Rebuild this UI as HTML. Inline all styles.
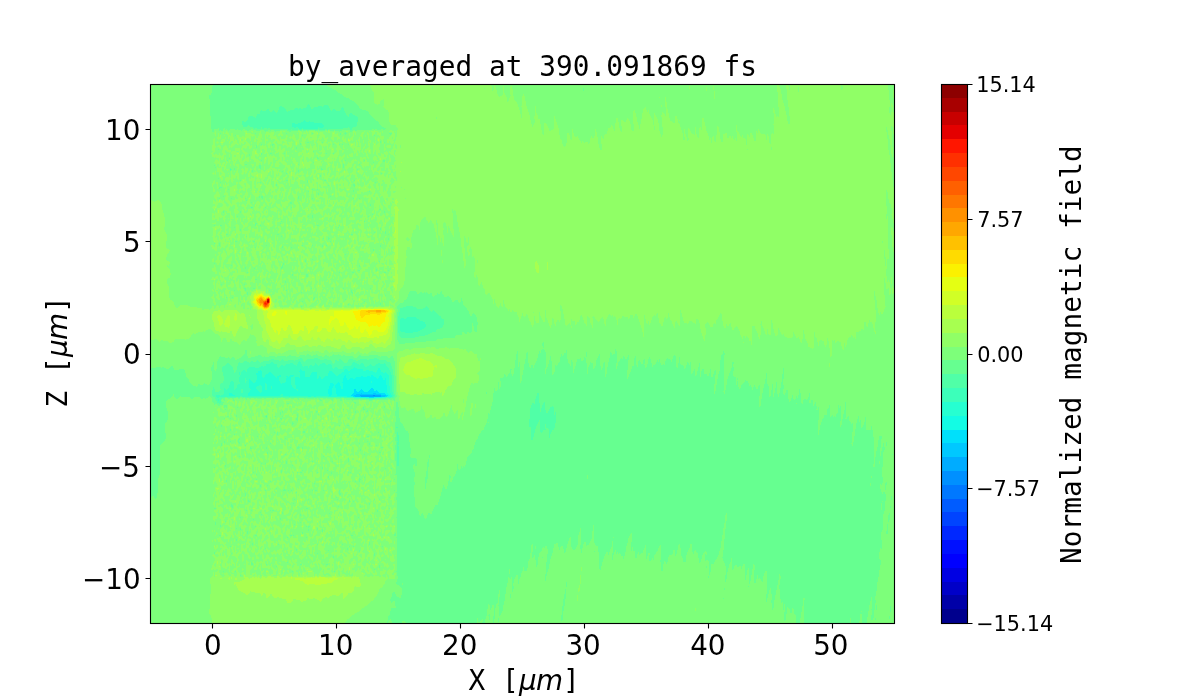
<!DOCTYPE html>
<html lang="en"><head><meta charset="utf-8"><title>by_averaged at 390.091869 fs</title>
<style>html,body{margin:0;padding:0;background:#fff;overflow:hidden}svg{display:block}</style></head>
<body>
<svg width="1200" height="700" viewBox="0 0 1200 700">
<rect width="1200" height="700" fill="#fff"/>
<g id="heat">
<rect x="150" y="84" width="744" height="539" fill="#7dff7a"/>
<g shape-rendering="crispEdges" fill-rule="evenodd">
<path fill="#90ff66" d="M211.9 623h47.1l.1-.1 .2 .1h84.8l1.8-1.5 .6-.7 .7-1 1.3-1.3 1.1-.8 1.3-1.1 .3-.3 .9-1 1.3-.7 .7-.6 .5-.3 1.2-.6 1.3-.6 1.2-.4 .5-.3 .8-.6 1.2-1.5 .1-.2 1.1-1 1.3-.5 1.2-.7v-.1l1.3-1.1 1.2-.9 .2-.2 1-.9 1.3-1.2 .1-.1 1.1-.9 1.3-.9 .5-.5 .7-.6 1.2-1.4 1.3-1.3 1-1.2 1.1-2.2 .4-1.2 .3-1 .8-2.3 1.3-1.3 1.3-.3 .5-.6 .7-.8 .7-1.5 .6-1 .5-1.2 .7-1.3 .7-1 .5-.2 1-2-.5-2.3-.5-1.1-.5 1.1-.7 1.8-1.2-.4-1.3 .1-1-1.5 1-1.4 1.3-.5 1.2-1.8 1-.8-1-1.7-1.2 .5-.9-1-.4-1.4-.3 1.4 .3 2.2-1.2 .4-.7-.4-.6-.3-.1 .3-.4 2.3 .5 1.3 .7 .9-.7 .8h-1.2l-1.2-.2-1.3-.2-1.2 .1-.5-.5 .5-.8 1.2 .6 .5-2-.5-1.1-.7-1.2-.5-1.6-.4 1.6-.9 1.6-1.2-.2-.8-1.4-.4-1.2-.7-1-.6-1.1-.7-1.1-.5-1.5-.7-.8-.6-.3-1.1-1.9 .6-2.3 .1-2.2 .4-1 1.3-.3 .9 1.3-.4 2.2 .7 1 1.3-1 1.1-2.2-.3-2.3 .4-.3 .7-1.9-.7-1.6-1.2-.7v-.7l-.1-1.5-1.2-.8-.5 .8-.7 .7-.7-.7 .7-1.7 .2-.6-.2-.2-1.2 .2-.1 .1v-.2l.3-2.1 .3-2.2 .7-1.5 .4-.8-.4-1-1.3-.9-.8 1.9-.4 1.1-.9 1.2 .9 1.9 .4 .3-.4 .8-.3 1.4 .3 .9 .5 1.4-.5 2.1-.3 .1 .3 .4 .3-.4 .9-.2 .1 .2 1.1 2.3-1.2 1.2-.8 1-.4 .6-.8 1.7 .6 2.2 .1 2.3-.8 2.2-.3 1-.7 1.3-.6 .8-.4-.8-.8-1.3-1.3-1-.5-2.2 .5-.7 1.3 .1 .5-1.7 .7-1.1 .9-1.1-.6-2.3-.1-2.2-.2-.1h-1.2l-1-2.2 1-1.2 .9-1-.7-2.3 .5-2.2-.7-.3-.6 .3 .3 2.2-1 1-.5-1-.7-1.2-.5 1.2 .5 1.7 .3 .6-.3 1-.2 1.2-1 1.7-1.3-.1-.2 .7-1 2.2 .9 2.3-.5 2.2 .8 1.6 .9-1.6 1.6-1.2 .6 1.2-.6 1.5-.8 .8-.4 .5-1.3-.1-.5 1.8 .5 1.1 1.3 .6 1.2-.9 .6 1.5-.6 2-.1 .2-1.1 1.6-.6-1.6-.7-1.4-.5 1.4-.7 1.3-.6 .9-.7 2.1-.6-2.1-.6-1.3-1.2 .4-1.3-.4-.6-.9 .6-.8h1.3l1.2-1.4 1.2-2.2 .1-.1 .5-2.2-.6-1.3-.6-1-.6-.9-1.2 .3-.3 .6-1 1.3-.7 1-.5 1.3-1.3 .5-1-1.8 .9-2.3 .1-.2 1.3-1.5 1.2-.2 .3-.3 .8-2.3v-2.2l.2-.2 .2 .2 .1 2.2 .9 .7 .9-.7 .3-.3 .8-1.9 .1-2.3-.9-1.1-.1 1.1-1.1 1.4-.4-1.4 .4-1.3 1-.9-1-1.5-1.2 .2-1.3-.6-.5 1.9-.1 2.2-.6 .4-.7-.4 .1-2.2-.7-.7-.4 .7-.8 2.1-.1 .1 .1 1.2 1.2 .4 .1 .7-.1 .5-1.2-.3-.2-.2-1-.8-1.3-.2-.6-1.3-.4-2.2-.2-.4-.4 .4-.9 .8-.5 1.4 .5 1.9 1.3-.4 .5 .8 .7 .5 1.3 1.7-1.3 1.9-1.2-1.1-.3-.8-1-1.8-.4-.4-.8-.6-1.2 .6 1.2 1.6 .2 .6 .3 2.3 .7 1.4 .5 .8v2.3l-.5 .7-1.2-.3-1.2 1.3-1-1.7-.3-.9-1.2-.6-1.3 .9-1.2-1.7v-.2l-.1 .2-.1 2.3 .2 .3 .7 1.9 .5 1.5 .8 .8-.6 2.2-.2 .8-1.2 .4-.3 1-.9 1.7-1.3-1-1.2 1.5-1.3-1.7-.5-.5 .5-.4 .9-1.8 .4-2.1 .5 2.1 .7 1.5 1-1.5-.3-2.2-.3-2.3-.4-1.3-.6-.9 .6-.6 1-1.7-1-.8-1.1-1.4-.1-1-1.3 .7-.2 .3-1 1.1-.8 1.1-.4 1.4-.3 .9 .3 .6 1.2-.2 .6 1.8-.6 1.4-1.2-.6-1.3 1-.7 .5-.5 .6-.4-.6-.9-1.5-1.2 .4-1.2-.5-.5-.7-.8-1.6-.1-.6 .1-1.9v-.4l-1.2-.3-1.3-.7-.9 1-.3 .9-.6-.9 .6-1.1 .3-1.1 .8-2.3-1.1-.5-.4 .5-.5 2.3-.3 .6-.4 1.6-.9 1.6-1.2-.1-.9 .8v2.2l-.4 .3-.1-.3-1.1-1.8-1.2 1.7-.1 .1 .1 .2 .6 2.1 .6 1.2 1.2 .2 1-1.4 .3-.9 .3 .9 .9 .9 .9-.9-.9-1.1-.8-1.2 .8-1.3 1.3-.4 .8 1.7 .4 .7 .3 1.6 .8 2.2 .1 1.5 .1-1.5 1.1-2.2-1.2-1.4-1-.9 1-1.5 1.3 1.2 .5 .3 .1 2.3 .6 .1 1 2.1-1 1.2-.6 1-.6 1.5-.8 .8-.5 1-1.1 1.2-.1 .1v-.1l-1-2.2-.2-.9-.5 .9-.5 2.2-.3 .2-.5-.2v-2.2l-.7-1.1-.5-1.2-.8-1.4-1.2-.3-1-.5-.2-.3-1.1-1.9-.2-.3h-1.2l-.2 .3-1.1 .8-.9-.8-.3-2.3h0l-1.2 1.4-1.1 .9 1.1 .4 1.2 .9 .2 .9 .9 2.2-1.1 1.5-1.2-1.5h-.4l-.9 1.2-.1 1.1-1.1 1.7-.7-1.7-.3-2.3-.3-.3-1.2-1.1-.1 1.4 .1 .2 1 2.1 .2 1.9 .4 .3-1.6 .4-.3-.4-.5-2.2-.4-1.2-1.3-.1-.4-1 .4-1.2 1.3-.1 1.1-.9 .1-.6 .2-1.6-.2-.9-1.2 .1-.7-1.5-.5-2.2 .9-2.3-1-1.4-1.2 .9-1 .5-.3 .2-.1-.2-.7-2.2-.4-.1v.1l-.7 2.2-.5 1.9-1-1.9-.3-.7-.7 .7-.2 2.3 .9 .6 .9 1.6-.8 2.3 .3 2.2 .9 1.2 1.2-.2 1.2 1 .2 .2-.1 2.3-.1 .1-.8 2.1-.4 .3-.2-.3-.6-2.2-.4-1.2-1.3 .4-1 .8-.2 .3-1.3 .6-1.2-.9h0l-1.2 1.9-.4 .3-.9 .5-.7-.5 .7-1.6 .2-.6 .6-2.3-.3-2.2-.5-.9-.6 .9-.6 2-.1 .2 .1 1.8 .1 .5-.1 .1-1.3 1.6-.6-1.7-.3-2.3 .9-1.4 .7-.8 .6-2 .1-.2-.1-.8-1.3-.6-1.1-.9 .5-2.2-.6-1.3-.8 1.3 .7 2.2-1.1 1.5-1.2-1.5-.1-.1-.5-2.1-.7-1.9-1.9 1.9 .6 .7 .6 1.5 .7 .6 .9 1.7 .3 1.3 .4 .9-.2 2.2 .1 2.3-.3 .6-1.1 1.6-.1 .4-1.3 .2h-1.2l-1.2-.6 1.2-1.2 1.2 .5 1.1-1.5-.1-2.3 1.1-2.2-.8-.6-.5 .6-.8 1.1-1.1-1.1-.1-.2-1.2-1.3-.3-.7-.9-2.3-.1-.6-.1 .6-1.1 2.3 1.2 2.1 1.3 1.3 .3 1-.3 2-.2 .3-1.1 .9-1.2 .2-1-1.1-.3-.6-.4-1.7-.8-.9-1.2-1.1-.9 2 .6 2.3 .3 2.2-1.3 .8-1.2-.6-.2-.2-1.1-1.3-.9-.9 .9-1.5 1.3 .2 .5-1-.5-1.6-1.3 .7-1.2 .5-.5-1.8 .1-2.2-.8-2-.9 2-.3 2.2 1.2 1.5 .9 .7-.1 2.3 .4 2.2-1.2 .8-.4-.8-.9-1.3-1 1.3-.2 .3-.7-.3-.6-.8-.2-1.4-1-1.4-1 1.4 1 2.2h.2l-.2 .1-1.2 .8-1.1-.9 .8-2.2-1-1.6-1 1.6-.2 .9-1.3 .5-.5-1.4 .3-2.3 .2-.7 1.2-1.5 .1-.1 1.2-1.1 .6-1-.6-.5-1.2-.1-1-1.7-.1-2.2-.2-.5-.4 .5-.1 2.2-.7 1.6-1-1.6 .5-2.2-.7-1.2-1.2-1.1-.1-.1-.1 .1-.7 2.3 .4 2.2-.1 2.3-.1 2.2v2.2l.4 2.3-1 1.3-1.2-1.3-.1-.1-1.1-2.2 .6-2.2-.7-1.7-1.2 .9-1 .8 1 .5 1 1.7-1 1.8-.5 .5 .5 1 1.2 .3 .4 .9-.4 1.2-1.2-.4-1.3 .5-.7-1.3 .2-2.2-.7-.8-1-1.5-.3-.2-.7-2 .7-2.1 1.3 .8 .6-.9-.3-2.3-.3-1.3-.2 1.3-1.1 2.2-1.1-2.2 1.1-2.2v-.2l1-2.1-1-2.1-.1-.1 .1-.2 .7-2.1 .6-1.1 1.2-.5 .5-.6 .8-1 .8-1.3 .4-.7 .6 .7 .6 1.1 1.3 1.2v.1l1.2 .5 1.2 1.6 .1 .2 .2 2.1 1 1.1 1.2-.7 .3-.4-.3-.9-.3-1.4-.9-1.2-.7-1-.5-.9-1.2-1.4-.1-2.2 1.3-1.1 .8 1.1 .4 2.1 1.2-1.3 .6-.8-.6-.8-1.2-.3-.4-1.2 .4-.9 1.1-1.3-1.1-1.4-.7-.8 .7-1.6 1.2 1 .6-1.7-.6-1.4-1.2 .8-1.1-1.6 1.1-1.7 1.2 .8 .8 .9 .5 .6 .8-.6 .4-.4 .5-1.9 .8-1.2 1.2-.1 1.1-.9v-2.3l.1-.2 1.1-2 .2-.5 .4 .5 .1 2.2-.5 1.5-.7 .8 .2 2.2 .5 1.1 1.2 .5 1-1.6 .3-.6 1.2-.7 .7 1.3-.1 2.3-.6 1.3-1.1 .9 1 2.3-1.1 .3-.5-.3 .3-2.3-1.1-1.3-.6 1.3-.1 2.3-.3 2.2 .8 2.2v2.3l-.8 2.2-1.5 1.5-1.2-.5-.5 1.3 .5 1.7 .2 .5 .4 2.3 .6 1 1.3 .8 1-1.8-1-1.2-.8-1.1 .8-.9 .9-1.3 .3-1.1 .4 1.1 .9 1.9 1.2-1.2 .5 1.5-.1 2.3 .8 1.6 .5 .6-.5 2.1-1.2-1-1.2-.4-1 1.6 1 1.9 1.2-1.2 .7 1.5-.3 2.3 .8 1.3 1.3-.5 1.2-.2 1.3 .7 1.2-.8 .9 1.7 .3 1.1 .6-1.1 .6-2.2-1.2-1.3-1.2-.3-1.2 1.3-.9-2-.4-1.6-.5-.6 .5-1.1 1.3 .2v.9l1.2 1.7 .6-1.7-.6-1.5-1-.8 1-1.8 1.2 1.4 .1 .4 .9 2.3 .3 .4 .5-.4 .7-.6 .5-1.7 .8-1.7 .7-.5-.7-1.1-1.3-.1-1.2 1.8-.6-.6-.7-2.2v-.1l-1.2-2.2-1.2 1.1-.7 1.1-.4 2.3-.2 .8-1.2 .4-.6-1.2 .2-2.3-.9-2.2-.6-2.3 .6-1 .8-1.2 .5-1.6 .2-.7-.2-.8-.3-1.4 .3-.9 1.2 .5 1-1.8 .3-1.8 1 1.8 .2 .6 .3 1.6 .3 2.2 .6 1.1 1.3 .3 .4-1.4 .1-2.2 .7-1.2 1.3-.2 .5 1.4 .5 2.2 .2 .3 .5-.3 .7-.9h1.3l.8-1.3 .4-2.2-1.2-.7-.4 .7-.9 1.5-1-1.5-.2-.8-1.2 .2-1.3-.6-1-1.1-.2-.4-.8-1.8 .8-2.1 .4-.2-.4-.2-1-2-.3-1.1-1.2 .5-1.2-1.7 1.2-1.8 1.2 1.4 .6-1.8 .7-1.4 1.2 .3 .6-1.2-.6-.6-.8-1.6-.4-1.1-.2-1.2 .2-1.6 1.2 1.5 1.3 .1 1.2-.8 1.2 .8v.4l.1-.4 .4-2.2-.5-1-.4-1.3 .4-1.6 1.3 .2 .4 1.4 .8 1.4 .9 .9 .4 1.8 .3-1.8v-2.3l-.3-1.3-1.3-.1-.8-.8 .1-2.2-.5-1.1-1.3-.4-1.2 .1-1.2 1.3-.6 .1-.7 .2-.8 2 .1 2.2-.5 2.1-.2 .2-1.1 .5-.9 1.7 .9 1.7 .9 .6-.6 2.2-.3 .5-1.2 .1-.2-.6-1-1.5-.9 1.5-.4 .4-1.2 .1-.4-.5-.9-.9-1.2-.7-.2-.6v-2.3l.2-1.3 .3 1.3 .9 1.4 .9-1.4-.9-1.2-.9-1-.3-1.6-.2-.7-1-1.1-.6-1.1-.7-.8-.6 .8 .2 2.2 .4 .5 1.3 .8 .8 1-.8 .5-1 1.7-.3 .9-.9 1.4-.3 .6-.2-.6-1.1-1.6-.9-.7-.3-.7-1.2 .1-1.3 .5-1.2-1.4-1.3 1.3v.2l-.5 2.3-.5 2.2-.2 .8-.6 1.5 .2 2.2 .4 1.2 .6-1.2 .6-1.9 .5 1.9-.3 2.3-.2 .2-1.2 1.5-1.2 .1-.3 .4 .2 2.3-.9 2.2-.3 1.3-.3 1-.6 2.2-.2 2.2-.1 1.4-.9 .9-.4 .2v-.2l-1.2-1.7-.4-.6v-2.2l-.8-.7-.3 .7-.5 2.2-.5 2.3 .5 2.2-.5 1.3-.7-1.3-.5-1.2-.4 1.2-.9 1.8-.5 .5-.7 .5-.4-.5 .2-2.3-.4-2.2v-2.3l-.6-.5-.5 .5 .3 2.3-.6 2.2-.5 1.2-.3-1.2-.9-1.8-.6-.4 .6-1.4 .5-.9-.5-1-.8-1.2 .2-2.2-.7-2.3h0l-.8 2.3 .6 2.2 .2 2.2-1.1 2.3 1.1 .7 .5 1.5 .5 2.3-.5 2.2 .8 1 1.2-.8 1.3 1.1 .6 1 .6 .7 .6 1.5-.6 1-.7 1.3 .4 2.2-.2 2.3-.7 .9-1.3 .5-.7 .8-.5 .5-1.3 1-.4 .7 .4 1.2 .9 1.1-.9 .9-.6-.9-.6-.6-.5 .6 .5 1.1 .4 1.1-.4 .7-1.2-.5-.3-.2-1-1.6-.3-.6-.9-1.4-1.3 .6-1.6 .8 .4 1 .2 1.2-.2 .3-1.2 .8-1.3-.7-.9-.4-.3-.1-.8-2.1-.5-1.3-.4-1 .4-1.7 1.3 .1 .5-.6 .4-2.2-.9-1.1-1.2-1.2 1.2-.7 .8-1.5-.6-2.3 1-1.5 .8 1.5 .2 2.3-1 2.2v.1l.2 2.2 1.1 1.4 1.2-.2 .9 1 .3 .4 .5-.4 .8-1 .5-1.2 .7-1.8 1.1 1.8-.9 2.2 .6 2.2 .5 1.2 .4-1.2 .8-2.1 .1-.1-.1-.2-1.1-2 1.1-2.3-1.2-2-1.3 1.6-.7-1.8 .3-2.3 .4-1.2 1-1 .3-1.3 .1-1 1.1-2.1v-.4l-.6-2 .5-2.2-1.1-1.9-1.1 1.9-.2 .1-.1-.1-1.1-2-.2-.3-1.1-1.8-.4-.4 .4-1 .4-1.2-.4-.5-.5 .5-.7 1-.8-1-.4-.6-1.3-.9-.5-.8-1.4-2.2-.6-.7-.7 .7-.5 .4-.6-.4-.6-.9-.6 .9 .6 .5 .5 1.7 .7 2.1 1.2-.5 .2 .7 1.1 1.7 1.2 .1 1.3-.5 .3 .9 .3 2.2-.6 .5-.2-.5-1.1-1.8-1.2 .6-.6 1.2 .6 2.2 1.2-.8 .7 .9-.7 .7-1.2-.6-.4 2.1-.9 .8-1.2-.5h-1.2l-1.3 1.3-.3 .7 .3 1.7 1.3-1 1.2 .7 .6 .8-.6 1.2-1.2 .4-1.3-1.1-.2-.5-1-.7-1.3-1.1-.8 1.8 .8 1.3 1 1 .3 .4 .5 1.8-.5 1.3-.5 1-.8 1.1-.6 1.1-.5 2.3-.1 .1-1 2.1 1 1.4 .8-1.4 .4-.9 .5 .9 .8 1.1 1.2-.3 .5-.8 .8-.4 1.2-.3 .6 .7-.6 .3-1 1.9-.2 .4-1.3 .4-.9 1.5-.2 2.2-.1 1.6-.3-1.6-.2-2.2-.8-2-.5 2-.1 2.2-.6 1.5-1.2 .1-1.2 .7-.1 2.2 .6 2.3 .6 2.2 .1 1v3.3l-.1 .2v2.3l-.2 2.2-.9 2.2 .3 2.3 .2 2.2v2.3l-.1 2.2-.2 2.3-.3 2v.2l-.6 2.3v2.2l.6 .4 1.3 .9 .4 1 .4 2.2 .1 2.3zM234.3 576.4l-.3-.6-.7-2.2 .8-2.3 .2-.7 1.3-.6 .8 1.3 .4 1.8 .5 .5-.5 1.1-.2 1.1-1 .9zM248 572.1l-.6-.8 .6-1.2 .6 1.2zM267.8 574.3l-.7-.7 .7-.6 .8 .6zM296.3 576l-.5-.2 .5-.8 .2 .8zM307.5 575.2l-1.3-1.6 1.3-1.3 .8 1.3zM310 576l-.7-.2 .7-.5 .6 .5zM322.4 575.9l-.4-.1 .4-.3 .6 .3zM324.8 576.3l-1.1-.5-.1-.7-.4-1.5-.8-2-.1-.3 .1-.3 1.2-1.8 .9 2.1-.3 2.3 .6 .5 .9-.5 .4-.3 1.2-.8 1.3 .3 .2 .8 1 1 1.2 .4 .5 .8-.5 .4-1.2 .4-1.2-.4-.6-.4-.7-1.2-1.2 .4-.1 .8zM339.7 576.3l-.5-.5-.7-.9-.9-1.3-.1-2.3 1-1.2 1 1.2v2.3l.2 .6 .8 1.6zM347.2 575.9l-.1-.1-1.2-.5-1.2-.8-1.3-.1-.9-.8-.3-.6-1.2-1.6-.2-.1 .2-.4 1.2-.5 .6-1.3 .6-1.5 .7 1.5 .2 2.2 .4 1.4 1.2-.2 .5-1.2 .8-2.1 .7 2.1 .5 2 1.1-2 .1-.1 .6 .1-.3 2.3 1 1.5 .9-1.5 .3-.8 .7 .8-.3 2.2-.4 .8-1.2-.3-1.3-.3-.6-.2-.6-1-1.1 1zM354.6 573.7l-.1-.1 .1-.1 .3 .1zM364.5 576.5l-.4-.7 .4-.9 .8-1.3-.8-.9-1.2-.1-1.3-.4-.8-.9 .8-1.8 1.3-.2 1.2 .6 .9 1.4 .4 1.2 1.2 .5 .3 .6 .9 .9 1.3-.3 .5-.6 .6-2.3h.1l1.2 2.3h.1l1.2 1.2 .8 1-.8 1-1.2-.2-1.3-.3-1.2 .3-1.3 .2-1.2 .1-1.1-1.1-.1-.2-.1 .2zM362 558.2l-.2-.3-1-.9-1.2-.5-.5-.9 .5-1 1.2-.7 1.2 1 .4 .7 .1 2.3zM354.6 563l-.4-.6 .4-.5 .2 .5zM350.9 556.7l-.5-1.1 .5-.2 .2 .2zM332.3 566.7l-.3-2.1 .3-.8 .4 .8zM292.6 568.2l-.7-1.3 .7-2 .2-.3-.2-1.4-.7-.8 .7-.4 .2 .4 1 .9 .9 1.3-.9 1.9-.1 .4zM248 545l-1-.6 1-1.2 .4 1.2zM254.2 531l-.1-.1-1.2-.8-1-1.4-.2-.4-.8-1.9 .1-2.2 .7-1.8 1.2 .4 .2 1.4 1.1 1.7 1.2-1.3 1.2 1.8-1.2 1.5-1 .8-.2 2.2zM259.1 527.2l-.3-.8 .3-.5 .6 .5zM260.4 531.5l-.5-.6 .5-1.5 .7 1.5zM260.4 550.6l-1-1.7 1-1.3 .8-1 .4-.8 1.6 .8-.4 .2-1.2 1.5-.1 .6zM270.3 542.6l-.5-.4 .5-1.3 .2 1.3zM272.8 518.7l-.6-1.3 .6-1.5 .7 1.5zM220.7 556.7l-.8-1.1 .6-2.2 .2-.9 .6 .9 .2 2.2zM225.6 566.5l-.5-1.9 .5-1.7 .8 1.7zM226.9 558.1l-.3-.2-.6-2.3-.4-.8-1.1-1.4-.1-1.2-.1 1.2-.4 2.2-.7 1.4-.7-1.4-.4-2.2 .8-2.3 .3-1 1.2 .9 1-2.1 .2-.5 .3 .5 1 .9 .6 1.3-.5 2.3 .8 2.2-.7 2.3zM215.7 567.3l-.1-.4-1.1-1.3-.4-1 .4-.9 1.2-.6 .8 1.5-.7 2.3zM327.3 570.4l-.5-1.3 .5-1.2 1.3 .6 1.2-.4 .4 1-.4 1.3-1.2-.3zM339.7 568.5l-1-1.6 1-2 1.3 2zM345.9 565.9l-1-1.3 1-1.6 .4 1.6zM348.4 567.6l-1.2-.7 1.2-.7 .2 .7zM368.2 572.1l-.4-.8-.8-.8-.7-1.4 .7-1.6 .9-.6 .3-1.1 .3 1.1-.3 .6-.3 1.6 .3 1 1 1.2zM262.8 543.3l-1.2-1.1 1.2-1.8 .5-.5 .8-.6 .8-1.6 .4-1 .8-1.3 .5-.7 1.2 .2 .2 .5 .7 2.3-.9 1.8-1.2-.2-.2 .6-1.1 .8-1.2 .3-.4 1.2zM345.9 560.8l-.1-.7 .1-.5 .1 .5zM264.1 535.5l-.1-.1 .1-2.1v-.1l-1.3-.3-1-2 1-2.1 1.3 .8 .7 1.3 .5 1.1 .6 1.2-.6 1.1zM706.6 618.5l.2 1.1 .1-1.1-.1-1.1zM695.6 611.8h0l.3-2.3-.3-2.1-.2 2.1zM716.7 609.5h0l.1-2.2-.1-1.1-.2 1.1zM577.4 600.5l.4 1.7 .5-1.7 .2-2.2-.1-2.3-.6-1.7-.4 1.7-.2 2.3zM696.8 599.4l.2-1.1-.2-.5zM578.5 591.6l.5 1.8 .5-1.8 .2-2.3 .1-2.2v-2.3l-.8-.2v.2l-.4 2.3-.2 2.2zM579.7 582.6l.6 2 .4-2 .2-2.3 .2-2.2-.2-2.3-.6-1.4-.3 1.4-.3 2.3zM389 578.1l.3 .3 1.3 .9 1.2-.3 1.2-.8 1.3 1 .8-1.1 .4-2.2v-.1l.1-2.2-.1-.3-1.2-.2-.3 .5-.7 2.2-.3 1.6-.3-1.6-.9-1.6-.3-.6 .3-.4 1.2-.7 .8-1.2 .5-1.3 .6-.9-.3-2.2 .3-2.3-.6-.5-1.3 .1-.1 .4 .1 .2 .8 2.1-.1 2.2-.7 .9-1.2 .3-1.2 .2-1.1-1.4-.2-2-.1 2-1.1 1.9-.7 .3 .1 2.3 .6 .7 .9 1.5zM221.5 573.6l.4 1.7 1-1.7-1-2.2zM287.1 571.3l.5 .6 1.3 1 .2-1.6-.2-1.6-1.3 .5zM581.5 571.3h0l.3-2.2-.2-2.2-.1-.4v.4l-.1 2.2zM253.7 569.1l.5 .8 1.2 .6 1.2-.3 .6-1.1-.1-2.2 .8-.7 .9-1.6v-2.2l-.9-1.8-1.3 .8-.6 1-.6 2.1-1-2.1 .1-2.3-.2-2.2-.1-.6-1.3-.5-.7 1.1-.5 1.8-.2 .4 .2 .3 .4-.3 .8-.5 .7 .5-.2 2.3 .3 2.2 .5 1.6 1.2-1.5 .8 2.2-.8 .7-1.2 .6zM301.5 569.1l1 2.1 .5-2.1-.5-2.1-1.2-.6-.5 .5 .5 1.5zM377.9 569.1l.3 .7 1.2-.3 .3-.4-.3-.1-1.2-.7zM231.7 566.9l.1 .1 .1-.1 .2-2.3 1-2 .5 2 .7 1.6 1-1.6-1-2.2h-.2l-1-.6-.5-1.7-.8-1.6-.5 1.6 .2 2.3-.8 2.2zM286.8 566.9l.8 1.8 1.3 .1 1.1-1.9-1.1-1.5-1.3-.2zM356.8 566.9l.3 .4 .4-.4-.4-.7zM373.5 566.9l.9 1 1.3-.1 1.2-.6 .3-.3 .7-2.3 .3-.4 .8-1.8-.8-2.1-.1-.2-1-2.2 1.1-1.7 .4 1.7 .8 .9 .7 1.3 .5 1.6 .6-1.6-.6-2.1v-.1l-.3-2.3-.9-1-.6-1.2 .1-2.3 .5-1.2 .4 1.2 .8 1.4 1.3-.3 .9-1.1-.9-1.9-.2-.3-1.1-1.5-.3-.8 .3-.7 .7-1.5-.7-1-.9 1-.3 .4-.6-.4-.6-.7-.8-1.5 .1-2.3 .7-1.2 1.2-.1 1.2 1 .3 .3 1 1.4 1.2-.4 .2-1 1.1-.7 1.2-.1 .5 .8 .7 1.2 1.3-.7 .6 1.8 .6 1.7 1.3-.6 1.2-.1 .4-1-.1-2.3-.3-.2-1.2-.1-.4-1.9-.9-1.3h-1.2l-1.3 .1-1-1.1 1-.9 1.1-1.3 .2-.7 1.2 .3 .9-1.9-.9-1.5-1.2 .5-1.3 .4-1.1 .6-.1 .2-.5 2.1 .3 2.2-1 .8-1.2-.8 .2-2.2 .4-2.3 .6-2.1v-.1l1.2-1.6 1.2 .7 1.3-1 .1-.4 .1-2.2-.2-.4-.1 .4-1.2 .8-1.2 .7-1.2 .6-1.3-1.3-1.1-.8 1.1-.8 .9-1.5-.5-2.2 .9-2.1 .1-.2 .6-2.2-.7-.4-1.3-1.2-.7-.6 .7-1.3 .6-1-.6-.6-1.2-.5-.9-1.1 .9-1.8 1.1-.5 .1-.1 .4 .1 .9 .4 .6-.4 .6-.1 .7-2.1-.7-1.6-1.2 .3-1.3 .2-1.2 .1-1.1 1-.2 .3-.6 1.9-.2 2.3-.4 1.6v.7l1.2 1.6 .4 .6 .7 2.2-1.1 1.8-1.2-.4-.5 .8 .4 2.3-1.1 .9-1.3 .1-1.2 1.2 1.2 .6 1.1 1.7 .2 .8 .2-.8 1-1.9 1.2 1.1 .8 .8-.8 .2-.8 2-.4 2.1-1.2-1.4-.7 1.6 .1 2.2-.7 2.1-1.1-2.1-.1-.7-1.3 .3-.5 .4-.7 .2-1.2 1-.9 1.1-.4 1.3-.9-1.3 .9-1.8 .1-.5-.1-.7-.1-1.5-.2-2.3-.9-1.4-1.3-.6-.2 2-1 1.6-1 .7-.2 .3-.3-.3 .3-.5 .3-1.8 .9-1.9 1.1-.3 .1-.3 1.3-1.2 1.1-.8-1.1-.5-1.3-.1-1.2 .5-.9-2.1 .9-1.6 1.2-.1 .2-.6-.2-1.6-.1-.6 .1-.3 .3 .3 1 .3 .2-.3 1-.9 .8 .9 .5 1.6 .4 .6 .4 2.3-.8 2.2v.4l-.6 1.9 .6 .6 .5-.6 .7-.8 .8-1.5 .4-1.7 .3-.5-.3-.4-.8-1.9 .4-2.2-.8-2.1-1.2 .9-.4-1 .4-1.2 1.2 1 1.2-.2 1-1.9v-2.2l-1-2.1-1.2 .9-.9-1.1 .9-1.9 .2-.3-.2-1.5-.9-.8 .9-.2 .5-2 .7-2 .9 2 .4 2.1 .1 .1-.1 .3-.3 2 .3 .7 .6 1.5-.2 2.3 .8 .7 .8-.7v-2.3l.5-.9 .4-1.3 .8-.8h1.2l.3-1.5-.3-.7-1.2-.4-.8-1.1-.4-1.3-.5-1-.8-1.1-.6-1.1 .6-1.2 1.3 .4 .5 .8 .3 2.2 .4 .4 .2-.4 1-1.4 1.3 .2 .5-1-.5-.8-1.3-.7-.3-.8v-2.2l.3-.3 .9-2-.8-2.2 1.2-.6h1.2l.9-1.6-.4-2.3-.5-.8-.4 .8-.8 .9-1.2-.9 .9-2.2 .3-2.1 .2-.2 1-.4 .7-1.8 .1-2.3 .5-1.5 .5 1.5 .3 2.3 .4 1.1 .2-1.1 .5-2.3-.7-1.4-.8-.8-.4-.6-.4 .6-.9 .9-1.2 .8-1.3-.9-.5-.8 .5-1.6 .4-.7 .9-2 1.2 1.2 1-1.4-.8-2.3 .7-2.2 .4-.6 .7-1.6-.1-2.3 .6-1.1 .5 1.1 .6 2.3-.4 2.2-.7 1.9-.1 .3 .1 .6 1.2 .8 .7-1.4-.4-2.2 1-1.7 .8-.5-.6-2.3-.2-1.1-.1-1.1-.9-2.3 1-1.6 1.2-.1 1.3-.3 .5 2-.4 2.3-.1 .7-.2 1.5 .2 .2 .7 2.1 .5 .9 1.2 .5 .8-1.4 .5-1.5 .2-.8-.2-.9-.8-1.3 .7-2.3-.9-2.2 .2-2.3-.5-.5-.9-1.7 .9-1.9 .2-.4-.2-1-1.2-.1-1.2 2.2-1.1 1.2 1.1 1.5 .7 .7 .5 1.4 .7 .9-.7 .2-.7-.2-.5-.6-1.3-.2-1.2-1.5-1-2.2 1-2.3 1.2-1.7 1.3 .4 .5-.9 .7-.9 1.2 .1 .4-1.5-.4-.4-1-1.8 .6-2.2 .4-1.5 1.3 .9 .2-1.7-.2-.9-.9-1.3-.4-2.2v-.1l-1.2-1.7-1.2 1-.7 .7 .7 .9 1.2 1.4 .8 2.2-.8 .9-1.2-.5-.5 1.9-.8 2.1-1.4-2.1-1.1-1-.7-1.3-.1-2.2-.4-1.6-.7 1.6-.3 2.2 .2 2.3 .8 1.3 1.2-.4 .8 1.3-.8 1.4-.6 .8-.6 1-1 1.3-.2 .2-1-.2 .8-2.3-1.1-1.6-1 1.6 1 2.3-1.2 2-.1 .2 .1 .4 .2 1.9 1 1.3 1.1 .9-1.1 .9-.8 1.4-.4 .8-.5 1.4-.4 2.3 .9 1.7 .2 .5 1 1.4 .4 .9-.4 .7-1 1.5-.2 1.8-1 .4-.3 .1v-.1l-1.2-1.6-1.2 .3-1.3-.4-.6 1.7-.6 2.3 1.2 1.3 .6-1.3 .7-1.6 .5 1.6 .7 2.1 .1 .1-.1 .1-.4 2.2 .4 1.9 .1 .3-.1 .4-1.2 .8h-1.3l-.4 1.1 .4 1.1 1 1.1-.4 2.3-.2 2.2-.4 .9-.5 1.4-.4 2.2 .3 2.2 .6 1 .8-1 .4-2.2 .1-1 .2 1 .6 2.2-.3 2.3-.5 .7-1.3 .5-.9 1-.3 .7-.5-.7-.5-2.2 .3-2.3 .1-2.2-.4-2.2 .3-2.3 .7-1.9 .5-.3-.5-.5-.4-1.8-.9-1.5-1.2-.2-.1 1.7-1.1 1-1.3 .5-.5-1.5-.7-.8-1.3-1.2-.1-.2-.8-2.3-.3-.7-1.2 .2-.7-1.7v-2.3l.4-2.2 .3-1.5 .2 1.5 1 1.4 .4 .8 .8 2 .3 .3 .2 2.2 .8 1.2 1.2 .2 .6 .9 .7 .7 1.1-.7 .1-.7 1.2-.4 1.3-.1 .8-1.1-.8-1-1.3-.1-.7-1.1 .7-.8 .9-1.5 .4-2.2-.7-2.3 .7-1.9 .5-.3-.4-2.2-.1-.2-.4-2.1 .4-1.3 1.2 .2 1.2-1.1-1.2-1.5-1.1-.8-.1-.1-.1 .1-1.2 .7-1.2 .2-1.2-.8-1.3 2.6-1.2 1-1.3-1-1.2 .9-.6 .9 .6 1.5 1.1 .8-1.1 .9-.3 1.3 .3 1.5 .6 .7-.6 .4-.8-.4-.4-.1-.6 .1-.7 .4-.3-.4v-2.2l.3-.8 1.3-1.4h.1l-.1-.2-1.3-1.7-1.2 1.5-.5 .4-.8 .8-.4-.8 .4-1.2 .3-1.1-.3-1-1-1.2-.2-.3-1.2-2v-.1l-.1 .1-1.2 2.1-.1 .2h.1l1 2.2-1 1.4-.6-1.4-.6-1.7-1.3-.1-.6-.4-.3-2.3 .9-.9 .8 .9 .5 1 .3-1-.3-.8-.5-1.4 .5-.7 .9 .7 .3 .4 .2-.4-.2-1-.2-1.3-1-1.2-1-1-.3-.5-1.2-.8-1.2 .3-1 1 1 .8 .5 1.4-.2 2.3 .6 2.2-.2 2.3-.7 1.5-1-1.5-.3-.8-.1 .8-1.1 2-.8-2 .8-1.4 .9-.9-.9-2.2 1.2-1.8 .3-.5-.3-1.4-1.2 .2-.8-1-.5-1.4-1.2 .1-1 1.3-.2 2.1-.3-2.1-.8-2.3-.2-1.6-.1-.6 .1-.5 .4 .5 .9 .2 .4-.2 .8-1.3 1.2-.9 .1-.1 1.2-.5 .7 .5-.7 1.4-.4 .9-.3 2.2 .7 .6 .2-.6 1-1.2 1.3-.2 1-.8 .2-.5 .3-1.8 .9-.9 1.3 .1 .2 .8 .9 2.3 .1 1.8 .3-1.8 1-2.1 .4-.2 .8-.8 .1-1.4v-2.2l-.1-.2-.2 .2-1 1.2-1.3-.1-1.2 .2-.5-1.3-.4-2.3-.4-.9-.8 .9-.4 .6-1.2 1.6-1.3-1-1.1 1.1h-.1l-1.3 1.8-.5 .4-.7 1.4-1.2-.2-.3-1.2 .3-1.2 1.2 .1 .3-1.1 .3-2.3 .5-2.2-1.1-1.5-1.2-.4-1.3 .6-.7 1.3 .7 1.6 1.3-.2 .6 .8-.6 1.6-1.3-.8-1.2 .6-1.2 .9h-.1l-1 2.2v2.2l.6 2.3 .4 .2 1.2 2-.9 2.3-1.1 2.2-.4 1.2-.6 1.1-.6 1.4-.3 .8 .3 .3 1.5 2-.3 .2-1.2 1.4-1.3 .6-1.2 2.2-.7-2.2-.6-1.4-.4-.8 .4-2.1 .1-.2-.1-.1-.2 .1-1 .4-.5-.4-.7-.6-1.3-1.5-.1-.1-.9-2.3 .6-2.2 .4-2.1 .8-.2 .5-.1 1.2-1.2 .3-.9 .9-2 1.3 1.5 .3-1.8 .9-1 1-1.2-1-2-.4-.2-.1-2.3 .5-1.2 .4 1.2 .9 1.1 .7-1.1 .5-.9 1-1.3-.4-2.3 .6-.8 .7 .8 .6 .8 .4-.8-.4-1.2-.4-1-.9-1.3-.9-1 .5-2.2 .4-1.3 1.1 1.3-.1 2.2 .3 .7 .9 1.6 .3 .3 .2-.3 .9-2.3 .2-.6 1.1 .6h.1l1.2 1.7 1.3 2.6 1.2-1.3 .9 1.5-.9 2-.5 .3 .5 .3 1.3 1.1 .9-1.4 .3-1.2 .5-1.1 .7-1.2 .6-1 .7-2.2v-.1l1-2.2-.3-2.3 .5-.8 .9-1.4v-2.3l.4-1.6 .1-.6 1.1-2.2 .1-.1 1.1-2.2v-.1l1.3-1.6 .7-.5 .5-1.3 .4 1.3 .9 1.5 .5 .7 .7 .6 1.2 .6 1.2-1.2 1.1-2.2-.3-2.3-.7-.6-.4 .6-.5 2.3-.4 .7-1.2 .2-1.2-2.7-.6-.5 .6-.9 .6-1.3-.6-.3h-1.3l-1.2-.3-1.3 .3-.7 .3-.5 1.6-.3-1.6-.9-.7-.7 .7 .3 2.2 .4 1.9 1.2-1.4 .3 1.8-.3 .7-1.2-.6-1.3 1.4-1.2-1.5v-.9l-.1 .9-.3 2.2-.9 1.9-.2 .3 .2 .3 1.3 .2 1.2 .6 1 1.2-1 .9-1.2 1-.3 .3-1 .8-.8 1.5-.3 2.2-.1 .2-1.2 1.5-1.3-.4-.6 1-.5 2.2-.1 .1-.1-.1-.9-2.2-.3-.9-1.2 .1-1.2-1.5v-.4l-.6-1.8-.7-.4-.4 .4-.8 1.1-.9-1.1 .9-.9 .5-1.4 .7-1.2 .7 1.2 .6 1.9 .4 .4 .8 .4 .5-.4-.5-1-.4-1.3-.3-2.2-.5-1-.9-1.3 .9-1.5 .7 1.5 .5 .9 .5-.9-.1-2.2-.4-.4-1.2-.3-.5-1.5-.8-1.4-1.2-.2-1.2-.7 .4-2.2-.5-.7-.7 .7 .7 2.2v.2l.3 2.1-.3 .7-.3-.7-.9-1.3-.7 1.3 .5 2.2-.5 2.2v2.3l.7 1.4 .5 .8 .6 2.3-1.1 1.2-1 1-.2 .7-.5 1.6 .5 .6 1 1.6-1 2-.2 .3-1.1 1.8-1.2-1.7-1.3 .6-2.4 1.4-.2 .1 .2 .7 .3 1.6 .9 1 .5-1 .7-.9 .6 .9 .2 2.2-.8 1.4h-1.2l-.6 .9v2.2l-.5 2.2-.1 .4-.3-.4-1-1.5-.5 1.5-.7 1.5-.4 .8-.6 2.2-.3 .7-1.2 .3-1.2-2-1.3 .3-.9 .7-.3 .4-1.3 .9-.5 1v2.2l.5 2 1.3-1.2 .1-.8 .5-2.2 .6-1.5 1.3 .4 .5 1.1 .7 .8 1.2 .8 1 .6-1 1.3-.5 1 .5 .4 .7 1.8-.5 2.3 .2 2.2 .9 1.5 .6-1.5 .6-1.4 .6-.8 .7-1.2 .2 1.2 .7 2.2 .3 .2 1.1 2.1-1.1 1.9-1.9-1.9-.6-.7-.5 .7 .4 2.2 .1 .5 1.3 .4 1.2-.4 .5 1.7 .7 1.6 1.3-1 .6 1.7-.6 1.3-1.3-.1-1.2 3-.2 .3 .2 .9 1.2 1.1 .4 .2 .9 1.2 .2-1.2 .8-2.2 .2-1.5 .4-.8v-2.2l.7-2.3-1-2.2 .3-2.2 .9-1.3 .8 1.3 .4 1.3 .5 .9-.5 2.2 1.2 1 1.1-1-.4-2.2 .6-.9 1.2-1.3h.1l1.2-.9 1.2-1.1 1.2 2v.3l1.1 1.9 .1 2.2 .1 .1 .9 2.2 .3 .5 .4-.5 .9-.7 .7 .7 .5 1.1 1.2-.5 1.2 1.6-.1 2.3 .2 .3 .1-.3 1.1-1.9 1.3 1 1.4-1.4-.2-.1-1.2-1-.6-1.1 .6-1.3 .5-1-.5-1-1.3 .3-1.2-.7-1.3-.3-.1-.5 .1-.4 1.3-.8 1.2 .6h1.3l1.2-.2 .5 .8 .7 2.2-.4 2.3 .4 1.5 .5 .7-.5 1.5-.1 .8-.3 2.2-.8 .3-.4 2 .4 1.8 1.2-.7 .8-1.1 .5-1.2 .4 1.2 .8 .8 .7-.8 .6-1.6 .5 1.6-.5 1.4-.3 .8 .3 .7 .6 1.6-.6 1.9-.8 .3 .2 2.3 .6 .3 .1-.3 1.1-1 1.2-.2 .5-1.1 .8-.6 1.2-1.3 1.3 1.3 1.2-.7 .6 1.3-.1 2.3 .2 2.2-.7 1.1-.4 1.1 .4 .7 .9 1.6-.1 2.2-.8 1.9-1.2-1.2-1.3-.7-.9-2.2-.3-.8-1.3-.8-1.1 1.6-.1 .7-1.2-.6-1.3 1.4-.5 .7 .5 1.9 .2 .4 1.1 1.3 1.2 .3 1.2-.4 .9 1 .4 .6 1.1 1.7 .1 .7 1.1 1.5-1.1 .8-.2 1.5-.7 2.2-.3 2.2v.1l-.7 2.2-.6 1.5-.5 .8-.7 .9-.9-.9-.3-.6-1.3-.5-1.1 1.1 1.1 2.2 1.3-.9 .2 .9-.2 .4-.7 1.8-.2 2.3-.4 .4-.3-.4-.5-2.3-.4-.6-.5-1.6-.8-1.9-.1-.3-1.1-1.9-.5-.4 .5-.6 1.2-.6 1.3-.6 .8-.4-.8-1.5-1.3 1.4-1.2-.6-1.2 .3-.9-1.9 .8-2.2 .1-.1v.1l1.2 .5 1.2 .2 1.3 1.1 1.2-1 .5 1.4-.3 2.3 1.1 1.3 1.1-1.3 .1-1.4 .2-.9-.2-.3-1.2-1.2-.8-.7-.5-.4-1.1-1.9-.1-.6-.2 .6-1.1 1.7-1.2-1.4-.2-.3 .2-1.4 .1-.8 .4-2.3-.5-.9-.3 .9-.9 1.3-1.3-1.3-1.2-.8-.4 .8 .4 .4 .6 1.9 .6 1.6 .6 .6-.6 .8-1.2 .4-.6-1.2-.7-1.1-.6 1.1 .6 2.3 .4 2.2 .4 2.3 .5 .2 1 2 .2 2 .1 .3 1.2 1.2 .4 1-.4 2-.1 .2 .1 .6 1.2 1.1 .4 .6 .8 1.3 1 .9-.5 2.3-.5 .6-.5 1.6-.7 1.6-1.2 .1-.7-1.7 .2-2.2 .5-1.2 1.2-.9 .2-.2-.2-.4-1.2-1-.7-.8-.6-.3-.4 .3-.5 2.2-.3 .5-.4 1.8 .4 .9 .6 1.3-.6 1.9-.6 .4-.7 .7-.2-.7-1-1.5-.8 1.5-.4 1.6-1.3-.9-.6-.7 .6-1.8 1.2-.5-1.2-.4-1.2-1.8 1.2-.9 1 .9 .3 2.2 .5-2.2 .7-1.2 .6-1.1-.6-.7-.4-1.5v-4.5l.4-.7h1.2l.5 .7 .8 1.9 .4-1.9-.4-1.1-.6-1.1-.7-1.3-1.1-1-.1-.6-.1-1.6-1.1-2-1.3 .5-1.2 .6-.7-1.4 .7-1.8 .1-.4 1.1-2.1 .2-.2-.2-.7-.2-1.5-1-2.1-.4-.2-.9-.7-.4 .7-.8 .8-1.2 .5-.6-1.3 .6-1 .9-1.2 .3-1.2 1.2 .4 1.3 .2 .2-1.7-.2-.9-.6-1.3-.4-2.3-.3-.2-.9-2 .3-2.2-.6-1.1-.7-1.2 .7-.9 1.2-.1 1 1-.5 2.3 .6 2.2 .2 .6 1.1 1.6-.7 2.3 .8 .8 .6-.8 .4-2.3h.3l1.2 1.1 1.2 .3 .8-1.4 .5-.5 .8-1.7-.8-1.7-1.3-1.3-1.2-.1-1.2-.6-1.1-.8-.2-.2-.5-2-.3-2.3 .7-2.2-1.1-.8-1.3 .3-.5 .5-.7 1-1.2 .6-.6-1.6 .6-1.3 .4-1 .8-1.7 .6-.5-.6-.7-1.2-1.5-.9 2.2-.4 1-.7 1.2-.5 1.2-1.3-.9-.1 2-.4 2.2-.7 1-.6 1.3-.6 2.2 1.2 .1 .2-.1 1-.9 1.3-.7 1.2 .9 .7 .7-.7 1-.3 1.3 .3 1.3 .8-1.3 .5-1 .5 1 .2 2.2-.7 1.1-1.3 1.3-1.2 1.4-.8 .7-.5 .3-.1-.3-1.1-1.7-1.2 1.1-.2 .6 .2 .8 1.2 .8 .4 .6 .6 2.3-.8 2.2 1 .8 1.3-.5 1.2 1.8 .2 .2-.2 .9-.6 1.3-.6 1.7-.5-1.7-.8-.5-.5 .5-.7 .8-.8 1.5 .8 1.2 .5 1 .5 2.3-1 .8-1.2-.8h-.1l-1.2-.4-.3 .4-.9 1-.8 1.2-.5 .8-.7-.8 .1-2.2-.6-1.5-1.2-.1-1.3-.1-1.2 .4-.8-1 .8-2 1.2 .5 .5-.7-.5-.5-1.2 .2-1.3 .2v.1l-1.2 1.5-1.2-.8-.4-.7 .4-.6 1.2-.4 .7-1.3 .5-1.8 1.3 .3 .5-.7-.5-.7-1.3 .2-.5-1.8 .5-1.6 .9-.6-.6-2.3-.3-.6-1.2-1.2-.3 1.8 .2 2.3-1.1 1.7-.4 .5-.5 2.3 .4 2.2-.8 1.4-.5 .9 .5 1 .8 1.2v2.3l.5 .2 .1-.2 1.1-1.6 1.2 .4 .5 1.2-.2 2.2 1 .6 .8 1.7-.8 .6-1 1.6 .3 2.2-.6 1.4-.3 .9-.9 .8-1.2 .8-.3 .6 .3 1.2 .1 1.1-.1 1.4-1.3-1.1-.1-.3-1.1-1.3-1.3 .4-1.2-.8-1.2 .2-1-.8 1-.3 1.2-1.3 .2-.6 .8-2.3-1-.6-1.2-.7-1.3 1-.6-1.9-.6-1.3-1.3 1-1.2-1.3-.3-.6 .3-.3 1.1-2-1-2.2-.1-.7-.2 .7-.8 2.2-.2 .9-.3 1.4 .3 1.2 .6 1 .6 1.4 1.2-.7 .7 1.5-.7 .6-2.4 .2-.8-.8-.5-.6-1.2-.9-.5 1.5-.4 2.3 .4 2.2-.8 1.1-1.2-.2-1.1 1.4 .7 2.2 .4 1.2 .5-1.2 .7-1.1 .5 1.1-.5 1.2-.7 1.1 .5 2.2-1 .8-.6 1.5 .6 1.2 .8-1.2 .4-1.8 .3-.5 1-.5 .7 .5-.7 2.2-.1 .1-.9 2.2-.3 .3-1.1 2 1.1 1.4 1.3-.8 .2-.6 .8-2.3 .2-.7 1 .7 .1 2.3 .2 .6 .4 1.6 .2 2.3 .6 .6 1-.6-.5-2.3 .7-1.4 1.3-.3 1.2 .8 .8-1.3 .5-.7 .8 .7-.6 2.2-.2 .1-1.1 2.2-.2 1.9-.3-1.9-.9-1.5-1.1 1.5-.2 .6-.2 1.6-.4 2.2-.4 2.3 1 .8 1.3 .4 .7 1 .4 2.3 .1 .2 1.3 1.3 1.2-.6 .6 1.3 .1 2.3 .5 1.6 .6-1.6 .7-.9 1.2 .6 .6-2 .7-1.4 .5-.8-.5-.4h-1.3l-.1 .4-1.1 1.6-.9-1.6 .7-2.3-1.1-.5-.7-1.7 .7-1.8 .3-.5 .2-2.2 .8-1.4 1-.8 .2-.2 .6 .1 .3 2.3 .4 .6 .6-.6 .6-1.8 .5-.4-.5-.3-.7-2 .7-1.4 1 1.4 .2 1.4 .3-1.4 .3-2.2-.6-1-1.2-.1-1.2 .8-.9 .3h-.4l-1 2.2-.2 1.1-1.1 1.2-.2 .2v-.2l-.6-2.3 .6-.5 .8-1.7-.6-2.3 1.1-1.3 .5-.9 .7-1.6 .8 1.6 .5 .8 1.2 .3 .2-1.1-.2-1.2-.8-1.1 .8-.6 .5 .6 .7 .6 .7-.6 .2-2.2 .4-1.2 .4 1.2 .8 1.6 .5-1.6 .8-1.8 .4-.5-.4-.4-.7-1.8-.6-.8-1.2-.6-.2-.9 .2-.3 1.2-.8 1-1.1-.5-2.3 .7-2.2-.5-2.2-.2-2.3 .8-1.2 .9 1.2-.4 2.3-.4 2.2 .5 2.2v2.3l.6 .8 1.2-.1 .7 1.5 .5 2.3 .1 .4 .5-.4 .7-1.1 .6-1.2-.6-1.5-.3-.7 .3-.3 1.3-1.4 .7 1.7-.6 2.2 .6 2.3v2.2l.5 1.6 1.2 .5 .5-2.1 .8-1 1.2-.6 .8 1.6-.8 1.9-1.2 1.6-.8 1-.5 .5h-1.2l-1.2 1.8 1.2 2.2 1.2-.9 1-1.3 .3-.8 .2 .8 1 2 .2 .2 .6 2.3 .5 1.9v.3l1.2 1.4 .5 .9 .7 2 1.3 .1v.1l1.2 2 .9-2-.9-.9-.8-1.3 .8-1.3 1.1-1-1.1-1.2-.7-1-.5-1.1-.7-1.2-.6-1-.5-1.2-.7-1.8-.8 1.8-.4 1-.5-1-.8-2.2v-.4l1.3-1.3 1.2 1.1 1.2-.8 .9 1.3v2.3l.4 .6 .6-.6 .6-.4 1.3-1.6 1.1-.3h.2l.7 2.3 .4 1.9 .2 .3 1.1 .5 .5-.5 .6-2.2 .1-.8 1.3 .1 .6-1.6 .6-1.2 1.2-.3 1-.7v-2.3l.3-.7 .2 .7 .1 2.3 .7 2.2-.4 2.3 .6 1.6 1.3 1.3 1.1-.7-1.1-1.3-.4-.9 .4-.6 1.2-.7 .2 1.3 2.2 2.2 .1 .3 1.2 .2 1.1-.5 .2-.1v.1l1.2 2.1 1.2-.9 1.3-.2 .8-1 .4-1.8 .6 1.8-.6 2.2v.1l-.9 2.2-.3 .6-.6-.6-.7-.6-1.1 .6 .3 2.3-.4 .4-.5 1.8 .5 1.6 .3 .6-.3 1.6-.9 .7 .9 .4 .2-.4 1-.8 .6 .8 .7 1.1 .5 1.1 .7 1.9 .3 .4-.3 .5-.5 1.7-.7 1.5-.8 .8-.5 .8-.6 1.4 .6 .8 1 1.5-.8 2.2-.2 .5-.3-.5-.9-1.3-1 1.3 1 1.6zM381.9 538.8l-.6-1.1-.7-1.8-.4-.5-.8-1.4-.8-.8 .7-2.3 .1-1 .1 1 1.1 .8 .8-.8-.8-1.7-.9-.5 .9-.3 1.1 .3 .2 .1 .3 2.1 .1 2.3 .6 2.2 .2 2.3zM389.3 540l-.2-.1 .2-.1 .6 .1zM372 509l-.3-.5 .3-.5 .1 .5zM379.4 477.9l-1-.9 1-.8 .5-1.4 .7-1.1 .8 1.1 .4 2.2-1.2 .9zM385.6 451.7l-.6-1.6 .6-1.2 1 1.2zM389.3 439.7l-.2-.9 .2-1.9 1.3 1.7v.4zM383.1 455.7l-.6-1.1-.1-2.3 .7-1.2 1.2 1.2v2.3zM368.2 465.8v-.4l.1 .4zM370.7 471.9l-.6-1.6-.6-.9-.7-1.4 .7-1.3 1.2-.1 .3-.8-.3-.6-.8-1.7 .8-1.8 .3-.4 1-1.4 .8 1.4-.8 .8-.8 1.4 .8 1.4 1.2 .8 .1 .1 .2 2.2-.3 1.2-.6-1.2-.6-.6-.5 .6 .4 2.3zM374.4 459.5l-.4-.4 .4-.5 1.1 .5zM353.4 439.6l-.4-.8 .4-1.2 .4 1.2zM341 430.9l-.9-1 .9-1.6 .6 1.6zM343.4 411.8l-.8-2.2 .8-1.5 1 1.5zM345.9 421.6l-.9-.7 .9-1.3 .7 1.3zM353.4 424.7l-.9-1.6 .9-1.8 1 1.8zM355.8 422.6l-.3-1.7 .3-1 .5 1zM338.5 462.7l-.6-1.4 .6-2.2 .9 2.2zM344.7 458.2l-.5-1.4 .5-1.4 .6 1.4zM345.9 454.6l-1.2-.9-1.3-.8-.1-.6 .1-.3 .9-1.9 .1-2.3 .3-.4 1.2-.3 1.2 .7 .1 .1 1 2.2-.2 2.2 .4 .3 .6 2-.6 1.6-1.2-.9zM349.6 451.5l-1.1-1.4 1.1-1.2 1.2 1.2zM352.1 460.3l-.7-1.2 .7-.7 1.3-.7 .5 1.4-.5 1zM354.6 457l-.1-.2 .1-.2zM369.5 495.9l-.3-.9 .3-.7 .5 .7zM362 518.5l-.5-1.1 .5-.8 1 .8zM348.4 491.4l-.3-.9 .3-2.1 .4 2.1zM355.8 487.4l-1.2-1.4 1.2-1.5 .6 1.5zM345.9 477.2l-.2-.2 .2-.1 .2 .1zM344.7 497.1l-1.1-2.1 1.1-1.6 .3-.7 .9-.8 1.3-.1 .7 .9-.7 .7-.8 1.6-.5 .7zM313.7 524.3l-.1-.1 .1-.3 .1 .3zM314.9 522.4l-.3-.5v-2.2l.3-.6 .2 .6 .2 2.2zM317.4 536.2l-1.2-.8 .7-2.2 .5-2 .6-.3-.6-.1-1.2-.1-.6-2 .6-1.7h1.2l1 1.7 .2 1.7 1.3-1.1 1.2 1.5 .6-2.1-.6-1.3-1.2 .3-1.1-1.3 .9-2.2-.7-2.3 .9-1.7 .5-.5 .7-1.7 .4 1.7-.4 1.9-.1 .3-.5 2.3 .6 .1 .7 2.1 .6 .7 .5-.7 .7-1.1 .7 1.1 .5 1.5 1.3-1.3 .2 2.1-.2 .2-.8 2-.5 .9-1.2-.7-1.2 2.1-1.3-1.8-.4 1.8-.6 2.2-.2 .9-1.3 .1zM321.1 549.3l-.1-.4 .1-.2 .4 .2zM322.4 545.7l-1.2-1.3 1.2-.7 1.2-.3 .7 1-.7 1.8zM329.8 527.1l-.9-.7 .9-.4 .8 .4zM337.2 519l-.5-1.6 .5-.9 .4 .9zM338.5 515.9l-.5-.7 .5-1 .7 1zM341 517.2l-.8-2-.5-1.2-.4-1 .4-1.4 1.3 1 .1 .4 .9 2.2zM343.4 524.4v-.3l.1 .1zM344.7 522.7l-.3-.8-.5-2.2-.5-1.6-.2-.7-.8-2.2 .8-2.2 .2-2.3v-.6l.3 .6 1 .9 1.2 .4 .8 1 .2 2.2 .3 1.2 .4 1 .5 2.3-.9 1.3-1.3 .1-.8 .8zM348.4 538.8l-1-1.1 1-1.9 1 1.9zM349.6 527.2l-.8-.8-.4-2.2 .5-2.3-.1-2.2 .1-2.3-.5-1.2-.7-1 .7-1.1 .9-1.1 .3-.6 1.2-1.7 .1-.5 .1 .5 1.1 1.3 1.3-.2 .6 1.2-.6 1.2-.8 1-.5 .6-1.2 .1-.5 1.5 .5 1.8 .3 .5-.3 1.8-.2 .4 .1 2.3-.6 2.2zM374.4 533.9l-.4-.7 .4-1.9 .9 1.9zM376.9 549.6l-.5-.7-.7-.9-.6-1.4 .3-2.2 .3-.5 .5 .5 .7 .6 1.3 .2 .4 1.4-.4 1.2-.7 1.1zM381.9 528.5l-.3-2.1 .3-1.6 .2 1.6zM372 458.2l-.8-1.4 .8-1.1 .5 1.1zM317.4 525.4l-.6-1.2 .6-.8 1 .8zM343.4 504.1l-.1-.1 .1-.5 .7 .5zM344.7 509.3l-.6-.8v-2.3l.6-2.1 1.2 .9 .7-1 .6-1.9 .1-.4 1.1-.8 .7-1.4 .5-1.6 .4 1.6 .6 2.2-1 1.5-.8 .8-.1 2.2 .1 2.3-.4 1.3-1.2 .4-1-1.7-.3-.5-.4 .5zM381.9 521.8l-1.1-2.1 1.1-2 1 2zM380.5 566.9l.1 .6 1.3-.4 .4-.2-.4-.3-1.3-.6zM383.5 566.9l.9 .8 .4-.8 .8-.8 .6 .8 .6 .6 1.3 .2 1.2-.8-.9-2.3v-2.2l-.3-.8-.3 .8-1 1.5-1.2-.5-1-1-.2-1.1-1.3-.2-1.2 .8-.5 .5 .5 .6 1.2 .8 1 .8zM391.5 566.9l.3 .3 .3-.3-.3-.9zM244 564.6l.2 1.3 .4-1.3-.4-.7zM273.6 564.6l.4 1.2 .6-1.2-.6-1.5zM284.9 564.6l.3 .2 .1-.2-.1-.4zM302.4 564.6l.1 1.7 .3-1.7-.3-.5zM369.9 564.6l.8 .8 .7-.8-.7-1.2-.8-1-.4-1.1-.2 1.1 .2 .9zM272.4 562.4l.4 .2 .4-.2-.4-.2zM286.1 562.4l.3 .3 .1-.3 1-2.3-1.1-1-1.2 .1-.5-1.3-.8-1.6-.8-.7-.1-2.2-.3-1-.5-1.3 .5-1.1 .4-1.1 .8-2 .3-.3-.3-.2-.6-2 .6-1.4 .7 1.4 .6 1.7 .3 .5 .9 1.9 1.1-1.9 .1-.7 .5 .7 .1 2.3-.6 1.5-1.2 .6-1.2-1.6-.9 1.7 .6 2.3 .3 .2 .4-.2 .8-2.2 1.2 .3 .8 1.9 .5 .7 1.1-.7-.5-2.3 .6-.7 1.3-1.5 .3 2.2-.3 1.6-.8 .7-.2 2.2 1 1 .5-1 .7-.8 .5-1.4 .7-2.3-.1-2.2-.1-2.3 .2-.4 1.3-1.1v1.5l1.2 1.5 .8 .8 .5 .7 1.2 1.3 .3 .2 .9 .7 1.3-.2 .4-.5-.4-2-1.3 1.1-.4-1.3-.5-2.3 .7-2.2 .2-1.2 .6-1-.6-.6h-1.2l-1-1.7 .5-2.2-.7-2.2-.1-.1-1.2-1-.7 1 .7 1.2 .5 1.1-.5 1.1-1.1-1.1-.1-.2-.1 .2-1.2 1-.3-1-.9-2.3-1.2 1.9-1.2 .4v2.2l-.1 .3-.6 2 .6 .8h1.3l1.2 1.1 .1 .3-.1 .2-.9 2-.3 2.2-1.3-1.5-.9-.7 .3-2.2-.6-1.3-1.3 .4-1.2 .4-1.2-1-.6-.7-.7-1-.9-1.3v-2.2l.3-2.3-.6-1.2-.7-1-.6-.3-.7-2-.1-2.2-.4-1.3-1.2-.3-.5-.7-.8-.6-1.2-1.3-1.3 .4-1.2-.7-.9 2.2 .9 1.4 .5 .9-.5 .8-1.2 .3-1.3-.9-1.2 1.9-.3 .1 .3 .1 .7 2.2 .5 1.8 1.3-.7 .6 1.1 .6 1.4 .4 .9 .8 .6 1.3-.1 .6-.5 .6-.9 .8-1.4 .5-.7 1.2-.2 .7 .9-.6 2.3 .7 2.2-.8 1.5-.8-1.5-.4-.4-.4 .4-.9 2.2 1.3 .5 .9 1.8 .3 1.6 .7-1.6 .5-1 .4 1 .7 2.2-.6 2.3-.5 .5-.3-.5-.9-1.7-.7 1.7-.5 1.4-1.3-.2-.6 1-.6 1.3-.8-1.3-.5-1.3-1.3 1.3-1.1 1-1.3 .2-.8 1.1 .8 .9 1.3 .5 1-1.4 .2-1.6 .1 1.6 1.1 1.4 1.3-.8 1.1-.6 .1-.1 .1 .1 1.2 1.3 1.2-.1 .8-1.2 .4-.5 .5 .5-.5 2.2 .8 2.3-.3 2.2 .8 1.8 1.2-.7 1.3 .2zM296.3 545l-1.2-.6v-.2l-.5-2 .5-1.8 .5 1.8 .7 1 1.3 .2 .5 1-.5 1.1zM275.2 535.4l-.5-2.2 .5-1.7 .7-.6-.3-2.2 .9-1.2 1.1 1.2 .1 .5 .4 1.7 .1 2.3-.5 1.1-1.2-.7zM299.4 562.4l.6 .4 1.2-.4-1.2-.7zM306.9 562.4h.6l1.2 .6 .6-.6-.6-1.7-1.2 1.5zM323.1 562.4l.5 .6 1.1-.6-1.1-.6zM391.7 562.4l.1 .7 .5-.7 .7-.5 1.3-1 .9-.8-.9-1.3-.8-.9 .6-2.3-1.1-1.9-1-.3 .5-2.3 .5-.8 1.3 .2 .6-1.6-.6-1.1-.8-1.2-.5-1.9-.4 1.9-.3 2.3-.5 1-.4-1-.8-2.3-1.1 2.3-.4 2.2 .2 .7 1.2 1.6 .1 1.3 1.2-.8 .1 1.7-.1 .6-1.2-.5-1.1 2.2 .1 2.2 1 1.2zM212.6 560.1l.6 .7 .4-.7-.4-.7zM241.4 560.1l.4 1.5 1.2 .1 .9-1.6 .3-1.3 .6-.9-.6-.8-.6-1.5-.5-2.2-.1-.2-.1 .2-1.1 1.7-.2 .5 .2 .6 .4 1.7-.4 1.5zM278.6 560.1l.4 .8 .2-.8-.2-1.1zM306.1 560.1l.1 1.6 .2-1.6 .4-2.2-.6-2-.2 2zM311.8 560.1l.6 1.2 .3-1.2 .3-2.2-.6-1.1-1.2-.2-1.2-.8-.2-.2-1.1-1-.5 1 .5 1.1 .6 1.2 .7 1.1 1.2 .9zM327.2 560.1l.1 .1 .1-.1-.1-.5zM340.2 560.1l.8 .8 1.2-.6v-.3l-1-2.1-.2-.5-.2 .5zM385.2 560.1l.4 .3 .2-.3-.2-1zM274.3 557.9l.9 1.1 1.3 .6 .8-1.7-.8-1-1.3-.2zM298.7 557.9h.1l1.2 .3 1.3 1.7 1.2-.7 .9-1.3 .4-.5 1.2-1.2 1.1-.6-.6-2.2 .6-2.3-1.1-1.4-1.2 .1-1 1.3-.3 1.1-.5 1.2-.7 1.2-1.3 .3-.6 .7-.6 2.1zM302.5 556.2l-.4-.6 .4-.8 .3 .8zM303.8 553.5l-.2-.1 .2-.2 .1 .2zM321.6 557.9l.8 1.4 .8-1.4-.8-1.6zM336.7 557.9l.5 .2 .6-.2 .7-.5 1.2-1.2 .5-.6 .7-2.2-1.2-2.2-.2-.1 .2-.3 1.3-1.5v-.4l-1-2.3 1-1.1 .4-1.1-.4-1.1-1.1 1.1-.2 .7-.4-.7-.2-2.2-.6-.9-.5 .9-.8 1.8-.2 .4 .2 .9 .6 1.3-.6 .5-1.1 1.8 .9 2.2-1 1.1-.8-1.1 .5-2.2-.9-1.1-1.3 .9-.2 .2 .2 .2 .7 2-.7 .9-1.2 .6-1.2 .8 1.2 1.5 1.2-.6 .8 1.3 .5 1.1 .6-1.1 .6-.8 1.1 .8zM337.2 554.6v-1.8l.1 .6zM387.9 557.9l.2 .4 .7-.4-.2-2.3-.5-1.5-.4-.7-.2-2.3 .5-2.2-1-2.3 .3-2.2-.5-.5-.3 .5v2.2l-.9 .3-.8-.3-.4-.4-.1 .4-.5 2.3-.3 2.2 .9 1.2 .4 1.1 .8 2.1 1.2-.2 .2 .3zM385.6 552l-.6-.9 .6-.4 .6 .4zM286 555.6l.4 .9 1.2-.1 .2-.8-.2-.4-1.2-1zM313.8 555.6l1.1 .9 .4-.9-.4-.9-.7-1.3 .5-2.3 .2-.5 .6-1.7-.3-2.3 1-1.1 .4-1.1-.4-1.3-1.3 1.2-1.2 .1v.1l-1.3 .5-1.2 1.3-1-1.9-.2-2.2v-.2l-.2-2.1 .2-.3 1-1.9-1-1-1.2-1.3 .5-2.2-.6-.7-1.2 .4h-1.3l-1.2 .3 1.2 .5 1 1.7 .3 .4 .6 1.9v2.2l-.6 1-1.1-1-.2-.1-.1 .1-.6 2.3-.5 .4-1.2-2-.6 1.6 .6 1.5 .2 .7-.2 .8-1.3 .1-.5 1.3 .5 .5 1.3 .6 1.2 .6 1.2-1.5 .5-.2 .8-1.1 .2-1.1 1-1.1 1.1 1.1-1.1 1.8-.6 .4 .6 .7 .9 1.6 .4 1 .4 1.2-.3 2.3 1.1 1.1 .7-1.1 .2-2.3-.8-2.2 1.1-2h1.3l.3 2-.3 .5-1.1 1.7 .6 2.3 .5 2zM306.2 545.3v-1.2l.3 .3zM380.9 555.6l1 2.2 1.2-1.5 .7-.7-.7-2.2-1.2 .9zM395.1 555.6l.4 .3 .2-.3-.2-.3zM265.2 553.4l.1 .3 .2-.3 .7-2.3-.9-.4-1.2-.4-.4 .8 .4 .6zM294.6 553.4l.5 .8 1.2 .7 1.3 .6 1.2-1.3 .3-.8-.3-1.7-1.2 .9h-1.3l-1.2-.9zM251.1 551.1l.6 1.2 1.2 .8 1.3-1.1 .7-.9 .1-2.2 .4-1 .7 1 .5 .6 .3-.6-.3-1.6-.2-.7-1-.6-1-1.6 1-2.1 .1-.1-.1-.5-.6-1.8-.6-1.9-1.3 .7-.2 1.2 .2 .3 .9 2 .2 2.2-.5 2.2-.6 1-.7-1-.5-1.2-.6 1.2 .6 1.2 .4 1.1-.4 1zM267.3 551.1l.5 2.3 1.2-.8 1.1-1.5-1.1-1.3-1.2 .1-.2-1-1-1.8-.4 1.8 .4 1.8zM306.4 551.1l1.1 1.2 .9-1.2-.9-.8zM329.6 551.1l.2 .7 .3-.7 .3-2.2-.6-.7-.3 .7zM395.3 551.1l.2 .2 .1-.2-.1-.2zM214 548.9l.5 .4 1.2 .5 1.3-.9 1.2-1.6 .2-.7-.2-.6-.8-1.6-.4-.4-.2 .4-.6 2.2-.5 1-.4-1-.8-2.1-.8 2.1zM237 548.9l1 1 .9-1-.9-1.2zM327.2 546.6l.1 .5 .1-.5-.1-.1zM343 546.6l.4 .6 .2-.6-.2-.4zM347.6 546.6l.8 .8 .4-.8-.4-1.3zM236.8 544.4l1.2 1.4 1.3-.7 .4-.7-.4-1-1.3-.5zM243.2 544.4l1 1.2 1.2-1.2-1.2-1.7zM256.4 544.4l.2 1.7 .9-1.7-.9-.7zM331.3 544.4l1 1.6 1.1-1.6 .1-.4 .3 .4 1 .5 .2-.5 .2-2.2-.4-.4-1.3 .1-1.1 .3-.1 .1zM347 544.4l.2 .4 .2-.4-.2-1.5-.1-.7-1.2-1.7-1.2-.3-.3-.3 .3-.4 .8-1.8-.8-1.3-1.3 .3-1.2-1.3-1.2 .3-1.3 .5-.5 1.5v2.2l.5 1.3 1.3-.5 1.2-1.2 .4 .4-.4 1.1-.2 1.2 .2 .2 1.2 .3 1.3 .8 1.2-.1zM353.9 544.4l.7 1.3 1.2-.7 .5-.6-.5-1-1.2-.1zM370.6 544.4l.1 .3 .2-.3-.2-1.1zM211.4 542.2l.6 .5 1.2-.5-.9-2.3 .1-2.2-.4-.4-.2 .4v2.2zM227.8 542.2l.3 1 .4-1v-2.3l.9-1.1 .7-1.1 .5-1.4 1.2-1.2 .2 .3 .1 2.3 1 .4 .5-.4 .2-2.3-.7-1.2-.7-1 .5-2.3 .2-.5 .4 .5 .8 1.4 .2-1.4 .4-2.2-.3-2.3 .4-2.2 .6-2 .4 2 .8 1 .6-1v-2.3l-.6-1-1.2 .5-.1-1.7 .1-.4 .9-1.9 .3-.8 1.2-.8 .2-.6 1-2.2 .1-.5 .6-1.8 .6-.6 .3 .6 .8 2.3-.8 2.2 1 1.2 1.2-.1 .8 1.1-.8 2.1-.1 .2-1.1 2-.1 .2-1.2 1.4-1.2 .4-.2 .5-.6 2.2 .8 1 .7-1 .5-.6 .5 .6 .5 2.3 .2 2.2-1.2 2.3-1.1-2.3-.1-.2h-2.5l-.1 .2 .1 .3 1.2-.1 .4 2.1-.4 .2-1.2 1.7-1.1 .3 1.1 .3 1.2 2-.2 2.2 .2 .9 1.3-.1 .3-.8 .9-1.4 1 1.4 .3 .7 1.2 .1 1.2 .7 1.1-1.5-1.1-.6-1.2-.1-.5-1.5-.4-2.3v-2.2l-.2-2.3 .6-2.2 .5-1 .6 1-.3 2.2 .6 2.3-.7 2.2 1 .9 .9-.9 .4-.9 .4-1.3-.4-1.1-.7-1.2 .1-2.2 .6-.7 1.2-.8 .4-.8-.4-.6-1.2-.5-1.3-.3-1.2 .9-.9-1.7 .9-1.1 .6-1.2 .6-2.1 1.3 2.1v.1l1.2 1.3 .7 .9 .6 1.1 .5-1.1-.5-1.5-.3-.8-1-2-.2-.2 .2-1.2 1.3-.7 .1-.4-.1-.1-.4-2.1-.9-2.1-1.2 .6-.9-.7-.1-2.3-.3-.9-.6-1.3-.6-.6h-1.2l-1.3-.2-1.2-1.1-.6 1.9-.7 1-.4-1-.3-2.3 .7-1.5 1-.7 .1-2.3 .2-.4 .5-1.8 .7-2.1 .2-.2 .2-2.2-.1-2.3-.3-2-1.2 1-.4 1 .4 .8 .6 1.5-.6 1.2-1.3-1.3-.1 .1-1.1 1.3-.1 .9-.8 2.3-.3 .2-1.3-.1-1.2 .7-1.3-.6-.4-.2 .4-.5 1.1-1.8 .2-.1 1-2.1-1-1.7-.6 1.7-.7 1.7-1.2-1.6-.5 2.1-.7 1.6-.7 .7 .7 1.8 .3 .4 .9 .4 1.2 .3 1.3 .9 1.2 .1 1.3-.1 .6 .7-.6 1.9-1.3-1.1-.3 1.4-.2 2.3-.7 .8-.8 1.4-.5 .5-.3-.5-.2-2.2-.7-1.4-1.2-.7-1.3 2.1 1.2 2.2 .1 .4 1.2 .8 .5 1.1 .7 1.5 .9-1.5 .4-1.1 .9 1.1 .2 2.2-1.1 2.1-1.3-1.2-.7 1.3-.5 .6-1.2 .2-.7-.8 .7-.5 .6-1.7-.6-1.2-.7 1.2-.6 1.6-.4-1.6 .4-1.6 .4-.6-.4-.5-.4 .5-.8 .6-1.3-.1-.5 1.7-.7 1-.4 1.2-.8 1.2-.7-1.2 .7-1.8 .4-.4-.4-1-1.3 1-1.2-2.2 1.2-1.1 1.3 .1 .3-1.3-.3-1.3-.5-.9-.8-.7-1.2-1.6v-.1l-.1 .1-1.2 .8-1.2 .6-.7-1.4 .7-.8h1.2l.8-1.4 .5-.4 .5 .4 .7 .7 .9-.7-.1-2.3-.8-.6-1.2-1.1-.6-.5 .6-1.1 1.2-.4 1.1 1.5 .2 .8 .7 1.4 .5 .6 .6-.6v-2.2l-.6-.7-1.1-1.6-.1-2.2 1.1-2.3-.2-2.2-.9-2-1 2-.3 1.3-1.2 .9h-.1l-.8 2.3-.4 .2-.1-.2-.1-2.3 .2-.7 .5-1.5 .8-1.2 .4-1.1-.4-1.6-.5-.6 .5-.9 .3 .9 .9 .8 1.2-.8 .1-.4 1.2-1.4 1.2 .1 1 1.7 .3 .7 .4-.7 .1-2.2-.5-.3-1.3-.5-1.2 .3-.6-1.8-.3-2.2-.2-2.3v-2.2l-.1-.6-.8-1.7 .8-.5 .7 .5 .5 .5 1.2 .6 .9-1.1 .4-.8 .5 .8-.1 2.3 .8 .5 .5-.5 .3-2.3-.8-1-.6-1.2 .6-1.5 1.3 1.3 1.2-.8 1.1-1.3-1.1-1.8-1.2 1.1-1.3 .3-.8 .4-.4 .4-.9 1.9-.4 .5-.3-.5-.9-1.7-.4-.6v-2.2l.4-1.1 .7-1.2-.7-1.6-.4-.6-.8-.8-.7 .8 .7 1 .5 1.2-.5 .8-1.3 .3-.7 1.2-.5 1.1-.3-1.1 .1-2.3-1.1-2v-.2l-1.2-1.5-1.2 1.2-.7-1.9 .7-2.2 1.2 1.6 1-1.7-.1-2.2 .3-1.4 .5 1.4 .3 2.2-.2 2.3 .7 1 .4-1 .8-2.1 .6-.2 .7-.8 1.1-1.4v-2.3l-.6-2.2v-2.3l.7-1.4 1 1.4 .2 .7 .3-.7 1-1 1.2-.5 .5 1.5-.5 1.6-1 .7-.2 .1-1.3 1.5-.6 .6 .6 .4 1 1.9-.6 2.2 .9 1.8 .5 .5 .1 2.2-.4 2.2 1 .5 .8-.5 .5-.7 1.2 .3 1.2-1.4 .9-.4-.9-.4-1.2-1.3-.2-.5 .2-.2 .6-2.1v-2.2l.3-2.3 .2-2.2-1.1-1.1-.6-1.2 .6-1.6 1.2 1.2 1.2 .4-1 2.3-.1 2.2 1.2 1.6 1.2-.6 1-1 .3-.6 .1 .6 1.1 1.3 .5-1.3-.3-2.2-.2-.8-1.2 .2-1.3-.9-1.2-.8 .7-2.2 .5-1.1 .2 1.1 1.1 1.3 1.2-.2 .5 1.1 .7 1 1.3 .7 .7 .6 .4 2.2-.7 2.3 .8 1.5 .6 .7-.6 1.7-.5 .6-.7 .3-.2-.3-1.1-1.5-.6-.8-.6-1.2-1.2-.4-1.3 .4-1.2 .8-.1 .4 .1 2.3v.4l.1 1.8 .5 2.2 .6 .9 1.2-.9 .1-.3v.3l.6 2.3 .6 .5 .2-.5 1-2.2 1.2 2.2 .1 1.7 .1 .5-.1 1.1-.1-1.1-1.2-.9-.5 .9-.1 2.3 .6 2.2v.1l1.3 1.4 .6-1.5 .6-.7 .5 .7 .8 .7 1.1 1.6-1.1 .9-1.2 1.3 .5 2.3-.6 1.8-1-1.8-.2-.3-.4-2-.9-.9h-1.2l-.4 .9-.8 .7-1.2-.7h-.4l.3 .2 .3 2.1 1 2.1 1.2-2.1 .5 2.2v2.3l.1 2.2-.6 1.2-.7 1-.5 1.9-1.3 .1v.5l.8 2 .5 1.1 .5-1.1 .7-1.5 1.2-.2 .5-.5-.4-2.3 1.2-1.5 1.2-.4 .5 1.9 .8 1.5 .4 .8 .5 2.2 .3 2.3-.6 2.2-.6 1-.7 1.3 .7 1.3 .4 .9-.4 2.2-1.2-2.2-.1-.1-.2 .1-.6 2.3 .8 .2 1.3-.2 1.2 .3 .4-.3 .8-1.7 .4-.6-.4-.4-1.2-1-.5-.8 .5-1.1 .7-1.2-.6-2.2 .5-2.3 .4-2.2 .2-.5 .5 .5 .8 .5 1.2 .6 .7-1.1-.7-2.3 1.3-1.2 1.2-.3 1.2 .5 .7-1.2 .6-1.5 .2-.7-.2-.4-1.3-1.9v-.1l1.3-1.5 .4-.6-.4-1.1-.5-1.2-.8-1-1.2-2.4-.4-1.1 .4-1.6 .6 1.6 .6 1 1.3 .4 .6-1.4-.4-2.2 .2-2.3-.4-1-.2-1.2 .2-2 1.2 .1 .8 1.9-.1 2.2-.1 2.3 .7 1.2 1.1-1.2-.6-2.3 .7-1 1.2 .7 1.3-1.1 .2 1.4 .4 2.3 .6 1.2 .6 1 .7 1.4 .6-1.4 .6-1.1 .5 1.1-.5 1.7-.4 .6 .4 .3 1.2 1 .9 .9-.9 1.6-.5 .7 .5 .6 1.3 .6 .3 1 .9 1.7 1.3-.4 1.2-.2 .6-1.1 .6-.7 1.3-1.4 1.2 1.4 1-1.5v-2.3l-.2-2.2 .5-1.8 1.1 1.8-.9 2.2 1 1.3h1.2l1.3-1 .6-.3-.6-.9h-1.3l-1.2-1.3 .9-2.3-.3-2.2-.6-1.4-.6 1.4-.6 2-.6 .2-.7 .4-1.2 1.5-1.2-1.9 1-2.2-1.1-1.4-.2 1.4-1 2.1-1.2-1.7-.6-.4-.7-1.9-.4-.4-.1-2.2-.7-1-1.3-.1-.8 1.1 .8 .9 1.1 1.3v2.3l-1.1 .9-.6-.9-.3-2.3-.3-1-.5 1-.1 2.3-.6 1.1-.6-1.1v-2.3l.2-2.2-.1-2.3-.8-1.2-.8 1.2-.4 1.8-.5-1.8 .5-1.8 .2-.4-.2-.1-.9 .1-.4 .1-.1-.1-1.1-.6-.2 .6-1 1.1-1.2-1.1 1.2-1.9 .3-.3-.3-1.1-.8-1.2-.5-.4-.3 .4-.4 2.3-.5 .2-1.3-1.3-.6 1.1-.6 1-.7-1-.5-.6-1.3-.3-1.2-1-1.3 .2-1.2 1.2-1-1.8-.2-1.6-.3-.6-.8-2.3 .2-2.2 .9-1.3 1.2 .1 1.2 .8 1.3-1.3 .6 1.7 1.1 2.2 .8 1.5 1.2-.5 1.2 .7 .7 .6 .6 1.2 .5-1.2-.2-2.3 .9-.3 .3 .3 .6 2.3 .4 1.2 .4 1 .8 .9 .6-.9v-2.2l-.6-1.4-.3-.9 .3-1.1 .4-1.1-.4-1.8-1 1.8-.2 .1-.1-.1-1.2-1.6-.7 1.6-.5 2-1.3-1.3-1-.7 .2-2.3 .8-1.8 1.3-.3 1.2 .7 1.1-.8-.2-2.3-.9-.8-.4-1.4-.8-.8-.6 .8-.7 1.3-1.1 .9-.1 .1-.9-.1 .9-2.2 1.2-1.1 .5-1.2 .6-2.2-1.1-1.9-.3-.3 .3-.6 1.1-1.7-.5-2.2 .7-1.2 1.2 .9 .3 .3 1 .5 .4-.5 .8-.7 1.1-1.6 .1-1.4 .2 1.4-.1 2.3 1.2 2.2 1.2 1.5 .5 .8-.5 .8-.5 1.4 .5 1.8 .8 .4 .5 .5 1.2 .1 1 1.7 .2 .3 .5 1.9 .8 2.1 .9-2.1-.9-2-.6-.2 .5-2.3-.1-2.2 .2-.3 .6 .3 .6 .8 .3-.8-.3-.4-.4-1.8-.8-1.3-1.3 .5-.6 .8v2.2l-.6 1.6-1.2-.1-.3-1.5 .3-.5 .9-1.7-.9-1.1-.6-1.2 .6-1.3 .8-.9 .4-1.9 .6 1.9 .6 .8 1.3 .2 .9 1.2 .3 .7 1.3 .9 .1 .7 1.1 1.1 1.2 .9 .5-2 .3-2.3-.6-2.2-.1-2.3 .4-2.2-.5-1.3-1.2 .1h-1.2l-.5 1.2 .5 1.3 .5 .9-.5 .9-1.2 1.4-.1 .6-.1-.6-1-2.3-.1-1.2-1.3-.1-1.2 1-.3 .3-.9 .6-.5-.6-.8-.8-.6-1.4 .6-1.8 .2-.5v-2.2l1.1-.7 .9 .7 .3 .1 .1-.1-.1-1.1-.1-1.2 .1-.3 .1 .3 1.1 .9 1.3-.9-1.3-1-.8-1.2-.4-1.9-1.2-.1-.6 2-.7 1.3-.8-1.3 .2-2.3-.6-2.2-1.3 1.4-.9 .8-.3 .4-1-.4 1-.7 .3-1.5 .5-2.3 .4-1 1.3-1.1 1.2 1.3 .7-1.4 .6-1.5 .5 1.5 .7 1.3 .6 .9 .6 1.5 .5 .8 .6 2.2 .2 .5 1.2 .2 1.3-.2 1.1-.5-1.1-.8-1.3-.1-.7-1.3-.5-2.1-.1-.2 .1-.5 1.2 .4 .9-2.1 .4-1.1 .2-1.1 1-1.9 1.2 .3 1.9 3.8-.6 1.1-.8-1.1-.5-.8-1.2 .2-.7 .6 .7 1.3 .8 .9-.8 2.2v.6l1.2 1.4 .2 .3-.2 .2-1 2.1-.2 1.1-.3 1.1 .3 .4 .6 1.9 .6 1.6 1.3 .1 .3 .5 .9 .6 .3-.6-.3-.8-1.2-2.4-.6-1.3 .6-1.9 1.1 1.9 .1 .3 .3-.3v-2.2l.7-2.3 .2-2.2-1.2-2.2v-.1l1.3-1.4 .8 1.4-.8 2.3 .6 2.2 .1 2.3-.1 2.2 .6 1 .7-1-.3-2.2 .8-2.3-.5-2.2 .5-.9 .4 .9 .9 .9 .5-.9v-2.3l-.5-1.7-.5-.5-.1-2.2 .6-1 .8-1.3 .4-1.3 .8-.9-.8-.7-1.2 .5-1.3-.1-.2 .3 .2 .8 .2 1.4-.2 .4-.7-.4-.5-.6-.1 .6 .1 .5 .4 1.8-.4 1.4-.5-1.4-.7-.9-1.1 .9-.2 .5-.3-.5-.5-2.3v-2.2l-.4-.4-.3 .4-1 1.4-1.2 .1-1.2-1.5v-.1l-.3 .1 .1 2.2-1 2.3h-.1l-1.2 2-1.3-2 1.3-1.8 .2-.5-.2-1.1-.3-1.1-1-1.1-.8 1.1 .4 2.2-.8 1.6-1.2-1.2-1.3 .9-.3 1-.9 2-1.3-.5-1.5-1.5 .3-.4 1.2-.6 .6-1.3-.6-2.1-.2-.1-1-.2-1.2-.3-1.3 .3-1.2-.9-1.3 .9-.1 .2 .1 1.4 .1 .8-.1 .2-.6 2.1 .6 1 .6-1 .7-.7 1.2-.8 .2-.8 1.1-1.8 .6 1.8-.6 1.5-.9 .8-.4 .5-.8 1.7 .4 2.2 .4 2.3 1.2 2.2 .1 .4 .2 1.9-.2 .4-.5-.4-.8-.7-.5 .7v2.2l.5 .8 .6 1.5 .7 1.2 1.2-.4 .7-.8-.3-2.3 .4-2.2 .4-1 .7 1 .2 2.2-.1 2.3 .5 1 .7 1.2-.7 .6-1.3 1.2-1.2-.4-.6 .9-.6 1.8-.9-1.8-.4-.5-1.1-1.8-.1-.8-.3-1.4-.6-2.3-.4-.8-.8 .8v2.3l-.4 1-.3-1-.2-2.3-.7-.9-.5-1.3-.8-2.2-1.2 1-.7-1.1-.6-1.8-1.2 1.5-.3 .3 .3 1.1 .3 1.2-.3 .2-.7-.2-.5-.5-.3 .5 .3 .3 .4 1.9 .8 1.3 1.1 1 .1 .8 .5 1.4-.5 .5-.5-.5-.7-.5-.3 .5-.9 1.4-.6 .9-.7 1.7-1.2-1.7h-1.3l-1.2 .4-1.2 .8-.6 1 .6 .5 1.2 1.1 1.2-.4 1.2 1.1 .1 .1 1.2 .7 .8 1.4-.8 1.6-.4 .7 .8 2.2 .9 1.2 .5-1.2-.4-2.2 1.1-1.8 1.2 1.1 .6-1.6 .5-2.2 .2-1.3 .5 1.3 .7 .2 .7-.2-.5-2.3-.2-.1-1.1-2.1 .5-2.3 .6-1.9 1.3 1.8 .2 .1 1 .6 .7 1.7 .5 1.3 .6 .9-.6 1.1-.5-1.1-.7-.9-.9 .9 .9 2.2v2.4l-1.2 1.6-.6 .6 .3 2.2-1 .8-.8-.8-.3-2.2-.1-.3-.3 .3-.2 2.2 .4 2.2-.1 2.3-.3 2.2 .5 .7 .6-.7 .6-.4 1.2 .4-1.2 1.1-.4 1.2-.8 1.9-1.1-1.9-.2-.4-.7-1.9-.5-.9-.9 .9-.3 1.4-.3 .9-1 .7-1.2 .2-1.3-.2-.5-.7 .5-1 .4-1.3-.4-.4-.8-1.8 .8-2.2 .1-.1 .9-2.2-1-1.6-1.2 .7-1.2-.4-1.3 .7-1.2-1.6v-1.3l-.1 1.3-.1 2.2-1.1 1.4-1.2-.5-.8 1.3 .8 .6 1.2 .3 1.3 .3 1-1.2 .2-.3 1.3 .2v.1l.4 2.3 .5 2.2-.9 .9-1-.9-.3-2.2-.6 2.2-.6 1h-1.3l-.7-1-.5-.5-.4 .5-.5 2.3-.3 .2-.4-.2-.9-.7-1.2-.2-1.3-.5-1.2 .8-.8-1.7-.4-1-.4 1 .2 2.3-1.1 1.5-1.2 .7 1.2 .9 1 1.4-.4 2.2-.6 1.9-.8-1.9-.2-2.2-.2-2.1-.2-.2-1-2.2-.1-.2-.1 .2-1.1 .8-1.1 1.4-.1 1-1.3 .4-.8-1.4-.4-.9-1.3 .2-.7 .7 .2 2.3 .5 .9 1.2 1.3-1.2 1-.9 1.3 .9 1.5 1.3-.2 1 .9-.4 2.3-.6 1.4-1.1 .8v2.2l1.1 .8 1.2 .6 1-1.4 .3-1.3 1 1.3 .2 .1 .4 2.2 .8 1.4 .8 .8 .5 .7 .7-.7 .5-.7 .3 .7-.3 1.8-.1 .5-1.1 1.2-1.3-1.2-1.2 2.2v.2l-1.2 .9-1.3-.2-1.1-.9 1.1-.7 .9-1.5 .4-.6 1-1.7-1-1.5-1.3 1.4v.1l-1.2 2-1-2-.3-.8-.3 .8-.1 2.3-.1 2.2 .5 .8 1.3-.4 .3 1.9-.1 2.2-.2 .3-.8 2-.5 2-.2 .2-.1 2.3 .3 .3 .3-.3 1-1.6 .7-.7 .5-.9 .4 .9 .5 2.3 .4 .4 1.2 1.7 .1 .1h-.1l-1.2 .5-1.3 .2-.7 1.5 .5 2.3 .2 2 .1 .2 .8 2.3 .4 1.1 .3 1.1-.3 1.7-.8-1.7-.5-.5-.8 .5 .3 2.3-.7 .7-1 1.5-.3 .6-.7 1.7 .7 1.1 .9 1.1 .4 .5 .8-.5-.2-2.2 .1-2.3 .5-1.5 1.2 1.5-.5 2.3-.2 2.2 .5 2.3-1 1.3-1.2 .4-.6 .5 .6 1.7 1.2 .4 .3 .2v2.2l-.3 .5-1.2 .6-1.3-.2-.3 1.3-.2 2.3 .5 .5 1.3 .9 .6-1.4 .6-1.5 1.3 .7 .5-1.5 .7-1.4 .3-.8-.3-.9-.8-1.3 .2-2.3 .6-1.4 .4 1.4 .6 2.3 .2 .2 .8 2-.8 1.8-.3 .4 .3 .9 1.3 1.1 .1 .3 .4 2.2v2.3l.7 1.1 .5-1.1 .8-.7 1.2-.4 .3-1.2-.3-1.5-.3-.7 .3-.8 .9-1.5 .3-.8 1.3 .2 .9 .6-.3 2.3-.6 2.1-.1 .1-1.2 1.7-.6 .6 .6 .7 1.3 .1 1.2 .6 .6 .8 .7 .8 .6 1.5 .6 2.1v.5l-.7-.4h-.6l-1.2 1.3-1.2-.7-.5-.6 .5-.6 .6-1.6-.6-1.2-.7 1.2-.6 1.1-1.2-1.1v-.2l-.8-2.1-.4-.5-.4 .5-.9 1.3-1.2 .9-.7 .1-.5 2.2 1.2 1.7 .3 .6 .4 2.2 .2 2.3 .3 .5 .3-.5 1-2 1 2 .2 1.2 1.2-.2 1.3-.2 .9 1.4zM231.8 529.4l-.4-.7 .4-1.1 .7 1.1zM233.1 524.3l-.8-.1-.4-2.3h-.1l-.4-2.2 .4-1.1 1.1 1.1 .2 .5 1 1.7-.9 2.3zM234.3 511.3l-.1-.6 .1-.4 1.3-.6 .4 1-.4 1.1zM236.8 502.8l-.3-1.1 .3-1.1 .6 1.1zM240.5 536.5l-.7-1.1 .7-2.2 1.2 2.2zM245.5 518l-.4-.6 .4-.3 .8 .3zM218.2 503.1l-1.2-1.4 1.2-1.9 1.2 1.9zM220.7 483.1l-.5-1.6 .3-2.2-1.1-1.9-.5-.4-.3-2.2 .8-.7 1.2 .7 .1 .5 .1 1.7 1.1 1.7 .7 .6-.7 .3-.8 1.9zM221.9 484.2l-.4-.4 .4-.2 .6 .2zM217 456.7l-.9-2.1-.4-1.2-1.1-1.1 1.1-1.2 .8 1.2 .5 .4 .4 1.9zM218.2 453l-1-.7-.1-2.2 1.1-1.1 1.2-.3 .6 1.4-.6 1-.4 1.2zM228.1 453.4l-.3-1.1 .3-1.2 1-1 .3-.2 .1 .2v2.2l-.1 .2zM234.3 459.9l-1.2-.8 1.2-1.2 1.3 1 .7 .2-.7 .8zM238 463.3l-.2-2 .2-.3 .2 .3zM238 479.8l-1.2-.5 1.2-.4 .9 .4zM245.5 489.8l-.7-1.6-.4-2.2-.2-.6v.6l-1.2 1.7-1.2-1.4-.8-.3-.4-2.2 1.2-1.6 .2-.7 1-1.9 .5-.3-.2-2.3 .9-2 .6-.2-.3-2.3 .3-2.2 .5-2.3 .2-.6 .8-1.6-.8-2.2-1.3 .6-.4 1.6-.3 2.2 .7 2.3-1.2 1.3-1.2-1-.2-.3-.8-2.3 1-.9 .8-1.3 .4-1.6 .8-.7-.8-.2-1.1 .2-.1 .1-1.3 1.6-.4-1.7 .4-2 .2-.2 1.1-.7 1.2-.7 1.2 1.3 1.3-.6 1.1 .7 .1 .3 .1-.3 1.2-1.2 .5 1.2-.4 2.2-.1 1.2-.5 1.1-.4 2.2 .5 2.3-.4 2.2-.5 1.3-1 1 .9 2.2 .1 .1 .1-.1 1.2-1 1.2 .3 .4 .7 .1 2.3-.5 .7-.8 1.5 .8 1 .6 1.3-.6 1.7-1.2-.8-.5-.9-.8-1.2-.5 1.2 .1 2.2 .4 2.2zM249.2 469.3l-.4-1.3 .4-.6 1.2 .2 .8 .4-.8 .8zM264.1 474.4l-.2-1.9 .2-1.2 1.2 .4 .2 .8-.2 .5zM266.6 475.5l-.3-.7 .3-.4 .8 .4zM269 477.5l-.3-.5 .3-1 .9 1zM248 450.5l-.4-.4 .4-1.6 .7 1.6zM254.2 410.2l-.2-.6 .2-.3 .1 .3zM244.2 419.6l-.1-1 .1-.4 1.3 .2 1 .2-1 .5zM243 430.9l-.2-1-.2-2.3 .4-1.1 .8 1.1-.5 2.3zM217 477.9l-.4-.9 .4-.3 .5 .3zM218.2 479.9l-.6-.6 .6-1.2 .3 1.2zM229.4 524.6l-.2-.4-.6-2.3 .8-1.9 .7 1.9-.2 2.3zM225.6 536.1l-.9-.7-.3-1.7v-1.3l.4 .8 .8 .3 1.3 .6 1.2 1 .2 .3-.2 .2-1.2 1.6zM218.2 491.4l-.5-.9 .5-.6 .8 .6zM234.2 542.2l.1 .3 .3-.3 .8-2.3-1.1-.6-.1 .6zM313.3 542.2l.4 2.2 .3-2.2-.3-1.2zM361.1 542.2l.9 .9 .2-.9 1.1-2 1.2 4 1-2-.4-2.3-.6-1.2-1.2 .7-.6-1.7 .6-1.9 .3-.4-.3-.2-1.3 .1-1.2 1.2h-1.2l-1.3 .5-.2 .7 .2 .4 1.3-.3 1.2 .7 1 1.4zM393.4 542.2l.9 1.9 1.2-1.7 .2-.2-.2-.5-1.2-.9zM213.9 539.9l.6 .7 1.2 1.5 .6-2.2-.6-1.5-1.2 .7zM285.3 539.9l1.1 1.3 1.2-.7 .3-.6-.3-.1-1.2-2.1zM314.4 539.9l.5 .5 .7-.5-.7-.7zM353.6 539.9l1 1 .4-1-.4-1.4zM357 539.9l.1 .1v-.2zM371.4 539.9l.6 2.2 1.2-2.2-1.2-1.5zM245.4 537.7l.1 1.1 .1-1.1-.1-.4zM255.4 537.7l1.2 1.1 .3-1.1-.3-.4zM288.6 537.7l.3 1.2 1.1-1.2-.9-2.3 .8-2.2-.2-2.3 .4-1.7 .6-.5 .7-.3 1.2 .2 .7-2.2-.7-2.1h-1.2l-.7 2.1-.6 1.9-.5 .4-.7 .4-.5-.4-.8-.5-.9 .5-.1 2.2-.2 .6-.5 1.7 .5 1.6 .6 .6 .6 .3zM304.5 537.7l.5 1.1 .5-1.1-.5-1.4zM333.2 537.7l.3 .5 1.1-.5-1.1-.7zM215.3 535.4l.4 1.2 .6-1.2 .7-.7 .7-1.5-.7-2.1-1.2 2.1-.1 .5zM300.5 535.4l.8 1.8 1.2 .1 1.3-1 .7-.9-.7-1.3-1.3 .3-1.1-1.2-.1-.6-.1 .6zM327.1 535.4l.2 1.7 .2-1.7-.2-.3zM334.6 535.4l.2 1.4 1.2 .4 1.2-1.8v-.6l1.3-1.3 1.2 1.2 1.1-1.5-1.1-.6-1.2 .2-1.2-1.9-.1-.1-.7-2.1-.5-1.4-.6 1.4-.4 2.2 .3 2.3-.5 1.8zM354.2 535.4l.4 1 1-1-1-.7zM234.6 533.2l1 2.1 .3-2.1-.3-.7zM283.5 533.2l.4 .7 .2-.7 1.1-2.2 .1-.1-.1-.1-.5-2.1 .5-.8 .7-1.5 .5-1.2h1.2l1.3-.9v-.1l.4-2.3-.4-1.5-1.3 .3h-1.2l-.8-1-.4-.9-1.3-.2-.6 1.1-.6 1.5-1.3-.3-.7 1 .7 1 .7 1.3 .6 1.7 .7-1.7 .5-1.1 1.3 .6 .3 .5-.3 .4-.8 1.8-.5 1-1.2-.3-.7 1.6 .7 1.2 .4 1zM290.4 533.2l1 .6 .5-.6-.5-1.7zM331.9 533.2l.4 1.3 .8-1.3-.8-1.4zM392.2 533.2l.8 1.3 1.1-1.3 .2-.6 1-1.7-.4-2.2 .6-2.3-1.2-1.8-1.3 1.3h-1.2l-.9-1.7-.3-.4-.3 .4-.2 2.2 .5 1.2 1.2-.8 .8 1.9-.8 .7-1 1.5 1 1.4zM211.6 530.9l.4 1.2 1.2-1.1 1.3 .9 .5-1-.5-.9-1.3 .8-1.2-1zM296.1 530.9l.2 .6 .2-.6-.2-1.4zM298.5 530.9l.3 1.1 .7-1.1-.7-.8zM217.7 528.7l.5 .3 1-.3-1-.8zM294 528.7l1.1 .9 1-.9 .2-.2 .8-2.1 .5-2.2v-.2l-.4-2.1 .4-1 .5 1 .7 1 .1-1-.1-1.1-.6-1.1 .6-.5 .4-1.8v-2.2l-.4-1.7-1.2 1.3-.3 .4-.6 2.2-.4 .5-1.1 1.8 .8 2.2 .3 1.5 1.2 .8-1.2 .1-1.2 2.1v.4zM302.5 528.7v.1l.1-.1 1.1-2.3-.4-2.2 .1-2.3 .4-.5 .9 .5 .3 1.6 .3 .7 .9 .1 1.3 1.3 1.2-.7 1-.7-1-1.4-1.2 .1-.7-1-.6-1-1.2-1.2-1.2-1.4-.6 1.4-.7 1.2-.5 1 .3 2.3-1 2-.2 .2 .2 .3zM307.2 528.7l.3 .2 .1-.2-.1-.2zM323.3 528.7l.3 1.6 .6-1.6-.6-.7zM371.1 528.7l.9 .7 1.2-.1 .1-.6-.1-1.2-1.2 .6zM216.9 526.4l.1 .1v-.2zM337.2 526.4v.1l.1-.1zM373.4 526.4l1 .9 1.3 .9 1-1.8-1-.9-1.3-1.3zM299.3 524.2l.7 .5 .3-.5-.3-.5zM335.4 524.2l.6 1.5 .4-1.5-.4-1.2zM264.6 521.9l.7 1.7 1-1.7 .3-.3 .9-1.9 .3-.5 1.2-1.8-1.2-1.8-.4-.4-.8-.9h-1.3l-.5-1.3-.6-2.3 1.1-1 .6 1 .7 1.6 1.2-.5 .9-1.1-.7-2.2 .9-2.3 .1-.5 .2 .5 1.1 1.2 1.2 .1 1.3 .4 .5 .6 1.9 1.9 1.3-1.4 .6 1.7 .6 1.1 .9-1.1 .4-1.3 .7 1.3-.5 2.3 1 2.1 1.2-1.1 .3-1 .5-2.3 .5-2 .4-.2-1.7-1.7-1.2-.4-.2-.2-.2-2.2v-2.3l.4-1.5 .4 1.5 .8 1.4 1.3-.1 1.2 .1 .1 .9 1.2 1.7 .4 .5 .2 2.3-.4 2.2-.2 .4-1.3 .2-.2 1.7 .1 2.2 .1 .2 .5-.2 .8-.3 1.2-.7 1.2-.6 1.3-.3 .3-.3-.3-2.3 1.2-.8 .6-1.4 .7-2.1 1.2-.1 .6 2.2-.6 1.7-.6 .5-.6 2-.1 .3-1.1 2.2-.1 .1-1.2 1.4-1.3-.7-.9 1.4 .9 .8 1.3 .7 1.2 .8 1.2-2.3 .1-.2 .4 .2 .8 .5 .4 1.8 .8 1.1 1.2-1.1-.8-2.3 .7-2.2 .2-.4 1.2-.8 .6-1-.6-.8-1.2 .1-.6 .7-.7 1-.7-1 .7-1.3 .4-1 .9-2.1 1.2 1.2 1.3-1.2v-.3l-.3-2.1 .3-.8 1 .8 .2 .1 1.2 1.8 1.3-.6 .4-1.3-.4-.6-1.3-.2-1.2 .3-.3-1.7 .3-1.7 .4-.6 .8-.4 .2 .4 1.1 1.5 .6-1.5 .6-1.2 1.3 .8 1.2-1.7v-.6l-.7-1.8-.5-.7-.4 .7-.9 .5-1.2 .1-.7-.6-.3-2.2 1-1.4 1.2 .7 .5-1.6-.5-1.6-.2-.6-1-1.1-.5-1.2-.8-1.5-.9-.7-.1-2.2-.2-.2-.1 .2-.1 2.2 .2 .5 .4 1.7-.4 .9-1-.9-.2-.3-.4 .3-.9 2-.6-2-.5-2.2-.1-.2-.4-2-.9-1.8-1.2 1.2-1.2-.5-1.3-.2-1 1.3 1 1.5 1 .7-.9 2.2 1.2 .5 .4-.5 .8-1.7 1.2 1.7v.1l.2 2.2-.2 .3-.9 1.9-.3 1.2-.6-1.2-.6-.4-.7 .4-.6 .8-1.2 .7-.4-1.5-.9-1.1-.9 1.1 .9 1.6 .9 .7-.1 2.2-.8 1-.7-1-.5-1.7-1.2-1.5-.7 1-.6 .7-1 1.5 1 1.6 1.3-1.2 .8 1.9 .4 .7 1.2 1.4 1.3-1.3 .5 1.4 .7 1.6 1.3-1.5 1.2 .5 .3-.6-.3-.8-.9-1.4 .9-1.2 .4-1.1 .8-1 .7 1 .6 .9 .8-.9 .2-2.2-1-1.7-.3-.6 .3-.5 1.2-1.6 1.1 2.1-.5 2.3-.1 2.2-.1 2.3-.1 2.2-.2 2.3-.1 .1-1.1 2.1-.1 1.8-1.3-1.5-1.2-.4-1.2-.1-1.3-1.5-1.1-.5-.1-.2-1.3-1.3-.2 1.5-1 .6-.3-.6-.9-1.7-.9-.6-.4-.8-1.2-.2-.6-1.2-.7-1.1h-1.2l-.1-1.2-1.1-1.1-1.2 1.1-.1 .4-.2-.4-.6-2.2-.4-.8-.5 .8-.8 1.8-1-1.8 .8-2.3-1-1.7-.3-.5 .3-.7 .7-1.6 .5-.4 1.3-1.1 .8-.7 .4-.5 .3 .5 1 2 .4 .2 2 1.5 1.3-1.3v-.2l1.2-1.9 .6-.3 .1-2.2 .1-2.3-.8-1.3-.6-.9-.6-2-.3-.3 .3-.3 1.2-1.3 .8 1.6 .4 2.3 .1 .1 1.1 2.1 .1 .4 .1-.4 1.1-.8 1.3 .2 .7-1.6-.7-1.5-1.3-.3-.6-.5 .6-.7 1.3-1.2 1.2-.2 .1-.1 1.2-.9 .4 .9 .8 2.2 1.1-2.2-1.1-1.2-.6-1.1 .6-1.9 1.2 1.4 .3 .5 .3 2.3-.4 2.2-.1 2.3 1.2 1.1 .8 1.1 .4 1 .5-1 .4-2.2-.9-1.6-.5-.7 .5-1.7 .4-.5 .1-2.3 .8-1 1 1-.4 2.3 .6 .9 1.2-.5 .9 1.8 .4 .5 1.2-.1 .1-.4-.1-.2-1.2-2-1.3-.4-.8-1.9 .8-.8 1.3-.9 .3-.5-.3-2-1.3 .4-1 1.6-.2 .8-.1-.8v-2.3l1.1-2.2 .2-.9 .5-1.4-.5-.6-.7-1.6-.5-1.8-.2-.4-1-.9-.8-1.4 .8-1 1.2-.7 .4 1.7 .8 2.2 1.3-.1v.2l1.2 1.5 .7 .7-.7 1-.7 1.2 .7 1.3 1.3-.7 .5-.6 .7-1.5 1.2 .5 1.3 .3 .5-1.5-.5-2.2h-.8l-.5-.1-.1 .1-1.1 .8-.3-.8-.6-2.3 .9-.9 1.2-1.1 .2-.2-.2-.3-.7-2 .7-1.6 1.3-.3 .1-.3-.1-.2-1.3-1.1-1.2 1.1-1.2-1.5-.9 1.7-.4 1.8-.4-1.8-.5-2.3-.3-.7-.5 .7-.8 1.5-1.2 .7-.8 .1h.8l1.2 .6 1 1.6-.8 2.3-.2 .1-.3-.1-.9-.4-1.2-1.5-1.3 .7-.7-1.1 .7-2 1-.2-1-.3-.4-2-.6-2.2-.2-.8-1-1.5 .2-2.2v-2.3l.1-2.2-.6-2.1-1.2 .2-.7 1.9 .7 .8 1.1 1.4-.3 2.3-.8 .9-1.2 1.3-1.3-.8-.5-1.4 .5-2.1 1.3 .5 .4-.7-.4-1.3-1.3 .9-1.2-1.5-1 1.9-.3 1.9-1.2-.3-.7 .7 .3 2.2-.4 2.3-.4 .3-.4-.3-.9-1.9-.7-.4-.5-.3-1.3-.4-.7-1.5-.5-1.7-.4-.6 .4-.3 1.2-.8 1.1 1.1 .2 .5 1.2 .4 .2-.9 .2-2.2 .9-.6 .9 .6 .3 .3v-.3l.6-2.2-.6-2.1-1.2 .1-1.3 .8-.7 1.2-.5 1-1.3-.5-.6-.5-.6-.6-.4 .6-.8 2.2-1.3-.3-1 .3 1 .6 .9 1.6 .4 1 .5 1.3 .5 2.2 .2 .3 1.2 .4 1.3-.2 .4 1.8 .1 2.2-.5 1-1.3 .1-1.2 .3-1.2-.3-.9 1.2 .2 2.2 .1 2.3-.7 1.5-.3 .7 .3 1.6 .2 .7 1.1 1 1.2-.4 .6-.6 .1-2.3 .5-.9 1.3 .2 1.2-1.1 .2-.4 1.1-2 1.1-.3h.1l1.2 1.7 .4 .6-.4 .6-1.2 .6-1.2 .5-.4 .5-.9 1.3-1.2 .4-.7 .6 .7 .9 1.2 1 1.1 .3-1.1 .3-.5 1.9 .5 1.5 1.3-1.1 .1-.4-.1-2.2 .8-2.2 .4-.8 1 .8 .2 .4 .3 1.8 .3 2.2 .7 .5 1.2 .8 .7-1.3-.7-1.4-.3-.8 .3-.9 1.3 .1 1.2 .1 .6 .7-.6 1-.7 1.2 .7 .7 1.2 1.6v.3l1.3 .4 1.2 1.5-.1 2.3-1.1 1.3-.8-1.3-.5-.9-.9-1.4-.3-.3-.3 .3-.9 2.1-1.1-2.1-.2-.3-.4 .3v2.3l.4 1.3 .3 .9-.3 1.9-1.2-.3-.9-1.6-.4-.2-.1 .2-1.1 1.5-1.2-.6-1.2-.9 .6-2.2-.4-2.3-.3-.9-.8 .9 .1 2.3-.5 1-.4 1.2-.9 1.4-1-1.4 .1-2.2 .9-1.7 1-.6-.4-2.2-.6-1-.4 1-.8 2.2-1.2-1.4-.4-.8 .4-.6 1.2-1 .5-.7-.5-1-1.2 .1-1.2-1.3-.1-.5v.5l-.4 2.2-.8 .6-.3-.6-1-1-.5 1-.7 1.6-.5 .7 .5 .9 1.2 .4 .7 .9-.1 2.3 .5 2.2 .2 .4 .1-.4 1.1-.7 .4 .7-.4 1.8-.4 .5 .4 .9 .3 1.3 1 .9 .4-.9 .8-1.3 .9 1.3-.2 2.3 .5 1.7 1.3-.1 .2 .6v2.3l-.2 .5-1.3 .6-1.2 1.1h0l-1.2-1.7-.3-.5 .3-1.1 1.2-.8 .7-.4-.7-.5-1.2-.2-1.1-1.5-.2-1.1-.1 1.1-.7 2.2-.4 1.3-.2 1-1.1 1-1.2-.1-.3-.9 .3-.7 .6-1.6-.6-.9-.7 .9-.5 .7-1.3 .5-1.2 .2-1.1 .9 .7 2.2 .4 1.6 1.2 .6 1.3-.6 .5 .6-.5 .9-1.3-.8-1 2.2-.2 .5-1.3 .5-1.2-.7-1 1.9 .2 2.3-.4 2.2v.2l-.8 2.1 .8 2.1h1.2v.4l-.5 2-.7 2.1-.6-2.1-.7-1.1-1.2 .4-.4-1.6 .2-2.2-.8-2.3-.3-.7-.4-1.5 .4-1.4 .9 1.4 .4 .4 .2-.4 1-2.1 .6-.2-.6-.1-.9-2.1-.3-.8-.7-1.5 .7-2.2-.7-2.2-.6-.9-1.2 .5-.8-1.9-.4-1.2-.7 1.2 .1 2.3 1.8 .3 .9 1.9-.9 1.6-.5 .6 .5 1.7 .6 .6-.6 .3-1.2 .1-1.1-.4-.2-.7-.1 .7-1 2.2-.1 2.2v.1l-.4 2.2-.9 1.8-.5 .5-.7 1-1.2-.7-.8-.3 .8-.2 .8-2.1 .4-1.5 .4-.7 .1-2.3-.5-1.3-1.2 1.1-.3 .2-1 .7-.5-.7-.7-1.5-.6 1.5-.7 1.2-.3-1.2 .3-1.7 .6-.5-.6-.7-.9 .7-.3 .1-1.2 1.2-.5 .9 .5 .9 1.2 .7 .7 .7-.7 .7-1 1.5 1 1.6 1.2 .2 1.1 .5-.6 2.2-.5 1.6-1.2-.2-.8 .9-.4 .9-1.3 .1-1.2 .4-.7 .8 .1 2.3 .6 .6 .7-.6 .5-1.6 .2 1.6 .7 2.2 .4 2.2v.1l1.2 1.3 .7-1.3 .2-2.3-.9-1-.4-1.2 .2-2.3 .2-.2 1.2-1.6 1.3 1.5 .6-1.9 .2-2.3 .4-1.8 .4 1.8 .9 1.4 1 .9-1 1-.8 1.2-.5 1-.6 1.3 .5 2.2-.4 2.3-.7 1.1-.6 1.1 .6 1 .5 1.2 .7 1 1.3-.7 1.2 .6 .1-.9-.1-1.4-.4-.8 .4-.7 1.2-.6 1.3-.4 .2-.5 1-1.4 .6-.9 .7-.8 1.2 .2 .4 .6 .2 2.3 .6 2 .5 .2 .8 .4 .5 1.8 .1 2.3zM266.6 518.5l-.6-1.1 .6-1.5 .5 1.5zM270.3 502.6l-.4-.9-.2-2.2-.7-.5-.5-1.8v-2.2l.5-.8 .4 .8 .8 2.2 .1 .5 1.2-.4v-.1l-.4-2.2v-2.3l.4-.7 1.3-.7 .7 1.4 .3 2.3-.2 2.2-.1 2.3-.7 .7-1.3 .1-.5 1.4zM271.5 505.4l-.5-1.4 .5-1.4 1.2 1.4zM274 506.7l-.1-.5-.8-2.2 .9-2.3v-.2l.2-2 1-1.8 1.3 .9 .4 .9 .7 2.2 .1 .4 .4 1.9-.3 2.2-.1 .1-.1-.1-1.1-1.2-1.3-.8-1 2zM278.9 499.5l.1-.1 .1 .1zM288.9 510.6l-.7-2.1 .4-2.3 .3-1.9 .2 1.9 .1 2.3zM292.6 517.1l-.6-1.9 .6-1.2 .5 1.2zM298.8 496.6l-.9-1.6 .9-1.1 .9 1.1zM290.1 497.9l-.5-.7 .5-.8 .5 .8zM302.5 455.8v-1.4l1.3-.3 .1 .5-.1 .6zM280.2 455.3l-.6-.7-.1-2.3 .7-1.5 1.2-.2 1.3 1.6v.1l-1.3 .5-.9 1.8zM288.9 459.7l-1-.6 .5-2.3 .5-.9 .8-1.3 .4-.9 1.1-1.4 .2-.3 .8-1.9-.8-.8-.7 .8-.6 .8-.5 1.4-.7 1.3-.6-1.3 .3-2.2-1-.8-.9-1.5 .1-2.2-.1-2.3 .9-1.8 1.3 1.4 .4 .4-.4 .8-.4 1.5 .4 1.1 .8-1.1 .4-.8 1.3-1.4 .7 2.2 .3 2.2 .2 1.1 1.2 .5 .8 .7-.5 2.2 1 1.7 .2 .6 .3 2.2-.5 1-1.3-.3-1.2-.5-1.2 .2-1.3 .7-.7 1.2zM295.1 463.6v-.1l-.9-2.2 .9-1.4 1-.8 .2-.5 .3 .5 .3 2.2-.2 2.2-.4 1.4zM279 470.8l-.4-.5 .4-1.2 .6 1.2zM251.7 499.3l-.5-2.1 .3-2.2 .2-.4 .1 .4 .8 2.2zM255.4 511.7l-.8-1 .8-.5 .2 .5zM256.6 509.6l-.7-1.1 .7-1.1 .7-1.2v-2.2l-.6-2.3 1.2-1.8 .1-.4 1.1-1.5 1.1 1.5 .2 .5 .3-.5 .9-2.3v-.1l.2 .1 .1 2.3v2.2l-.3 1.2-1.2-.5-.6-.7-.7-.7-.6 .7 .6 .8 .6 1.5 .7 1.3 1.1 .9-1.1 .9-1.1-.9-.2-.2-.1 .2 .1 .6 .3 1.7-.3 .8-1.2 .1zM262.8 509.2l-.3-.7-.8-2.3 1.1-.9 1.3-.8 1 1.7-1 2.3v.3zM260.4 495.8l-.9-.8 .9-.8 .5 .8zM290.9 521.9l.5 2.1 .8-2.1-.8-1.5zM386.2 521.9l.6 .6 .6-.6 .7-.8 1.2 .8v.1l.1-.1-.1-.4-.1-1.8 .1-.4 1.3-.5 1.2-2.8 .4-.8 .8-.8 .8-1.4-.5-2.3 1-.8 1.2 .1 .2-1.5-.2-.5-1.2-1-1.1 1.5-.2 1.3-1.2-.3-.5-1-.7-1.7-.3 1.7-.2 2.2-.8 2-.1 .3 .1 .3 1.3 1.8 .1 .1-.1 .1-1.3 1-.5 1.1-.7 1.1-1.3 1.1-1.2-1.1-.5 1.2 .5 1.4zM391.5 521.9l.3 .9 1.2 .7 1.1-1.6-.2-2.2-.9-.5-.7 .5-.5 1zM238.5 519.7l.8 .5 1.2-.3 .2-.2-.2-.2-1.2-1.7zM299.1 519.7l.9 .6 .6-.6-.6-.7zM307 519.7l.5 .7 1.2 .2 1.3 1 1.2-.8 1.1-1.1-1.1-1-1.2-.7-1.2-.6 1.2-.4 1.2-1.4 .2-.4-.2-1.1-.4-1.1-.7-2.3-1.4-1.4-.7 1.4-.4 2.3 1.1 .9 .4 1.3-.4 2.2h-.2l-1 .2zM250.2 517.4l.2 .4 .2-.4-.2-.2zM261.9 517.4l.9 .5 .3-.5-.3-1.6zM281.4 517.5l.1-.1-.1-.1zM300.9 517.4l.4 1 1.2-.8 .2-.2-.2-1.3-1.2 .6zM306.2 517.4v.1l.5-.1 .3-2.2 .4-2.2-1.1-2.3-.1-.1v.1l-1.2 1.9-.8-1.9-.3-2.2-.1-.3-.2 .3-.5 2.2-.6 1.6-.7-1.6-.5-1.4-.8 1.4 .5 2.3 .3 .5 1.2 1.1 1.3-.5 .7 1.1 .5 .5zM325 517.4l1.1 1h1.2l1.3-.6 .2-.4-.2-.3-1.1-1.9-.2-.7-1.2-.3-.8 1zM370.4 517.4l.3 .7 .7-.7-.7-.5zM375.2 517.4l.5 1.1 .9-1.1-.7-2.2-.2-.4-.2 .4zM349.6 515.3l.2-.1-.2-.3zM386.2 515.2l.6 .5h1.3l.3-.5-.3-.4-1.3-.1zM269 513.1l.1-.1-.1-.2zM311.8 513l.6 .2 1.3 1.5 .5-1.7-.5-1.8-1.3 1.5zM320.7 513l.4 .6 .4-.6-.4-.5zM385.4 513l.2 1.2 .3-1.2 .3-2.3 .6-.9 1.3-.2 .3-1.1-.2-2.3 .7-2.2-.8-2.1-.5-.2-.1-2.2 .6-1.7 .1-.6-.1-.2-.8-2 .8-1.7 1 1.7 .2 .4 .7-.4 .5-2.3-1-2.2-.2-.1-.1 .1-1.1 1.4-1.1-1.4-.2-.3-.3-2-.9-1.4-.8 1.4 .6 2.3 .2 .9 .7 1.3-.7 .5-1.2-.1-.6-.4-.7-.5-.2 .5 .2 .6 .5 1.7 .8 1.3 1.2 .7 .3 .2-.3 .5-.8 1.8 .8 1.3 .9 .9 .3 .4 .5 1.9 .5 2.2-1 .4-1.2 1.9-.8 2.2zM225.4 510.7l.2 1.4 .5-1.4-.5-.3zM319.3 510.7l.6 .5 .1-.5-.1-.5zM324.1 510.7l.7 1.5 .6-1.5-.6-.8zM329.4 510.7l.4 .4 1.1-.4-1.1-.7zM211.9 508.5l.1 1.6v-2zM226.3 508.5l.6 1.6 1.2-1.6-1.1-2.3 .6-2.2-.7-1.7-.5 1.7-.8 1.5-1.2-.6-.7 1.3 .7 1.8 1.2-.9zM250.4 508.5h.1l-.1-.1zM310.5 508.5l.7 1.7 1.2-.9 .6-.8-.6-1.3-1.2-.9-.1-.1-1.1-1.8-1.3 .3-1.2-.7-.3-2.3-1-1-.6 1-.6 1.3-.7 1 .3 2.2 .4 .9 .6-.9 .6-.4 .6 .4 .7 .4 1.2 .6 1.3-.1zM314.6 508.5l.3 1.5 .5-1.5 .8-2 .2-.3-.2-.1-1.3-1.8-.1-.3-.4-2.3 .5-.6 1.3-.8 .9-.8-.9-1.3-1.2-1-.1-.1-.1 .1-.6 2.3-.5 1.3-.6-1.3-.7-2-.1-.3-1.1-2.1-1.2 .3-.8 1.8 .8 2.2 1.2 .1 1.2 2 .2 .2-.2 .4-.4 1.9 .4 .9 1.3 .7 .4 .6zM320.7 508.5l.4 .3 1.3 .6 1.2 .4 .5-1.3-.5-1.6-.5-.7-.7-2.2-1.3 1.2-.7 1zM317.6 506.2l1 1 .8-1-.8-.9zM324 506.2l.8 .8 1-.8-1-1.1zM340.7 506.2l.3 2.2 .3-2.2-.3-.7zM317.3 504l.1 .5 .1-.5 1.1-2 1.3-.1 1.2 .9 .7-1.1-.7-1.2-.6-1-.2-2.3-.4-.9-1.3-.6-.7 1.5 .7 1.1 .5 1.2-.5 1.7-1.2-.7-.2 1.2zM336.6 504l.6 1.4 1.3-.3 1.2-.8 .3-.3-.3-.8-.4-1.5-.8-.9-1 .9-.3 .6-.3-.6-.9-1.2-1.2 .4-.4 .8 .4 1 1.2 .2zM391.9 504l1.1 1.2 1.2-1.2 .1-.2 .4-2.1-.4-1.2-.8-1 .8-2 .2-.3 .9-2.2-.8-2.3-.3-.1-.2 .1-.8 2.3-.3 .5-1.1-.5-.1-.2-.1 .2-.7 2.2-.4 1.9-.2 .4 .2 .3 1.2 .4 .3 1.5zM246.3 501.7l.4 1.7 .2-1.7-.1-2.2 .1-2.3 .3-2.2-.5-.8-.2 .8-1 2.1-.3 .1 .3 .5 1 1.8zM294.6 501.7l.5 1.8 .7-1.8-.7-.6zM308 501.7l.7 1.8 .5-1.8-.5-.6zM323.3 501.7l.3 1.1 .6-1.1 .6-.8 1.2 .8 .1 .1v-.1l.9-2.2-.5-2.3-.4-2-.1-.2 .1-.1 1.2-.1 .5-2.1-.1-2.2-.4-1.4-.6-.9v-2.2l-.4-2.2-.2-.6-.1 .6-1.2 2-.2 .2-.2 2.2 .2 2.3 .2 1.2 .3 1-.3 .9-1.2 1.4v.2l-.1 2 .1 1.2 .2 1.1-.2 .6zM326.1 490.9l-.6-.4 .6-1.2 .5 1.2zM366.1 501.7l.9 1.5 1.2-.6 1.3-.8 .4-.1-.4-.2-1-2-.3-.7-1.2-.3-1.2-.2-.9 1.2 .9 1.1zM373.4 501.7l1 .9 1.2-.9-1.2-.6zM339.3 499.5l.4 1.4 .8-1.4 .5-.5 1.1-1.8-1.1-.9-1.3-.1-.9-1.2-.3-1.2-.5-1.1 .5-1.2 .2-1-.2-1.7-.4-.6-.9-.4-.3 .4-.9 1-1.2-.9-.1-.1-.6-4.4 .7-.6 .5 .6 .7 1.3 .4-1.3-.4-1.4-.3-.9 .3-.7 1.2-.9 .3 1.6 1 1.4 .6-1.4-.4-2.2 .9-2.3-1.1-1.8-1.1 1.8-.2 1.1-.2-1.1-1-1-.4 1-.3 2.3-.5 .7-.5-.7-.8-1.8-.3-.5-.9-2.1-1.3 1.4-1.2-1.5-.5 2.2 .5 2h1.2l.2 .3-.2 .1-1.2 .2-1.2 .7-1-1-.3-.4-.3-1.9 .3-1 1.2-1.2-1.2-1.3-1.2-.6-1.3 1.6-.1 .3-.9 2.2-.2 .6-.3-.6-.1-2.2 .1-2.3 .3-.3 .9-1.9-.2-2.3 .2-2.2-.9-1.9-1.1 1.9 .8 2.2-.8 2.3-.1 .4-.5 1.8-.2 2.3v2.2l.7 1.6 .4 .7 .2 2.2-.6 1.7-.2-1.7-.9-2.2-.2-.2-.1 .2-1.1 .5-1.3 .8-1.2 .2-1.2 .1-.3 .6 .3 .8 1.2 1.1 1.2-.5 .4 .9 .3 2.2-.7 .7-1 1.5 .2 2.3-.4 1.8h-1.2l-1.2 .4 .8 2.3 .4 .7 .5-.7 .7-1.8 .7-.5 .5-.1h1.3l1-2.1-.3-2.3-.1-2.2 .5-2.2 .1-.1 .7 .1-.1 2.2 .7 .5 .4-.5 .8-.9 .5-1.3 .7-1.4 .9-.9-.9-1.9-.3-.3 .3-.4h1.3l.9 .4-.4 2.2 .7 1 .8 1.3 .5 .8 1.1 1.4 .1 .6 .1-.6 1.1-1.3 .9-.9 .4-.8 .5-1.5 .7-.8 .4 .8-.4 1.4-.7 .9-.5 1.3-.2 .9-.8 2.2 1 1.8 .1 .5 .5 2.2 .4 2.3-.2 2.2 .4 1h1.3l.1-1-.1-1.6-.9-.6 .9-.2 .2 .2 1 .4 1.2 1.2 1.3 .3 .1 .3zM352.6 499.5l.8 .7 1.2 .2 .5-.9 .2-2.3-.7-2.1-1.2 .7-.5-.8-.8-.5-.9 .5 .9 2.1 .1 .1zM381.7 499.5l.2 .2 1.2 .5 .7-.7-.7-.7-1.2 .5zM212.6 497.2l.6 .2 .5-.2 .6-2.2-1.1-.7-.4 .7zM306.9 497.2l.6 2 .8-2-.1-2.2-.7-1.1-1.3-.7-1 1.8 1 .9zM362.9 497.2l.4 .9 1-.9-1-.4zM225 495l.6 1.5 1.3-.5 1.2 .3 1.3-.9 1-.4-1-.7-1.2-1.6 1.2-.6 1.2 .4 .5 .2 .7 .4 .5-.4-.5-.3-.6-1.9-.6-1.2-1.2-.5-1.2-.6h-.1l-.8 2.3-.4 .6-.7 1.6-.6 1.2zM280.7 495l.7 .5 .5-.5-.1-2.3-.4-.8-.1 .8zM322.3 495l.1 .1 1-.1-1-.2zM361.3 495l.7 1.2 .5-1.2 .4-2.3 .4-1.9 .1-.3-.1-.3-1.3-.5-.8-1.5 .8-1.9 1.3 .9 .9 1 .3 .5 1.3 1.7 1-2.1 .2-1.4 1.2 .2 .7-1.1-.7-1.6-1.2 1.3-.2 .3-1 .9-.9-.9-.4-1.6-1.2 .5-1.3-.2-.3-.9-.9-1.3-.5 1.3-.1 2.2-.6 .6-.8 1.6 .8 1.6 .2 .7-.2 .7-1.2 1.5 1.2 1.5 .9-1.5 .3-.3 .3 .3zM214.3 492.7l.2 1.6 1.1-1.6-1.1-.4zM309.5 492.7l.5 1.5 .7-1.5-.7-.4zM313.1 492.7l.6 1.2 1.1-1.2-.8-2.2-.3-1.6-.3 1.6zM354.5 492.7l.1 1.3 .3-1.3-.3-.1zM356.3 492.7l.8 .6 .8-.6-.8-.3zM212.7 490.5l.5 .4 .3-.4-.3-.8zM225.4 490.5l.2 .3 .4-.3-.4-.2zM275.3 490.5l1.2 1.3 .5-1.3-.5-.9zM289.9 490.5l.2 1.2 .3-1.2-.3-2.1zM303.5 490.5l.3 .1 1.2 1.4 1.2 .3 .6-1.8 .7-1.6 .7-.7v-2.2l.5-1.6 1.3 1 .2 .6-.2 .4-1 1.8 1 .9 .8-.9 .4-.8 .5 .8 .7 .8 1-.8-1-1-.6-1.2 .1-2.2 .5-1.4 1.3 .2 .5-1.1 .7-2 .2-.2-.2-2v-.4l.1 .1 1.2 .9 2.4 .2 1.1-1.1 .1-2.2 .1-.1 .5-2.2-.3-2.2-.2-.5-.8-1.8-.5-.6-.7 .6-.4 2.3 1.1 1.8 .1 .4-.1 .2-1.2 2-1.2-1.2-.7-1-.6-1.7-.4-.5 .4-.4 1.3-.5 1-1.4-.3-2.2-.7-1-.7 1-.6 .5-.9 1.7-.3 1.2-1.3 1v.2l.9 2.1-.1 2.3-.4 2.2-.4 .6-.2-.6-.2-2.2-.2-2.3-.6-.8-1.2 .5-.3 .3-1 1.5-.8-1.5 .2-2.2-.2-2.3 .8-.1 1.3-.9 .5-1.2 .7-2.1 .8 2.1 .4 .5 .5-.5 .8-.6 1.2-1.1 .2-.6-.2-.2-1.2-1.4-1.3 1.2-1.2-.9-1.2 .1-.6 1.2-.7 1.2-1.2-.3-1.2 1.4 1 2.2-.5 2.3-.6 2.1v.1l-1.2 1-.7-1-.5-1-.5 1 .5 2 .1 .3 1.1 1.8 1.2-1.3 1.2 1.7 .1 2.3 1.2-.7 .3 .7 1 1.2 1 1-1 1.3-1.3 .6-1.2-.8-.6 1.2-.1 2.2-.6 1.5-.7 .7-.5 .4-1.2 1.6zM311.2 480.4l-.2-1.1 .2-.5 .3 .5zM310 477.9l-.6-.9 .6-.8 .5 .8zM392.9 490.5l.1 .4 .2-.4-.2-.4zM232.2 488.2l.9 1.3 .9-1.3-.4-2.2 .2-2.2 .2-2.3-.9-1.1-.9 1.1v2.3l.2 2.2zM252.5 488.2l.4 1.1 .3-1.1 1-.8 1.2-.1 1 .9 .2 1.4 1.3-1.2 .2-.2 1-.2 .3-2-.3-1.8-1.2 1.4-1.3-1.3-1-.5 1-.5 1.3-.7 .6-1.1-.6-1.2-1.3 .2-1.2-.2-1.2 .2-.7 1 .6 2.3-1.2 1-.8 1.2zM264.7 488.2l.6 1.1 1.3 .9 1-2-1-1.3-.8-.9-.5-1.3-1.2 1.3zM285 488.2l.2 .2 1.2 1.3 .5-1.5-.1-2.2-.4-1-.7 1-.5 1.1zM288.3 488.2l.6 .6 1.2-.6-1.2-.5zM382.7 488.2l.4 .5 .2-.5-.2-.9zM387.8 488.2l.3 .7 .2-.7-.2-.8zM391.4 488.2l.4 .2 .1-.2 .1-2.2 1-1.2 1.3 .6 1.2-1.3 .1-.3-.1-.5-1.2-1.2-1.1-.6 .2-2.2-.4-1-.7 1-.5 2v.2l-1.2 2.1-1.3-.7-1.2 .4-1.3-.6-1.2-.1-1 1.2 1 1.3 1.2 .3 1.3-1.1 1.2 .5 1.3-.9 1 2.1zM229.3 486l.1 .3v-.5zM301.9 486l.6 1.2 1.3 .1 .5-1.3-.5-.7-1.3-.6-.3-.9 .3-.7 1.3-1.1 1.2 2.7 .7-.9-.4-2.3-.3-1-.5-1.2-.7-.8-.8 .8-.5 .8-1.2 .6-.9 .8-.1 2.3 1 1.6zM313.5 486l.2 .9 1.2-.8 1.3 1.9 .5-2-.5-1.3-1.3 1.3-1.2-.2zM339.5 486l.2 .5 .1-.5 .1-2.2-.2-.3-.2 .3zM342.1 486l.1 .5 .1-.5-.1-.2zM371.9 486l.1 .1v-.1l.8-2.2-.8-1.3-.6 1.3zM235.1 483.8l.5 .9 .5-.9-.5-2zM286.8 483.8l.8 1.1 .9-1.1-.9-1.1zM343.2 483.8l.2 .3 .2-.3-.2-1zM369.3 483.8l.2 .1 .1-.1-.1-.3zM229.9 481.5l.7 1.2 .4-1.2 .8-1.8 .2-.4 1-2.3 .1-.4 .2-1.8-.2-1.7-1.3 .5-1.2-.4-.8 1.6 .8 1.8 .2 .4-.2 .6-1 1.7zM245.1 481.5l.4 .6 .4-.6-.2-2.2-.2-.7-.9 .7zM357.7 481.5l.6 .1 .1-.1-.1-.8v-1.7l1.1-2-.8-2.2-.3-1-1.2-.3-.5 1.3 .5 .9 .8 1.3-.8 .8-.9-.8-.4-.7-.7 .7-.5 1.4-.2 .9 .2 .3 1.2 .7 1.3 1.2zM362.7 481.5l.6 1.1 1-1.1v-2.2l-.9-2.3-.1-.5-.2 .5-.8 2.3zM211.8 479.3l.2 .4 .1-.4-.1-.2zM225.1 479.3l.5 .9 .3-.9 1-1.6 .5-.7-.5-1.8-1.3 1.2-.9 .6zM258.8 479.3l.3 .5 .3-.5-.3-1.5zM292.5 479.3l.1 .1 .5-.1-.5-1.7zM383.8 479.3l.6 1 1.2 .3 1.2-.5 1.3-.1 1.2 .3 1.3-.6 .4-.4-.4-1.4-.9-.9 .2-2.2-.6-1.6-.2 1.6-1 1.2-1.3 .7-.5 .3-.7 .3-1.2 1.4zM252.5 477l.4 .6 1.3 .8 1.2-1.2 1.2 .7 .7-.9-.7-.8-1-1.4-.2-.7-1.2 .6-1.3-.6-.5 .7zM394 477l.3 .3 .8-.3-.8-1.1zM235.4 474.8l.2 .7 .5-.7 .1-2.3-.6-1.1-1.3 .2-1 .9 1 .5zM258.8 474.8l.3 1.4 .3-1.4-.3-.3zM391.7 474.8h.1l.4-2.3-.4-1.7-.2-.5-1-1.2-.6-1.1-.7-1.4-1.2 .6-.8 .8 .8 .6 1 1.7 .2 1.5 1.3-.4 .7 1.1zM256.5 472.5l.1 .2 .3-.2 .3-2.2-.6-2.2-1 2.2zM340.3 472.5l.7 1.1 1.2-.2 1.2-.9v-.1l1.3-1.6 .2-.5 .8-2.3 .2-.4h1.3l1.2-.9 1.2 .3 .6-1.2-.6-1-1.2-.1-.6-1.2-.6-1-.6 1-.7 1.1-.7 1.2-.5 .8-.6 1.4-.7 1.6-.8-1.6-.4-.7-.7 .7-.2 2.3-.3 .3zM352.3 472.5l1.1 .9 1.1-.9-.5-2.2-.6-2.3h-.1l-1.2 1.8-.2 .5 .2 1.3zM355.5 472.5l.3 .1 .1-.1-.1-.1zM359 472.5l.6 .5 1-.5-1-1zM387.7 472.5l.4 .4 .8-.4-.8-.5zM270.5 470.3l1 1.5 .3-1.5-.1-2.3 .3-2.2 .8-1.5 .3-.8v-2.2l.9-.7 .5-1.5-.5-1-.9 1-.3 1.5-1 .7-.3 .5-.1-.5-1.1-1.4-.6-.8 .6-.7 1.2-.6 .2-1 1.1-1 .6-1.2v-2.3l-.6-1.3-.4-.9-.9-1.1-1.2-1.1-.1-.1-.3-2.2-.9-.1-1.2-.2-.2 .3 .2 .7 .5 1.5 .7 1.1 .8 1.2 .5 .8 1.2 .6 .7 .8-.6 2.3-.1 .9-1.2-.6-.1-.3-1.2-1.5-.4 1.5 .4 2.2-.9 2.3 .9 1.3 .5 .9-.5 .4-1.2 1.1-1.2-.7-.3 1.4-.7 2.3 1 1.1 .8-1.1 .4-1.1 1.2-.3 1.3-.1 .7 1.5 .3 2.2zM286 470.3l.4 .7 .3-.7-.3-1.4zM325.6 470.3l.5 2.1 .2-2.1 .1-2.3 .9-2.1 .1-.1 .1-2.3-.2-.3-.3 .3-.9 1-.9 1.3 .5 2.2zM329.4 470.3l.4 .9 1.2-.7h1.3l1.2 .6 .2-.8-.2-.3-.6-2 .6-1 1.3 .6 .4-1.8-.4-.6-1.3-1.1-1.2 .1-.4-.7-.9-.7-.6-1.5-.4-2.2-.2-.7-1.2-.9-1.3-.1-.3 1.7 .3 .7 1.1 1.5 .2 .3 .9 1.9 .3 2.3-.6 2.2zM232.1 468l1 .9 1.2-.5 1.2-.4-1.2-.2-1.2-.5zM286.8 468l.8 .8 .9-.8-.9-1.5zM301.7 468l.8 .2 .4-.2-.4-.4zM304.4 468l.6 .8 .7-.8-.7-.7zM393.6 468l.7 1.2 .6-1.2-.6-1.1-.5-1.1-.8-1.2-.5-1.1-.7-1.1-.7 1.1 .7 1.9 .2 .4 1 1.5zM226.5 465.8l.4 1.8 .4-1.8-.4-2zM291 465.8l.4 .4 .1-.4-.1-.7zM300.5 465.8l.8 1.8 .4-1.8-.4-.7zM319.8 465.8l.1 .1 1.2 .2 .7-.3-.7-.5-1.2 .3zM317.9 463.5l.7 1.1 .9-1.1 .4-.6 .9-1.6 .3-.8 .5-1.4-.5-1.6-.4-.7-.2-2.2 .6-1.7 1.3 1.1 .4 .6 .8 .5 1.2 1.3 .5 .4 .8 .5 .8-.5 .4-.3 1.3-.5 1.2-.1 1.2-1.3-1.2-.9-1.2-.5-1.3-.7-1.2 3.6-.6-1.5-.7-1.9-1.2 .3-.3-.7-.1-2.2-.3-2.3v-2.2l.7-2.3-1.2-1-1-1.2-.3-.6-.6 .6-.3 2.2 .1 2.3 .1 2.2-.2 2.3-.3 1-.5-1-.8-2.2-.9 2.2 .2 2.2-.5 1.4-.4 .9 .4 2.1v.1l1.2 .9 1.3 1.2 .1 .2-.1 .1-1.3 .5-1.1-.6-.1-1.7-.2 1.7 .2 .2 .2 2zM260.8 461.3l.8 1 1.2-.3 .4-.7-.4-1.5-.2-.7-1-1.1-1.2-.3-1-.9-.3-1-.9 1 .9 .7 .4 1.6 .9 1.4zM281 461.3l.4 .7 .6-.7-.6-1.3zM315.6 461.3l.6 1.1 .7-1.1-.7-1.5zM323.4 461.3l.2 .8 1.2 .3 .8-1.1-.8-1.4-.7-.8-.5-.5-.4 .5zM389 461.3l.3 2.1 1.3-2.1-1.3-1.6zM213.1 459.1l.1 1.5 .2-1.5-.2-.6zM256.2 459.1l.4 1.9 .2-1.9-.2-1zM263.6 459.1l.5 .2 .8-.2-.8-.4zM265.6 459.1l1 1.3 .9-1.3-.8-2.3 .5-2.2-.6-1.4-1.2-.9-.1-.3-.4 .3-.8 1.5-1 .8 1 .3 1 1.9 .2 1.6zM276.2 459.1l.3 .9 1-.9-1-.9zM309.2 459.1l.8 1 1.2 1.1 .7-2.1-.7-2-1.2 .4zM313.3 459.1l.4 .8 .7-.8-.2-2.3 .2-2.2-.1-2.3 .1-2.2-.7-1.9-1.3 1.6-.1 .3 .1 .3 .7 1.9-.7 1.8-.1 .5 .1 2 .3 .2zM378.7 459.1l.7 2 1.2-2-.1-2.3-1.1-1.5-.7 1.5zM262.6 456.8l.2 1.2 .3-1.2-.3-1.8zM307.4 456.8l.1 1.2v-1.4zM244.4 454.6l1.1 2 .9-2-.9-2.1-.2-.2-1.1-1.7-.5 1.7 .5 1.8zM292.2 454.6l.4 1.6 .3-1.6-.3-.7zM337.8 454.6l.7 .8 .4-.8-.4-.9zM257.6 452.3l.3 .5 1.2 .6 .7-1.1-.1-2.2-.6-1.4-.1 1.4-1.1 1.8zM308 452.3l.7 .8 1-.8 .3-.1 .3 .1 .9 .4 .4-.4-.4-.4-.5-1.8 .5-1.5 .5-.8 .7-1.3 1.3 1 1.2-1.5 .7 1.8 .6 .9 .7-.9 .1-2.2 .4-1.6 .3-.7-.3-.3-.8-1.9 .8-1.4h1.2l.6-.9 .7-1.2 .7-1-.7-1.1-1.3 .1-.5 1-.7 1.5-1 .7-.2 .5-.8 1.8-.5 1.1-.8-1.1-.4-1.3-.6-1-.7-.2-.1 .2-1.1 1.9-.8-1.9 .3-2.2-.7-1.1-.7 1.1 .2 2.2-.8 1.7-.7 .6-.5 .4-.7-.4 .7-.5 .6-1.8-.6-1.2-.7 1.2-.6 1.8-.2 .5 .2 .5 .5 1.7-.5 2.1-.7-2.1-.5-.9-.6 .9-.5 2.3 1.1 .6 1.2-.2 1.3 .8 1.2-.8 1.2 1.8-.9 2.3-.3 1.2zM308.7 443.4v-.2l1.3-.9 1.2 .3 1.2-.7 1.3 1.4-1.3 1.1-1.2-.1-1.2 .9zM315.6 452.3l.6 .8 .5-.8-.5-.7zM362.8 452.3l.5 1.4 .5-1.4 .7-1.7 1.3 1.3 .7 .4 .5 .4 1.2 .9 .4-1.3-.4-.6-.3-1.6 .3-1.4 1.3-.6 1.2 .4 1 1.6 .3 2.1 1.1-2.1 .1-.1 1 .1h.3l1.2-2.3-.5-2.2-.7-2.3h-.1l-1.2-1.4-1.2-.5-1.3 1.3-.2 .6 .2 .6 1.3 1.2 1 .5-1 .8-1.3 .6-1.2 .7-1.3-.6-1.2-1.4v-.3l.2-2.1-.2-.1-1.2-.8-1.3 .7-.4 .2-.8 2.3 .2 2.2-.2 .5-.1-.5-1.2-.8-.7 .8 .7 1.5 .8 .8zM365.8 448.9l-1-1.1 1-1.3 .8 1.3zM262 450.1l.8 1.1 1.3 .1 .4-1.2-.4-1.3-1.3 .4-.7-1.4-.5-1.5-.7 1.5 .7 1.6zM274.3 450.1l.9 1 .7-1-.7-1.7zM328.6 450.1l.1-2.3-.1-.4-.1 .4zM335.6 450.1l.4 1.5 .3-1.5-.3-1.5zM345.1 450.1l.8 1.7 .8-1.7-.8-1.4zM376.4 450.1l.5 1.2 1.3-1.2v-.1l1.2-1.4 .6-.8 .3-2.2-.8-2.3-.1-.2-.1 .2-.8 2.3-.3 1.2h-1.3l-1.2 1zM380.2 450.1l.4 .4 .5-.4-.5-1.1zM255.6 447.8l1 .9 1.3-.4 .9-.5 .3-.9 .3-1.3 1-1.5 .3-.8-.3-.8-1.3 .5-.1 .3-1.1 .9-.6-.9-.7-1.5-1.2 .2-1.1-.9 .1-2.3-.2-.7-.8-1.5-.5-.4-.7 .4 .4 2.2 .3 1.3 1.1 1 .2 .6 .2 1.6 1 .7 1.2 1 .3 .6-.3 1.1zM277.5 447.8l.2 .1v-.1zM339 447.8l.7 1.2 1-1.2 .3-1.5 .3-.7 .9-1.1 .3-1.2-.3-1.4-1.2-.1-1.2 1.5 1 2.3-1.1 .9zM274 446.1l.8-.5 .4-.6 1.2-1.7v-2.2l-.1-2.3 .1-2.2-.7-2.2-.5-.6-.2 .6-1 1.5-1 .7-.2 1.4-.5 .8 .5 .3 1.2 2-1.2 1.3-.9 .9 .9 .8zM297.1 445.6l.5 .5 .3-.5 .9-2.2 1.2 .8 .5-.9 .8-.7 1.2-.1 .7-1.4 .6-1.4 1.2 .4 .7-1.3-.2-2.2-.1-2.2-.4-.4-.4 .4-1.6 2.2-.5 1.6-.6 .6-.6 .4-1.3 1.8-.4-2.2-.8-1-1.2-1.2v-.4l-.1 .4-1.2 .7-1 1.5 1 1.6 1.3-.1 .6 .8-.6 1.2-.3 1zM358.7 445.6l.9 1.8 1-1.8-1-.7zM212.4 443.3l.8 1.4 1.1-1.4-1.1-1.7zM216.2 443.3l.8 .7 .6-.7 .6-1.2 .3-1-.3-.6-.7-1.7 .7-2.1v-.2l-1.2-1.3-1.3 .7-.6 .7-.6 1.1-.3 1.1 .3 2.2 1.2-1.8 1.2 1.9zM266.4 443.3l.2 .2v-.8zM337.7 443.3l.8 1.5 1-1.5-1-1.9zM361.6 443.3l.4 .2 .5-.2-.5-.3zM226.4 441.1l.5 .8h1.2l.5-.8-.5-2.2-1.2 .9zM267.1 441.1l.7 .4 .5-.4-.5-1.1zM269.8 441.1l.5 .3 1.2 1.2 .4-1.5-.4-1.5-1.2 .4zM276.7 441.1l1 .8 .6-.8-.6-.7zM325.4 441.1l.7 1.6 .4-1.6-.4-1.1zM362.6 441.1l.7 1.7 .6-1.7-.6-1.9zM211.9 438.8l.1 .2v-.3zM219.3 438.8l.1 .2 1.3 .7 .5-.9 .4-2.2-.3-2.2 .6-2.3-1.2-.6-.5 .6-.1 2.3-.2 2.2-.5 2zM224.2 438.8l.2 .3 1.2 .4 .6-.7 .1-2.2-.7-.7-1-1.5-.2-.6-.2 .6-.8 2.2zM256.9 438.8l1 1.5 .7-1.5-.7-.4zM329.9 438.8l1.1 1.2 .7-1.2 .6-1.5 .7-.7-.7-.5-1.3-1-.5-.7-.3-2.3 .8-2 .2-.2-.2-1.5-1.2 1-1.2-1.4-.7 1.9-.6 1.8-.8-1.8 .8-2.1 .3-.2 1-.4 1.1-1.8 .1-.5 .2 .5 1 2 .7 .2 .6 .2 .1-.2 1.1-.9 .4-1.3-.4-1.3-1.1 1.3-.1 1.3-.1-1.3-1.2-1.4-.6-.9 .3-2.2-.6-2.3 .7-2.2 .1-2.3-.8-2.2 .9-1 1 1 .3 .7 1.2 1 .6-1.7-1.8-1.8-.1-.5-1.2-2.1-1.2 .9-.5 1.2-.7 1.2-.8-1.2 .8-1.6 .4-.6 .3-2.2 .5-1.1 1.2 .3 1.2-1.5-.8-2.2-.4-.7-1.1 .7-.1 .1-1.2 .8-1.3 1.1-.1 .2-1.1 .6-1.3-.4-.1-.2 .1-.3 .4-1.9-.4-.7-1.2-.5-.8 1.2 .1 2.2 .7 1.8 .3 .5-.3 .7-1.2 .5-1.3-.3-1.2-.1-1.3 1.1-1.1 .3 .7 2.2-.2 2.3 .6 1.2 1.3 .6 .8-1.8 .4-2.1 .2-.2 1.1-.5 1.2-.5 1.2-.9 1.3 1.4 .3 .5 .6 2.3-.9 1.5-.4 .7-.9 .3-1.2 1.1-1.2-.4-.4 1.3 .4 1.5 1.2-1.3 .7 2-.7 2-1.2-1.7-1.3 2v.2l-1.2 1.4-1.3-1-.7-.6 .7-1.9 1.3 1.3 1-1.7-.8-2.2-.2-.8-.8 .8-.5 1.1-.1-1.1-1.1-1-.8 1 .6 2.2-1 .9-1.3-.3-.8 1.7 .4 2.2-.2 2.3 .1 2.2 .5 1.4 .3-1.4 1-2 .2-.2-.2-.4-.9-1.9 .9-1.2h1.2l.3 1.2 .9 2 1.3-.8 .3 1.1-.3 .4-1.3 .1-.7 1.7 .7 1.7 1.3 .5v.3l-.5 2 .5 .5 1.2 .8 .4 1 .4 2.2 .5 .5 1.2 1 1.2-1.5-1.1-2.2 1.1-1.4 .8 1.4-.7 2.2 1.2 1.5 .6-1.5 .2-2.2 .4-1.3 .6-1 .7-.3 .4 .3-.4 1.2-.5 1.1 .5 1.2 .3 1 .9 2zM328.6 421.4l-.2-.5-.3-2.3-.8-1.3-.7-.9 .7-1.7 1.3 .2 .8 1.5v2.2l-.7 2.3zM322.4 430.2l-.5-.3 .5-1 .2-1.3-.2-.8-.7-1.4-.2-2.3 .9-.2 1.2 .1v.1l-.5 2.3 .5 .6 1.2-.2 .3 1.8-.3 .4-1.2 1.1-.9 .8zM325.7 425.4l.1-2.3-.2-2.2 .5-.3 .3 .3 .2 2.2-.4 2.3zM366.2 438.8l.8 .7 1.2-.7-1.2-.8zM368.3 438.8l1.2 2 1.1-2-1.1-1.7zM372.7 438.8l.5 1.1 .6-1.1 .6-1.2 1.3 .4 1.2 .8v.2l1.3 1 .7-1.2 .2-2.2-.9-.3-.5 .3-.8 2-.2-2 .2-1 .3-1.2-.2-2.3-.1-.5-.1 .5-.1 2.3-1 1.1-1.3 .1-1.2-.1-.9 1.1zM227.5 436.6l.6 2.2 .3-2.2 1-1.2 1.2-.3 .2-.7-.2-.4-1.2-1.3-1.3 1.1-.9 .6zM314 436.6l.9 1.7h1.3l.3-1.7 .9-2 .2-.2-.2-.2-1.2-.4-.1 .6-1.2 1.2zM363.4 436.6l1.1 1.7 1-1.7v-2.2l.3-.4 1.2-.6 1.2 .9 1.3-.2 .5 .3 .7 .9 .3-.9-.3-.5-.5-1.8 .5-1.6 1.3 .5 .5 1.1 .7 1.7 1-1.7 .2-.8 1.3-.9 .7-.5-.7-1.1-.8-1.2-.5-.4-.6-1.8-.6-1.3-.6-1 .5-2.2-.3-2.3 .4-.9 1.2 .4 .9 .5-.9 1-1 1.3 1 1.1 1.3 .3 .5-1.4-.3-2.3 1-2.2-1.2-1.4-.9-.9v-2.2l.9-.7 .6 .7 .6 2 .7-2 .6-1.1 .9-1.2 .3-.5 1.2 .2 .4 .3 .3 2.3-.3 2.2-.4 1.7-1.2-.6-.9 1.2-.3 .8-.8 1.4 .8 1.2 .7-1.2 .5-.6 1.2-.9 1.3 1.5-1.3 .8-1.2 .7-.3 .8 .3 1.5 1.2 .7 1.3-.8 .1 .8-.1 1.2-1.3-1.1-1.2 1-.7 1.2-.1 2.2 .8 1.7h1.2l1.3-1 .3 1.6 .2 2.2-.5 .7-.5 1.6 .5 1.7 1.2-.2 .7-1.5 .4-2.3-.2-2.2-.9-1.3-1-1 .2-2.2 .8-.5 1.3-.9 1.2 2.8 1.2-1.2 .1-.2-.1-.4-1.1-1.9-.1-.9-.6-1.3-.6-1.1-.1 1.1-1.2 .9-.9-.9 .9-1.6 1-.7-1-.7-.3-1.5 .3-1.2 1.3 .9 .8-2-.8-1.5-.3-.7-1-1.8-1.2-1.2-.6-1.5 .6-1.7 1.2 .7 .4-1.2-.4-.7-.7-1.6-.4-2.2-.1-.1-.1 .1-.6 2.2-.6 1.4-1-1.4-.2-.8-.2 .8-.7 2.3-.3 1.4-.8 .8v2.2l-.5 .9-.2-.9-1-1.7-1.3 1.4-.2 .3-.6 2.3v2.2l-.4 .6-.6 1.7-.6 1-1 1.2-.3 .2-.2-.2 .1-2.2 .1-.1 1.3-1.7 .6-.5-.6-.2-1.3-1.6-.5-.4-.7-1.1-.4 1.1 .4 2v.4l-1.2 2.1-.1 .1-1.2 .7-.8 1.4-.4 1.1-1.3 .3-.6 .9-.6 .1-1.3 1.3-.4 .8 .4 .7 1.3 .5 .8-1.2 .4-1.9 1.3 1.1 .5 .8-.5 1.4-.8 .9-.1 2.2-.4 1.2-.2 1.1 .2 .3 .5 1.9-.5 .9-.9 1.4zM365.8 430.3l-.9-.4 .9-1.1 .2 1.1zM368.2 431.5l-.4-1.6-.8-1.2-.9-1.1 .9-1.7 .9-.5 .3-.3 .8-2-.8-1.4-.6-.8 .6-.9 1.3 .8v.1l.5 2.2 .7 1.4 .5 .9v2.2l-.5 1.5-.4 .8-.8 .8zM394.1 436.6l.2 .5 .3-.5-.3-1.7zM213.3 434.4l1.2 1 .3-1-.3-1.4zM271.1 434.4l.4 1.1 .7-1.1-.7-.7zM288.7 434.4l.2 .7 .3-.7 .9-.8 1.3 .1 1.2-1.6 1.2-1.5 .7-.7 .6-1.5 1.2-.2 1.3-.3 .4 2 .8 .9 1.2-.8 .8 2.1-.4 2.3 .9 1.8 1.2-1.4 .2-.4-.2-.2-.7-2.1 .7-1.5 .4-.7-.4-1.4-.3-.9 .3-.9 .8-1.3-.6-2.3 1.1-.5 1.2 .3 1.2 .1 .1 .1-.1 .2-.6 2.1-.6 .7-1.2 .8-.4 .7 .4 .3 1.2 1.2 1.2-.7 .5-.8 .8-2.1 1.2 .8 .3-.9 1-1.3 1.2 1 1.2-2-1.2-1.6-.7-.6 .7-.6 1-1.7-.3-2.2 .2-2.3-.9-1.6-.3 1.6v2.3l-.9 1.3-.5 .9-.8 2-1.2-.1-.5-1.9-.8-1.7h-1.2l-.6-.5 .6-2.1 .1-.2-.1-.4-.3-1.8-.6-2.3-.3-1-.2 1-.3 2.3v2.2l-.8 2.3-1.2-1.1-.8-1.2 .8-1.5 .3-.7-.3-1.6-1.3-.5-1.2 .6-1.2 .5-.6 1 .6 .2 1.2 .8 .8 1.2-.8 2-.1 .3-.6 2.2 .2 2.3-.7 1.5-.6 .7-.6 2.3-.1 .4-1.2 1-1.3 .1-1.2-.3-1.2-.6-.2-.6-1.1-1.6-.4-.7-.8-1-1.1 1-.2 .4-.8 1.9-.4 .5-1.5-.5-1-.9-1.2 .1h-1.3l-.3 .8-.5 2.2 .8 .4 1.1 1.9 .2 .3 .2-.3 1-1.1 1.3-.1 1 1.2 .2 1.5 .3-1.5 .9-1.1 1.1-1.2-.3-2.2 .5-.6 .3 .6 .1 2.2 .8 .2 1.1 2.1-1.1 1.3-1.2 .8-.1 .1zM298.8 428.1l-.9-.5 .9-.4 .7-1.8 .5-1.5 1.3 .1 .6 1.4-.6 .7-.7 1.5-.6 2zM303.8 418.9l-.3-.3 .3-.3zM300 421.9l-.2-1-.2-2.3 .4-1.7 1.3 .5 .8 1.2-.8 2zM296.2 434.4l.1 .2 .2-.2-.2-.2zM308.5 434.4l.2 .9 .4-.9-.4-.5zM333.4 434.4l.1 .9 .4-.9 .4-2.3-.8-2.1-1.1 2.1zM215.5 432.1l.2 .1 .1-.1 .7-2.2-.8-1.1-.6 1.1zM217.4 432.1l.8 1.4 .8-1.4-.8-1.2zM225.3 432.1l.3 .3 .5-.3 .8-1 .2-1.2-.2-.7-.7-1.6 .4-2.2 .3-.9 .2 .9 1 1.6 1.2-1.6 .1-.5 1.2-1.6 .5 2.1-.1 2.2 .8 2.3v.1l1.3 1.2v-1.3l.6-2.3-.6-.7-.8-1.5 .6-2.3 .2-.6v.6l1.2 2.3v.1l.1-.1 1.2-1.4 1.2 .1 1.2 1 .2-2 .4-2.2 .5-2.3-1.1-.6-.3 .6-.1 2.3-.8 1.3-1.2 .3-1.3-1.4-.7-.2-.5-.2-1.3-1.3-1.2 1.2-1.2-1-1.3-.2-.3-.8-.9-1.3-1.3 .7-.3 .6 .3 1.6 .5 .7-.5 .4-.3-.4-.9-.7-1.2 .3-1.3-1.1-.1 1.5-.7 2.2 .8 1.1 .9 1.2 .4 1.4 1.2-1.4 .9 2.2-.2 2.3zM223.2 424l-.3-.9 .3-2 .5 2zM234.8 432.1l.8 1.1 1.2-.2 .7-.9-.7-1.2-1.2 .7zM251.9 432.1l1 .5 .3-.5-.3-1.8zM261.3 432.1l.3 1.1 .3-1.1-.3-.9zM272.4 432.1l.4 1.1 .2-1.1-.2-.4zM276 432.1l.5 1.1 .3-1.1 .9-1.5 .8 1.5 .5 1.4 .6-1.4 .4-2.2-.7-2.3 .4-2.2 .5-1.3 .7-1-.7-.9-.6 .9-.6 .7-1.2 1.6 .7 2.2-.8 .2-1.1-.2 .8-2.2-.9-.2-.7-2.1-.6-2-.4 2-.8 1.4-1.2 .1-.5 .8 .1 2.2 .4 .3 .5-.3 .7-.7 1.2 .4 1.2 .3-1.2 1.4-1.2-.5-.3 1.4 .3 .5 1.2-.4zM294.8 432.1l.3 1.2 .5-1.2-.5-.8zM306.1 432.1l.1 .5 1.3 .3 .5-.8v-2.2l-.5-.7-.3 .7-1 1.9zM309.8 432.1l.2 .5 .2-.5 1-1.1 .4-1.1-.4-1.4-1.2 .8-.5 .6zM311.9 432.1l.5 1.2 1.1-1.2-1.1-.6zM359 432.1l.6 1.3 .4-1.3 .8-2 .2-.2-.2-.7-1.2-.1-.8 .8zM380.6 432.2l.2-.1-.2-.3zM388 432.1l.1 .5v-.5l1.2-1.3 .5-.9-.5-1.2-.8-1.1-.4-.4-.3 .4 .1 2.3zM315.8 429.9l.4 .7 .2-.7-.2-.2zM357 429.9h.3l1-.9 .4-1.4 .9-.9 1.2-.4 .3-.9-.3-.7-1.2-.7-1.3 .2-.7 1.2-.5 1.5-.5 .7zM214.1 427.6l.4 .5 .2-.5-.2-.8zM312.1 427.6l.3 .3 .4-.3-.4-.5zM361.5 427.6l.5 .6 1.3-.1 .6-.5-.6-.6-1.3-.1zM368 427.6l.2 .8 1.3-.1 .4-.7-.4-1.4-1.3-.2zM216.4 425.4l.6 1.3 1.2-.3 .3-1 .9-2 .2-.3 .4-2.2-.6-1.5-.8 1.5-.4 .6-1.2 1-.7 .6zM375.7 425.4l1.2 .9 1-.9-1-1.6-1.2 1.5zM389.3 425.4v.2l.1-.2 1.2-2.3-1.3-1.4-.5-.8-.7-1.2-.8 1.2v2.2l.8 .8zM393.7 425.4l.6 .9 .2-.9-.2-.6zM212.5 423.1l.7 1.4 1.1-1.4 .2-.2 1.2-.4 .6-1.6 .7-1.9 .1-.4-.1-.2-1.3-1h-1.2l-.6 1.2-.2 2.3-.5 1.1zM284.8 423.1l.4 1.7 .2-1.7 1-1.3 1.2-.9 1.1-2.3-1.1-1.1-.9 1.1-.3 1.1-1.2 .5-.7 .7zM336.8 423.1l.4 .7 .4-.7 .3-2.2 .2-2.3-.9-1-.6-1.2-.6-.9-.5 .9-.7 .9-.5-.9-.8-2-.7 2 .7 2 .2 .2-.2 .4-1.2 .9-.7 1 .7 1.1 1.2 .2 1.3-.1 1.2-.2zM266 420.9l.6 .9 .5-.9-.5-1.4zM275.6 420.9l.9 .3 1.2 .8 1-1.1 .3-.4 .6-1.9-.6-1.6-1.3 1.1-.5 .5-.7 1.6zM281.2 420.9l.2 .6 1.3 .7 .9-1.3 .3-2.1 .1-.2 .6-2.2 .6-1 1.2-.3 1.2 .3 1-1.3 .3-.7 .2 .7 .4 2.3 .6 1.3 1.2-1.3 .1-.2v.2l.6 2.2-.5 2.3 1.1 .3 .9-.3 .3-.6 .7 .6 .6 .3 .4-.3-.4-.9-.5-1.4 .5-.3 1.2-1.5 .3-.4-.3-2.1-.1-.2-1.1-.6-1.3 .4-.3 .2-.9 .5-.7-.5 .7-.9 .4-1.3 .8-1.8 1.3 .6 .7-1.1 .5-1.3 1.3 .1 1.2 .6 1.2 .5 1.3-.1 1.2-1.6 .7-.4 .6-.9 .7-1.3 .5-.6 .4-1.7-.4-1-1.2 .9-1.3-1.6-.4 1.7-.4 2.3-.4 .4-1.3 .7-1.2-1-1.2 1.4-1.3-1.4-1.2 1.2-.4 .9-.9 1.3-1.2-1.3-.5 2.2-.3 2.3-.4 1.1-1.3-.9-.2-.2-.5-2.3-.5-2.2 1.2-1.8 1.2 1.8 .1 .2 1.1-.2-.3-2.2-.8-1.3-1.3 .6-1.2-.1-.4 .8-.9 1.6-1.2-1.6h-.1l-.9-2.3 1-1.6 1.2 .1 1.3-.2 1-.5-1-.7h-1.3l-1.2 .5-1.2-.6-1.3 .2-.7 .6 .7 1.4 .9 .8-.5 2.3-.4 .6-.7 1.6-.5 1.2-.4-1.2-.9-1.1-1.2 .9-.7 .2-.3 2.2 1 .7 .9-.7 .3-.4 .6 .4 .7 .4 1.2 1.7 .7-2.1 .6-1.2h2.4l.6 1.2-.6 1.7-.3 .6-.9 1.2-1.2-.4-.7 1.4-.6 1.1-.5 1.2 .4 2.2-1.1 .5-1.3 1.6zM360.5 420.9l.3 .4 .2-.4 1-1.1 .9-1.2 .4-.6 .7-1.6 .4-2.3 .1-.1 .1 .1 1.2 2 1.2-1.4 .5-.6-.5-.2-1.2-.6-.7-1.4-.6-.8-.8 .8-.4 1.4-.4-1.4-.9-1.7-.5 1.7-.7 1.9-.4 .3 .4 .4 .7 1.9-.5 2.2-.2 1.2zM391.2 420.9l.6 1.1 1.2 .1 .6-1.2-.6-.9-1.2-1.2zM234 418.6l.3 1.5 1.3-.3 .6-1.2-.6-1.6-.9-.6-.4-.5-.6-1.8 .6-1.6 1.1 1.6 .2 .5v-.5l.3-2.2-.3-1.4-.3-.9-1-1.4-1.2-.3-.1-.5-1.2-1.1-2.4-1-.1-.1-1.2-1.3-.2 1.3 .2 1.7 .3 .5-.3 1-.6 1.2 .6 .3 .7-.3 .6-.5 .5 .5-.3 2.3-.2 .5-.6 1.7 .4 2.3 .2 1 .3-1 .3-2.3 .6-1.1 .3-1.1v-2.3l.9-.8 .8 .8 .1 2.3-.9 1.3-.8 .9 .8 2 .2 .3 1.1 1zM339.1 418.6l.6 .6 .7-.6-.7-.3zM350 418.6l.9 1.2 .6-1.2 .6-1 .6-1.2 .7-1.2 .5-1.1-.5-1-.9-1.2 .2-2.3-.6-.7-1.2 .4-.2 .3 .2 .5 .7 1.8-.3 2.2-.4 1.1-.8 1.2zM394.3 419.2l.2-.6-.1-2.2-.1-.2-1.3-.1-.3 .3 .3 .2zM426.3 418.6l.2 .2 .7-.2 .6-.2 1.2-1 .6-1 .6-1.5 1.3 .3 .3 1.2 .9 2.1 1.3-.5 1.2-1.6h0l.7 2.2 .5 .8 1.3-.4 1.2 .4 1.2-.8h.1l1.2-1.1 1-1.1 .2-.5 .5-1.8 .7-2.2 .1-.5 .2 .5 .8 2.2 .2 1.4 .4 .9 .9 .9 .6-.9 .6-.7 .7-1.6 .5-1.4 .3-.8 .7-2.3 .3-.8 .8-1.4 .3-2.2 .1-.9 .3 .9 .1 2.2 .6 2.2 .3 .4 1.1 1.9 .1 .2 .7 2 .5 1.1 .3-1.1 .8-2.2 .2-.3 1.2-1.3 .5 1.6 .3 2.2 .1 2.3 .1 2.2 .3 1.2 .6-1.2 .6-1.7 .2-.5 .8-2.3 .2-.9 1.2-1.3 .1-.1v.1l.2 2.2-.2 1.1-.3 1.2v2.2l.3 1.3 .2-1.3 .2-2.2 .8-.8 .6-1.5 .2-2.2 .3-2.3 .2-.3 .5-1.9 .3-2.2 .2-2.3 .2-1 .6-1.2 .5-2.3 .1-1.2 .1-1 .5-2.3 .5-2.2 .2-.9 .4-1.4 .7-2.2 .1-.6 .7-1.7 .6-1.6 1.2-.8 .2 .2 1 1.1 1.3-.6 1.1-.5 .1-.1 .3 .1 1 .4 .1-.4 1.1-2.2v-.1l.3-2.2-.2-2.2-.1-1.2-1.2-1-.1-.1 .1-.2 1.2-1.4 .1-.6 1.1-1.2 .4-1.1 .2-2.2-.2-2.3-.2-2.2-.2-1.5-1.2-.2-.2-.6-.8-2.2-.2-1-.4-1.3-.9-2.2-1.2 .3h-1.3v-.3l-1.2-1.8-1.2-.4h-.2l-1.1-.4-.2 .4-1 1.4-1.3-.5-.5-.9-.7-1.4-1-.9-.2-.1-.2 .1-1.1 1.3-1.2-.8-.6-.5-.7-.3h-1.2l-1.2-.2-1.3-.1h-1.2l-1.3-.1-1.2-.8h-1.2l-1.3 .7-1.2 .4-1.3-.2-1.2-.8-1.2-.3-1.3 .1-1.2 .3-1.3 .6-1.2-.1-1.2-.3-1.3 .6-.7 .5-.5 .3-1.2-.3h-.1l-1.2-1.2-1.2-.7-1.3 .2-1.2 .2h-1.3l-1.2-.2h-1.2l-1.3 .2h-1.2l-1.3 .1-2.4 .4-1.3-.2-1.2-.1-1.3 .5-1.2 .3-1.2-.4-1.3-.2-1.2 .5-1 .6-.3 .2-1.2 .5-1.2-.1-1.3-.5-.5-.1-.7-.1-.3 .1-1 .5-1.2 .7-1.2 .3-1.3 .1-1.2 .1-1.3 .5v.1l-1.2 .8-.7 1.4-.3 2.2-.1 2.3v2.2l.2 2.3 .1 2.2-.1 2.3-.1 2.2-.1 2.3 .1 2.2v4.5l.1 2.2 .1 2.3 .1 2.2v2.3l.1 2.2 .1 2.3 .5 2.2 1.2 1.8 .5 .5-.5 1.6-.1 .6 .1 .8 .3 1.5 .7 2.2 .2 2.3 .1 .5 .6 1.7 .6 1.1 1.3-.7 .7-.4 .5-.2 .3 .2 .9 .9 .9 1.3 .4 .5 1.2 .7 1.3-.2 1.2-.8 .4-.2 .8-.2 1.3-.1 .9 .3 .3 .3 .6 2 .7 1.4 1.2-.9 1.2-1 1.3-.2 1.2-1.1 .2-.5 .6-2.2 .5-1.3 .5 1.3 .6 2.2 .1 .4 1.2-.1 .6 2 .5 2.2 .2 1.7v.6zM453.8 404.1l-.2-1.2 .2-.5 .1 .5zM462.5 405.5v-1.3l.2 1zM463.7 403.3l-.6-.4 .2-2.2 .4-2.2 .1 2.2v2.2zM219 416.4l.4 1.2 .7-1.2 .6-.4 1.1 .4 .1 .5 .1-.5 1.2-.7 .3 .7 .9 .8 .5-.8 .7-1.1 1.3 .4 .8-1.6-.8-2.1-1.3-.1-1.2 .8-1.2 .7-1.3-1.1h-1.2l-.8-.4 .6-2.3-1.1-1.3h-1.2l-1 1.3 .5 2.3v2.2l.5 1zM280.8 416.4l.6 .2 .2-.2-.2-.6zM387.3 416.4l.8 1.3 1.2 .3 .7-1.6 .6-1.2 .9-1.1-.8-2.2-.1-.9-.2 .9-1 2.2-.1 .2-1.2 .4-.5-.6-.8-1.3-.8 1.3 .8 1.1zM470.6 416.4l.6 .4 .1-.4 .3-2.3 .1-2.2 .4-2.3 .3-1.2 .3-1 .1-2.2-.3-2.3-.1-.5-.5 .5-.7 1-.3 1.3-.2 2.2-.6 2.2-.2 2.3 .1 2.2zM251.4 414.1l.3 .9 .3-.9-.3-.9zM278.4 414.1l.6 1.1 .2-1.1-.2-.6zM306.8 414.1l.7 .9 .5-.9 .7-1.2 .6-1-.6-.9-1.2-.3-1.2-1.1 .4-2.2-.5-.7-.7 .7 .6 2.2-.6 2.3 .7 1zM312.9 414.1l.8 .6 .3-.6 .9-2 .1-.2-.1-1.2-.2-1.1-1-.6-1.3-1.2-1.2 1.1-1.2-.7-.4 1.4 .4 .9 1.2 .7 1.2-.1 .8 .8zM336.9 414.1l.3 .8 1.3 .8 1.2-1.1 .9-.5-.2-2.2-.7-.8-.5 .8-.7 1-.8-1-.5-.8-.4 .8zM349.1 414.1l.5 .9 .4-.9-.4-.7zM474.7 414.1l.2 1.3 .1-1.3-.1-2.2v-1.1l-.1 1.1zM212.4 411.9l.8 1.8 .5-1.8-.5-.7zM215.5 411.9l.2 .4 .4-.4-.4-.3zM240.5 411.9v.1l1.3 1.2 .4-1.3 .8-1.5 .3-.8 .9-1.4 .7-.8-.7-2.1v-.6l.8-1.8-.2-2.2-.6-1.1-.4 1.1-.8 1.2-.7 1-.1 2.3 .4 2.2-.8 .7-1.3 .5-.5 1zM247.7 411.9l.3 1 .2-1 1-1.8 .4-.5-.4-1.9-.1-.3-.7-2.2-.4-.7-.9-1.6-.4-.6-.8 .6v2.3l.8 .9 .3 1.3-.3 1-.4 1.2 .4 .6zM250.2 411.9l.2 1 .8-1-.8-.9zM259.2 411.9l1.2 1.9 1.1-1.9-1.1-.7zM394.1 411.9l.2 .4 .1-.4-.1-.3zM222.8 409.6l.4 .6 .8-.6-.8-2.2 .3-2.2-.3-.4-.3 .4-1 1.2-.8 1 .8 1.2zM315.1 409.6l1.1 .8 .9-.8-.9-1.3-.5-.9-.8-1.1-.4 1.1 .4 1.9zM335 409.6l1 1 .6-1 .6-1.3 1.3 .8 .8-1.7-.8-.7-1.3-.8-.5-.7 .5-1.2 .5-1.1-.5-.9-.5-1.3-.7-1-1.2-.5-.9 1.5-.4 1-1.2 1.2 1.2 1 .8-1 .5-.4 1.2 .4-1.2 1.7-.2 .6 .2 .1 .7 2.1zM370.2 409.6l.5 1.3 .3-1.3-.3-.8zM389.3 410.4l1-.8-.9-2.2-.1-.1-.8-2.1-.4-1.7-1.3 .3-.9-.9-.3-.9-1.2 .1-.2 .8 .2 .4 1.2 1.7v.2l.4 2.2 .8 1.3 1.3 .1zM391.9 409.6l1.1 1.1 .5-1.1-.4-2.2 1.2-1.6 .3-.6-.3-1.3-.4-1-.6-2.2-.3-.5-.4 .5-.4 2.2-.3 2.3-.1 .2-.1-.2-1.1-1.6-.6-.7-.1-2.2-.6-.4-1.2-.1-.6 .5 .6 1.8 .2 .4 1 .8 .6 1.5 .7 1.4 .5 .8 .7 2zM212.9 407.4l.3 .2 .6-.2-.6-.3zM215.2 407.4l.5 .2 .4-.2-.4-.4zM308.3 407.4l.4 .8 .9-.8-.9-1.3zM333.3 407.4l.2 .1 .1-.1-.1-.2zM353.1 407.4l.3 .6 1.1-.6-.1-2.2-1-2.3v-.2l-1.3-.6-.8 .8-.4 .6-.6 1.7 .6 1.2 .5-1.2 .7-1.5 .8 1.5zM371.2 407.4l.8 .9 1.1-.9 .1-.2 .3-2-.3-1.8-.2-.5-1-.7-.9 .7 .9 1.2 .7 1.1-.7 .8zM474.8 407.4l.1 1.6 1.2-1.2 .1-.4 .3-2.2-.2-2.3-.2-.5-.3 .5-.9 1.9-.1 .4zM216.4 405.2l.6 1.5 .2-1.5-.2-.4zM234.8 405.2l.8 1.1 .9-1.1 .3-.7 .6-1.6-1.1-2.2-.7-1-.4 1-.7 2.2zM237.5 405.2l.5 .2 1.3 1.7 1.2-1.1 .5-.8v-2.3l-.5-.8-1.2-1.3-.8 2.1-.5 1.8zM307.2 405.2l.3 .5 .5-.5 .7-.9 1.3 .1 1.2-.3 .5 1.1 .7 2 1.3-1.3 .6-.7 .6-1.5 1.1 1.5 .2 .5 .1-.5v-2.3l-.1-.3-1.3-1.8v-.1l-1.2-.7-1.3 .4h-1.2l-.3 .3-.9 .6-1.2-.6-.1-.1-.2 .1-1 1.5-.1 .7zM312.4 403.1l-.1-.2 .1-.6 .3 .6zM375.5 405.2l.2 .8 .3-.8-.3-.7zM224.3 402.9l.1 .5 .3-.5-.3-.3zM226.3 402.9l.6 .7 .8-.7 .4-.5 1.3-1 1.2 .5 1.2 .3 .3 .7 1 1.2 .9-1.2-.9-1.1-.8-1.1-.5-.8-1.2 .4-1.2-.2-1.3-.4-.6 1-.6 1.3zM294.4 402.9l.7 1.2 .6-1.2-.6-1.5-.4-.7-.9-.6-1.1 .6 1.1 1.3zM297 402.9l.6 1.2 .6-1.2-.6-1zM299.4 402.9l.6 .7 .3-.7 .3-2.2-.6-1.3-.4 1.3zM320.4 402.9l.7 .7 .3-.7-.3-.3zM339.4 402.9l.3 .4 1.3 .3 .3-.7-.3-.2-1.3-.5zM346.9 402.9l.3 .4 1.2 .6 .7-1-.7-1.3-1.2 1zM376.4 402.9l.5 .9 .3-.9 1-1.2 .9-1-.9-.6-1.3 .5-.4 .1zM259.9 400.7l.5 1.5 .2-1.5-.2-.2zM279.7 400.7l.5 1.4 .2-1.4-.2-.5zM291 400.7h.9l-.5-.1zM316.8 400.7l.6 1 1.2 .1 .4-1.1-.4-.6-1.2-.3zM338.4 400.7l.1 .1v-.2zM367.9 400.7l.3 .2 .2-.2-.2-.1zM373.2 401.4l1.2 .6 1-1.3-1-.5-1.2 .4zM829.3 364.7l.2 2.2 .4-2.2-.4-2zM480.1 360.2l1 .5 .1-.5 .2-2.2-.3-1.1-.8 1.1zM830.6 358l.2 1.4 .3-1.4 .5-2.3 .4-1.5 .2-.7-.2-2.2 .1-2.3v-2.2l-.1-.5-.2-1.8v-2.2l.1-2.3 .1-.8 .5 .8 .7 1.4 1.3-1.2 .8 2.1 .4 .7 .7-.7 .6-.7 1.2-.6 1.2 .8 1.3 .4v.1l.5 2.2 .5 2.3 .2 .3 .8 1.9 .5 1.1 .6-1.1 .2-2.2v-2.3l.4-1.6 .3 1.6 .8 2.3 .1 .1 .2-.1 1.1-2.1v-.2l.3-2.2 .3-2.3 .6-1.9 .4-.3 .9-1.3 1.2 .2 .8-1.2 .4-1 .7 1 .5 2.3 .1 .2 .4-.2 .8-2 .3 2 1 .9 .5-.9 .2-2.3-.1-2.2 .4-2.3 .2-.9 .4 .9 .8 2.3h.1l1-2.3 .2-.2 1.2 .2 1.1-2.2 .2-.3 .5 .3 .7 .4 1.2 .9 .1-1.3-.1-1.6-.1-.7v-2.2l.1-2.2v-.1l1.3-.2 .1 .3 .4 2.2 .5 2.2 .2 .7 1.3-.1 .1-.6 .3-2.2 .2-2.2 .5-2.3 .1-.3 .3 .3 .9 2.1 1.1 .2h.2l1 2.2 .2 .5 .4 1.7 .3 2.3 .4 2.2 .2 .4 .8 1.9 .4 1 .2-1v-2.3l-.2-1-.3-1.2-.2-2.3 .2-2.2 .3-1.8 .3-.4 .3-2.3-.2-2.2-.1-2.3v-2.2l-.1-2.3-.2-1.3-.2-.9-.3-2.3-.2-2.2-.1-2.3-.2-4.4-.2-.8-.3-1.5-.1-2.2 .2-2.3 .2-.7 .2 .7 .5 2.3 .3 2.2 .2 .2 .5 2.1 .6 2.2 .1 .4 .4 1.8 .2 2.3 .2 2.2 .2 2.3 .3 1.9 .1 .3 .6 2.3 .4 2.2 .1 .5 .3-.5 .6-2.2 .4-.9 .9 .9 .3 .9 1.2 .5 .3-1.4 .6-2.3 .4-1.2 1.2-.7 .1-.3 .2-2.3-.3-1.3-.2-.9-.2-2.3v-4.4l-.3-2.3-.5-2.2v-.4l.1-1.9v-2.2l-.1-.7-.2-1.6-.2-2.2-.2-2.3v-2.2l.6-2.3 .8 2.3 .4 2.2v.2l.4 2.1 .3 2.2 .4 2.3 .2 .6 1.2 .2 .4-.8 .8-.7 .4 .7-.2 2.2-.2 1-.4 1.3 .4 2.1 .3 .1 1 .9v-.9l.3-2.2 .4-2.3-.2-2.2-.5-1.3-.5-1-.1-2.2-.2-2.3-.1-2.2 .1-2.3-.5-1.5-.3 1.5-.1 2.3-.4 2.2-.4 2-.4-2-.2-2.2-.3-2.3-.3-.5-.5-1.7-.1-2.3 .1-2.2 .5-1.3 .9-.9-.3-2.3-.3-2.2v-2.3l.4-2.2 .5-1 1.1 1 .1 2.2v1.1l.1-1.1v-2.2l.1-2.3 .2-2.2v-2.3l-.4-1.8-.2-.4-.9-2.3-.1-1-.3-1.2 .3-.7 .2-1.5 .3-2.3-.2-2.2-.2-2.3 .2-2.2v-2.3l.1-2.2 .2-2.3-.2-2.2-.1-2.3v-4.4l-.1-2.3-.2-.9-.5 .9-.5 2.3-.2 .9-.1-.9-.2-2.3 .1-2.2 .2-.9 .3-1.4 .2-2.2-.2-2.3-.3-1.8-.2-.4-.2-2.3 .1-2.2-.1-2.3-.1-2.2-.1-2.3 .1-2.2 .5-1.7 .8 1.7 .4 1.8 .1 .4 .4 2.3 .2 2.2 .2 2.3 .3 1.4 .8 .8 .5 .6 .4 1.7 .5 2.2 .3 .9 .2 1.4v2.2l-.2 2-.1 .3 .1 .4 .3 1.8 .5 2.3 .5 .8 .2 1.4 .7 2.2 .3 .3v-29.5l-.2-4.4-.3-2.3-.3-2.2-.1-2.3-.3-1.2-.2-1-.2-2.3-.4-2.2-.3-2.3-.2-1.7v-.5l-.3-2.3-.4-4.4-.3-2.3-.2-.7-.3-1.5-.2-2.3-.2-2.2-.3-2.3-.3-.6-.4-1.6-.2-2.3-.1-2.2v-2.3l-.2-2.2-.3-1.2-.2-1.1-.2-2.2v-2.2l-.1-2.3-.7-1.4-.2-.8-.3-2.3 .4-2.2 .1-.4v.4l.7 2.2 .5 2.3 .3 2.2 .5 2.3 .4 1.3 .3 .9 .3 2.2 .2 2.3 .5 2.2 .8 2.3 .2 2.2v2.3l.1 2.2 .1 .5 .8 1.8 .3 2.2 .2 1.1 .2-1.1 .1-2.2-.1-2.3-.1-2.2v-2.3l-.1-1.3-.4-.9-.1-2.3v-2.2l-.1-2.3-.4-4.4v-2.3l-.1-2.2-.2-.5-.3-1.8 .1-2.2 .2-1.2 .9 1.2 .4 .5 .4 1.7-.1 2.3 .2 2.2 .7 2.2v-22.6l-.9-2-.1-2.3-.2-2.2v-.5l-.8-1.8-.5-1.1-.4 1.1v2.3l.4 .7 .5 1.5 .1 2.3-.6 .7-.7 1.5-.4 2.2-.1 .7-.2-.7-.4-2.2-.7-1.3-.1-.9-.1-2.3 .2-1.3 .7-.9 .3-2.3-.1-2.2-.5-2.3-.4-1.6-.1-.6-.1-2.3v-2.2l-.2-2.3-.4-2.2-.4-2.3-.5-2.2h-45l.2 2.2v2.3l-.4 2.2-.2 .7-.2-.7-.4-2.2v-2.3l-.2-2.2h-26.4l-.1 1v-1h-24.2l-.2 2.2-.1 2.3-.2 2.2-.1 .7-.2-.7-.5-2.2-.5-1.9-.1-.4-.7-2.2h-1.7l-.1 2.2 .1 .7 .3 1.6 .5 2.2 .2 2.3 .1 2.2 .1 2.3 .1 1 .1 1.2 .5 2.3 .1 2.2 .3 2.3 .2 .5 .3 1.7 .2 2.3 .1 2.2 .2 2.2 .3 2.3 .1 .7 .1 1.5 .1 2.3-.2 1.6-.8 .6-.4 .8v-.8l-.4-2.2-.8-1.4-.4-.9-.3-2.2-.1-2.3-.4-2.2-.1-.4-.6-1.8-.2-2.3-.4-2.2v-.1l-1.2-2.2-.1-.6-.3-1.6-.7-2.3-.2-.3-.2-1.9-.3-2.3-.7-2.1-.1-.1-.3-2.3-.4-2.2-.5-1.6-1.2-.2-.1-.5 .1-1.7v-.5h-1.9l.1 2.2 .1 2.3 .4 2.2v.7l.4 1.6v2.2l-.2 2.3 .2 2.2 .3 2.3 .3 2.2 .1 2.3 .2 1.6 .2 .6 .6 2.3-.1 2.2-.3 2.2-.4 1.5-1.3-1.2-1 2-.2 .3-.1-.3-.3-2.3-.5-2.2-.3-1.3-.4-.9-.4-2.3-.4-2.2-.1-.3v.3l-.3 2.2v2.3l.1 2.2 .2 1 .5 1.2v2.3l-.2 2.2-.3 1.9v.4l-.2 2.2 .2 2.3v.5l.4 1.7v2.3l-.2 2.2-.2 1-.9-1-.3-.2-.5 .2-.8 1.2-.1 1.1v2.2l-.1 2.2-.1 2.3 .3 1.6 .1 .6 .2 2.3 .1 2.2-.4 1.9-.3-1.9v-4.5l-.9-.7-.6-1.5-.2-2.3-.1-2.2-.3-1.7-.6-.5-.7-1.3-.6 1.3-.3 2.2v2.2l-.3 .5-.1-.5-.4-4.4-.8-1.8-1.2 .5-1.2-.3-1.3-.7v-.1l-1.2-.8-.6-1.3-.3-2.3-.4-.9-.3 .9-.2 2.3-.7 1.6-1.1-1.6-.1-.8-.2 .8-.4 2.2-.1 2.3v4.4l-.4 2.3-.2 .4-.1-.4-.9-2.3-.2-.5-.5-1.7-.6-2.2-.2-.4-.9-1.9-.3-1.3-1.2 1.3 .1 2.3v2.2l-.1 .6-.3-.6-1-1.6-.3-.6-.9-2-.5 2-.1 2.2 .1 2.2-.1 2.3-.6 2.2-.1 .1v-.1l-.4-2.2-.4-2.3-.3-2.2-.1-.2-.3 .2-.9 .8-.4-.8-.5-2.2-.4-1.9-.4 1.9-.8 1.4-1.3-.9-.1-.5-1-2.3-.1-.1-1.2-2-.3-.1-.2-2.3-.4-2.2-.4-1.4-.2 1.4-.3 2.2 .3 2.3 .2 1.2 .3 1-.1 2.3v4.4l-.2 1.3-.5-1.3-.6-2.2-.1-.3-.1 .3-.5 2.2-.7 1.2-.3-1.2-.3-2.2-.4-2.2-.2-.6-.4 .6-.8 2.2v.1l-.1-.1-1-2.2-.2-.2-.3 .2-.9 .9-.6 1.3-.7 .9-.3-.9-.2-2.2-.7-2.2-.5-.1-.7-.2-.2 .2-1.1 1.6-1-1.6-.2-.4-.1 .4-.2 2.3 .3 1.7 .2 .5v2.2l-.2 1.6-.8 .7-.5 .1v-.1l-.8-2.3-.4-2.1v-.1l-.3-2.2-.3-2.3-.6-2.2v-.4l-.5-1.9-.3-2.2-.4-2.3-.1-.7-.1 .7-.4 2.3-.1 2.2 .2 2.3-.3 2.2-.5 1-.6 1.3-.2 4.4-.4 2.3-.1 .3-.2-.3-.9-2.3-.1-1-.1-1.2-.9-2.2-.2-.4-.3 .4-.3 2.2v2.2l-.4 2.3-.3 .7-.3-.7-.5-2.3-.4-2.2v-.1l-.1 .1-.7 2.2-.5 .6-.1-.6-.4-2.2-.3-2.2-.4-1.4-.4-.9-.8-1.5-.2-.7-.4-2.3-.5-2.2-.2-.9-.5-1.4-.5-2.2-.2-2.3v-.4l-1.3-1.8-1.2-.4v1.6l.2 1 .2 2.3v2.2l-.1 2.3-.1 2.2v2.3l-.1 2.2-.1 .2-.1-.2-.1-2.2-.2-2.3-.8-2-1.3 .9-.2 1.1-.1 2.3-.3 2.2-.1 2.3-.1 2.2-.4 .5-.2-.5-.8-2.2-.3-.8-.6-1.5v-2.2l-.2-2.3-.4-1.7-.7 1.7-.1 2.3 .2 2.2-.6 2.1-1.3-1.6-1.2-.4v-.1l-1.3-2.6-1.2-1.9-1.2-1.3-.2 1.3v2.3l-.1 2.2 .1 2.3 .2 .3 .3 1.9v2.2l-.3 2.3-1.3-1.9-.1-.4-.2-2.2-.3-2.2-.6-1.7-.4-.6-.5-2.2-.3-2.3-.1-.1v.1l-.4 2.3-.3 2.2 .3 2.3 .4 1.3 .2 .9-.1 2.2-.1 .3-.9-.3h-.3l-.3-2.2v-2.2l-.2-2.3-.7-1.6-.3-.6-.4-2.3-.6-2-.4-.2-.8-2.1v-.2l-1.3-1.5-.2-.7-.4-2.3-.4-2.2-.2-.8-1-1.5-.2-.5-.2 .5-.3 2.3-.3 2.2-.4 2.3-.1 .3-1.2 .9-.7-1.2-.6-1.1-1.2 .4-.7-1.6-.5-1.4-.2-.8-.2-2.3-.4-2.2-.5-1.1-.4-1.1-.4-2.3-.2-2.2-.2-2-.1-.3-.6-2.2-.2-2.3-.2-2.2-.2-.7-.5 .7v2.2l.1 2.3 .1 2.2v2.3l.1 2.2 .1 2.3v2.2l.1 .4 .1 1.8 .1 2.3-.2 1.1-.2-1.1-.1-2.3-.9-1.1-.8-1.1-.4-.5-1.3-.5-.2 1-.5 2.2 .2 2.3 .3 2.2v2.3l.2 1.6 .1 .6 .3 2.3 .2 2.2v4.5l-.3 2.3-.3 1.1-1.2 .1-.2-1.2-.3-2.3-.8-1.9v-.3l-.4-2.3-.1-2.2-.2-2.3-.5-1.8-.2-.4-.6-2.3-.4-2-.1-.2-1.2-1.6-.4-.7-.6-2.2-.2-.7-.4 .7-.3 2.2v4.5l-.1 2.3v2.2l-.5 .9-.2-.9-.3-2.2-.4-2.3-.3-.7-1-1.5-.2-.5-1.1-1.8-.2-.8-.3-1.4-.5-2.2-.4-1.5-.7 1.5-.6 1.2-.4-1.2-.5-2.3-.3-2.2v-.2l-.3 .2-.9 .7-1.3 1.4v.1l-.6 2.3-.4 2.2-.2 1.9-.1 .3-.2 2.3-.7 2.2-.3 .7-.2 1.6-.3 2.2-.1 2.3-.2 2.2-.4 1.3-.4-1.3-.4-2.2-.4-1.1-.4-1.2-.5-2.2-.4-1.1-.2-1.2-.4-2.2-.5-2.3-.1-.7-.6-1.5-.6-2.2-.1-1.3-1.2 .3-.1 1-.1 2.2v9l.1 2.2 .1 .4 .2 1.9 .2 2.2-.4 2.3v.1l-1.2-.1h-.1l-1.2-2.2v-.1l-.3-2.2-.2-2.3-.6-2.2-.1-.3-1-2-.3-1.3-1.2-.6-.8 1.9-.4 1.1-.8 1.2-.5 .9-.5-.9-.7-.7-1-1.6-.3-.4-1.2 .3v.1l-.3 2.3 .3 2.1v.1l.4 2.3 .1 2.2-.1 2.3-.3 2.2-.1 .2-.1-.2-.6-2.2-.5-1.2-.4-1.1-.3-2.2-.1-2.3-.5-1.7-.4-.5-.6-2.3-.2-2.2v-.2l-1 .2-.3 .8v1.4l-.2 2.3-1 2.2v2.3l.3 2.2-.2 2.3-.1 .2-.1-.2-1.1-1-.5-1.3-.5-2.2-.3-.9-1.2-.9-.7 1.8-.6 1.8-1.2-.7-1.2 1.1v2.3l-.8 2.2-.5 1.1-1.2-1.1-.9 2.3-.2 2.2-.2 1.3-1.2-.5-.2-.8-.9-2.2-.1-.3-.1 .3-.3 2.2v2.2l.2 2.3 .2 1.1 .3 1.1 .1 2.3-.1 2.2-.3 2.3-1.1-2.3-.2-.2-.9-2-.3-1.4-.2-.9-.4-2.2-.2-2.3-.3-2.2-.2-.9-.3-1.3-.5-2.3-.4-1.9-.2-.3-.7-2.3-.3-1.1-.4 1.1v2.3l-.1 2.2-.1 2.3-.7 2.2h-.1l-1.1 .5-.2-.5-1.1-1.6-1 1.6-.2 .8-.2 1.4-.4 2.3-.3 2.2-.3 1-.4-1-.7-2.2-.2-.6-1 .6-.2 .1-1-.1-.3-.1v.1l-1.2 .4-.3-.4-.9-2.1-1.1 2.1-.2 .2-.1-.2-1.1-1.4-.5-.9-.8-1-.5-1.2-.7-2.1-1.2 .9h-1.3l-1.2-1v-.1l-.5-2.2-.3-2.2-.1-2.3-.4-1-.3 1v2.3l-.1 2.2 .1 2.3-.3 2.2-.6 1.8-1.2-.6-.2-1.2-.3-2.2-.8-1.9-.3-.4-.8-2.2 .1-2.3-.2-1.3-.4 1.3 .2 2.3-.2 2.2-.4 2.3-.3 2.2-.1 2.2-.1 1.8v.5l-.7 2.2-.5 1.5-.6 .8-.6 .7-.4-.7-.9-1.5-.3-.8-.5-2.2-.4-2.3-1.3-1.5-.1-.7-.5-2.2-.6-1.1-.3-1.2-.3-2.2v-2.3l-.4-2.2-.2-.7-.7-1.6-.6-1.8-.2-.4-.7-2.3-.3-.7-.4-1.5-.8-2.3h-.1l-.2 2.3v2.2l.1 2.3 .1 2.2v2.8l.1 1.7-.1 .5-1.2 .1h-1.2l-1.3 1.6-1.2-.6-.5-1.6-.8-2.2-1.2-2.1-.2-.2-1-1.5-1.3 .1-.1 1.4-.1 2.3v4.5l-.3 2.2-.5 2.3-.2 2.2-.1-2.2-.9-2.3-.3-.4-.2-1.8-.3-2.3-.3-2.2-.4-2.2v-.1l-.7-2.2-.2-2.3-.3-1.7-1.3 .9-.2-1.4-.4-2.3-.6-1.7-.4-.5-.3-2.2 .1-2.3-.4-2.2-.3-.9-.3 .9-.3 2.2v2.3l.1 2.2-.4 2.2-.3 1.1-.1 1.2 .1 .9 .9 1.3-.6 2.3-.3 .8-.4 1.4-.8 1.4-.8 .9-.5 .8-.1-.8-.2-2.3-.2-2.2-.7-2-.1-.3-.5-2.2-.6-2.3-.1-.4-.3-1.8-.9-2.2-1-2.3-.2-.7-.4-1.5-.3-2.3-.4-2.2-.2-.6-.6-1.7-.6-3.3-.8-1.2-.5-2-.5 2-.6 2.3 .1 2.2-.2 2.3-.3 2.2-.2 2.3 .1 2.2 .2 2.3 .2 1.1 .1 1.1 .1 2.2 .1 2.3-.3 2-.6-2-.4-2.3-.2-.2-.5-2-.6-2.2-.2-.8-.6-1.5-.6-2.2v-.2l-.7-2.1-.6-1.4-.8-.8-.4-.6-1.2-.6-.6-3.3-.7-1.8-.1-.5-.4-2.2-.2-2.3-.1-2.2-.4-2.1-.3-.2-1-.7-.2 .7-.4 2.3v2.2l.1 2.3 .3 2.2-.6 2.3-.4 .5-.5 1.7-.7 2-1.3 .3v-2.3l-.4-2.2-.8-1.7-.3-.6-.9-2.2-.1-.1-.7-2.2-.1-2.2-.3-2.3-.1-.9-.1 .9-.2 2.3v2.2l-.1 2.3-.6 2.2-.2 1.2-1.3-.2-1.2 .6-1.3-.6-.3-1-.9-2.1-.1-.1-.4-2.3-.7-1.7-.2-.5-.5-2.3-.2-2.2h-1l-.3 2.2-.1 2.3-.2 1.4-.9 .8-.4 .2v-.2l-.4-2.2-.3-2.3-.5-2.1-.1-.1h-120.9l.7 2.2v.1l.7 2.2 .6 2.2 1.2 1.1 .9 1.2v2.2l-.4 2.3-.2 2.2 .6 2.3 .3 .5 1.3 1.6 .4 .1 .8 .3 1.3 .1 1-.4 .2-.2 .8-2 .4-.8 1.3-1 .5-.5 .7-1.2 .7 1.2 .6 1 .1 1.3v2.2l-.1 1.3-1.2 1 1.2 1.1 .5 1.1 .7 .6 1.2 .3 1.3 1.3v.1l.9 2.2-.1 2.2-.3 2.3 .1 2.2 .6 1.4 .5 .9 .8 2 .1 .2 1.1 .7 1.2-.4 1.3-.2 1.2 .8 .8 1.4 .5 .3 .9 1.9-.4 2.3-.5 2.2v.6l-.2 1.7-.4 4.4-.7 .5-.8 1.8-.4 1.5-.5 .7-.5 2.3-.3 1-.5 1.2-.7 .7-.8 1.6-.4 1.3-.5-1.3-.8-.9-.6 .9 .6 1.6 .6 .6 .7 .9 1.2 .4 1.2 .8 .2 .2 1.1 1 .7 1.2 .5 1.7 .6 .6-.6 1-1.2 .8-.2 .4-.6 2.3-.5 1.2-.5-1.2-.7-.6-.8 .6 .8 1.6 .4 .6 .2 2.2 .6 1 .5 1.3 .8 1.1 1.1-1.1 .1-.5 .2 .5 .5 2.2v2.3l.6 1.6 .4 .6-.3 2.3-.1 .3-.3-.3-1-1.4-.3-.9-.9-.5-.7-1.7-.5-2.3-.1-.1-1.2-.9-.6 1-.6 1.5-1.3-.1-.2 .9-.9 2.2-.1 .3-.2-.3v-2.2l.2-1.6 .7-.7 .5-.1 1.3-.9 .6-1.2-.6-1.3-.8-1-.5-1.2-.3-1 .3-1.6 .5-.6-.5-1.1-.5-1.2 .5-.7 1.3-.3 .9-1.2-.9-2.2-.1-.1-1.2-3.3-.2 1.1-.5 2.2v2.3l-.5 1.2-.3 1-1 1.1-.5-1.1-.7-2-.7 2-.2 2.3 .5 2.2 .2 2.2 .2 .7 .3-.7 .9-1.8 1.3 1.7 .1 .1 .5 2.3-.6 2-.3 .2-1 .6-.8 1.7-.4 1.2-1.2-1.1-.1-.1-.6-2.3 .7-.9 .7-1.3-.7-1-1.3 .8-1.2-.6-1.1 .8 1.1 .3 1 1.9-1 1.6-1.3-.4-.6-1.2 .6-2.2v-.3l.4-2 .9-1.5 1.2-.3 .2-.4-.2-.3-1.2-.2-1.3-.2-.4 .7-.2 2.2-.6 .6-1.2 .9-1.3 .1-.3-1.6 .3-.9 1.3-1.1 1.2-1.2 .6-1.2 .6-1.4 1.3-.5 .2-.4 .1-2.2 .9-1.8h1.3l1.2 1.1 1-1.6 .2-.3 .5-1.9 .8-2 .4-.3-.4-.4-.9-1.8-.4-.5-.3 .5-.9 1h-1.2l-.5 1.2-.8 .6-.8-.6-.4-.8-.6 .8-.5 2.3-.2 .2-1.2 .3-.2-.5-1-1.6-.3-.7 .3-.5 1.2-.2 1-1.5-1-1.4-1.1-.9 1.1-1.8 .1-.4 .3-2.3-.2-2.2 .5-2.3 .5-1.9 1 1.9 .3 1.5 .1 .8-.1 1.5-.2 .7-.1 2.3-.1 2.2 .4 1.1 .3-1.1 .1-2.2-.3-2.3 1.1-.9 .6-1.3-.6-1.7-.7-.6 .7-.8 1.3-1 .4-.4-.4-.2-1.2-2 .3-2.3-.1-2.2-.3-.4-1.2-.3-.5 .7 .5 1 .8 1.2 .4 2.3-1.2 1.5-.7-1.5 .2-2.3-.8-1.1-1.2 1-1.1-2.1-.1-.1-1.3-.7-1.2 .6-1.3-.6-1 .8-.2 .4-.3-.4-.9-.8-.7 .8 1.1 2.2-.4 2.3 1.2 .8 .2-.8 1-1.8 .5-.5 .8-1.9 1.2 1.1 .4 .8-.4 2.3 1.3-.9 1.2 .9 .9 2.2-.9 .6-1.2-1.8-.7 1.2-.5 2.2 1.2 1.8 .8 .5-.8 .7-1.2 1.5-.1 .9-1.1-.9 .4-2.2-.5-2.2-.7 2.2-.6 .5-.5-.5-.7-1.4-.4 1.4 .4 1 .4 1.2-.4 1.4-.7 .9 .4 2.2 .1 2.3-.1 2.2 .3 .8 .3-.8 .9-1.6 .6-.6 .7-2.1 .8 2.1-.3 2.2-.5 1.9-1 .4-.3 .1-1.2 1-.9 1.1 .9 1.5 .3 .8 .9 1.2 .9-1.2 .4-.7 .5 .7 .7 .7 1-.7-1-2-.1-.3-.8-2.2 .9-.7 .5 .7 .8 1.5 .5 .7 .7 1.1 .3 1.2-.3 1-1.2 1.2v.4l-1.3 1.7-1 .2 .3 2.2-.5 .6-1.3 .7-.6 .9-.6 .7-.5-.7 .5-1.2 .4-1 .6-2.2-1-1.1-1 1.1-.2 .5-.7-.5-.6-1.6-.6 1.6 .6 .5 .6 1.7-.4 2.2 1.1 .9 .5 1.4 .2 2.2 .5 1.1 .5-1.1 .7-2.2h.1l1.2-.2 .3 .2 .9 .3 1.3 .3 .8 1.6-.8 2.1-1.3-.9-1.2 .3-1.3 .1-.4 .7-.8 2.1-1.2-.2-.2 .3 .2 .5 1.2-.3 1.2-.1 .1-.1 1.2-1.6 1.2 .5 1 1.1-.7 2.3 .9 2.2-1.2 .9-.7 1.4 .1 2.2 .6 1.7 .6 .6 .7 1.2 .4-1.2v-2.3l-.2-2.2v-2.3l1-.8v.8l1.2 2.3-.6 2.2 .1 2.3-.7 1.6-.6 .6 .6 .5 1.2 1.5 .4 .2-.4 .6-.4 1.7 .4 1 1.1-1 .2-.4 .4 .4 .8 .6 .5 1.6 .8 1.6 .2 .7 1 1.9 .5 .3-.5 1.1-1.2-.4-.6-.7-.7-1.5-.6 1.5 .6 1.4 .3 .9 1 1 1.2 .7 .5 .5 .7 .9 .5 1.4 .8 .7 1.2 .3 .7-1-.7-.8-1.1-1.5-.1-1.2-.3-1 .2-2.3-.7-2.2-.5-.5-.7-1.8 .7-.9 .9 .9 .4 1 .2 1.3-.2 2.2 .3 2.3 .9 .4 .4-.4 .1-2.3 .8-.9 1 .9 .2 .7 .3 1.6-.3 .8-1.1 1.4 .9 2.3-1.1 2.2 .1 .2 1 2.1-.7 2.2 .9 .2 .2-.2 1-.9 .3 .9 1 1.6 .2 .7-.2 .7h-1.3l-.7 1.5 .7 .7 .6 1.5-.6 2.3-1-2.3-.2-.9-.6 .9-.6 1.1-.5 1.2-.8 .9-.6 1.3 .6 2 1.1-2 .2-.4 1.2-1.8 .5 2.2-.5 1.8-.2 .5 .2 .3 .8 1.9-.4 2.3 .1 2.2-.5 1.2-.4-1.2-.8-.7-.7 .7 .2 2.3 .5 2 .1 .2-.1 .2-1.3-.1-1.2 .7-.5 1.5-.3 2.2-.5 1-.8 1.2-.4 1-.7 1.3 .1 2.2-.1 2.3-.5 .5-.9-.5 .5-2.3-.5-2.2-.4-.4-1-1.9-.2-.6-.3 .6-.9 2.3 .8 2.2-.9 2-.1 .3 .1 .3 1.3 .8 1.2-.4 .3 1.5-.3 1.3-1.2-1.1-1.2 2.1-.1 .1-.4 2.1-.5 2.3-.3 .9-.1-.9-1.1-2.3 .1-2.2-.1-.8-1.3-.9-.2-.6 .2-.6 .4-1.6-.4-.8-1.2-.1-.8-1.4-.5-1.7-1.2 1.7h-.1l-1.1 .9-1.1 1.4 .5 2.2-.7 1.3-.3-1.3-.9-1.7-1.1 1.7-.2 1.8-.2 .5 .2 .2 .1-.2 1.2-.7 .7 .7-.2 2.2 .3 2.3 .4 .9 .3-.9 1-1.5 1.2-.2 .6-.6 .6-.5 .5 .5 .8 1.5 1.2-1.2 .7 2-.7 1-1 1.2 1 1.6 .7 .7 .4 2.2-1.1 1.3-1.2 .2-1-1.5 .1-2.2-.4-1.3-.6 1.3-.6 1.8-.2 .4 .2 .7 .4 1.5 .8 1.3 1.3 .6 .2 .4 1 .6 1.1 1.6 .2 1.2 .2-1.2 .8-2.2v-2.3l-.8-2.2 .4-2.2 .6-1.6 1.2 .1 1.3 .9 1.1-1.7-1.1-1.7-.7-.5 .7-.7 1.2 .1 1 .6-.8 2.2 .9 2.3-.3 2.2 .5 .6 1.2-.2 1.2 1 .2-1.4-.2-1.4-1.2 .6-1.1-1.4 1.1-.7h1.2l.5-1.6 .8-.5 .9 .5-.6 2.3 .9 .5 .5-.5 .8-1.4 .5 1.4-.5 1.4-1.3 2.6-.4 .4-.8 2.1-.5 .2 .5 .9 1.2-.3 1.3 1.3 1.2-1.3 .3 1.6-.3 .7-1.2 .1-.6 1.5 .6 1.2 1.2 .1 1.1-1.3 .1-.2 .2 .2 .4 2.2-.6 .6-1.2 .4-1.2-.3-.9 1.6-.4 1-.5 1.2-.7 1.6-.6 .7-.7 1.4-.2 .8 .2 .4h1.3l1.2-.3 .9 2.2 .1 2.2 .3 .5 1.2-.2 .7 2 .5 1.3 1.3 .6 .2 .3 .6 2.2-.8 .8h-1.3l-1.2 .4-.6-1.2-.6-.5h-1.3l-.6 .5 .4 2.3-.7 2.2-.3 .4-.9-.4-.4-.4h-1.2l-.9-1.8-.3-1.2-1-1.1 .3-2.2 .7-1.1 .4 1.1 .8 1.8 .6-1.8-.1-2.2-.5-.1-1.2-2.2v-.3l-.6-1.9-.4-2.3 .6-2.2 .4-.3h1.2l.4-2 .7-2.2-1.1-.9-.5 .9-.7 1-.7 1.2-.6 1.6-1.1 .7v2.2l.2 2.3 .8 2.2-.6 2.3 .1 2.2 .4 2.2-.1 2.3 .3 .3 1.2 1.9-1.2 .6-1.2-.3-1.3-.2h-1.2l-.1-.1-1.1-1-.4 1-.9 .9-1.2-.8-1.3 .3-1.2 .1-.6-.5-.6-1.1-1.3 1.3-1-.2-.2-.1-.1 .1-1.2 .4-1.2 .2-1.2-.5-.1-.1 .1-.1 1.1-2.1-1.1-2.2-1.3 1.9-1.2 .1-.1 .2 .1 .1 .5 2.1-.5 .6-1.3-.5-1.2 .1h-1.2l-1.3 .4h-1.2l-1.3-.2-.6-.4 .6-2.1 1.3 1.2 .7-1.3 .5-2 .8 2 .5 1.4 .3-1.4 .9-1.3 1.2 .3 1-1.3-1-1.1-1.1-1.1 1.1-1.8 1.3 .7 1.2 .9 1.3-.9 1.2 .1 .5-1.2-.5-1.7-.4-.6-.8-1-.6 1-.7 .7-.5-.7-.7-1-1.2 1-.1 .1-1.2 .5-1.2 .4-.6 1.3-.7 1.4-1.1 .8 .7 2.2-.8 .5-.3-.5 .1-2.2v-2.2l-1.1-.7-1-1.6-.2-.5-.6-1.7-.6-2.2-.2 2.2 .2 2.1 .2 .1-.2 .2-1.1 2.1 .7 2.2-.9 .5-.4-.5 .3-2.2-.8-2.3-.3-2.2v-.1l-.1 .1-.3 2.2v2.3l-.9 2.1-1.1-2.1 .2-2.3-.3-.7-.7-1.5-.2-2.3-.3-1.9-1.3 .8-.5 1.1 .4 2.3 .1 .5 1.3 1.4 .2 .3 .8 2.3-1 1.4-.3 .8-1 1.6-.8 .6-.4 .7-1.3-.2-.8-.5v-2.2l-.4-1.6-.2-.6-.5-2.3-.5-.9-.5 .9-.5 2.3-.3 1.5-.1 .7-.6 2.2-.5 1-.8 1.3 .8 .7 1.2-.1 .5-.6 .8-1.6 1.2 .5 .1 1.1-.1 .9-.4 1.3-.8 .9-1.3-.3-1.2-.1-.7-.5-.6-1.6-.4 1.6-.8 .8-1.2 .1-1.3-.6-.3-.3-.8-2.2 1.1-1.9 1.3 .5 .9-.9 .3-.4 1.2-1.3 .3-.5-.3-.7-.5-1.5 .5-2.3-.8-2.2-.4-2.2-.5-.1-.4-2.2 .6-2.3-.8-2.2-.1-.3-1.3-1.6-.8 1.9-.4 .7-1.3 .9-.4 .6 .4 .4 1.3 .3 1.2 .2 .9 1.4-.9 1.7-.4 .5 .4 .9 .7 1.4-.7 .8-.6 1.4 .6 1.9 .8-1.9 .5-1.2 .4 1.2 .4 2.3-.8 1.6-.7 .6-.6 1.4-.5-1.4-.7-1.8-1.3 .6-1.2 .3-1.2-.1-.5-1.2 .5-.8 1.2 .2 1.2-.6 .5-1.1-.5-1-.9-1.2 .4-2.3-.7-.5-.7 .5-.5 .9-.5 1.4-.8 1.3-.5 .9-.7 1.6-.2 .7 .2 1 1.2 .2 .8 1-.8 .9-.8 1.3-.4 1.3-.3 1 .3 .5 1.2 .7 1-1.2 .2-2.3 .1-.4 1.2-1.2 1.2 .7 .5 .9 .7 2.3-1.2 1-.9-1-.3-.8-.6 .8 .6 1.2 .2 1-.2 .3-1.2-.1-1.3 .8-1.2 .3-1.3-.4-.4-.9-.8-2-1.2 .3-1 1.7-.3 .9-1.2-.7-.3-.2-.3-2.2 .6-1.3 1.2-.2 .4-.8-.4-1.1-.8-1.1-.4-.4-.9-1.8 .9-1.6 .2-.7-.2-1.1-.9-1.1 .9-.6 .8 .6 .4 .2 .2-.2 .7-2.3 .4-1.2 .5-1-.5-.6-.9-1.7 .9-.9 .7 .9 .5 1.3 1.2-.6 .2-.7-.2-.4-.5-1.8 .2-2.3-.9-.9-.3 .9-.9 .9-.8-.9-.5-2.1-.3 2.1 .3 2.1 .1 .2-.1 .2-1.2 1.2-.9-1.4v-2.3l-.4-1.8-.1-.4 .1-.2 1.3-.8 .5-1.3-.5-.9-.3-1.3 .3-2.1 .5 2.1 .7 1.2 .7 1 .6 .8 .4-.8 .8-1 .5-1.2 .1-2.3 .5-2.2 .1-.5 .6 .5 .7 .5 1.2 1 1.3-1.1 1.2 .9 1 .9v2.3l-.6 2.2-.4 1.3-1.2-.5-.4-.8 .4-.2 .6-2-.6-1.7-.7 1.7-.6 1.6-.2 .6 .2 1.6 .5 .7-.5 .4-1.2 1.4-.6 .4 .6 .6 1.2 .6 .6-1.2 .7-1.7 .5 1.7 .3 2.3 .4 1.2 .5-1.2 .5-2.3-.5-2.2 .7-.9 .8-1.4 .5-1.6 .2-.6 1-2.2-1.2-1.8-1.3 .9-.3-1.4 .3-1.4 .5-.8 .8-1 .5 1 .7 2.1 .1 .1 1.2 .9 .8 1.3 .4 .5 .2-.5-.1-2.2-.1-.8-1.2-.9-.2-.5-1.1-1.3-.5-1-.2-2.2-.2-2.3 .1-2.2-.4-.5-.7 .5-.6 1.3-.1 .9 .1 .6 .9 1.7-.3 2.2-.6 1.4-.7-1.4-.5-.6-.5 .6-.7 1.1-1-1.1 .9-2.2-1.2-.8-1.2-.1-1.3-1.3-.9 2.2-.3 .5-.4-.5v-2.3l.2-2.2 .2-.8 1.2 .7 .3-2.2-.3-.7-.9-1.5-.3-.7-1.2-.7-1.1 1.4 1.1 1.9 .3 .3-.3 .2-1.3 .3-1.2 .6-.6 1.2 .6 .4 1.2 1.5 .1 .3 .2 2.3-.2 2.2 1.2 1.9 1.2-.5 .7 .9-.7 .7-.9 1.5-.3 1.2-.9 1-.4 .4-1-.4v-2.2l-.1-2.2-.1-.1v.1l-.1 2.2-1.2 1.4-1.2-.2-.4 1-.8 1.8-.3 .5 .3 2v.2l.1 2.3 1.1 1.2 .7 1-.7 2-.1 .3-1.1 1.3-.5 .9 .5 .7 .7 1.6 .3 2.2 .2 .9 .9 1.4-.2 2.2 .2 2.3-.4 2.2 .7 1 .6 1.2-.6 .8-.9-.8-.3-.8-.4 .8 .4 .9 .3 1.4-.3 .4-1.2 1.1-1.3 .2-.3 .5-.9 .6-1.3-.2-1.2 .8-1.2-.9h-1.3l-.5-.3 .5-.4 1.3-.1 .7-1.7 .5-.3 1.2-.5 1.3-.8 1.2-.2 .4-.5 .9-1.5 .5-.7-.3-2.2-.2-.5-.2 .5-1.1 1.9-.1 .3-1.1 1.8-.9-1.8 .1-2.2 .3-2.3-.8-.9-1.2 .9 .5 2.3-.5 1-.5-1 .4-2.3-1.1-.4-.7 .4-.6 .5-.4 1.8 .4 1.2h1.3l.5 1-.4 2.2-.1 .8-.6-.8-.7-.8-1.2-1.4-1.3-1.2-.8 1.2-.1 2.2 .9 1.1 .6 1.2 .5 2.2-1.1 1.2-.7-1.2-.3-2.2-.2-.9-.5 .9-.6 2.2-.1 .2-1.3 .8-1.2 .4-1.3-1.3v-.6l1.3-1.1 1.2 .4 .9-1-.9-.7-.9-1.6-.3-.9-.6 .9-.7 2.1-.8-2.1-.4-1.7-.1-.5 .1-.2 1.2-.2 1.3-1.1 1.1-.7 .1-.4 .5 .4 .8 .2 .2-.2 .1-2.3-.3-.7-1.3-.8-1.2 1.2-1.3-1.1-1.2 .1-.5 1.3-.7 .9-.7 1.4-.6 1.8-.3 .4-.9 .6-1.1 1.6-.2 1.1-1.2 .4-.7-1.5 .7-.8 .8-1.4 .4-1.7 .5-.5-.5-.3-.3 .3-.9 .7-.6-.7 .6-1.6 .2-.7-.2-1.8-.1-.4-1.1-.9-.4 .9v2.2l-.4 2.3 .8 .8 .5 1.4-.5 1.3-1 .9 1 1.6 .5 .7-.5 .6-1.3 .1-.6 1.5-.6 .8-1.3-.2-1.2-.3-1.2 .6-1.3-.7-1.2 .4-1.3-.1-1.2 .2-.5-.7-.7-1.8-.3-.4-.6-2.3 .9-1.7 1.2-.2 1.2 1.1 1.1 .8-1 2.3 1.2 1.4 1.2 .1 1.3-.3 1.2 .2 .9-1.4-.9-1.1-.5-1.2 .5-.6 .6-1.6-.6-1.9-.6 1.9-.6 1.4-.9 .8-.4 .9-1-.9 .2-2.2 .8-1.8 .2-.4-.2-.3-1.2-1.3-.7-.7-.6-1-.3-1.2 .3-.7 1 .7 .3 .5 1.2 .3 .8 1.4 .5 .8 .9-.8-.3-2.2-.4-2.3 1-2.2 1.2 .8 .2-.8 .2-2.3 .3-2.2-.7-.8-1 .8 .6 2.2-.8 2.1-.4-2.1-.8-1.1-1 1.1 .9 2.3-.9 2.2-.3 .4-1.2 1-.2-1.4 .2-.8 .2-1.4-.2-1.1-1.2 1.1h-.5l.3-2.3-1.1-1-.8-1.2 .8-1.7 1 1.7 .2 1.4h1.3l1.2-.5 .2-.9-.2-.6-1.2-.2-.6-1.5v-2.2l.2-2.3-.2-2.2 .6-.6 1.2-.4 1.2-1.3-1.2-.9-.4-1.3-.8-1.2-1.3 1.1v2.3l-.1 2.3-1.1 1.8-.2 .4 .2 1.3 .2 1-.2 .5-1.2 .9-.7 .8-.6 .8-.3-.8 .3-1.5 .3-.7 .5-2.3 .5-.8 .8-1.4-.2-2.3 .1-2.2 .5-1.2 .4-1-.4-1.7-.7-.6-.4-2.2-.1-.6-1.3-.8v-.9l-.3-2.2 .3-1.9 .1-.4 1.2-2 1.1 2-1.1 1.3-1 1 1 1.9 1.2-.6 1.2 .3 .5 .6 .8 .8 .9-.8-.9-1-.6-1.2-.7-2-.3-.3-.3-2.2-.6-2-1.2 .8-1.3-.5-.6-.6-.6-.7-.6-1.5-.4-2.3 .3-2.2 .7-1.1 .9-1.1-.5-2.3-.4-.7-1-1.5 .6-2.3-.9-2.1-.6 2.1 .2 2.3 .2 2.2 .2 1.2 .2 1.1-.2 .3-.4 1.9v2.2l-.8 .7-.3-.7-.4-2.2-.5-2-1.3 .3v-.7l1.3-1.6v-.6l-1.3-1.1-.7-1-.5-1-1.3-.2-.5 1.2-.5 2.2 1 1.2 .5 1.1 .8 2.2-1.3 2.1v.2l.6 2.2 .7 1.1 .8 1.1 .4 2.3-.2 2.2-.1 2.3-.9 1.1-.9-1.1-.4-1.1-.6 1.1-.6 1.7-.7-1.7-.3-2.3-.2-.6-.3-1.6-1-1.4-1.2-.2-1.3 .3-.8 1.3 .8 1.2 .9 1-.9 1-1.2 .3-1.1-1.3 .4-2.2 .7-1.8 .2-.5-.2-1-.5-1.2 .5-.7 1.2-.8 .5-.8-.5-.8-1.2-.3-.3-1.1 .3-1 1.2-.1 .6-1.1-.6-1.3-1.2 .7-1.2 .6-1.2 2.2-.1 .4-.4 1.8-.8 .7-.3-.7 .3-1.5 .9-.7-.2-2.2 .5-1.7 1.3 1.5v-2.4l-.4-1.9-.9-1.9-.8 1.9-.4 .9-1.2-.9-.1-.2v.2l-1.2 1.3-.2 .9 .2 2.1 1.2-1.7 .6 1.9-.1 2.2-.5 .2-.3 2-.2 2.3-.7 .2-.3-.2-.5-2.3-.4-1.5-1.2-.7 1.1-2.2-1.2-1.3-1.2-1 1.2-1.6 1.3 .1 .7-.7-.7-1.5-1.3 .8-1-1.6-.2-.3-.3 .3-1 1.7-1.2-.8-.2-.9-.3-2.2 .5-.8 .9-1.5 .3-2.2 .9-2.3-.9-1.9-1.2 .6-.8 1.3 .3 2.3-.7 1.5-1.3-.1-1.2-.4-1.3 .6-.9-1.6 .9-2.2 .2-.1 1.1-.3 1.2 .1 1.3-1.8v-.2l.5-2.3 .7-1.4 1.2-.3 .8-.5 .5-.4 1.1-1.8 .1-.4 1.3-.6 .3-1.3-.2-2.2-.1-.4-1.3-.3-1.2 .7 .5 2.2-.5 .8-.2-.8-1.1-2-.4-.2 .4-1.2 1.3 1 .3-2.1 .8-2.2-1.1-.4-1.3-.6-1.2-.1-1.2 1.1-.4 2.2-.9 1.3-1.2-.1-1.3-.2-.3-1-.4-2.2-.5-1-.8 1v2.2l.4 2.3 .4 .2 1.2 1.1 .6 .9-.5 2.3 1.2 .7 .8-.7 .1-2.3 .3-.4 .2 .4v2.3l1.1 1.9 .5 .3-.5 .7-1.3 .9-1.2 .3-.4 .3-.6 2.3-.3 2.1-.3-2.1-.6-2.3-.3-.5-1.2-.7-.7-1-.2-2.2-.4-.5-.1 .5-.9 2.2 1 1.4 .4 .8 .9 1.1 .8 1.2v2.2l-.8 2-.1 .3 .1 .2 .6 2 .1 2.3 .5 .5 .4-.5 .8-1.2 1.2 1.2-1.2 1.5-.2 .7 .2 .4 1.3 1.8 .3-2.2 .4-2.2 .5-.2 .1 .2 .6 2.2-.7 2-1.1 .3-.1 1.4v.8l1.2-1.1 1.1 1.1 .2 .1 1.2 1.9 .1-2 1.1-1.8 1.2 1.8-1.2 1.2-1.2 1.1 1.2 1.6 1.3-.9 1.2 1.5v.4l.2 1.8-.2 .4-.4-.4-.8-.4-.8 .4 .8 1.1 .3 1.2-.3 .9-.9 1.3 .9 .7 .6 1.6 .4 2.2 .2 .6h1.3l.5 1.7-.5 1-1 1.2 1 1.3 .8 1-.8 .9-1.3-.7-.1-.2-.3-2.3-.8-.6-1-1.6 .4-2.3-.7-1.2-1.1 1.2-.1 .4-.1-.4-.4-2.2 .3-2.3-1-1.4-.9-.8-.4-.5-.7-1.8 .7-1.5 1.3 .8 .5-1.5-.5-.9-1.3-.4-1.2-.5-.3-.4-1-1.3-.5 1.3-.7 1.3-.5 .9-.7 .9-.7-.9 .7-1.9 .1-.3-.1-.7-.7-1.6-.6-.6-.5 .6 .3 2.3-1 .6-.1 1.6 .1 .1 1.2 1.8 .1 .3 .7 2.3-.8 .2-1.2 2 .9 2.3-.9 .9-.4-.9-.9-1.4-1.1 1.4 1.1 1.4 .6 .8 .4 2.3 .3 .5 .6 1.7 .3 2.3 .3 .2 1.3 1 .7-1.2-.5-2.3-.2-.2-1.3-1.8-.3-.2 .3-.3 .6-2-.3-2.2 .9-2.3 .1-1.4 .1-.8 .8-2.3 .3-1 1.2 .7 .4 .3-.4 1.5-.2 .8 .2 .6 1.3 .1 .5 1.5-.3 2.3-.2 1.1-.5 1.1 .5 .4 .5-.4 .7-.4 .2 .4 .1 2.3-.3 .2-1 2-.2 1.1-.4 1.2 .4 .5 1.1 1.7 .1 .3 .1-.3 1-2.2 .2-.5 .4-1.8 .8-1.7 1.2 1.7v.1l.5 2.2 .8 .9 .8 1.3 .4 2.1 1.3-1.4 1.2-.3 .4-.4 .8-1 1.3-.4 .6-.8-.6-1.8-.3-.5 .3-.4 .4-1.8-.4-.8-.8-1.5-.5-1.6-.8-.6 .3-2.3 .5-2.1 1.3 .9 1-1 .2-1.2 .6 1.2-.6 .9-.3 1.3-.3 2.3 .6 .8 1.2 1.4-.2 2.3-.5 2.2 .8 1.7 1.1-1.7 .1-.4h1.2l.4 .4 .9 .6 1 1.7 .2 1.2 .5 1-.4 2.3 1.2 1.4 1.2-.1 .5 .9 .7 1.5 1.3-.4 .6-1.1 .6-1.6 .4 1.6 .9 .8 1.2 .7 .4 .7 .8 .7 .4-.7-.1-2.2-.3-.9-.4-1.3-.8-1.2-.9-1.1-.3-1.2-.4 1.2 .4 1.2 .3 1.1-.3 .6-.9-.6-.4-.3-1.1-2 1-2.2 .1-.1 .8-2.2 .5-.5 1.2-.3 .7 .8-.1 2.3 .6 .7 1.3 1.2 .1 .3 1.1 .9 .4 1.4-.4 .6-.5 1.6 .3 2.2 .2 1.1 .2 1.2-.2 .2-1.1 2-.1 1.1-.5 1.2-.4 2.2-.4 1.6-1.2 .6v.1l1.2 .8 .6-.8 .7-.5 .3 .5-.3 2.1-.1 .1-.2 2.3 .3 .8 .9-.8 .3-.3 1.3-.5 1 .8-1 .4-.6 1.8-.4 2.3-.3 .5-1.2-.4v-.1l-1.3-1-.5 1-.5 2.2-.2 1.2-.3-1.2-.9-1-.7 1-.6 1.4-1.4-1.4 .2-1.6 1.2 .2 .4-.8-.4-.7-1.2 .4-.3 .3-1 .4-1-.4-.1-2.3 .1-2.2 1-1.4 .5 1.4 .8 1.1 1.2-.4 .6-.7v-2.3l-.4-2.2-.2-.4-1 .4 .1 2.2-.3 .7-1.3-1.3-1.2-.3-.4 .9 .3 2.3-.6 2.2-.4 2.3h-.2l-.2-2.3-.3-2.2-.7-1.4-.8-.9-.4-.9h-1.3l-.5-1.3-.4-2.3 .4-2.2 .5-.8 1.3-1 1.1 1.8 .1 .5 .3 1.7 1 1.4 1.2-.6 .5-.8-.5-.8-1.2-.6-1.1-.8 .9-2.3 .2-.1 .2-2.1 1-2.3-1.2-1.1-.5 1.1-.8 1.7-.3 .6-.9 1.6-.6-1.6-.2-2.3 .5-2.2-1-1.9-.7 1.9-.5 1.5-.9 .7-.3 .4-1.3-1.3-.5 .9-.7 1-.7 1.3 .1 2.2 .6 1 .5-1 .2-2.2 .5-1.4 .6 1.4-.1 2.2 .8 2.2v.1l.7 2.2-.7 1.2-1.3 .3-.3 .8-.5 2.2 .8 1.2 .3-1.2 1-1.6 .8 1.6 .3 2.3-1.1 .8-1.3-.4-1-.4-.2-.7-.4-1.6-.1-2.2-.8-1.7-.4 1.7-.2 2.2 .5 2.3-1.1 1.1-1.2 .4-1 .7-.3 .2-1.2 .1-.2-.3-1.1-.7-1 .7 1 .8 .8 1.5-.6 2.2-.2 .4-.7-.4-.5-1.1-.2 1.1-1 1.1-.9 1.2-.3 2.2h-.1l-1.2 1.6-.2-1.6-.5-2.2-.6-1.2-.7 1.2-.4 2.2-.1 .6-1.2-.1-.5-.5-.1-2.2-.7-1.4-.8 1.4 .3 2.2 .5 1.4 .3 .8-.3 .7-1-.7-.2-.2-.3 .2 .2 2.3-1.2 1.5-.5-1.5 .2-2.3-.2-2.2 .5-.9 .2-1.3-.2-.4-1.2-.6-1.1 1h-1.4l-1.2 2.1-1.3-.7-.5 .8 .5 1.7 .3 .5-.3 .8-.6-.8-.6-.5-.4 .5-.8 .7-.9-.7 .9-.7 .6-1.5-.6-2.2 1.2-2.1 1.2-.1 1-.1h.5l1 1.9 .3-1.9-.3-.4-.4-1.8-.8-1.7-1.1-.6-.2-.1-.1 .1-.6 2.3-.5 1.8-1.2-1.1-.4-.7 .4-1.4 .6-.9-.6-1.1-1 1.1-.3 .2-.2-.2-.5-2.2-.5-1.1-.7-1.2 .1-2.2 .1-2.3-.8-1.5-.9-.7-.3-.9-.8-1.4 .8-.4 1.2 .1 1.3-.3 1.2-.7 .2-.9 1.1-2 .6-.3-.6-.2-.9-2-.4-1.2-1.1-1-.1-.3-1.3-1-.3-1-.9-1.1-1.1 1.1 .8 2.3-.9 1.3-.9-1.3 .6-2.3-.2-2.2 .5-.9 .5-1.4 .7-1.6 .9-.6 .3-.7 1.2-1.6-.3-2.2-.9-1.1-.6-1.2-.6-1.3-1.2-.9v-1.6l-.1 1.6-.4 2.2-.8 1-.5 1.3 .1 2.2 .4 2.1 .2 .2-.2 .1-.9 2.1 .1 2.3 .3 2.2-.7 .8-.8 1.5 .8 2 .2 .2-.2 2.2v.1l-.2-.1-1.1-1.1-.2 1.1 .2 2.3v.1l.5 2.1 .5 2.3 .3 1.1 .4 1.1 .8 .5 .7-.5 .6-.9 .6 .9 .6 1.3 .4 1-.4 .6h-1.2l-.9 1.6-.4 1-1.2 .1-.3-1.1-.5-2.2 .4-2.3-.9-1-.9-1.2-.3-.9-.4-1.4-.8-1.6-1.3 1.5v.1l-1.2 .9-.9-.9-.4-.8-.6 .8-.6 .9-.6 1.4 .6 1.1 .9-1.1 .3-.9 .2 .9 1.1 2.2 1.2-1.5 .5-.7 .8-1 .9 1-.7 2.2-.2 .4-1.2 1.9v2.2l.2 2.3-.3 .7-.8-.7 .5-2.3-.1-2.2-.8-2.3-1.3 .6-.2 1.7 .2 1.1 .7 1.1-.1 2.3 .7 .6 .4 1.6 .8 1.5 .3 .8 1 2.1v.3l-1.2 2.1 1.2 1.3 1.2 1.2 1.2 .7 1-1-1-1.4-1-.8 .8-2.3-1-1.3-.4-.9 .4-1.6 .4-.7-.4-1.4-.2-.8 .2-.3 1 .3 .2 .1 1.3 .8 1.2 1.3 .9-2.2 .4-.5 1.2-.4 1.2 .2 .3 .7-.3 1.6-.4 .6-.7 2.3 1.1 .9 .6 1.3 .7 .4 1.1 1.9-.3 2.2 .1 2.2-.9 2-.2 .3-1.1 .8-.9 1.4-.2 2.3h-.1l-.3-2.3-.9-1.3-1.3-.3-1.2 .5-.6 1.1-.7 1.8-1-1.8-.2-.4-1.2-.8-.6 1.2-.7 1.7-1.1 .6-.1 .1-.1-.1-.4-2.3-.8-1.1-1 1.1-.2 1.1-1.2 1.2v.1l-1.3 .9-1.2-.5-1.3-.2-.8-.3-.4-.1-.5 .1-.7 .2-1.3 1.3-1.2-.7-.4-.8-.9-.9-1.2 .6-1.2-.4-1.3-.5-1.2-.4-1.3 .1-1.2 .1-1.2-.1-1.3 .1-1.2-.7-.2-.2-1.1-.6-1.2-.8-1.2-.1-1.3 .2-1.2-.5h-1.3l-2.4 1.2-.9 .6-.4 .4-1.2 1.5-1.3-.2-.8-1.7-.4-1.2-.6-1-.6-2-.2-.3-1.1-1.3-1.2-.1-.7-.8-.6-.4-.6-1.8-.2-2.3v-2.2l.1-2.3 .1-2.2-.6-2.3v-.1l-1.1-2.1-.1-.4-.6-1.9 .4-2.2 .2-.3 1.2-.9 1.2-.7 .2-.4 .6-2.2-.1-2.3-.3-2.2-.4-1.5-1.2-.6-.5-.1-.7-.9-.1-1.4 .1-.5 1.2 .5 1.2-2.2-.5-2.3-.7-.4h-1.2l-1.1-1.8 .1-2.3 .9-2.2 .1-.2 1.2-1.1 .8-1 .2-2.2-1-.7-1.2-.3-1.3-1.2v-.1l-.4-2.2 .2-2.2 .2-1.3 .3-1 .4-2.2v-2.3l-.3-2.2-.4-.8-.5-1.5-.7-1.2-.7-1v-2.3l.7-1.1 .3-1.1-.1-2.3-.2-1.4-.1-.8-.2-2.2-.1-2.3-.4-2.2-.5-1.3-.6-1-.5-2.2-.1-2.3v-.4l-.3-1.8-.9-1.7-.3-.6-1-1.5-.6-.7-.6-.6-1.3 .1-.7 .5-.5 .3-1.2 .5-1.3-.2-1.2-.6-1.3-1-1.2-1.3v140.6l1.2 .3 .8 .6 .5 .2 1.2-.3 1.3-.8 1.2-.2 1.2 .5 .4 .6 .9 1.6 1.2 .4 1.3-1.3 .9-.7 .3-.2 .2 .2 1 .7 1.3 .7 1.2 .1 1.3-.2 1.2 .6 .2 .4 1 .9 1.3-.2 1.2-.5 .3-.2 1-.8 .8-1.5 .4-.4 1.2-.8 1.3-.2 1.2 .4 1.3 .6 1.2-.3 1.2-.1 1.3-.2 1.2 .5 1.3 .1 1.2-.4 1.2-.1 1.3-.9 .3-.4 .9-1.4 .5-.9 .8-1.1 1.2-1.1 1.2 .4 1.3 .1 .5-.5 .7-.5 1.3-.5h1.2l1.2 .2 1.3-.6 1.2-.5 1.3 .2 1-.6 .2-.1 1.2-1 1.3-.9 1.2-.4 .6 .2 .7 .4 1.2 1.5 .5 .3 .7 .8 1.1 1.5 .2 .2 1.2 .3 1.3 .2 1.2 .7 1.1 .8 .1 .3 1.3 2-.1 2.2 .1 .6 .5 1.7 .7 .4 .2-.4 .5-2.3 .6-1.3 1.1-.9h.3l1 .3 1 1.9 .3 .9 1 1.4 .2 .1 .7-.1 .6-.4 .8-1.9 .4-1 1.2 .6 .3 .4 1 1.3 1.2 .2h1.3l.9 .8 .3 .2 1.2 1.4 .8 .6 .5 .5 .6-.5 .6-.7 .9-1.5 .4-.4 1.2-1.4 .8-.5 .4-1.4 .4 1.4 .9 1.1 1.2-.7 .4-.4 .9-1.2 .9-1 .3-.6 .6-1.7 .6-1.8 1.3 1.6h1.2l.9 .2 .4 .1 1.2 1.8 .5 .4 .7 2.2v.1l-.2 2.2 .2 .9 .4 1.3 .9 1.9 1.2-.3 1.3-1.3 1.1-.3h.1l1.2 1.3 1.3 .9h1.2l.2 .1 1.1 1.5 .1 .7 .3 2.3 .6 2.2 .2 .1 .9-.1 .3-.1 1.3-.9 1.2-.2h1.3l1.2-.1 1.2 .7 .8 .6 .5 .3 1.1-.3h.1l1.3-.7 2.4 .8 .4-.1 .9-.3 1.2-.7 1.3-.8 2.4-.4v-.1l1.3-1.6 1.2 .2 1.3 .3 1.2-.2 1.2-.5h1.3l1.2 1.7 .1 .2 .7 2.2 .5 .6 1.2-.5 .1-.1 1.1-1.9 1.3 .4 1.2-.3 .8-.4 .5-.4 1.2 .1 1.2 .2 1.3-1.1 1.2 .5 .9 .7 .4 .3 1.2 .2 1-.5 .2-.2 .6 .2 .7 .1 1.2 .2 .8-.3 .5-.3 1.2-.3 1.2 .5 .1 .1 1.2 .9 1.2 .1 1.3 .8 1.2-.3 .7-1.5 .5-.6 1.3-.4 1.2 .6 1.3 1.3 1.2 .7 1.2-1.2 1.3-.4 1.2 .5 1.3 .4h1.2l1.2-.1 1.3-.5 1.2 .1 1.3 .2 .9-.6 .3-.4 1.2 .2 .1 .2 1.2 .8 1.2 .4 1.3 .2 1.2 .5 1.2 .1 1.3-.4 1.2-.8 1.3-.1 .6 1.5 .6 .7 1.2 .1 .7-.8 .6-1.5 1.2-.7 1.3 .5 1.2 1 1.2 .7h.3l1 .1 .3-.1 .9-.4 1.3 .2 .3 .2 .9 .3 .9-.3 .3-.2 1.3-1 1.2-.7 1.1-.3 .2-.1 1.2-.1 1.2 .1 .3 .1 1 .2 1.2 .1 1.3-.1 1.2 .9 1.2 .1 1.3-.5 1.2 .4 1.3-.1 1.2-.6 1.2 .1 1.3-.3 .6-.2 .6-.3 1.3 .2 1.2-.1 1.2-.6 1.3-.8 .3-.7 .1-2.2-.2-2.3v-2.2l.2-2.3 .2-2.2 .2-2.3v-9l.4-4.4v-4.5l-.1-2.3 .1-.4 .3-1.8 .9-2.3-1.2-1.7-.7-.5 .7-2 .1-.3-.1-.2-.5-2 .5-1.5 1.3-.2 .2-.6 1-1.9 .2-.3 .7-2.2 .1-2.3 .1-2.2 .1-1.3 .4-1 .9-1.5 .7-.7 .5-.7 1.3-.7 .3-.9 .5-2.2 .4-1.5 .2-.8 .6-2.2 .3-2.3-.1-2.2-.2-2.3 .4-4.4v-.5l.2-1.8 .1-2.2 .3-2.3 .3-2.2 .3-2.3-.4-2.2-.2-2.3 .4-2.2 .3-1.6 .4-.7 .8-1.5 1.3 .3 .6 1.2 .6 .9 1.2-.9 .6-2.2-.3-2.2-.3-.6-.8-1.7-.3-2.2 1-2.3 .1-.2 .7-2 .3-2.3 .1-2.2 .2-.5 1.2 .4 1.3-.3 .7-1.9 .2-2.2 .3-1.3 1.2 .5 .7 .8 .3 2.2 .1 2.3 .2 .6 .4-.6 .2-2.3v-2.2l.4-2.3 .2-.5 .6-1.7 .7-1.6 .7-.6 .5-.4 1.2-.6 1.3-1.2 .8 2.2 .4 .9 1.1 1.3 .2 .3 .9 1.9 .3 .4 .2-.4 .7-2.2 .3-1.1 1.3 1.1 1.2 2.2 1.3 1.9v.4l.5 2.2 .5 2.3 .2 .5 .5 1.7 .3 2.3 .3 2.2 .1 1.1 .4 1.2 .1 2.2 .3 2.3 .5 2.2v.3l.1-.3 .6-2.2v-2.3l-.1-2.2-.2-2.3-.4-1.6-.2-.6-.2-2.3-.1-2.2v-2.3l-.2-2.2-.6-1-.2-1.3v-2.2l.2-1.5 .7 1.5 .4 2.2 .2 .3 .5 2 .3 2.2-.1 2.3-.2 2.2-.2 2.3 .9 .8 1.2 1.4-.3 2.3-.3 2.2 .1 2.3 .6 1.1 .2-1.1 .2-2.3-.1-2.2 .9-1.8 .6 1.8 .6 4.4 .1 .1 .7 2.2 .5 1.9 .2-1.9v-2.2l.2-2.3-.1-2.2-.3-1.6-.2-.7-.3-2.2v-2.3l.1-2.2v-2.3l-.2-2.2 .1-2.3 .5-1.9 1.2 .8 .3 1.1 1 2.3 .9 2.2 .1 2.3v2.2l.2 1.8 .2-1.8v-2.2l.1-2.3 .7-2.2 .2-.2 .1 .2 .6 2.2 .6 1.9 .1 .4 .9 2.2 .2 .4 1.1 1.9 .2 .6 .6 1.6 .6 1.5 .2-1.5v-2.2l-.2-2.3v-.8l-.2-1.4-.4-2.3-.2-2.2v-2.3l-.1-2.2v-4.5l-.2-2.2-.1-.6-.2-1.7v-2.2l.2-1.3 .5 1.3 .6 2.2 .1 .1v-.1l.8-2.2 .4-.9 .2 .9 .5 2.2 .6 2v.3l.5 2.2 .3 2.3 .3 2.2 .1 .9 .3 1.3 .2 2.3 .7 2.2 .1 .3 .4 2 .3 2.2 .5 1.9v.4l.3 2.2 .3 2.3 .3 2.2v2.3l.3 1.9 .1 .3 .3 2.2 .3 2.3 .4 2.2 .2 1 .1 1.3 .1 2.2 .4 2.3 .5 2.2 .1 1.1 .1 1.2 .2 2.2 .4 2.3 .6 1 .2-1 .3-2.3 .2-2.2v-2.3l-.2-2.2-.4-2.3-.1-.4-.3-1.8v-2.3l-.1-2.2-.1-2.3-.5-2.2-.3-1.6-.1-.6v-2.3l-.1-2.2v-2.3l.2-2.2h0l1.2 2.2 .1 .1 .7 2.2 .4 2.2 .1 .9 1.2 1.2 .6-2.1 .2-2.2 .3-2.3 .2-.5 .1 .5 .4 2.3 .2 2.2-.2 2.3-.5 1.5-.9 .7-.4 .3-.3 1.9 .1 2.3 .2 1.5 .3 .7 .5 2.3 .5 2.2 .8-2.2v-2.3l-.2-2.2 .3-2.3 .3-2.1 .8 2.1 .5 .2 .5 2.1 .3 2.2-.1 2.3 .3 2.2 .2 .7 .6-.7 .6-1.5 .7 1.5 .6 2.2v.1l.4 2.2-.3 2.3v2.2l.1 2.3 .3 2.2-.5 .8-.6 1.4-.1 2.3 .4 2.2 .3 1.4 .9-1.4 .1-2.2-.4-2.3 .6-1.2 .3 1.2v2.3l1 1.8 .1 .4 .5 2.3-.1 2.2v2.3l.7 1.6 1.2 .4 1-2-.2-2.3 .3-2.2 .2-.4 .1 .4 .3 2.2 .2 2.3 .6 .9 .4 1.3 .9 1.8 .3 .5 .9 1.4 .2 .8 .3 2.3 .7 2.2v.1l.7-.1 .6-.4 1.2-1.4 .5-.4 .8-.6 .1 .6 .5 2.2 .6 1.1 .5 1.2 .7 1.1 .6 1.1 .3 2.2 .4 2 .4-2 .2-2.2 .6-1.3 .3 1.3 .3 2.2 .4 2.3 .3 1.2 1.2 .7 .1 .3 1.1 1.5 1.1-1.5 .2-.2 .5-2 .7-1.5 .3 1.5 .5 2.2 .5 1.2 .4-1.2 .4-2.2 .1-2.3 .3-2.2h0l.7 2.2 .5 2.1 .1 .2 .6 2.2 .6 1.7 1 .6 .2 .1 1.2 2.1 .1 .2v-.2l1.2-1.8 .7 1.8 .4 2.3 .1 .4 .5-.4 .6-2.3 .2-1.6 .6 1.6 .6 .3 1.3 .6 1.2-.1 1.2 1.4v.1l.5 2.2 .8 1 .3 1.3 .4 2.2 .4 2.3 .1 .3 .6-.3 .3-2.3 .4-1.9v-.3l.8-2.3-.1-2.2 .1-2.3 .4-.6 .1 .6 .3 2.3 .8 2 .1 .2 1.2 1.9 1.2-1 .3-.9 .7-2.2 .3-.3 .1 .3 .6 2.2 .5 1.7 .1 .6 .8 2.2 .3 .9 1.1 1.4 .2 .2 .5 2 .6 2.2 .1 .3 1.3 .8 .1-1.1 .3-2.2 .1-2.2 .1-2.3 .3-2.2 .3-1.7 .6 1.7 .6 4.4 .1 .1 1.2 .8 1.2 .9 .6-1.7v-4.5l.2-2.3 .2-2.2 .3-1 .3 1 .5 2.2 .4 .6 .7 1.7 .5 1.4 .5 .8 .8 1.9 .7 .4 .5 .2 .4-.2 .5-2.3 .1-2.2v-2.3l-.2-2.2 .2-2.3 .3-1.3 .2 1.3 .2 2.3-.1 2.2 .1 2.3 .8 .6 .7 1.6 .5 1.4 .4 .9 .4 2.2 .5 1.6 .4 .6 .8 1.1 .6-1.1 .6-2.2v-4.5l.1-.5 1.2-1.6 .8 2.1 .4 1.6 .1 .7 .3 2.2 .9 1.9 .7-1.9 .3-2.2 .2-.7 .9-1.6 .4-.4 .3 .4 .8 2.3 .1 .4 .2-.4 1-2.2 .1-.1 .3-2.2-.1-2.3-.1-2.2-.1-2.3-.1-1.2v-4.3l1.3 .3 .1 .7 .5 2.3 .6 2.2v.1l.5 2.2 .3 2.2 .3 2.3 .2 .4 .5 1.8 .3 2.3 .3 2.2 .1 .5 1.2 .9 1.3-.9 .3-.5 .9-2.2v-.3l.1 .3 .7 2.2 .5 .7 .9-.7v-2.2l.1-2.3 .2-.7 .4 .7 .8 1.3 1.3-1 .6 2 .4 2.2 .2 .7 .8-.7 .5-.8 .7-1.4 .5-1.1 .9 1.1 .3 .2 .2-.2 .4-2.3 .4-2.2 .3-.8 1.2-2 .1 .5 1.1 2.3 .1 .1 .8 2.1 .2 2.3 .2 1.3 1.2 .2 .2 .7 1.1 2 .5-2 .1-2.2-.2-2.3-.3-2.2 1.1-1.6 1.2 1.6 .1 .2 1.2 1.4 .1 .6v2.3l1 2.2 .1 .6 .4 1.6 .9 2 .3-2 .2-2.2v-2.2l-.2-2.3-.3-1.2-.2-1 .1-2.3 .1-1.3 .3 1.3 .9 1.3 1 1 .3 .4 1.1 1.8 .1 .2 1.2 .6 1.3 1.4 1.2-2 .2-.2 1.1-2.1 .1-.1 1.1-.8 .3 .8 .8 2.2 .1 .4 .4 1.9 .3 2.2 .6 2.2 1.2-1.1 .1-1.1v-4.5l.7-2.2 .5-1.1 1-1.2 .2-1.6 1.2 .1 .8 1.5 .5 1 .8-1 .4-.4 .2 .4 1.1 2 .9-2 .3-.7 .1 .7 .5 2.3 .6 1.2 .4 1 .3 2.3 .4 2.2 .2 .7 .3-.7 .4-2.2 .1-2.3 .4-2.2 1.3 1.1 1.2-.2 .6-.9 .6-1.6 1.3-.2 1.2 1.1 1.3-.4 1.2 .4 .2 .7 1 1.7 .9-1.7 .3-2.3 .1-.8 .9 .8 .3 .1 .2-.1 1.1-.5 .3 .5 .7 2.3 .2 .5 .3-.5 .8-2.3 .1-1.1 1.3-.2 1.2 1.3 .7 2.3 .6 1.2 .3 1 .7 2.3 .2 .9 .5 1.3 .7 1.8 .1 .4 .5 2.3 .7 2.2v.1l1 4.4 .2 1.4 .3-1.4 .4-2.2-.2-2.3-.1-2.2-.1-2.3-.2-2.2v-2.2l.3-2.3 .2-2.2 .3-2.3 .4-1.1v1.1l.3 2.3 .7 2.2 .2 .4 .3 1.9 .7 2.2 .2 .5 .4-.5 .5-2.2 .4-1.5 .4 1.5 .3 2.2 .5 1.2 .7-1.2 .2-2.2 .4-2.1 .5-.2 .6-2.2 .1-.7 1.2-.6 1.3-1.3 .3 .3 .9 .7 .4-.7 .4-2.2 .5-1.7 .3 1.7 .3 2.2 .6 2.1v.2l.8 2.2 .1 2.3 .3 1.6 1.1 .6 .2 .4 .8 1.8 .4 .2 .2-.2 .6-2.2 .5-1.4 .2-.8 .6-2.3 .4-2.2v-.6h1.2l.2 .6 .9 2.2 .2 .7 .2-.7 .3-2.2 .1-2.3 .2-2.2 .4-1 .3 1 .3 2.2 .7 2 .1 .3 .7 2.2 .4 1.1 1.2 .7 .2 .5 .5 2.2 .6 1.3 .7 .9 .5 1.2 .3-1.2 .6-4.4 .4-1.7 1.2 .3 .3 1.4 .8 2.2 .1 .2 1.3 1.8 .4-2 .1-2.2-.1-2.3-.2-2.2 .1-2.3-.2-2.2-.1-1.8v-.7l1.2-.8 .3 1 .6 2.3 .4 1.6 .1 .6 .6 2.3 .5 2.2v.1l1 2.2 .2 1.3 1.3-.9 1.2 1.4 1.3-.7 .8-1.1 .4-.7 1.2 .1 1.3-1.4 .7 2 .5 1 1.3-.7 1.2 1.8 .4-2.1 .1-2.3 .7-1.2 1.3 1 .1 .2 1.1 1.9 .1 .4 .3 2.2 .4 2.2 .4 2.3 .1 .1 .4 2.1 .6 2.3 .2 .6 .6 1.6 .6 2.1 .1 .2 .7 2.2 .5 1.5 .5-1.5 .3-2.2 .3-2.3 .1-.7 .2-1.5 .1-2.3-.2-2.2-.1-1.4v-3.2l1.3-1.3 1-.8 .2-.2v.2l.9 2.2 .3 .7 1 1.5 .3 .5 1.2 .1 1.3-.3 .2-.3 .3-2.2 .7-1.2 1.2 1.2v.1l.1-.1 .3-2.2 .8-2.3 .1-.1 1.2-1.6 .3-.5 .9-2.3 .1-.1 1.2-1.9 1.2 .8 .2 1.2 .2 2.3 .3 2.2 .5 2.3 .1 .2 .1 2 .6 2.2 .5 1.4 1.3 .7 1.1-2.1v-2.2l.1-1.3 .3 1.3 .9 1.9 .8 .3 .5 .4 .1-.4 .2-2.2 .6-2.2 .3-.2 .1 .2 .8 4.4 .4 .9 .6 1.4 .5 2.2 .1 .9 .2-.9 1-2.2v-.1l1.3-2 .4-.2 .8-.8 .4 .8 .9 1.2 .7 1.1 .5 .6 .4 1.6 .6 2.3 .2 .9 .6 1.3 .7 1.7 .5 .6 .7 2.2-.1 2.3 .1 .9 1.1-.9-1-2.3 .5-2.2 .3-2.3 .3-2.2 .1-.2v.2l.3 2.2 .6 2.3 .3 .5 .3-.5 .9-2.3v-.2l.1 .2 1.2 1.2 .8 1.1 .2 2.2 .1 2.3 .1 .3 .2-.3 1-2.3 .1-.1 .1 .1 .5 2.3 .4 2.2 .2 .7 .4-.7-.1-2.2-.1-2.3 .1-2.2v-2.3l.2-2.2 .5-2.3 .1-2.2-.1-2.3 .2-1.8 1.3 1.3 1.2 .4v.1l.4 2.3 .9 2v.2l1 2.3 .2 .3 .5 1.9 .7 2 .4 .3 .7 2.2 .1 2.3 .1 .3 .1-.3 .1-2.3 .1-2.2 .1-2.3 .2-2.2v-2.3l-.1-2.2v-2.3l-.1-2.2 .1-2.2 .7-1.4 .4 1.4 .4 2.2 .5 1.8 .2 .4 .9 2.3 .1 1.1 .8 1.1 .4 .9 .2 1.4 .6 2.2 .5 1.1 .2-1.1 .3-2.2 .1-2.3 .6-1.9 .6 1.9 .2 2.3 .5 2 1.2-.7 1.2 .6 .1-1.9-.1-.4-.3-1.9-.1-2.2-.1-2.3-.1-2.2v-2.2l.4-2.3 .2-.7 .3 .7 .9 2.3 .1 .4 .3 1.8 .3 2.2 .4 2.3 .2 .8 .4 1.4 .4 2.3 .5 2.1 .3 .1 .9 .7 1.2-.7 .5-2.2 .1-2.3 .2-2.2 .5-1.6 .4 1.6 .8 1.4 .3 .8 .8 2.3 .2 .7 1.2 1.3 1.2-1.7 .9 1.9 .4 .8 1.2 .9 .9 .6 .4 .1 .8-.1 .4-.1 .4 .1 .8 .1 1.3 .4h1.2l.1-.5 .5-2.3 .2-2.2 .5-1.8 .4 1.8 .8 1.8 .3 .4 .9 2 .5 .3 .8 .7 .8-.7 .4-.5 .2 .5 1.1 1.2 .4 1 .5 2.3 .3 .8 .7-.8 .5-1.9 .1-.4 .5-2.2v-2.3l-.1-2.2 .4-2.3 .4-1 .4 1 .5 2.3 .3 2.2v.1l.6 2.2 .5 2.2 .2 .8 1.2 1.3 .1 .2 .7 2.2 .3 2.3 .1 .6 1.3 .1 1.2 .3 1.3 1.1 .2 .1 .9 2.3-.1 2.2 .2 .6 .1-.6-.1-2.2v-2.3l.2-2.2 .2-2.3v-2.2l.1-2.3 .4-2.2 .1-2.3-.2-2.2 .4-1.9 .4 1.9 .1 2.2 .8 2 .2 .3 1 1.1 .2 1.1 .3 2.3 .3 2.2 .5 1.7 .5-1.7 .3-2.2 .4-2.1 .5-.2 .7-.2 .6 .2 .7 .5 1.2 .1 .5 1.7 .5 2.2 .3 .7 .9 1.6 .3 1.6 .4-1.6 .5-2.3 .1-2.2 .1-2.3 .1-2.2-.1-2.3-.1-2.2 .2-1.4 .3 1.4-.1 2.2v2.3l1.1 1.3 .1 .9 .2 2.3 .1 2.2 .5 2.3 .3 .8 .5 1.4 .2 2.3 .2 4.4zM843.2 99l-.2-1.5 .2-1.3 .1 1.3zM844.4 109.8l-.1-1.1 .1-.5 .1 .5zM855.6 89.1l-.1-.6 .1-.6 .1 .6zM876.6 261.9v-2.1l.2 1.6zM882.8 244.4l-.2-.9-.2-2.3 .4-1.7 .6 1.7-.1 2.3zM885.3 266.8l-.2-.9-.1-2.2-.2-2.3-.3-2.2-.4-1-.3-1.3-.1-2.2v-2.3l.2-2.2 .2-2.1 .4 2.1 .1 2.2 .2 2.3 .5 1.6 .2 .6 .5 2.3 .2 2.2-.2 2.3-.4 2.2zM395.5 156.2l-.1-.3-1.1-1-.5-1.3-.3-2.2 .8-1.5 1.2 .5 .5 1-.5 1-.3 1.2 .3 1.8 .3 .5zM394.3 170.1l-.7-.8 .7-.8 .7 .8zM395.5 167.8l-.2-.7 .2-2 .3 2zM396.8 149.5l-.3-.4-1-1.3-.3-.9-.5-2.3 .8-.7 1 .7 .3 1.3 .1 1 .1 2.2zM388.1 165.2l-.2-.3 .2-1.1 .7 1.1zM384.4 157l-.5-1.1 .5-1.6 1.2 1 .6 .6-.6 1.1zM383.1 193.2l-.6-1.4 .6-2.2v-.3l.4-2-.4-1.7-1.2 1-1.2-1.5 1.2-1.8 .8-.5-.5-2.2 .9-1.1 .6 1.1 .7 1.1 1.2 2.2 1.2-.5 .5 1.7-.5 1.4-.7 .8-.2 2.3-.3 1.8-1.2-1-.6 1.4zM389.3 197.4l-1.2-1.1 .3-2.3-.3-.4-.5 .4-.8 .8-.2-.8 .2-.7 .6-1.5 .6-2.2 .1-.1 .9-2.2 .3-1.7 .4-.5 .9-1.2 .2-1.1-.2-.9-.6-1.3 .6-1.1 .5-1.2 .7-1.1 .7 1.1 .5 1 1.3 .5 .6 .8-.6 .8-.8 1.4-.5 .9-1.2 1.1-.4 .3-.3 2.2-.5 1.3-.7 1 .7 1.6 .1 .6 .8 2.2-.9 1.4-.3 .9zM390.6 198.7l-.1-.2 .1-.3zM393 213l-.3-1 .3-.5 .3 .5zM394.3 215.4l-.9-1.1 .9-1 .3 1zM385.6 264.1l-1-.4 1-2.3-1.2-.4-1-1.8 1-.9 .7 .9 .5 2.2 1.2-1.4 .6 1.4-.3 2.3-.3 1.5zM389.3 265.1l-.2-1.4-.2-2.3-.2-2.2 .6-1.2 .3 1.2 1 1.3 .9 .9 .3 1 1.2 1 .2 .3-.2 .6-1.2 1-1.2-.6zM391.8 274.4l-1.1-1.8 1.1-.8 .6 .8zM393 293.7l-.4-.8-.8-1.2-.6-1.1-.6-1-.8-1.2 .8-1.4 .8-.9 .4-.3 1.2-.3 .2 .6-.2 1.2-.6 1.1 .6 2 .1 .2 .4 2.3zM394.3 248.3l-.5-.4 .5-.3 .1 .3zM319.9 288.5l-.1-.1 .1-.2 .1 .2zM270.3 241.6l-.3-.4 .3-.9 .4 .9zM271.5 250.5l-.1-.3-.1-2.3 .2-1 .3 1 1 1.5 .4 .8-.4 .7zM249.2 212.6l-.3-.6 .3-.6 .5 .6zM250.4 220.1l-.2-1.3 .2-.4 .5 .4zM260.4 248.8l-.6-.9 .6-.2 .3 .2zM265.3 258.2l-.8-1.3 .8-.7 1 .7zM267.8 264.4l-.7-.7 .7-1.8 .4 1.8zM269 266.7l-.1-.8 .1-.3 .8 .3zM275.2 259.9l-.2-.7-1-1.8-1.2 .1-.9-.6 .9-1.4 1.2 .6 1.2-.2 .8-1.2 .5-1.6 .5 1.6 .6 2.2-1.1 .9-1.1 1.4zM221.9 278.2l-.6-1.1 .2-2.2 .4-1.4 .3 1.4 .7 2.2zM223.2 273.1l-.7-.5 .7-.6 1.2 .3 .6 .3-.6 .2zM217 291.3l-.6-.7 .6-.6 .7 .6zM218.2 284.4l-.4-.5 .4-1 .8 1zM220.7 308.7l-.2-.1 .2-.1 .3 .1zM228.1 308.6l-1.1-2.3 1.1-.9 .3 .9-.2 2.3zM233.1 305.5l-.8-1.4 .8-1.1 .5 1.1zM234.3 307.1l-.5-.8 .5-.5 1.1-1.7 .2-.9 .3 .9 .3 2.2-.6 1.4zM244.2 309l-.9-.4 .2-2.3-.5-1.3-.9 1.3-.3 .9-1.3-.9 .8-2.2 .5-.7 1.2-.8 1.2 .5 1.2 1-.2 2.2-.5 2.3zM248 309l-1.2-.4 1.2-.9 .7 .9zM250.4 309.7l-.9-1.1 .3-2.3-.6-1.5-1.2 .7-1-1.4 .7-2.3 .3-2.1 .7 2.1 .5 .7 1.2 .4 .5 1.2 .8 1.9 .2 .3-.2 1.1-.6 1.2zM251.7 330.3l-.8-1.5-.4-2.3 1.2-2.2h.3l.9 .2 .2 2-.2 1-.5 1.3zM264.1 289.3l-.6-.9 .6-1.4 .4 1.4zM275.2 307l-.6-.7 .6-1.2 1 1.2zM277.7 298l-.1-.6 .1-.4 1.3-1.1 1.2-.8v-.1l.1 .1 .9 2.3-1 1.7-1.2 .3zM293.8 306.8l-.3-.5 .3-1 1.3-.6 .4-.6 .4-2.3 .4-1.7 1.3 .8 .9 .9 .1 2.3-.8 2.2-.2 .3-1.3 .3-1.2-.1zM344.7 306.8l-.8-.5 .8-.8 1.2-1.4 .8 2.2-.8 .9zM348.4 307.2l-.8-.9-.3-2.2 1.1-1.2 1.2 .3 .8 .9 .5 1.2 1.2-.7 .3-.5 .7-2.3 .3-1.5 .9-.7 .3-.1 .4 .1-.4 1.6-.1 .6-.3 2.3v2.2l-.8 .8-1.3-.3-1.2-.2-.7-.3-.6-.7-.2 .7zM390.6 306.5l-.1-.2-.3-2.2 .4-.4 .2 .4 1 1.9 1.2-1.8 .7 2.1-.7 1.1-1.2-1zM399.2 162.9l-.3-.3 .3-.2 .2 .2zM400.5 147.7l-.4-.8 .4-1.6 .3 1.6zM401.7 205.5l-.1-.2 .1-.1 .1 .1zM403 144.7l-.2-.1h.2zM404.2 190.4l-.3-.8 .3-1.1 .6 1.1zM405.4 198.6v-.2l.2 .1zM407.9 241.8l-.7-.6-.5-.4-.8-1.8 .8-1.9 1.2 .1 1.3 1.4 .8 .4-.8 1.5-.3 .7zM432.7 91.1v-.4l-.3-2.2 .1-2.3 .2-1.1 .3 1.1 .3 2.3-.4 2.2zM435.2 110.4l-.3-1.7 .2-2.2 .1-.4 .1 .4 .2 2.2zM436.4 119.8l-.1-2.1 .1-1.1 .2 1.1zM477.4 263.5l-.4-2.1 .4-1.8 .4 1.8zM484.8 89.7l-.3-1.2 .3-2.1 .3 2.1zM533.2 313.9l-.2-.8v-2.3l.2-.7 .2 .7 .3 2.3zM544.3 141.3l-.4-1.2 .4-1.2 .2 1.2zM590.2 152.3l-.4-.9-.2-2.3 .6-1.7 .3 1.7-.1 2.3zM654.7 131l-.7-2.1 .1-2.2 .6-.9 .1 .9 .2 2.2zM747.7 151l-.3-1.9 .3-1.6 .1 1.6zM765 232.4v-1l.1 .8zM798.5 91.6l-.2-.9-.2-2.2 .4-1.4 .2 1.4v2.2zM808.4 200.9v-.3l.1 .2zM393 208.2l-.5-.7 .5-.7 .3 .7zM385.6 258.1l-.4-1.2 .4-1.1 .7-1.1v-2.3l.5-2.1 .5 2.1 .8 2 .4-2-.2-2.2-.2-.9-.4-1.4 .4-.6 1.2 1.2 .8 1.7 .5 1.7 .6-1.7-.1-2.3 .7-1.1 .8-1.1 .1-2.2 .1-2.3 .2-.2 .1 .2 .1 2.3 .1 2.2-.3 1.3-.3 .9-.5 2.3 .8 1.5 .6 .7-.6 1-.9 1.3-.3 .4-1.2-.3-1.3 .9-1.2-.9-1.3 1.9-.1 .2zM393 259.4l-.1-.2 .1-.3 .1 .3zM274 253.5l-.4-1.1 .4-.9 .6 .9zM275.2 303.1l-.9-1.3 .9-2.2h.1l1.2-1.1 .9 1.1-.9 2.2v.1zM280.2 290.9l-.1-.3 .1-1.6 .2 1.6zM401.7 188.3l-.4-1 .4-.8 .6 .8zM405.4 187.6l-.1-.3 .1-.2 .1 .2zM393 203.8l-.9-.8 .5-2.2-.3-2.3 .7-2 .9 2-.6 2.3 .4 2.2zM389.3 247l-.4-1.3 .4-.9 .8 .9zM393 192.4l-.2-.6 .2-.3 1.3-.4 1.2 .2 1.3 .5h0l-1.3 .4-1.2 1.4zM395.5 188l-.5-.7 .5-1.2 .8 1.2zM250.3 353.5l.1 .1 .2-.1 .1-2.2-.3-.8-.2 .8zM252.7 349l.2 .4 .2-.4-.2-2.2h0zM606.2 333.3l.1 .6 .1-.6v-2.3l-.1-1v1zM726.5 333.3l.1 .2v-.9zM571.6 328.8v.6l.1-.6 .1-2.3-.2-1.2-.2 1.2zM652.1 324.3l.1 .2v-.2l.2-2.2-.2-1.7-.2 1.7zM214 304.1l.5 1.1 1.2-.4 .5-.7-.5-1.9-.3-.4-.6-2.2-.3-2.1-.6-.1 .5-2.3-1.2-1.9-.3 1.9-.9 1.4-.6 .9 .6 1 .8 1.2-.3 2.2 .7 .6zM219.2 304.1l.2 .3 .2-.3-.2-.2zM367.3 304.1l.9 .9 .4-.9-.4-.8zM374.4 304.1v.1l.2-.1v-2.3l1.1-2.2 .6 2.2 .6 1.1 .8-1.1 .5-.4 .9-1.8-.9-1.6-.5-.6 .1-2.3 .4-.7 .8-1.5-.8-1.1-.9 1.1-.4 .6-1.2 .5-1.3-.4-1.2-.3-1.2 .5-.6-.9-.3-2.3-.4-.6-.9 .6 .1 2.3 .2 2.2 .6 1.1 1 1.2 .3 .2 .6-.2 .6-.4 .4 .4-.4 1.5-.1 .7 .1 .5 .9 1.7zM379.3 304.1l.1 1.6 .1-1.6-.1-2zM220.4 301.8l.3 .6 .3-.6-.3-1.1zM369.4 301.8l.1 .1 1.2 2.1 .9-2.2-.9-1.7-.7-.5-.2-2.2-.3-.7-.3 .7-.6 2.2zM379.5 301.8l1.1 .2 .2-.2 .2-2.2 .3-2.2-.7-1.7-.7 1.7 .3 2.2zM288.3 299.6l.6 1.3 .7-1.3 .2-2.2-.9-2-1.1-.3-.2-.1-.1 .1 .1 .2 .4 2.1zM322.4 300.1l.2-.5-.2-.8-.5-1.4-.8-.8-.5 .8 .5 1.4zM324.6 299.6l.2 1.3 .7-1.3-.7-.5zM391.6 299.6l.2 .8 .6-.8-.6-.8zM222.4 297.4l.8 1 .4-1 .5-2.3 .3-2.2-1.2-1.2-.8 1.2-.5 1.2-.8-1.2-.4-1.1-.3 1.1-.7 2.2 1 1.1 1.2 .2zM225 297.4l.6 1.9 .4-1.9-.4-1.7zM241.3 295.1l.5 .7 1.2 .1 .3-.8 .9-1.2 1.3 .3 .5-1.3-.5-.9-1-1.4-.3-.4-1.2-2.7-.7-1.4-.5-1.3-.7-.9-.6-1.1-.8 1.1 .8 1.2 .5 1v2.3l-.5 .5-.3-.5-.9-.8-.6-1.5 .2-2.2v-2.3l.4-1.8 .2-.4-.2-.4-1.3 .3-.1 .1-.7 2.2-.4 1.2-.7-1.2 .2-2.2 .3-2.3 .2-.3 1.2-1.4 1.2-.5 .1-.1 .1 .1 1.1 .5 1.1-.5 .2-1 .4 1 .8 .5 .6-.5 .6-.9 .1 .9-.1 .6-.5 1.6 .4 2.3-1.1 1.3-1 .9 1 1.1 1.2-.4 1.3-.5 1.2 1.1 .3 1-.3 .6-1.2 .2-1 1.4 1 1.1 1.2 .6 1.3-.8 1.2 .7 1.2-.5 .8-1.1-.8-1.4-.9-.8 .9-1.6 1.3-.6 1.2 1.1 1.3 .7 1.1-1.9-.7-2.2 .5-2.3-.9-1.7-1.3 .9-.2 .8-1 1.4-.6 .9-.7 1.8-1.2-1-1.2 .1-1.3-.3-1.2 1.4-1.2-2 .3-2.3 .9-.7 .9 .7 .3 1.3 .2-1.3 1.1-1.3 1.2 .4 1.2-1.3-.2-2.3-.5-2.2 .7-1.2 .7-1-.6-2.3-.1-.1-.1 .1-1.1 .9-.4 1.4-.6 2.2 .6 2.2-.8 1.6-1.3-.3-1.2-.9-.7-.4-.6-.2-1.2-.6-1.2 .7-1-2.1-.3-2.1v-.1l-.8-2.3-.4-1.1-.7-1.1-.3-2.3-.3-.5-1.2-.4-.8-1.3 .7-2.3-1.1-2.2 1.1-2.3 .1-.2 1.1-2-1.1-1.7-1.2-.3-.3-.3 .1-2.2-.7-2.2v-2.3l-.4-2-.4 2-.3 2.3-.5 1.1-1.3-.2-.5 1.3 .5 1 1.3-.4 .5 1.6 .7 2.3-.3 2.2 .3 1.6 1.2 .7-1.1 2.2 .5 2.3 .7 1.8 .2 .4 .8 2.3 .2 .2 .9 2-.6 2.3 .9 2.1 .1 .1 .2 2.2-.3 .5-1-.5-.2-.2-.3-2-.9-1.4h-1.3l-.5-.8 .5-.4 1.3-1 .3-.9-.3-.8-1.3-.8-.3-.6-.9-1.2-.6 1.2 .6 2.1v.4l-.4 2-.9 .8-1.2-.2-.5 1.6 .5 1.9 1.2-.7 1.3-.5h1.2l.8 1.5-.8 .8-1.2-.1-.7 1.6-.6 .9-1.2-.4-1.2 1-.9 .7 .3 2.3 .6 .9 .2-.9 1-1.1 1.2 .3 .8-1.5 .5-.9 .7 .9-.7 2-.2 .3 .2 .7h1.2l.9 1.5 .3 2.3 .1 .1 .5 2.1 .7 1.6 .4 .7 .5 2.2 .3 1.9 .7-1.9 .6-.9 .5 .9 .7 .7 .7 1.6zM246.1 295.1l.6 .9 .3-.9-.3-.7zM295.1 295.1l1.2-2.2v-.1l.2 .1 1.1 .1 .1-.1 1.1-.6 1.2-1.2 .1-.5 1.2-2.1v-.1l.2-2.3-.2-.3-1.1 .3-.2 .1-1.2 .1-.6-.2v-2.2l-.6-1.5-1.3-.6-.2 2.1-.4 2.2 .6 .9 1.3 .3 .1 1.1 .1 2.2-.2 2.1-.5-2.1-.8-.5-1.2-1.6-.1-.1-1.2-.9-1.2-.2-.1-1.2-1-2.2-.1-.5-.4-1.8 .4-1.6 .7-.6-.7-.3-1.3-1.8v-.2l-.4-2.2-.8-.8-.2 .8-1.1 1.6-1.1 .6 1.1 1.2 1.3 .9 .1 .2 .4 2.2 .7 1.8 .9 .5-.9 1.5-.2 .7v2.3l.2 .6 .5-.6 .8-.9 1.1 .9 .1 .2 .7 2-.6 2.3 1.1 .9zM306.8 295.1l.7 .7 .9-.7-.9-1.6zM322.6 295.1l1 1 1.2-.7 .3-.3-.3-1.5-1.2 .3zM337.4 295.1l1.1 1.7 .3-1.7-.3-.7zM235.5 292.9l.1 .1 .6-.1-.6-.1zM288.6 292.9l.3 1.1 .1-1.1 .5-2.3-.6-.7-.9 .7zM315.4 292.9l.8 1.2 .8-1.2-.8-.9zM325 292.9l1.1 .9 .5-.9-.5-.8-.5-1.5-.8-1.7-1.2 .6-.6 1.1 .6 1.2 1.2 .9zM355.1 292.9l.7 1.3 1.2-1.3 .1-.2 1.2-1.3 .8 1.5 .5 .9 .2-.9 1-1.4 1.1-.9-.8-2.2 .2-2.3-.5-.3-.1 .3-.3 2.3-.8 1-1.3-.2-1.2 .3-.8 1.1-.5 .8zM364.3 292.9l.2 .6 .3-.6 .3-2.3-.6-1.8-.3-.4-.9-.4-.4 .4-.5 2.2 .9 .5zM367 292.9v.2l.1-.2 1.1-2 .3-.3-.3-1.1-1.2 .2-.7 .9zM379.8 292.9l.8 1.4 .9-1.4 .3-2.3-1.2-2-.2-.2 .2-.2 1.3-1.1v-1l1.2-2.2-1.2-2-.2-.3 .2-1.1 1.2 .5 .6 .6 .7 1.2 .6-1.2 .6-2.2h.1l1.1 1.3 .8-1.3-.8-1.4-.1-.9v-2.2l-1.1-.8-1.2-.7-.9-.8-.4-.9-.6 .9-.6 1.2-1.3 .3-.5 .8 .5 1.9 .1 .3 .8 2.3-.9 .6-.8-.6-.4-.4-.5 .4-.2 2.2-.5 .6-.7 1.7 .4 2.2-.1 2.3 .4 1.1 1.2 .1 .4 1zM383.1 276.4l-.5-1.5 .5-.9 .2 .9zM384.4 278.2l-.9-1.1 .9-.3 .4 .3zM379.4 284.3l-.2-.4 .2-.5 1.2 .4 .1 .1h-.1zM385 292.9l.6 .6 .5-.6-.5-1.1zM892.3 292.9l.5 1.7 .7-1.7 .2-2.3v-2.2l-.6-2.3-.3-.2-.3 .2-.4 2.3-.1 2.2zM212.4 290.6l.8 2 .6-2-.6-1.7-.9-.5v-2.3l-.3-.2-.2 .2 .1 2.3 .1 .5zM272.4 290.6l.4 .6 .7-.6-.7-.9zM302.3 290.6l.2 1.4 .7-1.4-.7-.3zM304.7 290.6l.3 .4 1.2 1.8 1-2.2 .3-.7 .7 .7 .5 1.3 .7-1.3 .6-.4 .4-1.8-.4-1.1-1-1.2-.3-.6-.5 .6-.7 .7h-1.3l-.7-.7 .7-.5 1.3-1.6v-.1l.7-2.3 .5-1.1 1 1.1 .3 1.3 .6-1.3 .6-.7 .4 .7 .3 2.3-.7 1.2-.3 1 .3 .5 1-.5 .2-.3 .3 .3-.3 .3-.3 2 .3 1.5 .3 .7 1 1.7 .8-1.7 .4-1.6 .2-.6-.2-.4-.3 .4-.9 .7-.5-.7 .5-1.4 .3-.9 .5-2.2 .1-2.3 .3-1.8 .4-.4-.4-.7v-1.6l-1.2-2.2v-.2l-1.3-.7-1 .9-.2 .4-.3-.4-.7-2.3-.2-.4-.5-1.8-.8-1.3-1.2 .4-.6 .9 .6 2.2 1.2-.5 .9 .5-.1 2.3-.8 1.8-.1 .4-1.1 1.3-1.3 .5-.2 .5 .2 1.2 .3 1-.3 .5-1.2 1.4-.8-1.9-.3-2.2 1.1-2.1 .1-.2 .1-2.2-.2-.6-.6 .6-.6 .4-1.3 .1h-1.2l-.4-.5-.6-2.3-.3-.6-.2-1.6 .2-1 .5 1 .8 1.3 1.2 .2 1.3 .4 .4-1.9 .8-2.2 1.2 .6 .3-.6-.3-.4-.9-1.9 .9-2 .3-.2-.3-.3-1.2 .1-.9-2.1-.3-2.2 1.2-.9 1.2-.8 .4 1.7 .4 2.2 .5 1.3 .8 1-.8 1.6-.2 .6 .2 .4 1.2 .3 1.3 1 1.2-1.3 .7 1.9 .5 .5 .3-.5 1-2.3 1.2-1.9 .3-.3-.3-1.3-.4-1-.8-.9-.4 .9-.7 2.3-.2 .2-1.2 1.8-.6-2 .5-2.3-1.1-.5-.6-1.7 .6-1.7 1.2 1.3 .9-1.9 .3-1.1 1.3-1.1h1.2l1.3 1.8 .4 .4 .3 2.3-.7 .9-1 1.3 2.2 2.2 1.2-1.3 .3-.9-.3-1.1-.6-1.1-.2-2.3 .8-2 1.3 .2 .6-.4-.6-.3-1.2-2 .4-2.2 .8-1.7 .4 1.7 .8 1.5 1.3-.2 1.2-1.3 1.2-.2 1.3-1.2 .9-.9-.9-.8-.6-1.4-.7-1.7-.8 1.7-.4 .9-.6 1.3-.6 1.6-1.3-1.5-.2-.1-1-1.4-1.2-.8h-.1l-1.2 1.6-.2-1.6-1-2-.7 2-.6 1.9-.4 .3 .2 2.3 .2 .6 .4-.6 .2-2.3 .7-.3 .8 .3 .4 1.7 .1 .6-.1 1.5-.2 .7-1 .3-1.3 2-1.2-.1-1.3-1-1.2 .2-.9-1.4-.3-.6-.7-1.6-.6-1-1-1.3 1-1.5 .8 1.5 .5 .9 .4-.9 .8-.8 .6-1.4 .6-2.2-1.2-.8-1.2-.6-1.3-.5-.4-.4-.8-1.6-1.3 1.5v.3l1.3 .7 .4 1.4-.4 1.5-1.3-.4-1.2 .5-.2 .6 .2 .9 1.2-.4 1.1 1.7-1.1 2.1-.6 .2-.6 1.9v.5l1.2-.2 1.3 2 .3 .3-.2 2.2-.1 .1-.2-.1-1.1-.6-1.2-1.2-1.2-.4-1.3-1.9-1.2 .1-.2-.5 .2-.7 .4-1.5 .8-1.1 .8 1.1 .5 .7 1-.7-.2-2.3-.8-.8h-1.3l-1.2-.8-.5-.6 .5-.5 .7-1.7 .5-1.3 1.3 .9 .7-1.9-.7-1.9-1.3 .6-.8 1.3-.4 .5-1.3 .6-1.2 .1-.8-1.2 .7-2.2 .1-.4 .3-1.9 .9-1.9 .3-.3-.1-2.3 .5-2.2 .6-.9 .8 .9 .4 1.1 1.3 .2 1.2 .2 .6-1.5-.6-1.7-1.2 1.1-1.3-.7-.2-1-.2-2.2 .4-1.1 .5-1.2-.5-.6-1.2 .2-1.3-.1-.4-1.7 .4-1.5 1.3 1.3 1.2-1.4 .3-.6 1-1.9 1.2 .3 1.2 .9 .4 .7-.4 .9-.4 1.3 .4 1.5 .7-1.5 .6-.9 .8-1.3-.8-1.2-.6-1.1 .6-1.8 1.2-.4v-.2l1.3-.6 .8-1.5 .4-1.4 1.2-.7 .6-.1-.6-.4-1.2-.5-1.1-1.4 1.1-1.1 .4-1.1 .8-.9 1.3-.8 1.2 .8 .5 .9 .7 2.2 .1 .1 1.1 2.2-1.1 1.1-.6-1.1-.7-1.5-1.1-.8-.1-.1-.2 .1 .2 .8 .1 1.5-.1 .3-.4 1.9 .4 1 1 1.3 .2 .3 .2-.3 1.1-1.2 1.2 .1 1-1.2 .2-.5 1.3 .3v.2l.5 2.3 .7 .3 1.3 1.3 1.2-1.6-.5-2.3 .5-.7 1.2-1.5h.2l1.1-.4 1.2-1.9 1.3 .4 1.1 1.9-.1 2.2 .2 .3 .7-.3 .5-1.9 .2-.3 1.1-.4 1-1.9 .2-.2 .8-2 .5-1.2 .5-1.1 .7-1.3 1.2 1.3v.7l.4 1.6 .9 .8 .7-.8 .5-.6 .6 .6 .7 1.1h1.2l1.2 .3 1.3 .5 .6-1.9 .5-2.3 .1-.6 1.3-1.3 .2-.3 1-1.3 .2-1-.2-1-1.2-.1-1.3-1.1 .4-2.3-.4-2.2-1.2-.5-1.3-1.3-1.2 1.1-.2 .7-1 .8-.7-.8-.6-.9-.9-1.3 .9-1.8 1.3 .9 1.2-.3 1.2 .5 .7-1.6 .6-.3 .2 .3 1 1 .6 1.3 .7 1.4 1.2 .3 1.2-1.2 .8-.5-.3-2.3 .8-1.1 .6-1.1 .1-2.3-.7-.6-.5-1.6-.2-2.3 .7-1.1 .2-1.1 1-1.9 1.3 .7 1.2 .6 .1 .6-.1 1.2-.3 1 .3 .2 .1-.2 1.1-1 .9 1-.9 1.4-.4 .9-.8 1.4-.9 .8 .9 .7 1.1 1.6-.5 2.2 .6 2.2 1.3-1.7 1.2 .5 1.2 1.3-1.2 1.4-1.2-.2-.4 1 .4 1.3 .8 .9 .4 .5 1.3-.1 1.1-.4 .1-.2 .5-2 .7-.7 .4 .7 .9 1.3 1.2-.6 1.3-.1 1.2-.5v-.1l1.2-1 1.3-.4 1.2 1.1 .8 .3 .3 2.2-1.1 1.8-1-1.8-.2-.2-.3 .2-1 2.1-1.2-.7-1.2-.5-1.3 .5-1.2 .9 1.2 1.3 1.3-.7 .9 1.6 .3 .5 .3-.5 .9-1.9 .5 1.9-.5 1.6-.3 .7-.1 2.2 .4 1.6 .4-1.6 .9-1 1-1.2 .1-2.3 .1-.5 1.3-1.1 .6 1.6 .6 .9 1.2 .9 .3 .5-.2 2.2v2.3l-.1 .1-.5 2.1 .5 2.1 .1 .2 .6 2.2v2.3l-.7 .2-1.2 1.3-.6 .7-.6 .9-.8 1.4 .8 2.1 1.2-1.6 1.2 .2 .6-.7 .3-2.3 .4-1.8 .2-.4 .2-2.3 .8-1.2h1.3l.4-1 .4-2.3-.2-2.2 .6-.7 .6 .7-.1 2.2 .7 .9 1 1.4 .3 1 .7-1 .5-1.5 .2-.8-.2-.6-1.2-1.5-.1-.1-1.2-1.4-.2-.9-.1-2.2-.6-2.3-.3-.5-.6-1.7-.6-.8-.8-1.5-.5-1.2-1.6 1.2-.5 2.3-.4 1-1.5-1 .3-.3 .5-2 .7-1 .4-1.2 .8-2.2-1.2-1.3-.5-1-.5-2.2 .4-2.3-.6-1h-1.2l-.6-1.2-.7-.9-1 .9-.2 .3-1.1 1.9-.2 .2-1.2 1-.8 1.1-.4 .5-.7-.5-.1-2.3-.5-.3-.7 .3 .1 2.3-.6 .7-1.2 1.5-.1 .1v-.1l-1.2-1.7-1.2-.2-1.3 .5-1.2-.8v-.2l-.6-2.1 .6-.5 1.2 .2 .5 .3 .8 1.5 .5-1.5-.5-1.2-.3-1 .3-1.2 .4-1.1-.4-.9-.5 .9-.8 .6-.7-.6-.2-2.2-.3-1.9-1.3-.3-.2-.1 .1-2.2 .1-.2 .3-2.1-.3-.9-1.2-.7-.3-.6 .3-.7 1.2-.8 .6-.7-.6-.8-1.2-.4-.6 1.2-.6 .9-.7 1.3 .7 1.4 .5 .8-.5 1.2-.7 1.1-.6 1.3-1.2-.3-.6 1.2-.5 2.3-.2 .2-1.2 .8-1.2-.2-.4 1.4 .4 .5 1.2 .8 .5 1 .7 2 .4 .2-.4 .5-.6 1.8-.6 1.3-1-1.3 .6-2.3-.8-1.1-1.2-1.1-.1-.1-1.2-2-1.1 2.1-.2 1.5-.2-1.5-1-.9-1.2-1.1-.8 2-.5 1.2-1.2 .1-.6-1.3-.7-1.1-.5 1.1-.7 .9-1.1-.9-.1-.6-.4 .6-.9 .4-.7 1.8 .2 2.3 .5 .3 .9 1.9 .4 .7 .5 1.6-.5 1.6-.4 .6 .4 .5 .6 1.7-.5 2.3 1.1 1 1.2 1 .8-2-.8-2.1v-2.4l-.5-2.2-.7-2.1-.3-.2 .3-1.8v-.4l1.2-1.6 .7 1.6-.3 2.2 .6 2.3-.9 2.2 1.2 .9 .2 1.3 1 1.9 1.3-.5 .9 .9 .3 .7 1.1-.7h.3l1.1 .4 .9 1.8-.1 2.3-.8 .9-1-.9-.3-.5-1.2-.1-1.2-.7-.7 1.3-.6 1.3-1.2 .2-.5-1.5-.8-1.9-1.2 .8-1.2-.2-1.3 .1-1.2 .1h-1.3l-.7 1.1-.4 2.2 1.1 2.2 1.3-.6 .1 .7-.1 .4-1.3 .9-1.2-.1-1.2 .3-1.1-1.5 1.1-.8 1.1-1.5-.3-2.2 .4-1.6 .3-.7-.3-.2-.6 .2-.6 .5-.4-.5v-2.2l-.9-1.2-1-1.1-.2-.4-.6-1.8 .2-2.2-.9-1.4-1.2-.1-.6-.8 .6-1.1 1.2 .4 1.3-1.1 1.2 1.3 .2-1.7-.2-.5-1.2-1.1-.2-.7-1.1-.7-.6 .7-.6 1.3-.5-1.3-.7-1.7-.5-.5-.8-.9-1.2-.2-.7-1.2 .2-2.2-.8-1.6-1.2-.1-.4 1.7 .4 .5 .9 1.7-.9 1.9-.9-1.9-.3-.8-1-1.4 1-1.7 .8-.6 .4-.4 1.2-.7 1.3-.1h1.2l1.3 1.1 1.2-.6 1.2-.4 .9 1.1-.9 1.9-1.2-.3-1.2-1.3-.5 2 .2 2.2 .3 1 .3-1 .9-1.8 .7 1.8 .5 .6 1.3 .6 .5 1.1 .7 1.2 .9-1.2-.2-2.3 .6-.9 1 .9 .2 .4 1.2 .9 1.3-1 .3-.3 1.8-2.2-.9-1.1-1.2 .4-.7 .7-.6 .7-1.2 1-.4-1.7 .4-1.2 .7-1.1 .1-2.2-.1-2.3-.7-1.8-.9 1.8 .6 2.3-.9 1.4-.6 .8-.7 2.2-.7-2.2 1.1-2.2-.4-2.1-1-.2 1-.4 .9-1.8 .4-.1 1.2-.2 1-1.9-1-1.4-1-.9 1-1.4 1.2 1.1 1.3-1.2 .9 1.5-.9 1.9-.4 .4 .4 1.6v.6l.9 2.2 .3 2.3 .3-2.3 1-1.6 1.1-.6-1.1-.8-.6-1.4-.2-2.3 .7-2.2-1.2-2.3-1.2 1-.3-1 .3-.3 1.2 .3 1.3-.2 .1 .2 .2 2.3 .9 .6 .1-.6 1-2.3 .1-.8 .8-1.4 .5-.6 .4-1.7 .4-2.2 .4-1.8 1.3 .5 1-1-1-.7-1-1.5-.3-.5-.9-1.8-.2-2.2-.1-.4-.3 .4-1 1.2-.9-1.2-.3-.6h-1.2l-.8 .6 .8 .9 1.2 .8 .2 .5 .9 2.3-1.1 1.7-.2 .5 .2 .6 1.1 1.7-1.1 .6-.9 1.6-.3 .4-1.3 1.3-1.2-1.5-.7-.2 .7-.3 1.2-1.4 .4-.5 .4-2.3-.8-1.4-1.2-.4-.3-.4-.4-2.3 .3-2.2-.9-2-1.2 1.7-1.2-.7-.8 1 .8 1.3 1.2-.9 .8 1.8-.8 2.1-.1 .2-1.1 2.1-1-2.1v-2.3l-.3-.5-1.1-1.7 .9-2.3 .2-.9 .9-1.3-.9-1.2-.4 1.2-.8 .8-.7-.8-.4-2.2-.2-.1-1.2-.9-.4-1.3-.8-1.8-1.3 .5-1.2 .8-1.1 .5 1.1 2.1v.3l-1.3 1.6-.2 .5-.1 2.2-.9 1.5-.1 .8 .1 .3 1 1.9 .1 2.3-1 2.2 1.1 1 .7-1-.5-2.2 .7-2.3 .4-.4 .2 .4 1 1.2 1.2 1.1-.6 2.2-.3 2.3 1 2.2v.1l-1.3-.1-1 2.3 1 .6 1.3 .1h1.2l1.2-.5 .2-.2-.2-.8-.4-1.5 .4-1.7 .1-.5-.1-.2-.6-2.1-.6-1.5-1-.7 1-.7 .8 .7 .4 .4 .2-.4 1.1-1.2 1 1.2-.4 2.2 .6 1.1 1.3-.5 1.2-.4 .3-.2 .9-.4 .2 .4 .3 2.3-.5 1.8-.4 .4-.7 2.3-.1 .1-1.2 .4-1.3 1.7 .2 2.3-.2 1.4-.2-1.4-1-1.4-1.3 .3-.4 1.1 .4 1.3 1.3 .5 .8 .4 .4 .3 .3 2-.3 1.6-.9-1.6-.3-1.3-.2 1.3-.1 2.2 .2 2.2-1.2 .5-1.2 .3-1.2 .4-1.3 .5-.9-1.7-.3-.6-1.1 .6-.2 .3-1.2 .9-.7-1.2 .1-2.2 .6-1.5 .8 1.5 .4 1.7 .3-1.7 1-1.8 1.2 1.1 .7-1.5 .6-1.7 .2-.6-.2-.7-.7 .7-.6 .5-.1-.5 .1-.8 .5-1.4-.5-.5-1.2 .3-.1 .2-1.2 .9-.3-.9-.9-.9-.9-1.4-.3-1.8-1 1.8-.3 .3-1.1 2 .7 2.2-.3 2.3 .7 1.2 .4 1-.4 1.9-1.2-.3-1.3-.1v.7l-.5 2.3-.6 2.2-.1 .6-1.2 .8-1 .9 1 .2 1.2 .9 .3-1.1 .9-1.1 .6 1.1 .2 2.2 .5 1.1 .6 1.2-.6 .8-.9-.8-.4-.6-.1 .6-.5 2.2-.6 1.2-.9-1.2-.3-2.2v-.2l-1.3-1.4-.5 1.6 .2 2.2 .3 1.4 .3 .9 1 .9 .5 1.3-.5 1.9-1.3-1.6-.1-.3-1.1-1.8-1.3 .3-.1 1.5 .1 1.9 .3 .4 1 .2 1.2 .5 .9 1.5-.9 2-.5 .2 .5 .3 1 2-.8 2.2 1.1 2 .3 .3-.3 .5-.4 1.7-.9 1.4-.7 .9-.5 1.9-1.3-.3-.3 .6-.9 2.1-1.2-.6-.5 .8 .5 .4 1.2-.2 .5 2 .7 2 .6 .3-.6 .3-1.2 .9-1.2-.2-1.3 .6-.4 .6-.8 .4-1.3 .7-1.1-1.1-.1-.4-.1 .4-1 2.3-.1 2.2 .8 2.2-.8 1.1-1.3-.5-.1-.6-1.1-1-1.3-.1-.9-1.1-.3-1.2-.2-1 .2-1.2 .3-1.1 .9-1.5 .6 1.5 .7 1.2 .5-1.2 .7-1.4 .5-.8 .2-2.3 .6-.5 1.2-.5 .3-1.2-.1-2.3-.2-2.2-.7-2.3-.5-1.2-.8-1 .3-2.3 .5-2v-.4l-.9-2.1 .7-2.2 .2-.3 1.2-.6 .1 .9 1.1 1.5 1-1.5-1-4.4-1.2 1.9-1.2-.9-1.3 .3-1.2 .7-.2 .2 .2 .2 .5 2v2.2l-.5 .6-.5-.6-.8-.5-.9-1.7-.3-.9-.8 .9 .4 2.2 .4 .9 .8 1.4 .4 2.1 1.3-.4 .2 .5-.2 .5-.7 1.8-.6 1.8-.3 .4 .3 .4 1.3 .8 .9 1.1-.6 2.2-.3 1.3-1.3-.9-.3-.4-.7-2.2-.2-.6-.2 .6-.1 2.2-.4 2.3-.5 1.9-1.3-1.8-.4-.1 .4-.2 .3-2.1-.3-1.4h-1.2l-.8 1.4-.5 1-1.2 1.3v.2l-.2 2-1 .9-1.2-.9-.1-.6-1-1.6 .2-2.3 .8-1.8 .6 1.8 .7 1 .8-1 .4-1 1.2-1 .2-.2 .7-2.3 .4-.9 1.2-.9 1.3-.3 .1-.1-.1-.2-1.3-.6-1.2 .1-.7-1.6-.1-2.2 .8-.6 1.2-.5 .2-1.2 .5-2.2 .2-2.2 .4-1.5 .3-.8-.3-.3-.8 .3-.5 .3-.7 2-.5 1.2-.5 1-.7 2.2-.1 .4-.6 1.9 .1 2.2 .5 1.9 .3 .4-.3 .4-.6-.4-.6-.3-.5 .3-.7 .8-1.3 .8-1.2-.8-1.3-.4-1 1.8 1 .9 1.1 1.4-1.1 1.7-1.1-1.7-.1-1-1.2-1.3-1.3 1.4-1.2-.9-.6 1.8 .6 .9 1.2 .8 .2 .5 1.1 .9 1.2-.3 1.2 1.7v.2l1.2 2-.6 2.3-.6 .8-1.2 1.4 .8 2.3 .4 .6 1.3-.5 .3-.1v-2.3l.7-2.2 .2-1.6 .1 1.6 .9 2.2 .3 1.1 .2-1.1 1-1.4 1.2 .8 .5-1.6-.3-2.3 1.1-1.9 .4 1.9 .8 .9 1.3-.5 .5-.4 .7-.2 .5 .2-.5 .6-.5 1.7-.6 2.2h-.1l-1.3 .3-.2-.3-1-.8-.9 .8 .9 2.2v.1l.7 2.2 .1 2.2-.3 2.3 .7 1.2 .7 1-.4 2.3-.3 .5-.2-.5-1-1.2-1.3-.5-1.2-.4-.5 2.1-.6 2.2 1 2.3-.2 2.2-.9 1.6-.5 .7 .5 1.6 1.2-1 1.1-.6 .1-.8 1.3 .3 .5-1.8v-2.2l.7-.4 .9-1.9 .4-.4 .3 .4 .9 2.1 .5-2.1-.5-1.3-.4-.9 .4-2 .7 2 .5 .7 .9-.7 .4-.8 .4-1.5-.4-1.1-.8-1.1 .8-.8 1.2 1.2 1.2 1.8 .1 .7 1.2-.5 .3 2.1 .4 2.2-.7 .3-1.2 .9-.6 1.1-.7 1.1-1.2-1-1.3 1.1-1.2-1-1.2 .7-.9 1.3 .9 1.9 1.2-.5 1.1 .9h.2l1.2-1 .6 1 .6 1.1 1 1.1-1 .8h-1.2l-1.3 .2-1.2-.1-.7 1.4 .7 .7 1.2 .8 1.3-1 1.2 1.1 1.3-1.1 1.1 1.7-1 2.2 1.1 2 .9 .3-.9 1.2-1.2-.9-1.2 1.9-.1 .2-1.2-2.4-1.3-1.7-1.2 1.1-1.2 .1-.5 .5-.8 1.5-.2 .7-.7 2.3-.3 .2-.1-.2-1.2-1.7-1.2 .7-.7 1-.5 1.4-1.3-.8-.7 1.6 .7 2.1 .2 .2 .7 2.2v4.5l.4 1.1 .2-1.1 .3-2.2-.5-2.3 1.2-1.4 .9-.8-.9-1.5-.7-.8 .7-.7 1.2 .2 .4 .5 .1 2.3-.1 2.2-.4 1.2-.3 1.1 .3 .8 .8-.8 .5-.4 1.2-.9 1.3 .1 1.2-.6 .4-.5-.4-.7-1.2 .2-.9-1.7-.4-1.8-.1-.5 .1-.7 .9 .7 .4 .1 1.2 1 1.2 .2 1.1-1.3-1.1-.8-.8-1.4-.4-1.4-.1-.9 .1-1 .5 1 .7 .6 1.1 1.7 .2 1.5 .5 .7 .2 2.3 .5 2 .5-2 .8-1.1 1 1.1-.8 2.2 .2 2.3 .8 1.6 .5 .6-.5 .9-.8 1.4v2.2l.8 1.9 .9 .3-.2 2.3-.1 2.2-.6 2.1-.2 .2 .2 .2 1.2 .8 .3 1.2 1 1.7h1.2l.4 .6 .9 2.1 .1 .1-.1 .4-.3 1.9 .3 1.3zM301.3 268.4l-.2-.2-.3-2.3-.7-2.2-.1-.1-.2-2.2-.8-2.2 .2-2.3 .3-2.2 .5-.4 .4 .4 .9 2.2v2.7l-.5 1.8 .5 .3 1.2 1.4 .5 .6 .6 2.2-.1 2.3-1 1zM308.7 262.4l-.3-1 .3-.4 .6 .4zM308.7 212l-.7-2.2 .7-2 .8 2zM311.2 203.4l-.2-.4 .2-.3 .1 .3zM313.7 202.6l-1-1.8-.3-.3-1.2-1.1-.3-.9 .2-2.2 .1-.2 .4-2.1 .6-2.2-1-2.1-.4-.1 .4-.2 1.2-1.1 1.3 .1 1.2-1.1 1.1 2.3 .2 1.6 .1-1.6 1-2.3-.5-2.2-.6-1.6-.8-.7 .8-.8 1.2-.4 .4 1.2 .8 2.2 1.3-.9 .6 1 .6 .9 .8 1.3-.8 1.3-1.2-1.3v-.2l-1.3-2-1.1 2.2 1.1 1.3 1 1 .3 .7 1.2 2 1.3-.3 .1-.2 1.1-1.1 .6 1.1-.6 1.7-.3 .5-.9 2h-1.3l-1.2-1-1.3 1.2-1.2-.8-.5 .9-.7 .9-.7-.9 .7-1.9 .1-.4-.1-1.6-.2-.6-1.1-.8-1.2-.2-.9 1 .6 2.2 .3 1.2 .9 3.3v2.3zM316.2 202l-.8-1.2 .8-.7 1.2-.4 1.2-.1 .8 1.2-.8 1.4-1.2-.2zM322.4 210.6l-.4-.8-.9-1.3-1.2 .9-1.1-1.9-.2-.5-1.2-1-.5-.7 .5-.7 1.2-.2 1.3 .7 .9-2.1 .3-.9 .5-1.3-.5-1.4-1.2-.2-.4-.7 .4-1.2 1.2-.6h1.3l1.2 1.3 1.2 .5v.2l.4 2.1-.2 2.2 .7 2.3-.9 1.4-1.2 .8-.9 2.3zM327.3 204.9l-.5-1.9-.1-2.2 .6-1.5 .6 1.5-.2 2.2zM333.5 203.7l-.8-.7 .8-1.7 .5 1.7zM341 204.6l-.7-1.6 .7-.8 .8 .8zM339.7 186.8l-.6-1.7 .6-1.5 1.3 .4 .5 1.1-.5 1.1zM343.4 186.7l-.5-1.6 .5-2.2 .5 2.2zM345.9 185.8l-.3-.7 .3-.7 .9 .7zM360.8 190l-.6-.4 .6-.2 .1 .2zM368.2 188.2l-.8-.9 .8-1.1 .7-1.1 .6-1.3 .5 1.3 .7 1.2 .5 1-.5 .6-1.2 .6zM372 185.4l-.3-.3 .3-.9 .6 .9zM375.7 207.8l-.3-.3 .3-.3 .2 .3zM376.9 200.5l-.8-2 .8-2.2 1.3 2 .3 .2-.3 .4zM378.2 203.8l-.5-.8 .5-.8 .2 .8zM342.2 194.8l-.1-.8 .1-1.2 .1 1.2zM326.1 172.1l-.2-.5 .2-2.1 .3 2.1zM322.4 144.3l-1.1-1.9-.2-2.2-1.2 1.2-1.1-1.3 1.1-1 1.2 1 .6-2.2 .7-1.2 1 1.2 .2 .7 1.2 1.5-1 2.3-.2 .5zM313.7 174l-.1-.2 .1-.7 .1-1.5 1.1-2.1 1.3 1.8 .1 .3-.1 .5-1.3 1.5-.7 .2zM287.6 234.2l-.3-2 .3-.4 .6 .4zM291.4 224.9l-1-1.7 .6-2.2 .4-.4 .6 .4 .3 2.2zM301.3 280.1l-.9-.7 .9-.5 1.2 .4 .4 .1-.4 .2zM302.5 258l-1.2-1.1 1.2-1 .6 1zM313.7 185.8l-.9-.7 .9-1.1 .8 1.1zM316.2 165.4l-.5-.5 .5-.8 .5 .8zM339.4 290.6l.3 1.7 1.3-.9 1.2 1.4 1.2-.5 .4-1.7-.4-.5-1.1-1.7-.1-.4-1.2-.3-.6 .7-.7 1.5zM349.1 290.6l.5 1.6 .6-1.6-.6-1.5zM373 290.6l.2 1.3 1.2 .3 .6-1.6 .7-1.3 .3-.9 .3-2.3-.6-1-1.3 .3-1.2-1.8-.9-2 .9-2.2h.1l1.1-.2 1.2 .2-.8 2.2 .9 .5 .4-.5 .8-1.1 1-1.1-1-.7-1.1-1.6-.1-1.2-1.3-.4-1.2 .6-.6 1-.6 2.1-.7-2.1 .7-1.2 .5-1-.5-1.1-.6-1.2-.5-2.2-.2-.2-.8 .2 .1 2.2-.1 2.3 .1 2.2-.5 .8-.5-.8-.8-1.2-.5-1 .1-2.3-.8-1.4-1.2 1.1-.6 .3-.3 2.3 .3 2.2-.7 2h-1.2l-.1 .3-.8 2.2-.4 1.9-.1 .4 .1 .8 1.3 .1 .9-.9 .1-2.3 .2-1.8 1.3 1.3 .9-1.7-.5-2.3 .8-1.1 .7 1.1 .2 2.3 .3 2.2-.1 2.3 .1 .4 1.3 .7 1.2-.2 1.3-.2 1.1 1.5-.8 2.3zM327.1 288.4l.2 .8 .3-.8-.3-.6zM350.5 288.4l.4 .3 .6-.3 .6-1.2 .3 1.2 1 2.2 1-2.2 .2-.3 .7 .3 .5 .7 .3-.7 1-1 .9-1.3-.9-1.9-.8-.3-.4-2.3h-.1l-1.2 1.1-1 1.2-.2 .2-.2-.2-.8-2.3 .2-2.2 .8-1.8 1.2 .9 1.2-.4 1.3-.9v-.1l-1.3-1.3-.5-.9-.7-1.9-1.2 1-1.1 .9-.2 1.9v.3l-1.2 2.2-1.3-.6-.2-1.6-.9-2.2-.1-.2-.2 .2-.9 2.2-.1 .5-1.3 1.3-1.2-1.1-1.1 1.6-.2 .2-1.2 2 1.1 2.3-.4 2.2 .5 .6 .5-.6-.3-2.2 1.1-1.4 .9-.9 .3-1 .3 1-.3 2.2v.1l-.3 2.2 .3 .7 1.3 1.3 .4-2-.3-2.2 .8-2.3 .3-.5 .6 .5 .6 1.1 1-1.1 .3-1.1 .4 1.1-.2 2.3 .2 2.2-.4 .7zM228 286.1l.1 .3 1.3 .6 1.2 .4 1.2 .3 1.3-.1 1.2-.9 .5-.6-.5-.7-.5-1.5-.7-1.8-1.3-1.3-.4 .8-.2 2.3-.6 .3-1.2 .5-1.3 1zM252.8 286.1l.1 .2h1.3l.4-.2-.4-.9-1.3 .7zM336.5 283.9l.7 1.9 1.3-.9 .8-1-.8-.6-1.3-1.5-.3-.2-.9-.8-.4 .8 .4 .6zM364.9 283.9l.9 .8 .6-.8-.6-1.6zM387 283.9l1.1 .4 .4-.4-.4-.7zM227.7 281.6l.4 .7 .6-.7-.6-1.2zM263.7 281.6l.4 .8 .7-.8-.7-.5zM269.8 281.6l.5 2.1 .3-2.1-.3-.4zM272.1 281.6l.7 1.1 .8-1.1-.2-2.2-.6-.9-1.3 .4-.2 .5 .2 .6zM292.3 281.6l.3 .3 1.2-1.2 .6-1.3-.6-1-1 1-.2 .9zM360.3 281.6l.5 .4 .2-.4-.2-1.1zM891.3 281.6l.2 2 .3-2 .3-2.2-.4-2.3-.2-.1-.1 .1-.3 2.3zM241.7 279.4l.1 .3v-.4zM283.4 279.4l.5 .9 1.3-.4 .6-.5-.6-2-1.3 .9zM337.2 279.4v.1l1.3 .9 1.1-1-.8-2.3-.3-1.3-.4 1.3zM357.8 279.4l.5 .6 1-.6 .3-.2 1.2-.5 .7-1.6-.7-1.9-.1-.3 .1-.3 1.2-.9 .4-1.1 .9-1.9 1.2 .7 .2-1 1.1-1.5 1.2 1 .7-1.7 .5-1.3 1.3 .2 .6-1.2-.6-1-.8-1.2-.5-1.1-1.2 1.1-1.2-.5-.7 .5 .7 .3 1.1 1.9-1.1 1.3-1.3-.1-1.2-.6-.7-.6 .7-.5 1.1-1.7-.1-2.3-1-1.6-.2 1.6-1.1 1.4-.7-1.4-.5-1.3h-1.2l-.5 1.3 .5 2 .3 .3 .7 2.2 .2 .3 1 2-1 1.5-.4 .7-.4 2.2-.4 .7-1.1-.7h-.2l-1.2-1-.5-1.2 .5-1 .8-1.2-.8-1.2-.9-1.1 .9-1.4 .2-.8v-2.3l.3-2.2 .7-1 .8-1.3-.3-2.2-.5-2-.1-.3-1.1-1.5-.8-.7-.5-.6-.7-1.7 .7-1.8 .9-.4 .4-.3 .2 .3 1 1.2 1.3-.6 .5-.6-.5-1-1.3 .1-.6-1.3-.2-2.3-.4-1.5-.4-.7 .4-1 .2-1.3-.2-.8-1.1-1.4-.2-.3-1.2-1.2-1.2 1.5-1.3 1.7-1.2-.3-1.3-1.3-1.1 2.1 1.1 1.5 1.3-.2 .2 1 1 2 .4 .2-.4 1.1-1.2 .2-.4 1-.9 1.6-1.2-.8-.9-.8 .9-1 .6-1.3-.6-1.8-.5-.4-.7-.7-.7 .7 .7 1.3 .2 .9-.2 1-.3 1.3-.8 2.2-.2 .1-1.2 .9-.6 1.2 .6 .8 1.2 .5 .7-1.3 .6-1.6 1.2 1.2 .5 .4-.5 1.6-.2 .7 .2 1 .7 1.2-.4 2.3-.3 .7-.9 1.5-.3 .6-.6 1.7 .6 1.1 1.1 1.1 .1 .4 .3 1.9 .3 2.2 .6 1.2 .6 1.1 .7 2.2v.5l1.2 .1 1-.6 .3-.1 1.2-1.3 .7 1.4 .5 1.6 .5 .6 .8 .6 .8 1.7 .4 1.3 .6 .9-.6 1.7zM352.1 269l-.4-.8 .4-2.3-.9-2.2-.3-.7-.9-1.6-.4-.4-.9-1.8 .7-2.3 .2-.2 .7-2 .6-1.7 1.2-.8 .2 .2 .8 2.3 .2 2.2-.6 2.3-.3 2.2 .2 2.3 .8 2 .1 .2-.1 .2-1.1 2.1zM354.6 264.2l-.2-.5 .2-.5 .8 .5zM355.8 256.3l-.5-1.6 .5-.5 .4 .5zM350.9 249.8l-.6-1.9 .6-.6 .5-1.6 .7-2.1 1.3 1.7 .1 .4-.1 .1-1.3 1.7-.6 .4zM353.4 251l-.3-.8 .3-.3 .5 .3zM354.6 259.7l-.4-.5 .4-1.4 .4 1.4zM354.6 243.7l-.2-.2-.4-2.3 .5-2.2 .1-.6 .4 .6 .8 1.5 .5 .7-.1 2.3-.4 1.2zM268.1 277.1l.9 1.2 1-1.2 .3-.6 1-1.6-1-1.5h-1.3l-.5 1.5zM273.7 277.1l.3 .8 .3-.8-.3-1zM297.1 277.1l.5 1.7 .6-1.7v-2.2l-.6-2.1-1.3 1.1-1.2-.1-1.3 .5v1l1.3 .4 1.2 .5zM324.3 277.1l.5 .7 .4-.7-.4-.7zM333.1 277.1l.4 1.6 .4-1.6-.4-.5zM335.3 277.1l.7 1.4 .5-1.4-.5-.8-.6-1.4-.6-1.5-.7 1.5 .7 1.4zM342 277.1l.2 .3 .4-.3-.4-2.2v-.2l-1.2-1.9-1.3 1.7-.6 .4 .6 .6 1.3 .8zM893.9 277.1l.1 .3v-5.9l-.4 1.1-.1 2.3zM325.6 274.9l.5 .7 .5-.7-.5-1.4zM344.7 275.1l1.2 .4 .7-.6 .6-.9 .6-1.4-.6-1.7-1.3 .6-.9 1.1-.3 2.2zM350.9 274.9h.1l-.1-1.4zM466.1 274.9l.1 .1v-.1l.3-2.3-.3-2.2-.7 2.2zM214.7 272.6l1 1.4 1.3 .1 .5-1.5-.5-.8-1.2-1.4 .4-2.2-.5-.4-.7-1.9-.5-.9-.8 .9-.1 2.3-.4 .7-.7-.7-.5-.7-.5 .7 .5 1.3 .3 .9 .9 1.3 1.3 .1zM252 272.6l.9 .3 .1-.3-.1-.2zM285.5 272.6l.9 .3 1.1-.3zM290.6 272.6l.8 1.7 .4-1.7-.4-.8zM887.8 272.6v.5l.1-.5v-2.2l-.1-.5-.1 .5zM255.1 270.4l.3 .8 .4-.8-.4-.5zM257.3 270.4l.6 1 .6-1-.6-.8zM293.2 270.4l.6 1.5 1.3-.6 1-.9 .2-.2 .9-2-.9-1.3-.8-1-.4-1-.2 1 .2 1.6 .1 .7-.1 .7-1.3 .2zM310.7 270.4l.5 1 .5-1-.5-1.5zM313 270.4l.7 1.6 1.2-.9 .5-.7 .8-1.7 1.1-.5 .1-.1 .7-2.2-.7-1.9-1 1.9-.2 .9-1.3 1.1-.1 .3-1.1 1.2zM337.7 270.4l.8 .9 1-.9 .2-.3 .2 .3 1.1 2 1.2-.4 1.2-.5 .7-1.1 .6-.7 .8-1.5-.8-1.1-.9-1.2-.4-1.2-1.2 .2-.6 1-.6 .5-1.3-.1-.6 1.9-.6 1.2zM342.2 268.8l-.2-.6 .2-.9 1.2 .6 .1 .3-.1 .2zM380.2 270.4l.4 1.3 1.3-1 .1-.3-.1-.5-1.3-.4zM228.8 268.2l.6 .6 .6-.6-.6-1.1zM242.8 268.2l.2 .1 1.2-.1 .3-2.3-.3-.6-1.2 .4-.1 .2zM256.2 268.2l.4 1.1 .5-1.1-.5-1.4zM283.7 268.2l.2 .4 .6-.4-.6-.6zM291.9 268.2l.7 .6 .5-.6-.5-2.3zM346.6 268.2l.6 1.6 .7-1.6-.7-1.3zM218.1 265.9l.1 .1 .1-.1 1-2.2 .1-.1 .8-2.2-.8-1.9-.1-.3-.3-2.3 .4-1 .8-1.2 .5-2 .3-.3-.3-.1-1.3-.7-1.2 .2-.6 .6 .6 1.1 .6 1.2-.6 .8-1.2 1.4h-.3l.3 .1 .7 2.2-.7 1-1.3 .1-.8 1.1 .8 .7 1.1 1.6 .2 .4zM218.2 261.6v-.3l.1 .1zM258.9 265.9l.2 .7 1.3-.7 1.2 1 .6-1 .6-1.1 .4-1.1-.4-1.7-.9 1.7-.3 .5-1.2 1.7-1.3-.8zM280.7 265.9l.7 .5 .4-.5-.1-2.2-.3-1-.3 1zM335.2 265.9l.8 1.9 .4-1.9-.4-2-.2-.2-1-.8-.8 .8 .8 1.3zM345.7 265.9l.2 .5 .5-.5-.5-.9zM371.8 265.9l.2 .2v-.3zM225.5 263.7l.1 .7 1.3-.1h1.2l1.3-.1 1.2 .2 .2-.7 .4-2.3 .6-.8 .6-1.4v-2.3l-.6-.7-.9 .7-.3 .5-1.2 .6-1.3 1.1-.1 .1 .1 .8 .1 1.4-.1 .2-1.2 1.4-1.3 .1zM293.7 263.7l.1 .1 .2-.1-.2-.3zM319.8 263.7l.1 .1 .1-.1-.1-.1zM336.2 263.7l1 .5 .3-.5-.3-.7zM340.7 263.7l.3 .5 .2-.5-.2-.3-.5-2-.8-1.7-.9 1.7 .9 1.7zM344.1 263.7l.6 .5 .7-.5-.7-1.4zM442.6 263.7l.2-2.3-.2-1.8-.3 1.8zM212.3 261.4l.9 1.3 .6-1.3 .1-2.2-.7-1.9-1 1.9zM294.4 261.4l.7 1.2 1-1.2-1-.6zM473.5 261.4l.1 .9 .4-.9-.4-1zM327.8 259.2l.8 .8 .9-.8-.5-2.3-.4-.2-.6-2 .6-1.1 1.2-.2 1.2 .8 1.3-.4 .6-1.4-.2-2.2 .8-1.9 .8-.4 .5-1.3v-.9l.3-2.2v-2.3l.9-1.8 .4-.4-.4-1-.9-1.3-.3-.9-.4 .9-.9 1-1.2 .8-.2 .5v2.2l.2 .7 .3 1.6 .3 2.2-.6 .6-1.3-.5-.3 2.1-.6 2.3-.3 .4-1.2-.2-1.3 1.6h-1.2l-.6 .4 .4 2.3 .2 .3 1.1 1.9 .1 .6zM333.5 241.6l-.7-.4 .7-.9 .7 .9zM335.5 259.2l.5 1.5 1.2-.4 .6-1.1 .7-2.1 .2-.2-.2-.3-.8-1.9 .8-.9 1.1 .9 .1 .1 1.2 2.1 .1 .2 .2-.2 1-1.2 .3 1.2-.3 1.2-.2 1.1 .2 .3 1.2 .4 1.3 .8 .6-1.5-.6-1.3-.7-1v-2.2l-.6-1.9-.2-.4-1-1.4-1-.8 1-.6 .9-1.7-.9-1.3-.8 1.3-.4 2-1.3-.8-1.2 2.2-.9 1.1-.4 1.3-.4-1.3 .4-1.6 .2-.6 1.1-1.3 .5-1 .7-1.6 .5-.6-.5-.4-.8-1.8-.4-1.9-.6 1.9-.7 1.4-.3 .8v2.2l-.9 1-.7 1.3-.1 2.2 .6 2.3 .2 1 .3 1.2-.3 1-.3-1-.9-1.1-1-1.1-.3-.7-.5 .7 .5 1.8 .1 .4 1.2 1.5zM339.7 253.9l-.1-1.5 .1-.2 .1 .2zM350.8 259.2l.1 .4 .2-.4-.2-.8zM242.7 256.9l.3 1.3 .7-1.3-.7-1.8zM360.9 256.9l1.1 .6 .4-.6-.4-1zM364.3 256.9l.2 .2 .1-.2-.1-.2zM215 254.7l.7 1.8 .3-1.8-.3-.6zM227.5 254.7l.6 1.1 1.3-.8v-.3l1.2-1.5 1.2 .2 .6-1 .5-2.2-1.1-1.2-1.2-.1-1.2 .7-.7-1.7 .7-.5 .5-1.7 .6-2.2-.7-2.3-.4-1.6-.1-.6 .1-.8 .3 .8 .9 .8 .6 1.4 .6 .7 .3-.7-.3-1.7-.4-.5 .4-.3 1.3-1.1 1.2 1.2 .1 .2 1.2 .7 .6-.7-.6-1-.7-1.3 .7-.8 .7-1.4 .5-1.3 .9 1.3 .1 2.2-.5 2.3 .5 2.2 .2 1.8 .6-1.8 .7-1.1 .4-1.1 .5-2.3-.9-2.1-.1-.1 1.3-1.3 .3-1-.3-.3-1.2-.8-.4-1.1 .2-2.3 .2-2.2-1.3-1.4-1.2-.8-1.2 1.3-.7 .9 .7 .9 .9 1.3-.5 2.3-.1 2.2-.3 .5-.9-.5-.4-2-1.2 1.3-.5 .7-.8 1-.5 1.3-.7 1.4-1.2 .4-.9 .4-.4 .2-1.2 .2-.5-.4-.7-2.2 1.2-2.2v-.1l-.8-2.2 .8-1.3 1.1-1-1.1-1.4-.4-.8-.9-1.2-1 1.2 .8 2.2-.8 2.3 .1 2.2-.3 1-.3-1-.9-.9-1.2 .9-.1 .1-.6 2.2 .6 .8 .7 1.4 .1 2.3-.8 1.6-1.2-1.1-.6-.5v-2.3l-.7-1.8-.2-.4 .2-.5 1.1-1.8 .2-.1 1-2.1-.4-2.3-.6-.5-1-1.7-.3-.8-.6 .8-.6 .6-1.2-.1-1.3-.1-1.2 1.4-1.3-.8-.9 1.2 .9 1.6 .4 .7-.4 1.3-.5 .9-.1 2.3-.1 2.2 .2 2.3 .5 1.1 .4 1.1 .9 1.3 1.2 .8 .1 .2-.1 .1-.6 2.1-.6 1.1-1.2-1.1-.1-.2-1.2-1-.7 1.2 .3 2.2 .4 1.1 1.2-.4 1.3 1.1 .5 .5 .7 .8 1.3-.5v-.7l-.6-1.9 .6-1.9 .2-.3 .8-2.2 .2-.8 .8-1.5-.8-.6-1.2-1.2-.2-.4 .2-.8 .3-1.5-.3-1.2-.3 1.2-1 1.2-.7-1.2 .7-1.5 .8-.7-.3-2.3 .4-2.2 .4-1.1 1.2 .7 1.2-1.6 .5 2-.5 1.4-.9 .8-.3 .6-.9 1.7 .9 1.1 .6 1.1 .2 2.3 .4 1.6 .2 .6 1.1 1.2 .6 1.1-.2 2.2-.4 .6-1 1.6 1 1.1 .7-1.1 .5-1.2 1.3 1.2 1.2 .7 .3-.7 .9-1.9 .5-.3 .8-1.6 1.2 .1 .2 1.5-.2 .9-1.2 .5-.2 .8-.8 2.3 1 1.8 .1 .4zM234.3 235l-.3-.5 .3-1.3 .2 1.3zM223.2 244l-.3-.5 .3-.5 .3 .5zM224.4 238.2l-.4-1.5 .4-1.3 .6 1.3zM225.6 242.2l-.7-1 .7-2 1.1 2zM228.1 243.2l-1-2 1-.9 1 .9zM233 254.7l.1 .2 .4-.2-.4-.2zM267.5 254.7l.3 .4 1.2 .1 .5-.5-.5-1.2-.3-1.1-.9-1.3-.4 1.3zM360.8 256.4l.3-1.7-.3-.2zM440.9 254.7l.5 2.2 .4-2.2v-2.3l-.2-2.2-.2-.9-.3 .9-.3 2.2zM281.6 252.4l1.1 1.1 1.2 .6 1.3-.7 .3-1-.3-1h-1.3l-1.2-.7zM346.9 252.4l.3 .4 .6-.4-.6-.5zM364.1 252.4l.4 .5h1.3l.8-.5 .4-1.2 .2 1.2 1 2 1.3-.4 1.1-1.6-.8-2.2v-2.3l-.3-1.3-.5-.9 .4-2.2 .1-.2 1.2-1 1.3-.5 1.2 .5 .9-1.1-.9-1.8-1.2 1.4-.7-1.8-.6-1.7-1.2 .6-1.3 .6-1.2-.5-.4-1.3-.6-2.2-.2-.4-1.3-1.4-.6-.5 .6-.4 1.3-1.1 1-.7-1-.8-1.3-.2-.8-1.3 .4-2.2v-2.3l-.6-2.2 1-1.4 .9-.8 .4-1.2 .3 1.2-.3 1.7-.1 .5-.4 2.2 .5 .2 .1-.2v-2.2l1.1-.9 .6-1.3-.6-2.2-.2-.1-.5-2.2-.3-2.3 .1-2.2-.3-1.1-1.3-.7-.4-.5-.8-1.5-.5 1.5 .5 .9 .5 1.4-.5 .6-.7-.6-.6-1-.4 1 .3 2.2-1.1 1.1-1.1 1.2 1.1 1.1 1-1.1 .2-1.4 .5 1.4v2.2l-.5 .7-1.2 .8-1 .8 1 2.2-1.2 1-.3-1-1-1.5-1.2 1.4-.1 .1-1.2 .9-.1 1.3 .1 1.7 1.3-1.5 .5-.2 .7-.3 .5 .3 .8 .7 1.2 .8 .3 .8-.3 .3-1.2 .5-.9-.8-.4-1.5-.2 1.5 .2 1.7 .1 .5 1.2 1.1 1.2 .8 .7 .4 .2 2.2-.4 2.3v2.2l-.5 .8-.3-.8-.5-2.2 .4-2.3-.8-1-.9 1-.4 1.5-.4 .8 .4 .4 .8 1.8-.4 2.3 .5 2.2 .4 1 .5-1 .7-1.1 .8 1.1 .4 1.7 .3-1.7 1-1.2 1.1 1.2 .1 .4 1.3 .4 1.2 .5 .7 1-.7 1-1.2-.1-.7 1.3-.6 1.7-.8 .5-.3 2.3zM365.8 249.9l-.7-2 .7-.6 .2 .6zM368.2 248.4l-.1-.5 .1-1 .6 1zM364.5 217.4l-.7-.9 .7-.7 .8 .7zM362 221.6l-1.2-.6 1.2-.9 .8 .9zM363.3 237.5l-.6-.8 .6-1.5 .4 1.5zM365.8 239.7l-.6-.7 .6-.5 .5 .5zM368.2 242.3l-.4-1.1 .4-1.4 .5 1.4zM438.7 252.4l.2 2.3 .2-2.3v-2.2l-.2-2-.4 2zM893.5 252.4l.5 2.1v-19.2l-.2-.8-.2-2.3-.2-2.2-.6-2-.4-.3-.9-.5-.4 .5-.2 2.3 .1 2.2 .5 2.2v.1l.3 2.2-.2 2.3 .1 2.2 .1 2.3 .3 2.2 .7 1.7 .1 .5 .4 2.3zM263.4 250.2l.7 2.2 1.2-1.3 .7-.9 .5-2.3-1.2-.1v.1l-1.2 1.1zM279.4 250.2l.8 1.3 .5-1.3-.5-2.1v-.2l1.2-.9 .6-1.3-.6-1.7-1.2 .9-.7 .8-.5 1-.7 1.2 .7 2zM286 250.2l.4 .5 1.2 .6 1.3-.1 .8-1 .4-2.2v-.1l.1-2.2-.1-.1-.4 .1-.8 .3-.5 1.9-.8 1.6-.6-1.6-.6-.9-.8-1.3-.4-.8-.7 .8-.2 2.2 .9 1.7zM312.2 250.2l.2 1.4 .5-1.4 .1-2.3-.6-.3-.3 .3zM359.6 250.2l1.2 1.2 1.2-.3 1.2-.9-1.2-2-.1-.3 .1-.2 1.3-.5 .3-1.5-.3-1.8-1.3-.2-.7 2-.5 1.1-.4 1.1zM371.8 250.2l.2 .3v-1.3zM378.6 250.2l.8 .4 1.1-.4-1.1-.6zM217.5 247.9l.7 .6 .9-.6-.9-1.5zM248.5 247.9l.7 .7 .9-.7-.9-.7zM374.1 247.9l.3 1.1 .4-1.1-.4-.3zM263.6 245.7l.5 .8 .4-.8-.4-.8zM267.6 245.7l.2 .9 .4-.9-.4-1.5zM328.4 245.7l.2 .3 .1-.3 1.1-.9h1.2l.1-1.3-.1-.1-1.2-1.1-1.2-.5-1.3 .1-1-.7 .1-2.2-.3-.5-.6-1.8 .6-1 1 1 .2 .4 .1-.4 .5-2.2-.6-.8-.6-1.5-.6-.8-1.3 .3-1.2 .1-1.2-.9-.2-.9 .2-.3 1.2-.8 1.1-1.2-1.1-2.2 .8-2.3-.8-1.7-.9 1.7-.3 .9-1.3 .9-.2 .5-1 1.2-1.3 .8-.9 .2 .9 .5 .7 1.8 .6 .9 1.2 .6 1 .7 .3 .5 .9 1.8-.9 .8-1.2 1.4-.1 .1-1.2-1.2-.6 1.1 .6 .6 .6 1.7-.6 1.2-.7 1 .7 1.9 .6 .4 .6 1.4 1.3-1.4 1.2-2 1.1-.3-1.1-.2-1.2-.5-.6-1.5 .6-1.1 .8-1.2 .4-1.5 .5 1.5 .3 2.3 .4 2.2h.2l1.1 .3 .4 2 .8 1.3zM321.1 241.4v-.2h.1zM373.1 245.7l.1 .4 .1-.4-.1-.2zM383 245.7l.1 .1 .1-.1 .4-2.2-.5-1.7-.2-.6-1-1.9-1.3 1.2-.8 .7 .8 1.8 1.3-.2 .5 .7zM273.5 243.5l.5 .1 .5-.1-.5-.3zM278.7 243.5l.3 .3 .1-.3 .7-2.3-.8-.4-.4 .4zM283.3 243.5l.6 .8 .3-.8-.1-2.3-.2-.1v.1zM286.3 243.5l.1 .1 1.2 .1 .3-.2-.3-.1-1.2-.1zM374.2 243.5l.2 .3 1.3 .5 .6-.8 .6-1.6 .7 1.6 .6 .4 .3-.4 .1-2.3-.4-.5-.4-1.7-.9-2-.2-.3 .2-.5 .5-1.7 .1-2.3-.5-2.2-.1-.4-.7-1.9-.5-.4-1.3 1.3-.9-.9-.1-2.2-.2-.6-.3 .6-.1 2.2 .4 .7 .4 1.6 .8 .7 1.3 .2 .8 1.3-.8 1.2-1.3 .4-.8 .7-.4 1.6-.6 .6 .6 .7 1.2-.3 .7 1.9-.4 2.2-.3 1.5zM384.9 243.5l.7 1.7 .6-1.7-.6-2.2-.1-.1-.3-2.2 .4-.8 1.2-1.5-1.2-1.2-1.2 2.4-.7 1.1-.2 2.2 .9 .8zM264.6 241.2l.7 1.6 .9-1.6 .4-1.5 .2-.7 .3-2.3-.5-.2-1.3-1.7-1.1 1.9 .3 2.3zM289.1 241.2l1 .7 .8-.7-.8-1.6zM314.5 241.2l.4 1.3 .7-1.3 .6-.6 1.2-.3 1.2-.9 .2-.4-.2-.8-1.1-1.5-.1-.4-.1 .4-1.1 .6-.4-.6-.9-1.1h-1.2l-1.3 .2-1 .9 1 1.6 1.3 .1 1.2-.2 .5 .8-.5 1.2zM241.7 239l.1 .1 1.2 .7 .4-.8-.4-.9-1.2 .8zM262.7 239l.1 .3 .2-.3-.2-.4zM277.1 239l.6 1.1 .4-1.1 .1-2.3-.5-.3-.4 .3zM280 239l.2 1.6 .3-1.6-.3-.9zM282.4 239l.3 .8 .3-.8-.3-.6zM309.2 239l.8 1.1 .6-1.1v-2.3l-.6-.4-.2 .4zM340.2 239l.8 1.2 1.2-.4 .9-.8-.9-1.1-1.2-.5zM344 239l.7 1 .4-1-.4-1.3zM261 236.7l.6 1.3 .9-1.3 .3-1 .7-1.2-.1-2.3-.6-.5-1.2-1.4-.1-.3-.5-2.3-.6-.9-.6 .9 .2 2.3-.5 2.2-.4 1.6-.2-1.6-1-1.8-.7-.4 .7-.7 .4-1.6-.4-1.3-.4-.9-.9-.9-.4 .9 .4 1.7 .4 .5-.4 1.3h-1.2l-1.2 .5-1.1-1.8-.2-.3-.3 .3-.3 2.3 .3 2.2 .3 2.3v.1l.1-.1 .1-2.3 1.1-1.7 1.2 1.7-.3 2.3 .3 1.5 .5-1.5 .7-1.1 1 1.1 .3 2.1 1.2-1.2 1.3 .2zM283.5 236.7l.4 .9 .4-.9 .2-2.2-.6-.7-1.2-.7-.4 1.4 .4 .8zM300.9 236.7l.4 .8 1.2 .5 .7-1.3 .6-.9 .5 .9 .7 .8 .9-.8 .3-.3 1-1.9-1-1.5-1.1 1.5-.1 .2-.1-.2-1.1-1.6-.7 1.6-.6 1-1.2 .3zM379.1 236.7l.3 1.2 1.2-.7 .5-.5-.5-2.1-.1-.1-1.1-1-.2 1zM271.1 234.5l.4 1.3 .2-1.3-.2-.6zM280.2 234.5h0l.2-2.3 .5-2.2-.2-2.3-.5-1-.9-1.2-.3-1.2-.3 1.2-.5 2.2 .8 2 .3 .3-.3 .6-1.3 1.5v.2l1.3 .4zM308.5 234.5l.2 .2 .2-.2 .2-2.3-.4-.6-.2 .6zM315.9 234.5l.3 .8 .6-.8-.6-2.2zM330.7 234.5l.3 .6 1.3 .9 1.2-.6 .7-.9-.7-1.2-1.2-.3-1.3 .4zM337.5 234.5l1 2 1.2-1.4 1.3 .9 1.2-.3 1.2 .6 .7-1.8 .6-2 1.2 .5 .5-.8 .8-1.9 1.2 .2 1 1.7 .2 1.6 1.3-.4 .4-1.2 .8-1.2 .7-1-.5-2.3-.2-.1-.9-2.1 .9-2 1.3 1.1 .3-1.4-.3-.4-1.3-.4h-1.2l-.9 .8-.4 .4-1.2 1.9 .3 2.2-.3 1.2-.2-1.2-1-1.8-1.3 .4-.2-.8 .1-2.3 .1-2.2 .6-2.2-.6-2.2-1.2 1.3-1.3-.1-.3 1 .1 2.2-.4 2.2 .6 2.3 1 2.2-1 1.2-.6 1.1-.6 2.2v.1l-1.2 .6-.5-.7-.8-.8-1.2-.1-.3 .9zM346.6 234.5l.6 .7 .9-.7-.9-1.1zM367.5 234.5l.7 1.5 1.3 .1 1.2-.4 1-1.2-1-1.6-1.2 .7-1.3-1.2zM228.6 232.2l.8 1.6 .8-1.6 .4-1 .9-1.2-.9-2.2-1.2 .7-.4 1.5zM265.7 232.2l.9 .5 1.2 1.5 1.2-.5 .9-1.5-.8-2.2 1-2.3 .2-.7 1.2-.2 1.3-.6 .4-.7-.4-.9-1.2-1.4 1-2.2-.3-2.2 .5-.7 .9-1.6-.9-2.1-.9 2.1-.4 .9-1.1-.9-.1-.2-1.3-.1-.1 .3-1.1 1.5-.5 .8 .5 1.6 1.2-.8 1.3 1.4v.5l-1.3 .4-1.2-.7-.5-.2-.7-.6-.7-1.6-.6-1.4-1.2-.4-1.1 1.8-.2 .3-.3-.3-.4-2.3 .7-1.3 1.1-.9-1.1-.6-.7-1.7 .7-1.4 .6-.8 .1-2.3 .6-.7 1.2-.8 .9-.7-.9-.9-1-1.4-.2-.3-.2 .3-.9 2.3-.2 .5-1.2 .4-1 1.3-.2 1-1.3 .3-1-1.3 1-2.2h.1l1-2.3-1.1-1.7-.5-.5-.7-.4-.3 .4-1 .7-.5 1.5-.7 1.1-.7 1.2-.2 2.2-.2 2.3 1.1 1 1.2-.5 1.3 1.2 1.2-.8 .9 1.3 .4 1.1 .4 1.2 .1 2.2-.5 1.2-.2 1.1-.8 2.2-.3 .7-.7-.7-.3-2.2 1-2 .6-.3 .1-2.2-1.9-1.9-1.3 1-.4 .9 .4 1.9 .2 .3-.2 .6-.5 1.7 .3 2.2 .2 .2 1 2 .3 1.1 1.2 .5 1.3-.9 .6-.7 .4-2.2 .2-.7 .3 .7 .9 1 .9-1 .4-.6 1.2 .2 .4 .4-.4 .2-1.1 2 .5 2.3 .6 .6 1.3 .4 .7 1.2 .5 .4 1.2 1.9-1.2 1.6-.9-1.6-.3-1.1-1.3 .1-.4 1 .4 2zM256.6 206.7l-.4-1.4 .4-1 .8 1zM257.9 203.9l-.3-.9 .3-1.4 .5 1.4zM272.8 232.2l1.2 .3 .3-.3v-2.2l-.3-1.4-.8 1.4zM310.5 232.2l.7 1.1 1.2-1 1.3 1.5 1.2-1 1.2-.6h.1l.2-2.2 .2-2.3-.1-2.2-.3-1.5-.4-.8-.7-2.2 .5-2.2-.7-.9-.7 .9 .5 2.2-.3 2.2 .5 1.2 .7 1.1-.7 1.3-.4 .9-.8 1.4-.4-1.4-.5-2.2-.4-1.3-1.2-.8-1.2 .7-1.3-.1-1.2 .8-.5 .7-.8 1-.7 1.2 .7 .7 .9-.7 .4-1.1 1.2 .4 1.3-.5 1 1.2 .2 1.1 .6 1.2-.6 .8zM314.9 230.1v-.2l.1 .1zM381.3 232.2l.6 1.9 .4-1.9 .5-2.2 .3-.2 .1 .2 1 2.2 .2 1.5v-1.5l.9-2.2-.9-1.9-.2-.4 .2-.6 1.2-1.3 .1-.3 .8-2.3 .3-.9 1.3-1.3 1.2-.5 1.1-1.7-1.1-1.9-1.2-.4 .8-2.2-.8-.7-1.3-.4-1.2 1.1 1.2 1.6 1.2 .6-.4 2.3-.8 .5-.3-.5-.9-.9-.5-1.4-.7-1.8-.6-.4-.7-.7-.4 .7-.8 1.3-1.3 .5-.4-1.8 .4-1.2 .7-1.1-.7-.7-1.2 .3-.4 .4-.8 1.9-.2 .4 .2 .3 .9 1.9-.9 1-.6-1-.7-1.3-.8 1.3 .8 1.3 .6 1-.6 1.4-.9 .8 .9 1 .7 1.2 .2 2.3 .4 .3 .6 1.9 .4 2.3 .2 .8 .1-.8 .2-2.3 .9-1.3 .8-.9-.8-1.4h-1.2l-.6-.9 .6-1.1 .9-1.1 .3-1.3 1.3 .9 .1 .4 .8 2.2v2.3l-.9 1.5-.2 .7 .1 2.3zM384.4 222.1l-.3-1.1-.2-2.2 .5-.4 .4 .4-.1 2.2zM378.2 221.4l-.3-.4 .3-.2 .2 .2zM388.3 232.2l1 1.4 .7-1.4-.7-2zM276.3 230l.2 .5 .5-.5-.5-.8zM295.4 230l.9 1.3 1.2-1.3-1.2-.8zM307.2 230l.3 .6 .4-.6-.4-1.3zM327.2 230l.1 .3 1.3 .2 1.2 1.1 .9-1.6-.9-2.1-.1-.2-.5-2.2 .6-2.2 .9 2.2 .3 .4 .8-.4 .5-.6 1.2-1.1 .3 1.7-.3 1-.7 1.2 .1 2.3 .6 1.9 1.3 .2 1.1-2.1-.9-2.3 .9-2.2-.9-2.3-.2-.6-1.3 .1-1.2-.4-1.3-.7-1.2 1.6-1.2-1-.7 1-.6 1.5h-1.2l-.4 .8 .4 1.2h1.2l.3 1-.3 1.5zM336.4 230l.8 .3 .4-.3-.4-1.6zM353.7 230l.9 1.9 1.2-.9 1.3-.8 .2-.2-.2-.1-1.3-.5-1.2-1.5zM367.1 230l1.1 2 1.3-1.1 1.2 .8 .8-1.7-.8-1.4-1-.9-.2-.6-.1 .6-1.2 1.1-1-1.1-.2-.3-.2 .3 .2 1.6zM262.4 227.7l.4 .6 .6-.6-.6-1.3zM274.6 227.7l.6 .5 .6-.5 .7-.7 .5-1.5 .3-2.3 .3-2.2-1.1-2.2-1 2.2-.3 .5-.9 1.7 .9 1.1 .6 1.2-.6 1.6zM339.2 227.7l.5 1.4 .9-1.4-.9-.9zM386.8 227.7v.3l.1-.3zM229.3 225.5l.1 .4 1.2 1.1 .2-1.5 .2-2.3 .6-2.2-.2-2.2 .4-.5 .8 .5 .5 .5 .8-.5-.8-1.1-.2-1.2-1.1-1.4-.4-.8v-2.3l-.8-1.2h-1.2l-1.1-1 1.1-1.2 .4-1.1 .8-1.4 1.2 1.4v.2l.2-.2 1-2.2 .1-.3 1.2-.8 .5 1.1 .7 2.2-1.2 1.9-.3 .4v2.2l.3 .7 1.2 1.6-.2 2.2-.8 2.3 .9 2.2 .2 .3 1.2 1.9 .5-2.2 .7-1.9 .1-.3-.1-.2-1.2-.7-1.1-1.4v-2.2l1.1-.7h1.2l1.3-.4 .2-1.2-.2-1.1-1.3 .1-.6-1.2 .6-2.3-1.2-2.4-.7-2.1 .7-.7h1.2l1.3 .5 1.2-1.3h1.3l.7-.7 .1-2.3-.8-.8-1.3-.7-.3-.7 .3-.9 1.3-.5 .9-.9-.9-1-1.3 .4-.7 .6-.5 .5-.4-.5-.9-.6-1.2 .6v.3l-.1 2 .1 .4 1.2 1.3 .4 .5-.4 .9h-1.2l-.8-.9-.4-.2-.3 .2-1 2.2-1.2-.9-1.3 .5-.4 .5 .4 1.1 .8 1.1-.8 .8-1.2-.2-.2-.6-1-2-.3-.2-1-.9-.5-1.4 .5-1.1 .6-1.1-.6-1.6-.2-.7-1-1.7-1-.5 1-.6 .6-1.6-.4-2.3-.2-.9-.1-1.3-1.2-1.9-1.1 1.9-.1 .2-1.2-2.4-.9 2.2 .9 1.3 .6 .9 .6 1.2 1-1.2 .2-.4 1 .4-1 1.4-.2 .9v2.2l-1 1.1-.8 1.1 .8 1.1 1.2-.2 1 1.4-1 .7-.3 1.5-.5 2.3 .8 .7 1.3 .5 .3 1 .9 .8 1 1.5-1 1.6-1.2-.2-.6-1.4-.7-.7-1.1-1.6-.1-.6-.5-1.6-.7-.7-.8 .7-.5 1.2-.2-1.2-1-1.7-1.3 .4-1 1.3-.2 1.7-.3-1.7-.9-1.5-.4-.8 .4-.7 1.2-1.4 1.2 1 1.3-1.1-1-2.3-.3-.4-1.1-1.8-.1-.3-1.2-.7-.1 1-1.2 1.7-.3 .5-.9 1.2-1.1 1.1 1.1 1.9 .2 .3 1 1.1 .7 1.2-.7 1.4-1.2-1.4v-.1l-1.3-1-.7 1.1 .4 2.2 .3 .5 1.3 .7 .7 1.1-.7 1.1-1.3 .1-1.1 1 1.1 .8 .6 1.5 .7 1.3 .6-1.3 .6-1.2 1.3-.5 .3 1.7v2.2l-.3 1.6-1-1.6-.3-.3-.2 .3-1 1.8-1.3-1.6-1.2 1-.4 1.1 .3 2.2-.1 2.3-.1 2.2 .3 1.8 .2-1.8 1-1.6 1.3 .5 1.2-.5 1-.6 .3-1.3v2.4l-.2 1.1 .2 .2 1.2 .6 .6-.8 .3-2.2 .3-1.5 1.3 1 1.2-.6 .6-1.2-.6-.4-.9-1.8 .5-2.3 .4-.6 1.3-1.4 1.2-.1 1.2 1.7 1.3-.2 .1 .6 1.1 1.4 1.3-.2 .5 1.1 .4 2.2-.8 2.3 .1 2.2-.2 .3-1.1 1.9zM213.2 216.9l-.7-.4 .7-.2 1.3-1.4 .8 1.6-.8 1zM217.4 207.5l-.1-2.2 .9-1.9 1.2-.1 1.3 .1h1.2l1.2 1.9-1.2 1.3-1.2 .6-1.3 1.3zM220.7 209.8h-.1l.1-.4zM280.9 225.5l.5 .9 1.3 1.2 1.1-2.1 .1-.6 .3-1.7-.3-.7-.7 .7-.5 .3-1.3 1zM285.7 225.5l.7 2.1 1.2-.5 .9-1.6-.9-1.3-.6-1 .2-2.2 .4-2.2-1.2-1.1-.9 1.1 .5 2.2-.4 2.2zM303.3 225.5l.5 .3 1.2 .1 .2-.4-.2-.1-1.2-.5zM336.1 225.5l1.1 1.9 1.2-1.9 .1-.7 1.2-1.4 .8 2.1 .5 1.4 .7-1.4-.1-2.3-.6-.7-1.3 .5-.9-2 .9-1.1 1.3-.4 .3-.7-.3-1.7h-1.3l-.8-.6 .8-2.2 1.3-.5 1.1-1.8-.7-2.2-.4-1.5-1.3-.6-1.2 1.6-1.3-1.4-1.2 1.4-.3 .5 .3 .4 1.2 1.8v.1l.1-.1 1.2-1.3 .6 1.3-.6 2.2v.1l-1.3 .9-1.1-.9-.1-.1-.8-2.2-.4-1-.5 1-.8 1.4-1.2-1.1-.7 2-.6 1.2-1.2 .2-1.2-2.8-.8 1.4-.5 1.9-.6-1.9-.6-2.3h0l-1.2 2.3-.1 .3-.8 1.9-.4 .6-1.2-.2-1.3 1.3-1.2-.3-1.3 .7v.3l1.3 1.2 1.2-1 1.3 1.7 1.2-.8 .6-1.2 .6-1.4 1.3-.6h1.2l.7 2 .6 1.1 .3-1.1 .9-1.7 1.2 .2 .9-.8 .4-.5 .5 .5-.5 1.3-.2 1 .2 .8 1.2-.1 .4-.7 .3-2.3 .6-2.2 1.2 .2 .3 2-.3 .5-.8 1.8 .2 2.2 .6 .9 .4 1.3zM337.2 221.9l-.8-.9 .8-1 .9 1zM367.9 225.5l.3 .8 .9-.8-.9-1.6zM212.1 223.2l1.1 .9 1.3-.4 1.2 .8 .6-1.3-.6-.9-1.2 .2h-1.3zM222.7 223.2l.5 .5 .5-.5-.5-.3zM234.1 223.2l.2 .2 .1-.2-.1-.1zM253 223.2l1.2 1.3 .5-1.3-.5-1.9zM316.5 223.2l.9 .7 .5-.7-.5-.6zM369.8 223.2l.9 1.5 .5-1.5-.5-1.4-.9-.8 .5-2.2 .4-1.8 .3-.5-.3-.5-.3 .5-.9 .8-.7 1.5-.6 1.8-.3 .4 .3 1.2 1.3-.5zM223.8 221l.6 1.8 .7-1.8 .5-2.2-.6-2.3 .6-.9 1.1-1.3-1.1-2-1 2-.2 .6-.9 1.6-.3 1.5-.5 .8 .5 .2zM243.7 221l.5 .9 .3-.9-.3-2.1v-.1l-1.2-.6-.7 .6zM277.8 221l1.2 1.8 1.2-.9 .6-.9-.6-1.3-1.2-.7zM303.3 221l.5 1 .2-1-.2-.5zM309.6 221l.4 .6 1.2-.5v-.1l-.9-2.2-.3-.8-.6 .8zM325.7 221l.4 .4 1.2 .5 .5-.9-.5-.8zM227.3 218.8l.8 .8 1.1-.8-1.1-1.1zM349 218.8l.6 1.3 1.3-.3 1.2 .4 1.3-.5 1.2 .2 .3-1.1-.3-1.3-.7-1 .4-2.2 .3-.3 1.2-.9 1.1-1.1-.9-2.2 1.1-1.3 1.2 .6 .2 .7-.2 .5-1.1 1.7 1.1 2.1 .7-2.1 .6-.8 .6-1.4 .3-2.3-.9-.9-1.1-1.3 1.1-2.2 .5-.1 .7-.1 .7 .1 .5 .4 .1-.4v-2.2l-.1-1.5-1.2 .2-1.2 .4-1.3-.7-.7 1.6-.5 .9-1.3 .5-.4 .8-.8 2-1.2-.1-.9-1.9 .8-2.2-1.2-1.3-.5 1.3-.7 2.2-1.3-.7-.9 .7-.3 .4-.5 1.9 .5 1.5 1.2-.9 .6-.6 .7-2.1 .4 2.1-.4 2.2 .5 2.3 .2 2.2 .2 2.3 .3 .7 .7 1.5-.7 .7-1.2-.3-1.3 1.4zM353.4 212.1l-.1-.1-.6-2.2 .7-2.2 .8-.1 .4-.2v2.5l-1.2 2.2zM357.1 206.3l-.4-1 .4-1.1 1 1.1zM277.8 216.5l1.2 2 1.2-2-.9-2.2 .3-2.3-.6-1.3-.8 1.3-.5 1.8-.2 .5 .2 1.2zM310.8 216.5l.4 .5 .2-.5-.2-.7zM347.9 216.5l.5 1.4 .3-1.4 .9-1.3 .9-.9-.9-1-1.2-.9-.3-.4-.9-.6-.4 .6 .4 1.8 .2 .5zM264.2 214.3l1.1 1.3 1.3 .8 1.2-1.4 .4-.7 .1-2.3-.5-1.5-.6-.7-.6-1-1.3 .9v.1l-1.2 1.3-.4 .9 .4 2zM266.6 213.4l-1.2-1.4 1.2-1.5 .6 1.5zM342.3 214.3l1.1 1.3 1-1.3-1-2zM369.1 214.3l.4 .7 .3-.7-.3-.6zM275.7 212l.8 .6 .4-.6 .8-2.1 .1-.1-.1-.8-1.2-.8-.9-.7-.4-.8-1.2 .7-.3 .1-.9 .5-1.3-.3-1.2 2.1 1.2 1.6 1.3-.3 2.4 .6zM300.1 212l1.2 1.7 1.1-1.7-1.1-1.4zM367.8 212l.4 .9 .4-.9-.4-.6zM370.9 212l1.1 .7 1.2 .5 .8-1.2 .1-2.2-.9-.3v.3l-1.2 1.4zM245.1 209.8l.4 .8 1.2-.8h.9l-.9-.2-.6-2.1 .6-1 .6-1.2 .7-.8 1.2-1.1 .5 1.9 .7 1.1 1.3-.8 .6-.3-.6-.5-1.3-1.3-.7-.5 .1-2.2 .6-1.7 .3-.6 .5-2.2-.8-1.5-.7 1.5-.5 .7-1.1 1.5-.1 .6-.5 1.7-.6 2.2-.2 .7-.6 1.6-.6 1.1-.5-1.1-.8-1.2-1.2-.4-1.2 .6-.8 1 .8 1.5 1.2-.4 .6 1.1 .6 1.2zM343.7 209.8l1 1.1 .8-1.1-.8-2.1zM385.6 210l.1-.2-.1-.4zM267.3 207.5l.5 1 .4-1-.4-1.9zM302 207.5l.5 1.2 .6-1.2-.6-1.4-.2-.8-.5-2.3 .7-.3 1.1 .3 .2 .1 .1-.1 1.1-2v-.2l.3-2.3 .5-2.2 .3-2.3 .1-1.3 .1-.9-.1-1.7-.2 1.7-1 .5-.7 1.7 .5 2.3-.3 2.2-.7 .4-.3-.4-.5-2.2-.5-.8-.3 .8 .1 2.2-.6 2.3-.4 1.9-.7-1.9-.6-.8-.7 .8 .4 2.2 .3 .7 .4 1.6 .9 1.4zM346.6 207.5l.6 .7 .6-.7-.6-.6zM369.1 207.5l1.6 .8 .2-.8-.2-.2-1.2 .1zM211.9 205.3l.1 .7v-.9zM238.8 205.3l.5 1.6 .5-1.6-.5-1.8zM268 205.3l1 .7 .4-.7-.4-2.1v-.2l-.9-2.2-.3-.3-1.2 .1-.7-2.1-.6-.7-.7 .7 .4 2.3 .3 .5 1.1 1.7 .2 .7 1.2 1.4zM271.2 205.3l.3 2 1-2 .3-.3 1.2-1 .5-1 .7-1.5 .6-.7-.6-1.5-.7-.8-.2-2.2 .9-1.7 1.3 .4 .4 1.3-.1 2.2 .9 1.3 1.2-1.3-.3-2.2 .4-1.7 .3-.6 .9-1.3 .6-.9-.6-1.2-.3-1 .3-.8 1.2-1.8 1.3-.4 .1 .7 1.1 1.8 .5 .5-.5 1.2-1.2 .5-.5 .5-.8 1-.5 1.2 .1 2.3 .4 .2 .2-.2 .7-2.3 .4-1 .6 1 .1 2.3-.7 1.3-.6 .9 .6 1.5 1.2-1.8 .7-1.9 .1-2.3 .5-.6 .3-1.6 .9-1.6 .3-.6-.3-.9-1.2-.2-.5-1.2-.8-1.5-.9-.7-.3-.6-1.3-.3-1.2-.5h-1.2l-.5-.9-.8-1.6-.5-.6 .5-.3 1.3-.3 .4-1.7 .8-2.2 1.2-1.2 1.3-1.1-1.3-.9-1.2-.7-1-.6 .6-2.3-.8-2-.6 2-.7 2.3-1.2-2.3v-.4l-.7 .4-.6 .2v-.2l-1.2-2.2-1.2 1.5-.7-1.5 .7-1.7 .1-.5 .6-2.3-.7-1.9-.2-.3 .2-.8 .6-1.5 .6-1.1 .4 1.1 .8 1.6 1.3 .1 1.2-1.7-1.2-.7-1.3-.8-.5-.7-.7-.7-1.2 .7h-.1l-1.2-.4-1.2-.2-1.3 .4-.5-2.1-.7-1-.7-1.2 .1-2.3-.5-2.2-.1-.2-1.3-1.7-1.2 1.9h0l-1.3-1.9-1.2 1.5-1.2-.6-.3 1-.3 2.2 .3 2.3-1 2-.6 .2-.6 .5-.1-.5-.8-2.2 .2-2.3-.6-.2-.2 .2-1 1.1-.9-1.1-.3-1.4-.6 1.4-.7 1.1-.8 1.2-.4 2.1-.1 .1v2.3l-.5 2.2 .6 .8 1.2 .3 .6 1.2 .7 1.7 1.2-.6 .8 1.1-.3 2.3-.5 .9-.2 1.3-1 2-.2 .2 .2 .6 1.7 1.7-.5 .9-1.2-.1-1.3 .7-1.2 .1-.6-1.6 .6-2 .2-.3-.2-.4-1.3-.7-.3 1.1-.8 2.3-.1 .4-1 1.8-.2 1.3-.2 1 .2 .4 1.2 1.8 .4-2.2 .3-2.3 .5-.6 .7 .6 .6 1.5 1.2 .5 1.3 .2v.2l-.8 2.1-.5 .8-1.2-2.4-.9 1.6-.4 .6-1.2-.6-.5 2.3 .5 .6 1.2 .3 1.3-.3 .8 1.6-.2 2.3-.2 2.2 .2 2.3-.6 1.5-.6 .7 .6 1 1.1 1.2 .1 .3 1.3 .9 .5 1.1v2.2l.7 1.7 .8-1.7 .4-1.6 1.3 .8 .5-1.4 .7-1.5 .9-.8-.9-2-.1-.2 .1-.3 .9-1.9 .4-1.2 .2-1.1 1-1.4 1-.8-1-1.1-1.2-.1-1.2-1.1 .8-2.2 .4-1.4 .7 1.4 .5 .7 1.2 1 .2 .5 1.1 1.5 .8 .8 .4 .6 .6 1.6-.6 1.5-.1 .8-.7 2.2 .8 .9 .6 1.3 .7 .9 .7-.9 .5-.8 .6-1.4 .6-.9 .7-1.3 .6-1.5 .5 1.5-.4 2.2 .4 2.2 .7 1.4 1.3-.9 .8 1.8-.8 1.3-1 .9-.3 .4-.2-.4-1-1.3-.9 1.3 .9 2.3-1.2 2.2 1.2 .6 1.2-1.2 .5 .6-.5 1.2zM272.8 201l-.1-.2 .1-.2 .1 .2zM276.5 193.1l-1.2-1.3v-2.2l1.2-1 1.1-1.3-1.1-.6-1.3-1.4-.1-.2 .1-.2 .9-2.1 .4-1.3 .5 1.3 .7 1.7 .4 .6 .9 1.4 .3 .8-.3 .4-.8 1.9-.5 1.4-.3 .8zM252.9 156.5l-1-.6 1-.4 1.1 .4zM254.2 151.5l-.1-.1 .1-.1zM255.4 192.5l-.2-.7 .2-1.3 .3-.9-.3-1.1-1.2-1.2h-.1l.1-.1 .4-2.1-.4-.5-.7-1.8 .7-.8 .7-1.4-.2-2.3 .7-.9 1.8 .9-.6 .3-.7 2 .2 2.2-.3 2.3v2.2l.8 1 1.2-1 .1-.2 .3 .2v2.3l-.3 .4-.7 1.8-.6 1zM259.1 178.9l-.8-.6 .8-1.1 .7 1.1zM262.8 174.4l-.2-.6 .2-.4 .5 .4zM266.6 185.4l-.4-.3 .4-.3 .5-2 1.1-2.2 .8-2.2 1 2.2-1.1 2.2-1.1 2zM267.8 187.9l-.4-.6 .4-1.7 .3 1.7zM272.8 193.7l-1-1.9 1-1.8 1.1 1.8zM275.2 180.8l-.2-.2-.2-2.3 .4-.6 .5-1.6 .6-2.3 .2-.1 .1 .1 1.1 2 .6-2 .7-2 .4 2-.4 1.8-.9 .5-.4 .1-1.2 1.3-.9 .8-.1 2.3zM257.9 184.4l-1-1.6 1-1.2 1 1.2zM272.8 188l-.3-.7-1-1.8-.2-.4-.4-2.3 .2-2.2 .4-1.4 .3-.9-1.5-1.5-.2-.7-1.1-1-.6 1-.6 1.9-.2 .3-.7 2.3-.3 .4-.6 1.8-.7 1.7-.5-1.7-.7-1-.9-1.2 .9-1.4 .7-.9 .5-1.8 1.3 .9 .7-1.3 .4-2.3 .1-.3 1.2-.5 1.1-1.4 .2-.4 .5 .4 .4 2.2 .3 1.2 .5-1.2 .1-2.2-.6-1.6-.1-.7 .1-.7 .6 .7 .7 .7 1.2 1.5 .1 .1-.1 .2-.4 2 .4 1 .7 1.3-.7 1.3-.7 .9-.5 1.7-.6 .6 .6 .3 1.2 .9 .4 1-.4 1.1-.4 1.2 .4 1.3 .5 .9-.5 1.1zM257.9 172.6l-.9-1-.4-.7-.5-1.6v-2.2l.5-.9 1.3 .1 .5-1.4 .7-1.4 1.3-.3 1 1.7 .2 .7 .2-.7 .7-2.3-.9-.9h-1.2l-1.3-.5-.4-.8-.8-1.1-1.3-.3-.7-.9-.5-.2-1.2-2 1.2-1.1 1.1 1.1 .1 .9h1.3l.7-.9 .5-1.8 1.3 1 .3-1.5 .9-1.2 .9-1-.1-2.3 .4-.4 1.1 .4 .2 .1 1.1 2.2-.8 2.2 .9 .9 .8-.9 .5-.6 .3 .6 .5 2.3-.8 1.1-1.3-.5-.8 1.6-.3 2.3-.1 .3-.5 1.9 .5 1.6 1.2-.4 .7-1.2 .3-2.2 .3-.5 1-1.8 .2-.6 .5 .6-.2 2.3-.3 1.3-.3 .9 .3 2.2 .1 .1 1.1 .6 .3-.6 .6-2.3 .4-.7 1.2 .4 .2 .3-.2 .9-.3 1.4-.9 1.4-.6 .8-.6 2.2-.1 .1-.4-.1-.8-.1-1 .1-.2 .3-1.3 1.1-.5 .9-.7 .9-.3-.9-1-1-1.2-1.3h0l-.6 2.3-.6 1.9-1.3-.3zM265.3 175.2l-.4-1.4 .4-1.2 .2 1.2zM335.7 205.3l.3 .7 .8-.7-.8-.6zM360.7 205.3l.1 .3 .2-.3-.2-1zM365 205.3l.8 1.4 1.2 .3 .1-1.7-.1-.1-.9-2.2-.3-.9-1.3-1-.8 1.9 .8 1.6zM252.7 203l.2 1 1.3-.5 .2-.5-.2-1.6-1.3 .9zM306.1 203l.1 .1h1.3v-.1l.3-2.2 .5-2.3-.8-.3-.6 .3 .4 2.3-1.1 2.1zM321.6 203l.8 1.6 .6-1.6-.6-.9zM243.4 200.8l.8 .8 .7-.8-.3-2.3 .7-2.2 .2-.7 .2 .7 .9 2.2 .1 .3 .5-.3 .3-2.2 .5-1.9 .1-.4-.1-.1-.7-2.1v-2.2l.7-1.1 1.2-.1 1-1.1-.5-2.2-.5-.5-1.2-.7-.6-1.1-.7-1.3-.7-.9 .3-2.3-.8-1.6-.5 1.6-.8 .9-1-.9-.2-.4-.4 .4-.7 2.3-.1 .3-1.3 1-1.2 .7-.3 .2 .3 .9 1.2 1.1 2.5 2.5h.2l-.2 .1-1.2 1.9-1.3-1.4-1.2 .8-.5 .9 .1 2.2 .4 1.6 .5-1.6 .7-1.2 1.3-.9 1.2 1.3 1.2 .2 .8-1.6 .5-2.1 1 2.1-.7 2.2-.3 .8-.4 1.4-.9 1.2-.7 1.1-.1 2.2zM245.5 187.2l-.9-2.1-.4-1.5-.5-.8 .5-.4 .8 .4 .5 .3 1 2zM260.8 200.8l.8 1.8 1.2-.6 .7-1.2-.7-.9-1.2-.5zM279 198.5l1.2 .7 .2-.7-.2-1zM350.7 198.5l.2 .3 .2-.3-.2-.2zM354.1 198.5l.5 2 1.2-1.3 .3-.7 1-1.7 .4-.5-.4-1.2-.6-1.1-.7-.4-.5 .4-.2 2.3-.5 .7zM230.5 196.3l.1 .4 1.2-.4h.1l1.2-1.1 .6 1.1 .6 1.4 .6-1.4 .7-1.4 1.2-.9-1-2.2 1-.7 .8-1.5-.4-2.3-.3-2.2 .9-2.3-1-1.7-1.1 1.7-.1 1.7-.4 .6-.9 .5-1.2 .7-1.3 .4-1.2 .1-.4 .5v6.7zM231.8 190.3l-.2-.7 .2-1.3 .4 1.3zM263.5 196.3l.6 1.3 .4-1.3 .1-2.3-.5-1.4-1.3 .6-1 .8 1 .9zM267.7 196.3l.1 .2 .1-.2-.1-.4zM291 196.3l.4 .2 .1-.2-.1-.2zM300 196.6l.2-.3-.2-.6zM332.1 196.3l.2 .5 .3-.5 .9-1.3 .4-1-.4-.7-1.2-.7-1.1 1.4zM351.7 196.3l.4 1 1.3-.6 .4-.4-.4-1.6-1.3 .3zM360.6 196.3l.2 .7 .7-.7-.7-2zM211.8 194l.2 .4 .4-.4-.4-.2zM347.7 194l.7 1.7 1.2-.9 .4-.8-.4-.9-1.2-.4zM213.5 191.8l1 .6 .4-.6 .2-2.2-.6-1.1-.9-1.2-.4-2.2 1.3-1.2 .9-1.1-.6-2.2-.3-.3-.4 .3-.9 .6-.6 1.6-.6 1.3-.6 1 .6 1.7 .5 .5 .7 2 .1 .3zM220.4 191.8l.3 .5 .3-.5-.3-1zM303.2 191.8l.6 .3 .3-.3 .1-2.2-.1-2.3 .9-2.1 .5-.1-.5-.9-1.2-.3-.7 1.2-.6 1.7-.8-1.7-.4-1.9-1.3 1-.5-1.4 .4-2.2 .1-.2 1.3-1 1.2 .7 .2 .5 1.1 1.1 .7-1.1 .5-1.6 .3-.7-.3-1-1.2-.5-.6-.7 .6-1.2 .5-1.1-.5-.4-.9-1.8-.4-.9-1.2 .3-.6 .6-.7 .6-1 1.6 1 1.6 1.3-.6 .5 1.3-.5 .5-1.3 .3-1.2-.5-.5-.3 .3-2.3-1-1.3-1.2 1.3-.1 .5-1.2 .4-.2-.9 .2-.3 .5-1.9v-2.3l.6-2.2 .1-.1 .1 .1 1.2 .9 .8-.9-.6-2.2-.1-2.3-.1-.3-1.3-.9-.6-1-.6-2-.3-.3-1-.4-.4 .4-.8 1.4-.3 .9 .3 .6 .9 1.6 .3 .5 1.2 1.8-.5 2.2-.2 2.2v2.3l-.5 .7-1.2 .1-.2-.8 .2-2.2v-.1l-1.2 .3-.2-.3-1-2.2-.1-.3-.6-1.9-.6-.4-.8 .4-.5 .3-.1-.4-1.1-1.8-1.2-1.2-.8-1.4 .5-2.3-.8-2.2-.2-.4-1.2-.9-.3-1 .3-1.3 1.2-.1 .4-.8 .6-2.3-1-1.7-1.2 1.2-.8 .5-.5 1.5-.3-1.5 .1-2.2-1-1.9-1.1 1.9-.1 .2-.7 2-.6 1.2-.6-1.2-.1-2.2 .1-2.3-.6-.5-1.2-1.7 1.2-1.7 .7 1.7 .5 1.6 1.3-.2 1.2 .4 1.2-.2 .5-1.6 .8-1.3h1.2l.9 1.3-.9 .4-1.2 1.6-.4 .2 .4 .2 1.2 1.5 1.1-1.7 .2-1.5 .1 1.5 1.1 1.2 .9 1.1 .3 .9 1.3-.5 1.2 .2 1.3 .3 .2-.9 .5-2.3 .5-2.1 .2-.1h-.2l-1.2-1.3-.9 1.3-.4 .6-.5-.6-.7-.9-.6 .9 .6 1 .5 1.2-.5 2-.7-2-.6-.9-1-1.3-.2-2.3 1-2.2 .2-2.2-1.2-.8-.5 .8-.3 2.2-.4 1.3-1.3-.6-1.2 .4-1.3 .2-.6-1.3-.6-1.4-.5 1.4 .2 2.2-.9 1.1-.7-1.1-.6-.7-1-1.5-.2-.8-.6-1.4-.7-1.3-.4 1.3-.8 1.3-.6-1.3 .6-2.1 .2-.2-.2-.2-1.2-1.7-1.3 .3-1.2 1.3-1.3-.9-2.4 .2-1 1-.3 .6-.6 1.7 .5 2.2-.2 2.2-.2 2.3 .5 2 .5-2 .8-1.6 1.2 .7 .2-1.4-.2-1.3-1.2 .6-1.2-1.5 .8-2.2 .4-.6 .6 .6 .6 1.7 .2-1.7 1-1.5 1.3 .8 .1 .7-.1 .6-1.3 1.5-.6 .1 .6 .3h1.3l1.2 1.6 1.3-.4 1.2-.7 1 1.4-1 1.4-.7 .9 .7 .9 .7 1.3-.1 2.3-.2 2.2 .8 1.5 .5 .8-.5 1.8-.1 .4 .1 .8 .4-.8 .9-.6 1.2 .4 1.1-2 .2-.2 .2 .2 .2 2.2-.4 1.1-.4 1.2 .4 .3 1.2 1.7 .6 .2-.6 .1-1.2 1.8-1.1 .4-.2 .9-1.2-.6-.8 1.9-.5 1.2-.3 1.1 .3 1.9 1.3-.2 .7 .5 .5 .3 .8-.3 .5-.2 .7-2-.4-2.3 .9-1 1.2 .9 1.3 1.3 .6 1.1 .6 .6 .8-.6 .5-1 .3 1-.3 1-.3 1.2-1 2.1-.4 .1 .1 2.3 .3 .7 .8-.7 .5-1.7 .4-.6 .7-2.2h.1l1.2 1 .7 1.2-.7 1.2-.7 1.1 .7 1.7 .5 .5 .8 1.4 .4 .9-.4 .4-.6 1.8 .1 2.3v2.2l.5 1.9 .3 .4 .9 1.4 .2-1.4-.2-.9-.6-1.4 .3-2.2 .2-2.3 .1-.5 .3 .5 .6 2.3-.3 2.2 .7 .7 1.2 .2 1.2 .4 .5-1.3 .6-2.2 .2-.7 .3-1.6 .9-1.5 1.3 .1 .3 1.4-.3 .8-1.2 1.5 1.2 1.4 .3 .8-.1 2.3 1 .4 1.2 1.8h.1l1.2 .6 1.2-.1 1.2 1.8zM282.7 160.9l-.4-.5-.6-2.3 1-1.1 .3 1.1 .1 2.3zM290.1 175.1l-.7-1.3-.3-2.2 1-1.2 .6 1.2-.3 2.2zM292.6 180.3l-.5-2 .4-2.2 .1-.3 .3 .3 .9 .7 .8 1.5-.8 1zM316.4 191.8l1 .5 1-.5-1-.4zM327.1 191.8l.2 .5 .3-.5 .6-2.2-.9-1.7-.5 1.7zM222.8 189.6l.4 1.7 .2-1.7-.2-.5zM250.3 189.6l.1 .8 .3-.8-.3-1zM261.3 189.6l.3 1.6 .1-1.6-.1-.2zM330.7 189.6l.3 1.3 .9-1.3-.1-2.3-1.1-2.2 .3-.8 .7-1.5-.7-.9-1.2 .6-1.2-.3-.3 .6 .3 .3 .8 2 .4 .9 .7 1.3zM351.2 189.6l.9 1.1 .2-1.1 .1-2.3-.3-.1v.1zM216.7 187.3l.3 1.8 1.2-.6 .4-1.2-.4-1.5-.8-.7 .8-1.7 .2-.6-.2-.3-1.2-.9-1 1.2 .8 2.3zM262.7 187.3l.1 .5 .2-.5-.2-1.4zM219.5 185.1l1.2 1.1 .8-1.1-.8-1.3zM227.1 185.1l1 1.1 1.3-.6 .2-.5-.2-.9-1.2-1.4 1.1-2.2 .1-.3 1.2-1.6 .4 1.9 .8 1.7 1.2 .5h.1l.5-2.2-.5-1.9-.6-.4 .6-.2 .4 .2 .8 .5 .6-.5 .7-.7 1.1-1.5-.2-2.3 .3-.4 .5 .4-.4 2.3v2.2l1.1 1.8 1.3-1.5 .3-.3-.3-.5-.8-1.7 .3-2.3-.8-2.2 .5-2.3 .1-2.2 .7-2.2v-.1l-1.3-.8-1.2-.8-1.1 1.7 1.1 1 .9 1.2-.8 2.2-.1 .3-.5 2-.7 1.4-.2 .8-1.1 1.9-1.2-.7-1.2-1.2 .5-2.2-.6-.8-.6 .8 .1 2.2-.1 2.3-.6 2.1-.9-2.1-.3-1-.2 1-1.1 1.3h-1.2l-1.3 .2-.4 .7 .1 2.3 .3 1.1 1.3 .6 .9 .5zM286.3 185.1h.4l.1-2.3-.4-.3-.7 .3zM283.5 182.8l.4 .9 .9-.9-.6-2.2 1-2.1 .1-.2 1.1-.6 .7-1.6-.7-.8-.9 .8-.3 1.9-1.3-1.6-.9 1.9 .5 2.3zM305.8 182.8l.4 .9 .1-.9-.1-.2zM221.4 180.6l.5 1.2 .5-1.2 .8-2.2v-.2l-1-2.1 1-.9 .8 .9 .4 .7 .4-.7 .5-2.3-.9-1.3-.9-.9-.3-.5-1.3-.6-.3-1.2 .3-.9 .4-1.3 .9-1 .7 1-.1 2.2 .6 1.3 .8-1.3 .4-.9 .5-1.3 .2-2.2 .6-.3 1.1-2-1.1-1.1-.9-1.1v-2.3l-.4-1.2-1.1 1.2 .7 2.3 .4 1.3 .3 .9-.3 1.5-.3-1.5-.9-1-1.2 .2-.5 .8-.7 2.3-.1 .2-.3-.2-.9-1.2-.2-1.1-.7-2.2 .4-2.3 .5-.6v.6l1 2.3 .2 .4 .2-.4 1.1-1.2 1.2-1.1-.9-2.2 .9-1.4 1.2 .9 .7-1.8-.7-.9-1.1-1.3 1.1-1.4 1.3 1.3 .2 .1 1 .6 1.3 .7 1.2-.5 .7 1.4 .5 1.6 .6 .7 .1 2.2-.5 2.3 1.1 2.1v.1l.5 2.3 .7 .9 1-.9 .2-2.3 .1-.1 1.2-1.5 .2-.6-.2-1.6-.2-.7 .2-.2 .2 .2 1 .9 .8 1.4 .5 1.3 .7 .9 .5 .9 .8 1.4 .5 .6 1.2 1.3 .9-1.9 .1-2.3 .2-.1 1.3-1 1.2-.1 .9 1.2v2.3l.4 1 .4-1v-2.3l.7-2.2-.1-2.3-1-1.6-1.1 1.6-.2 .5-.2-.5-1-1.8-.4 1.8-.9 1.3-.7 1-.5 1.5-.6-1.5-.1-2.3 .7-1.1 .9-1.1-.9-1.7-1.2 .4-.8 1.3-.5 1.8-.7-1.8-.4-2.3 1.1-2.2-.1-2.3-1.1-1.3-1.3-.3-1.2 .5h-1.2l-.3 1.1 .3 2.1 1.2 .1 1.2-1.1 .7 1.2-.7 .7-1.2-.5-1.2-.1-.2-.1-1.1-.4-1.2-.7-.5 1.1-.8 .7-.5-.7-.7-.9-1.2-1-1.3 .6-.2-1-1-2.1-.1-.1-1.2-1.7-1.2 .9-1.2 .7-.1 .1 .1 .4 .2 1.8-.2 .2-1.3 1.7-.2 .4 .2 .4 1.2 1.8-1.1 2.3h-.3l-1-.3-1-2-.3-.3-.2 .3-1 1.6-1.2-.7-1.3-.1-1.2 .5-1.3-1.1-.3-.2 .3-.3 1.3-1.2 1-.7-.7-2.3 .9-1 1.3-1.2 1.2 .5 1.2 .4 1.3 .9 .3-1.8-.3-.8-1.2-1.5-.1-.2-.5 .2-.7 .4-1.2 1.9-1.3-.9-.8-1.4 .1-2.2 .2-2.3-.7-2.2v-.4l-.1 .4-1.2 1.6-.3 .6-.2 2.3-.1 2.2-.6 2.2-.1 .1 .1 .2 .3 2 .3 2.3-.6 1.4-.6 .8 .6 2v.3l1.2 1.5 1.3 .4 1.2-.5 1.3 .4 1.2 .2 .4 .2v2.3l-.4 .7-.2-.7-1-1.8-1.3 1-.3 .8-.9 1.3-.7 .9 .7 .8 1.2 .6 .6 .9 .3 2.2v2.2l.4 1.2 .4 1.1 .8 .3 1.1 1.9-.7 2.3 .8 1.2 .7 1 .6 1.2zM224.4 166l-.5-1.1 .5-1 1 1zM233.1 153.9l-.1-.3 .1-.4 .1 .4zM234.3 161.1l-.5-.7 .5-1 .6 1zM218.2 168.5l-.8-1.4-.2-2.2 1-1.7 .6 1.7 .6 1.8 1.3-1.2 .5 1.6-.5 .6-1.3 .3zM220.7 174.7l-1-.9 1-2 1.2 1.5 .1 .5-.1 .4zM234.3 157.2l-.8-1.3 .8-1.4 1.3 .3 .6 1.1-.6 1.2zM279.3 180.6l.9 1 1.2-.1 .9-.9-.9-2-1.2 1.3zM351.8 180.6l.3 1.3 .5-1.3-.5-.6zM361.5 180.6l.5 1.8 1.3 .2 .5-2-.5-1.6-1.3-.4zM366.1 180.6l.9 .3 .4-.3 .8-.9 1-1.4-.2-2.2-.8-.3-.2 .3-1 1-.7-1-.5-.8-.9-1.5-.4-.9-.4 .9-.8 1.2-.7 1.1 .7 1.3 1.2-1.2 1.1 2.1 .2 1.6zM335.1 178.3l.9 1.1 .6-1.1 .6-1.2 1.2 1.2 .1 .2 1.2-.2 1.1-2.2 .2-.1 1.2 .1 1.2-1.6 .4 1.6 .9 2.2 1.2-1.6 .7-.6 .6-1.6 1.2 .5 .8-1.2-1.6-2.2-.2-2.3 1-.7 1.1-1.5 .1-1.1 .2 1.1 1.1 1.7 .6-1.7 .2-2.2 .4-.9 1.3-.9 .3-.5 .9-1.6 1.2 .5 1.2-1.1-1.2-1.4-1.2 .9-1.2-.9-.9 1.4-.4 1-1-1-.2-.8-.2 .8 .2 1.2 .1 1-.1 .3-1.3-.2v-.1l-1.2-.2-.4 .2-.8 2.3-1.3 1.4-1.2-.2-.2 1 .2 .6 1.2 1.6h.2l.4 2.3-.6 1.1-.2-1.1-1-1.6-1.3 1.4v.2l-1.2 1-1.2-.1-.9 1.3-.4 1.6-1.2-1.5v-.1l1.2-2.4 2.1-2.1 .4-.7 .3-1.5-.1-2.2-.2-1.2-.3-1.1-.9-1.9-.3-.3 .3-.3 1.2-1.1 .9 1.4-.2 2.2 .5 .3 1.3 1 .5-1.3-.5-1-.9-1.2-.4-2.1v-.3l1.3-.8 .5-1.3-.5-2.2-1.3 1.3-1.2 1.8-1.2-.1-1.2-.8-.1-.1-.2 .1-.4 2.2-.6 2.3 1.2 2.2v.1l1.3 1.8 .4 .4-.1 2.2-.3 .6-1.3-.2-1.2 .1-.7-.5 .1-2.2-.4-2.3-.3-.3-.4 .3v2.3l-.7 2.2-.1 .1-.4 2.1 .1 2.3v2.2l-.2 2.3zM337.2 173.2l-1-1.6 1-1.8 .7 1.8zM272.4 176.1l.4 1 .3-1-.3-.5zM305.3 176.1l.9 1.1 1.3 .2 1.2-1.3-.3-2.3-.9-2.2v-.2l-.2 .2-.5 2.2-.6 1zM212.1 173.8l1.1 1.3 1.3-.7 1.2 .9 .7-1.5v-2.2l-.7-.8-.5 .8-.7 1.1-1.3-.4zM227.5 173.8l.6 .7 .8-.7-.8-1.3zM241.2 173.8l.6 .7h1.2l.5-.7 .7-2.2-.4-2.3-.8-1.9-1.2 1.5-.4 .4 .4 .8 .3 1.5-.3 .9zM359.4 173.8l.2 .3 1.2 .4 1.2 .2 .4-.9 .9-1.3 .6-.9-.6-.8-1.3-.7-.1-.8-1.1-1.8-1-.4-.2-.1-1.3-.8-1.2-.2-.5 1.1 .5 .4 1.2 .1 1.3-.1 .2 1.8-.2 .5-1.3 .6-1.1 1.2 1.1 1.6zM233.9 171.6l.4 .6 .8-.6-.8-.6zM244.3 171.6l1.2 2 1.2-.7 .3-1.3 1-1.4 .3-.9-.3-1.2-1.3-.2-.5-.8-.7-.2-.3 .2 .3 2.1 .1 .1-.1 .1zM349.5 171.6l.1 .4 .3-.4-.3-.3zM365.7 171.6l.1 .1h1.2l.1-.1-.1-.6-1.2 .5zM226.3 169.3l.6 2.2 1.2-.5 .9-1.7-.9-.8-1.2 .3zM258 169.3l1.1 1.5 .5-1.5-.5-.6zM263.9 169.3l.2 1.2 .6-1.2 .6-1.3 .3-.9-.3-.4-1.2-.8-.3 1.2zM299.5 169.3l.5 1.4 .5-1.4 .8-1.6 1.2 .5 1.1 1.1 .2 .3 .3-.3 .5-2.2 .3-2.2 .1-.6 .3 .6 .1 2.2 .8 1.4 1.3 .2 1.2-.5 1.3-.3 .2-.8-.2-.4-.6-1.8 .6-1.6 1.2 .6 .6-1.3-.6-1-1.2-.7-1.3 1.6-1.2-.3-1-1.8-.3-.6-.6-1.7 .6-1.6 1.3 .4 1.1 1.2 .1 .2 1.3 1.3 .2-1.5 1-1.7 1 1.7 .2 .6 .5-.6 .8-1.5 .9-.7-.7-2.3-.2-.2-1.2-2 1.2-2.1 1.2 1 1.3 .4 1.1-1.6-.9-2.2 .1-2.3-.3-.4-1.1-1.8 1.1-2 .4-.3 .1-2.2-.1-2.2 .8-1 1.2-1.3-1.2-1.6-1.2-.6-1.3 1.9-.4-1.9-.8-.5-1.3 .1-1.2 .3-1.2-.1-.8 .2 .3 2.2-.8 1.2-.9-1.2-.3-1.5-.4-.7-.9-.2-.5 .2 .5 .9 .8 1.3-.2 2.3-.6 .9-.5 1.3-.7 .9-1.2-.1-.2-.8-1.1-.6-1 .6 .6 2.2-.8 2.2v.1l1 2.2 .2 1.8 .2 .5 1.1 1.1 .3 1.1-.3 .8-1.3-.1-.7 1.6-.5 .7h-1.3l-1.2 .1-.5 1.4 .1 2.3 .4 .4 1.2-1.2 1.3 .1 .8 .7-.8 1-.7 1.2-.6 1.6-.4 .7 .2 2.2 .2 2.3-.9 2.2zM303.8 162.7l-1.3-1.3-.9-1 .9-1.6 1.1-.7-.4-2.2 .6-.4v.4l.2 2.2v2.3l-.1 2.2zM306.2 153.2l-.7-1.8 .7-1.9 1.3 1.2 1.2-1 .4 1.7-.4 .5-1.2 1.2zM311.2 153.8l-.1-.2 .1-.3 .2 .3zM314.9 138.2l-.1-.3 .1-2.1 .1 2.1zM302.5 154.8l-.2-1.2 .2-.6 .3 .6zM306.2 148.5l-.8-1.6 .4-2.3-.8-1.2-.5-1 .5-.8 1-1.5 .2-.7 1.1-1.5 .2-.4 .2 .4 .2 2.2 .8 .3 1.3 1 1.2-.1 1.2-.9 .1-.3 1.2-.6 .5 .6-.1 2.3 .7 2.2-1.1 1-.7 1.3-.6 1.8-.6-1.8-.6-2.1-1.2-.8-.3 .6 .3 .6 .5 1.7-.5 .9-1.3 .9-1.2-1.1zM311.2 139.3l-1-1.4 1-2.2 .5 2.2zM311.2 135.6l-.7-2.2 .7-1.9 1.2 .5 1.3 1 .9 .4-.9 .7-1.3 .5zM351.5 169.3l.6 1 .5-1-.5-.5zM368.7 169.3l.8 1.1 1-1.1-1-1.8zM894 162.6l-.1 2.3 .1 2.2zM231.5 167.1l.3 .3 .8-.3-.8-.3zM248.5 167.1l.7 .7 .7-.7-.7-1zM252.6 167.1l.3 .4 .2-.4 .7-2.2-.9-1.2-1.2 .3-.6 .9 .6 .6zM321.9 167.1l.5 .1 .2-.1-.2-.4zM362.6 167.1l.7 1.4 1-1.4 .2-1 .7 1 .6 .3 .3-.3 .9-2 1.2 1.8 .9-2-.1-2.3-.8-.8-1.2-.1-.4-1.3-.3-2.3-.5-.5-1.3-1-1.2 .5-1.3 .9-1.2-1.7-.9 1.8-.1 2.3 1 1.1 1.2 1.1h0l-.8 2.3 .8 1.4zM363.3 164.9v-.5l.1 .5zM363.3 162.2l-.5-1.8 .5-1.7 1.2-.2 1 1.9-1 1.5zM211.4 164.9l.6 1.6 .5-1.6-.5-1.2zM230.1 164.9l.5 1.4 .5-1.4-.5-1.4zM290.5 164.9l.9 1.1 1.2-.9 .1-.2-.1-.2-1.2-1zM228.6 162.6l.8 .4 .3-.4 .9-1.3 1-.9-1-.9-1.2 .6-.2 .3zM357.8 162.6l.5 1.3 1.3-1.2 .1-.1-.1-.9-1.3-.5zM249.6 160.4l.8 .7 .3-.7-.3-.7zM287 160.4l.6 1 .4-1-.4-.7zM228 158.1l.1 .1 .1-.1-.1-.2zM258.9 158.1l.2 .8h1.3l.6-.8-.6-1.2-1.3 .6zM290.6 158.1l.8 1.1 .7-1.1-.7-1zM347.9 158.1l.5 .3 .2-.3-.2-1.5-.1-.7-1.1-1.1-.7 1.1 .7 1.8zM367.4 158.1l.8 1 .7-1-.7-2.1-.1-.1-.7-2.3-.4-.8-.4-1.4 .4-2.3-1.2-.7-.5 .7-.8 1.7-.2 .6 .2 .3 1.1 1.9 .2 .4 .7 1.9 .5 1.4zM228.4 155.9l1 .9 .9-.9-.9-1.7zM262.6 155.9l.2 .7 .1-.7-.1-.5zM286 155.9l.4 .9 1.2-.5 1.3 .8 .7-1.2-.7-1.5-1.3 .5-.5-1.3 .4-2.2-1.1-.9-.3 .9v2.2zM295 155.9l.1 1.4 .5-1.4-.5-.3zM317.7 155.9l.9 1 1.2-1-1.2-2-.4-.3-.8-.8-1.2-.5-.6 1.3 .6 2 1.2-1zM348.6 155.9l1 .5 1.3 1.2 1.2-.7 1.3-.6 .4-.4-.4-.5-.5-1.8-.8-1-1.2 1v.1l-1.3 .6zM356.3 155.9l.8 .6 1.1-.6-.3-2.3-.8-.5-.5-1.7 .5-1.3 1.2 .3 .7 1 .6 2.2 .6-2.2 .6-2.3 .3-2.2-.1-2.3-.2-.7-.4-1.5-.3-2.3-.2-2.2-.3-1.6-.4 1.6-.9 2-.1 .2 .1 .2 .8 2.1v2.2l.5 1.8 .2 .5-.2 .3-1.3-.2-1.2 .5-.5-.6 .5-.4 .8-1.9-.2-2.2-.6-1.5-.5-.8-.8-.7-.3 .7 .3 .9 .7 1.4-.1 2.2-.6 1.6-1-1.6-.1-2.2-.1-.1-.2 .1-1 .8-1.3-.4-1.2 .6-.6-1 .3-2.3 .3-.7 .5 .7 .7 1.2 1.2-1.2v-2.2l.1-.4 .6-1.8 .4-2.3 .2-.7 .2 .7 1 1.6 .6-1.6-.6-1.2-.9-1-.3-.5-1.1 .5-.1 .1-.8 2.1 .4 2.3-.9 1.1-1.2-.4-.5 1.5-.8 1.1-1.2-.8-1 1.9 1 2.1 .1 .2 .8 2.2 .3 1.3 .6 1 .7 .9 1.2 .2 .6 1.1 .7 2.1 .2 .2 .7 2.2 .3 1 .7-1 .5-.3 .6 .3zM354.6 150.6l-.6-1.5 .6-1.2 .4 1.2zM244.4 153.6l1.1 2 1.2-1.2 1.2-.8-1.2-1.9-1.2 .5-.9-.8-.4-1.1-1.2-.9-.2-.3 .2-.4 1.2-.9 1.3 .9 1.2-.7 .5-1.1 .8-2.2 .9 2.2 .3 2.2v.2h1.2l.1-.2 1.2-1.2 .8-1-.8-1.6-1.3 .7-.2-1.4-1-1.2-1-1-.2-.7-1.3-.4-.4-1.2 .3-2.2 .1-.7 1.3 .6 .5 .1 .7 .2 .9 2 .3 2.1 .2-2.1 .2-2.2 .9-1.8 1.2 .8 1.3-1 .7-.2-.7-.6-1.3-1.5-1.2 .8-.9-1-.4-.2-1.2-.8-1.2 .7-1.3-1.5-.4-.4-.8-.5-1.2 .5 .7 2.2 .2 2.3-1 1.7-1-1.7-.2-.6-.2 .6-1 1.4-1.3-.3-1.2 .1-.6-1.2-.7-.9-1.2-.3-.4 1.2 .4 1.1 .6 1.1 .6 1 .9 1.2 .2 2.3 .2 .8 .7 1.4 .5 .7 .3-.7 1-2 1.2 1.8 1.2-1.8 .2-.2 1.1-.4 .3 .4-.3 1.4-.4 .8-.9 1.2-1.2-.9-1.2 2.4-1.2 1.8 1.2 1.1 .5 1.2 .7 1.6h1.2zM241.8 142.3l-.6-2.2 .6-1.5 1.2 1 .3 .5-.3 .4zM292.1 153.6l.5 .5 .3-.5-.3-.5zM362.8 153.6l.5 1.4 .3-1.4-.3-.9-.4-1.3 .4-1.7 .4-.6 .8-.9 .7-1.3 .6-1.3 .3-1-.3-1.3-.6 1.3-.7 1-1 1.3-.2 .8-.4 1.4-.9 .7-.9 1.6 .9 1.6zM369.6 153.6l1.1 1 .4-1-.4-2v-1.3l.1-1.2-.1-.1-.8-2.1v-2.3l-.4-1.7-.3-.5 .3-.4 .3 .4 .9 .7 .3-.7-.3-1.7-.2-.6-1-1-.6-1.2-.2-2.2v-2.3l-.5-2.1-1.2 1.5-.4 .6 .4 .7 .9 1.6-.1 2.2 .4 1.2 .7 1-.7 1.3-.5 1 .3 2.2 .2 1.2 .6 1.1-.6 .4-1.2 1.8 .7 2.3 .5 .9 1.3 1.3zM218.1 151.4h.1v-.1zM269.5 151.4l.8 .6 1.2-.6-1.2-1.4zM271.6 151.4l1.2 .3 .1-.3-.1-.2zM287.8 151.4l1.1 .9 .4-.9-.4-1.1zM294.6 151.4l.5 .6 1.2 .6 .6-1.2-1.8-1.2zM319.3 151.4l.6 1.2 .8-1.2-.8-1.3zM342 151.4l.2 1.5 1.2-.5 .5-1-.5-1.3h-1.2zM291.8 149.1l.8 1 .8-1 .4-.6 .8-1.6-.8-1.1-.6 1.1-.6 1.3zM344.2 149.1l.5 .6 .3-.6-.3-.6-.5-1.6-.8-2.1-.7 2.1 .7 1.6zM346.6 149.1l.6 .9 .9-.9-.9-.8zM383.6 149.1l.8 1.9 1.2-1.1 .4-.8-.4-1.2-.5-1-.2-2.3-.5-.2-.2 .2-.5 2.3zM228.5 146.9l.9 1.6 1.2-1.5 1.2 1.7 .8-1.8 .5-1 1.2-.4 .7-.9 .6-1.1 2.4 2.4 .8-1.3-.8-.8-.6-1.4-.6-2.3v-.1l-1.2-1.1-.5 1.2-.8 1.6-.8-1.6 .7-2.2-1.1-1.1-.5-1.1 .5-2.1v-.7l-1.3-.8-.7 1.3-.3 2.3-.2 .4-.3-.4-.9-1.1-.8-1.2-.5-.4-1-1.8-.2-.4-.4 .4-.9 1.2-.6 1 .6 .9 1.3-.4 1.2 1.8-.3 2.2 .3 1.9 .7-1.9 .6-.9 .5 .9v2.2l-.5 .6-.5 1.7 .4 2.2zM230.6 146.5l-1.2-1.9 1.1-2.2 .1-.4 1.2-1.7 1.3 2 .1 .1-.1 .1-1.3 1.2-.7 .9zM254.5 146.9l.9 .8 .3-.8-.3-1.6zM257.9 146.9h0l.7-2.3 .5-.9 .8-1.3 .5-.9 1 .9 .2 .2 .2-.2-.2-1.4-.1-.9-.1-2.2 .2-.2 .5-2-.5-1.5-.4-.8-.8-2.2v-.1l-.1 .1-.8 2.2-.4 1.6-.4 .7-.8 2.1h-1.3l-1.2-1.8-.4 1.9-.8 2.2h-.3l.3 1.2 1.2 1 .7-2.2 .5-1.9 1 1.9-.3 2.3-.2 2.2zM268.2 146.9l.8 1.6 1.2-1.6v-2.3l.1-.3 .5-1.9-.5-1-.7 1-.6 .5-1.2-.2-.4 1.9 .4 1.3zM270.5 146.9l1 1 .6-1-.6-1.3zM300.6 146.9l.7 1.6 .9-1.6-.9-.4zM386.2 146.9l.6 .8h2.5l1.3 .1 .6-.9-.6-1.6-1.3 .1-1.2-.4-1.3 .7zM221.2 144.6l.7 1.2 1-1.2 .3-1.3 .6-.9 .6-.5 .7-1.8-.7-1.1-1.2 .5-1.3-.1-.9 .7-.3 1.3-.4 1 .4 .4zM295.4 144.6l.9 1.2 1.3-1.3 1.2-1.1 .2-1 .4-2.3 .6-1.6 1-.6-.3-2.2 .6-1.1 .7-1.2-.7-1.6-.9-.6-1.6-.4-.5 .4 .5 1.2 .4 1-.1 2.3 .3 2.2-.6 .5-1.2 1.5-.4 .2-.9 .3-.3-.3-.6-2.2-.1-2.2-.2-.2-1.3-1.8-1 2-.2 .3-1.2 1.5-1.3-1.7-1.1 2.1 1.1 .8 1.3-.4 1.2 .6 1.2 1.2v.9l1.3 .7 .2 .7zM340.6 144.6l.4 .8 .3-.8 .3-2.2-.6-1.9-.5 1.9zM216.4 142.4l.6 .7 1.2 1 .4-1.7-.4-.8-1.2-1.2zM250.5 142.4l1.2 1.6 .7-1.6-.7-1zM345.1 142.4l.8 .9 .7-.9-.3-2.3-.4-2.1-1.2 1.1-.7-1.2-.6-2.1-2.1 2.1 .9 1.7 .4 .5 .8 2.1 1.3-.7zM362.7 142.4l.6 1.3 1.2-1.3-1.2-2.3 .2-2.2-.2-.5-.5-1.7 .5-1.6 .4-.7-.4-2-1.3 .3-1 1.7-.2 1.7-.5 .6 .5 .1 1.1 2.1 .1 .1 1.3 2.1zM387.1 142.4l1 1.8 .6-1.8 .6-1.9 .9 1.9 .4 .7 1.2 .6 1.2-.2 .7-1.1-.3-2.3 .9-.9 .7-1.3-.1-2.2-.3-2.3-.3-1.4-.3-.8-1-.5-1.2-.4h-1.2l-1.3 .5-1.1 .4 1.1 .3h1.3l1.2 .2 .7 1.7-.7 1.7-1.2 .8-1.3 .9-.3 1.1-.9 1.5-1.3-.3-.1 1 .1 1.5zM393 139.3l-.9-1.4 .9-1.8 .4 1.8zM226.4 140.1l.5 1.3 1-1.3-1-.6zM332.8 140.1l.7 1.3 .3-1.3 .4-2.2 .6-1.2 1.2-.2 1 1.4-.2 2.2 .4 .9 .5-.9 .8-1.3 1.2-.1 1.1-.8-1.1-.6-1.2-1.6v-.3l-.5-2-.8-.8-.3 .8-.9 1-1-1 .1-2.2-.3-.4-.5 .4-.8 .6-1.2 .4-.6 1.2 .3 2.3-1 2.1-1.2 .1h0l1.2 .3 1.3 1.6zM366.7 140.1l.3 .5 .2-.5-.2-.1zM371.1 140.1l.9 .5 .5-.5-.5-.4zM217 137.9l1.2 1.6h1.2l1.3-.8 .1-.8 .7-2.2-.8-.4-.5 .4-.8 1.1-.6-1.1-.2-2.3-.3-2.2-.1-.3-.3 .3-.1 2.2 .1 2.3zM225.2 137.9l.4 1 .4-1-.4-.9zM261.9 137.9l.9 1.3 .5-1.3-.5-.4zM356.7 137.9l.4 1.3 .6-1.3-.6-1.2zM374.1 137.9l.3 .4 1.3 1.8 .7-2.2-.7-1-1.3 .7zM215.1 135.7l.6 .4 .3-.4 .3-2.3 .2-2.2-.8-.4-.5 .4-.7 1.5-.3 .7 .3 .9zM223.9 135.7l.5 .7 .5-.7-.5-1.2zM278 135.7l1 .5 .5-.5 .7-2 .7 2 .5 .7 1.3-.6 .1-.1-.1-.4-.3-1.9v-2.2l-1-.2-1.2 .2v.4l-1.2 1.7-.2 .1zM328.5 135.7l.1 .2v-.3zM349.4 135.7l.2 .4 .6-.4-.2-2.3-.4-.7-.9 .7zM364.7 135.7l1.1 2.1 .4-2.1-.4-1zM222.6 133.4l.6 .9 .6-.9-.4-2.2-.2-.2-.2 .2zM256.6 133.6l.1-.2-.1-.2zM285.1 133.4h.1v-.2zM297.2 133.4l.4 .4 .1-.4-.1-.2zM303.3 133.4l.5 .9 1.2-.3 .7-.6-.7-1.2-1.2 .6zM342.1 133.4l.1 .9 .5-.9-.5-.7zM387.8 133.4l.3 .6 .2-.6-.2-2.1zM220.4 131.2l.3 .4 .3-.4-.3-.5zM251 131.2l.7 1.7 1.2 .1 .5-1.8-.5-.5-1.2-.3zM255 131.2l.4 .2 .3-.2-.3-.3zM262.6 131.2l.2 2.2 .3-2.2-.3-.2zM282.8 131.2l1.1 1 1-1-1-.5zM285.6 131.2l.8 .4 .3-.4-.3-.3zM325.4 131.2l.7 1.9 .6-1.9-.6-.5zM327.7 131.2l.9 1.5 1.2-.2 .6-1.3-.6-.4-1.2-.4zM343.8 131.2l.9 .3 .6-.3-.6-.4zM346.3 131.2l.9 1.4 .6-1.4-.6-.6zM363.5 131.2l1 .4 .2-.4-.2-.2zM368.4 131.2l1.1 .5 .2-.5-.2-.2zM394.8 131.2l.7 .5 .3-.5-.3-.4zM711.7 129.1l.1-.2-.1-.1zM679.4 119.9l.1 .7v-1.1zM716.7 118.1l.1-.4-.1-.4zM653.4 109.2l.1-.5-.1-.4zM709 108.7l.2 1.1 .2-1.1-.2-2.2zM660.8 106.5l.1 1.5 1.2-1 .1-.5-.1-.3-.9-2-.3-.7-.1 .7zM707.7 99.7l.3 1.6 .3-1.6 .1-2.2-.4-2-.4 2zM659.5 97.5l.1 1.9 .3-1.9-.3-1.1zM714 97.5l.2 2.1 .9-2.1-.4-2.3-.2-2.2v-2.3l-.1-2.2-.2-1.6-1-.7-.1-2.2h-.2v2.2l.1 .7 .2 1.6 .5 2.2 .2 2.3 .1 2.2zM893.3 97.5l.7 1.8v-9.7l-1.2 .8-.1 .3 .1 .6 .2 1.7 .1 2.2zM523.1 90.7l.1 1.6 .1-1.6 .1-2.2-.2-1-.4 1zM706.5 90.7l.3 1.1 .2-1.1 .1-2.2-.3-2-.6 2zM664.5 88.5l.1 .9 .1-.9-.1-.3zM689.2 88.5l.2 1 .2-1-.1-2.3-.1-.5-.1 .5zM521.8 84l.2 1.7 .3-1.7z"/>
<path fill="#a7ff50" d="M287.6 602.7l1.3-.2h1.2l1.3 .1 1.2-1.5 .3-.6 .9-1.9 1.3 .1 1.2 1.2 1.3 .5h1.2l1.2-.1 .3 .2 1 1.2 1.2 .4 1.3-.9 1.2-.3 .8-.4 .4-.4 1.3-1.8 1.2 .2 1.3 .3 1.2 .7 1.2-.5 1.2-.7h.1l1.2-.1 .2 .1 1.1 .6 1.2 .9 1.4 .7 1.1 1.1 1.2 .3 .6-1.4 .7-1.6 .4-.6 .8-.6 1.2-.2 1.3-.1 1.2 .3 1.3-.2 1.2-1 .8-.5 .4-.2 1.3-.3 1.2-.5h1.3l2.4 1v.1l.1-.1 1.2-.3 1.2-1.1 .9-.8 .4-.3 1.2-.5 .9 .8-.5 2.2 .4 2.3 .4 .6 1.1-.6 .2-.4 1.2-1.4 .6-.5 .7-.5 .7-1.7 .5-.7 1.2-.4 1.3 .2 1.2-.7 1-.6 .3-.6 .5-1.7 .5-2.2 .2-.4 1.2-.4 1.3 .6 1 .2h.2l1.3 .1 .3-.1 .9-1.5 .1-.8-.1-.3-.3-1.9-.2-2.3-.7-.7-.3-1.5-1-1.7-1.2 1.3-1.2-1.9-.1-.1-.2 .1-1 .8-.9-.8-.3-.3-.1 .3-1.1 2.3-.1 .4v-.4l-1.2-.9h-1.3l-1.2-.3-1.2 .4-1.3-.4-1.2-.3-1.3-.6-1.2 .1-1.2 1-1.3 .2-1.2-.7h-1.3l-.7-.8-.4-2.2-.1-.2-.1 .2-1 2.2-.1 .1-1.3 .6-1.2-.2-1.3 .9h-2.4l-1.3-.6-1.2 .1-1.3 .2-1.2-.3-1.2 .1-1.3-.2-1.2-.7-1.3 .9h-1.2l-1.2-.8-1.3 .9-1.2-.4-1.3 .4-1.2-.3-1.2 .4h-1.3l-1.2-.3-1.3-.3-1.2 .6-1.2-.7-1.3 .5-1.2-.1-1.3 .1-1.2 .3-1-1.2-.2-1.6-.3 1.6-1 1-1.2-.2-1.3 .2-1.2 .4-1.1-1.4-.1-.4-.3 .4-1 1.4-1.2-.3-1.3-.9-1.2 .4-1.2 .6-1.3 .3-1.2-.3-1.1 1.1-.2 .3-1.2-.2v-.1l-1.2-1.2-.8-1.1-.5-.5-.3 .5-.9 2.1-1.3-.1-1.2-.3h-1.2l-1.3-.3-1.2-1-.8-.4-.5-.2-.4 .2-.8 .7-1.2 1.2-1.3-.1-1.2-.4-1.2-1.4h-.1l-1.2 1.8-.6 .5-.6 1.3-.8-1.3-.5-1.9-1.2 1.5-1.3-.2h-1.2l-1.2 .2-1.3-.7-1.2 .6-1.3 .4-.2 .1-1 1.1-.7-1.1-.5-.3-1.3-1.4-1.2 .8-.6-1.4-.7-.8-.3 .8 .3 1.8 .5 .5-.5 1.4-1.2 .6-.6 .2-.6 .8-1.3 .4-1.2 .3-1.3-.2-1.2 .1-1.2 .2h-1.3l-.5 .7 .5 2 1.3-.1 .1 .3 1.1 1.5 .3 .8 .9 1.9 .3 .3 1 1.4 1.2 .6 1 .3h.3l1.2 .7 1.2 .8 .8 .7 .5 .4 1.2 .8 1.3-.2 .8-1 .4-.9 1.2-1.3v-.1l.8 .1h.5l1.2 .5 1.3 .1 1.2 .5 1.2 .3 1.3-.6 1.2 .3 1 1.1 .3 .5 1.2 1.6 1.2-1.5 .4-.6 .9-1.5 1.2 1.2 .1 .3 .5 2.2 .5 2.3 .2 .2 .7-.2 .5-.1 1.2-1.3 .5-.9 .8-2.2h.1l1.1 .1 1.3 2.1 1.2 2.2 1.2-.1 1.3-.4 1.2-.3h1.3l1.2 .3 1.2 .6h.1l1.2 .5 1.2 .4h1.3l1.2 1.1zM246.7 580.7l-.2-.4h.5zM219.9 578.1l.8 1.4 1.2-.8 .2-.6-.2-.1-1.2-.5zM227.7 578.1l.4 1 1.3 .9 1.2-1.9-1.2-.7-1.3 .3zM230.7 578.1l1.1 1.2 .6-1.2-.6-1.1zM235.1 578.1l.5 1.9 1.2-.3 .6-1.6-.6-.5-1.2 .2zM363.2 578.1l.1 .5 .9-.5-.9-.6zM215.4 575.8l.3 1.2 1.1-1.2-1.1-1.4zM226.5 575.8l.4 1.1 .3-1.1-.3-.6zM242.9 573.6l.1 .1 .1-.1-.1-.2zM278.5 573.6l.5 1.2 .8-1.2-.8-1.3zM303.3 573.6l.5 1.6 .6-1.6-.6-.7zM350.8 573.6l.1 .1v-.2zM361.7 573.6l.3 .5 .9-.5-.9-.3zM266.3 571.3l.3 .9 1.2-.5 .2-.4-.2-.1-1.2-.5zM283.4 571.3l.5 1 .3-1-.3-1.3zM308.3 571.3l.4 .6 1.3 .3 1.2-.4 .6-.5-.6-.2-1.2-.3-1.3 .1zM279.5 569.1l.7 .9 .7-.9-.7-.8zM306.5 569.1l1 .9 .3-.9-.3-.4zM349.1 569.1l.5 .6 .6-.6-.5-2.2-.1-.1v.1zM216.7 566.9l.3 .4 .4-.4-.4-.7zM219 566.9l.4 .6 .6-.6-.6-.6zM223.1 566.9h.4l-.3-.2zM287.5 566.9l.1 .2 .3-.2-.3-.2zM291.3 566.9l.1 .1v-.3zM318.4 566.9l.2 .7 .4-.7-.4-.4zM218.2 564.6v-2.4l-1.1-2.1-.1-.2-.2 .2-.2 2.3 .4 .6zM234.2 564.6l.1 .3 .2-.3-.2-.5zM257.8 564.6l.1 .1v-.4zM311 564.6l.2 .4 .1-.4-.1-.2zM338.2 564.6l.3 .3 .1-.3v-2.2l-.1-.2-.1 .2zM353.2 564.6l.2 .4 .2-.4-.2-.3zM375.3 564.6l.4 .9 1.2-.9-1.2-.9zM385.6 564.6v.1l.1-.1zM220.3 562.4l.4 .4 .2-.4-.2-.9zM236.7 562.4l.1 .2 .1-.2-.1-.2zM294.8 562.4l.3 .1v-.3zM377.9 562.4l.3 .2 .1-.2-.1-.3zM242.6 560.1l.4 .4 .2-.4-.2-1.3zM270.2 560.1l.1 .3 .3-.3-.3-.1zM295.8 560.1l.5 .8 .4-.8-.4-.5zM332 560.1l.3 .4 .6-.4-.6-.4zM347.1 560.1l.1 .1 .1-.1-.1-.2zM361.9 560.1l.1 .3 .6-.3-.6-.3zM376.2 560.1l.7 1 .5-1-.5-.9zM220.6 557.9h.1v-.1zM252.8 557.9l.1 .2 .2-.2-.2-.2zM266.5 557.9l.1 .2 .1-.2-.1-.5zM283.5 557.9l.4 1.7 .2-1.7-.2-.4zM310.8 557.9l.4 .3 .5-.3-.5-.2zM236.4 555.6l.4 .6 .4-.6-.4-.2zM249 555.6l.2 1.5 .2-1.5-.2-.2zM262.7 555.6l.1 .8 .2-.8-.2-.3zM303.6 555.6l.2 .3 .3-.3-.3-.3zM392.8 555.6l.2 .7 .3-.7-.3-.4zM218.1 553.4h.3l-.2-.1zM257.6 553.4l.3 .2 .1-.2-.1-.3zM350.5 553.4l.4 .6 1.2 .1 .1-.7-.1-.3-1.2-.3zM372.8 553.4l.4 .5 .2-.5-.2-.5zM228.1 551.5l.2-.4-.2-.2zM233 551.1l.1 .3v-.4zM292.4 551.1l.2 1.1 .2-1.1-.2-.9zM303.6 551.1l.2 .4 .6-.4-.6-.2zM352.8 551.1l.6 .7 .2-.7 .4-2.2-.6-.4-.6 .4zM369.2 551.1l.3 .6 .3-.6-.3-.3zM390.4 551.1l.2 .2 .2-.2-.2-1.3zM337.1 548.9l.1 .3 .6-.3-.6-.2zM384.9 548.9l.7 .9 .9-.9-.9-1zM214.4 546.6l.1 .4 .1-.4-.1-.3zM247.1 546.6l.9 .2 .1-.2-.1-.2zM295.9 546.6l.4 .6 1-.6-1-.6zM304.6 546.6l.4 .2 .1-.2 .3-2.2-.4-.6-.3 .6zM320.9 546.6l.2 .2 .2-.2-.2-.2zM374.4 546.7l.1-.1-.1-.3zM379.3 546.6l.1 .3 .1-.3-.1-.1zM237.8 544.4l.2 .3 .5-.3-.5-.3zM259.8 544.4l.6 .2v-.3zM276.2 544.4l.3 .2 .1-.2-.1-.4zM293.6 544.4l.2 .3 .3-.3-.3-.8zM298.7 544.4l.1 .3 .1-.3-.1-.5zM220.4 542.2l.3 .3 .8-.3-.8-1zM264.8 542.2l.5 .5 .3-.5-.3-.5zM297.5 542.2h.1v-.2zM319.8 542.2l.1 .3 .1-.3-.1-.2zM322 542.2l.4 .5 .7-.6-.7-.8zM394 542.2l.3 .5 .3-.5-.3-.4zM247.8 539.9l.2 .7 .3-.7-.3-.5zM286.3 539.9l.1 .1 .1-.1-.1-.2zM291.1 539.9l.3 .6 .2-.6-.2-.7zM327.1 539.9l.2 .4 .5-.4-.5-.4zM368 539.9l.2 1.4 .7-1.4-.7-.6zM381.7 539.9l.2 .3 .3-.3-.3-.2zM239 537.7l.3 .5 .4-.5-.4-.6zM263.5 537.7l.6 .1v-.3zM292.4 537.7l.2 .2 .1-.2-.1-.3zM317.4 537.8l.1-.1-.1-.1zM340.8 537.7l.2 .3 1.2-.2 .1-.1-.1-.2h-1.2zM380.1 537.7l.5 .6 .3-.6-.3-.6zM383.9 537.7l.5 .5 .7-.5-.7-.6zM387.3 537.7l.8 .7 .8-.7-.8-.4zM221.9 535.4v.1l.1-.1 1.2-1.9 .1-.3-.1-.5-1.3-.9-.1 1.4zM258.4 535.4l.7 .4 .3-.4-.3-.9zM301.2 535.4l.1 .3 1.2 .1 .8-.4-.8-.2-1.2-.1zM321.8 535.4l.6 .3 .5-.3-.5-.4zM372.6 535.4l.6 1 1.2-1-1.2-2.1zM260.2 533.2l.2 .1 .2-.1-.2-.2zM315.5 533.2l.7 .9 .3-.9-.3-1zM356.7 533.2l.4 .6 .2-.6-.2-.7zM386.7 533.2l.1 .1 .1-.1-.1-.3zM393 533.2h.1l-.1-.1zM220.3 530.9l.4 .5 1-.5-1-.7zM251.5 530.9l.2 .9 .4-.9-.4-.6zM271.3 530.9l.2 .6 .3-.6-.3-.3zM278.8 530.9l.2 .7 .8-.7-.8-.7zM287.6 530.9v.2l.1-.2zM351.9 530.9l.2 .3 .2-.3-.2-.2zM264.7 528.7l.6 1.3 .8-1.3-.8-.6zM313 528.7l.7 .3 1.2 .1 .1-.4-.1-.6-.4-1.7-.8-.8-.3 .8zM369.3 528.7l.2 .6 .1-.6-.1-1zM394.2 528.7l.1 .3v-.3l.4-2.3-.4-.5-.4 .5zM230.1 526.4l.5 1.3 .5-1.3-.5-.6zM292.1 526.4l.5 .4 .1-.4-.1-.4zM295.8 526.4l.5 .9 .3-.9-.3-.8zM302.2 526.4l.3 .5 .3-.5-.3-.6zM364.4 526.4l.1 .4 .2-.4-.2-.4zM382.9 526.4l.2 .7 .3-.7-.3-.3zM386.3 526.4l.5 .6 .5-.6-.5-.5zM307.2 524.2l.3 .3 .6-.3-.6-.3zM316.1 524.2l.1 .1v-.2zM325.7 524.2l.4 .2 .1-.2-.1-.1zM329.4 524.2l.4 .7 1.2 .4 .6-1.1-.6-1.6-.9-.7-.3-.1-.2 .1zM346.8 524.2l.4 .7 .3-.7-.3-1zM221.6 521.9l.3 1.2 1.3-1.1v-.3l-1.3-1.6zM246.5 521.9l.2 .2 .2-.2-.2-.3zM260.2 521.9l.2 1.1 .2-1.1-.2-.3zM268.8 521.9l.2 .4 .3-.4-.3-.3zM286.4 521.9l1.2 .5 .3-.5-.3-.1zM316.7 521.9l.7 .7 .8-.7-.8-1.3zM352 521.9l.1 .2 .4-.2-.4-.5zM373.1 521.9l.1 .1 .1-.1-.1-.2zM377.8 521.9l.4 .7 .3-.7-.3-.3zM382.8 521.9l.3 .4 .2-.4-.2-.6zM230.5 519.7l.1 .5 .1-.5-.1-.1zM234 519.7l.3 .6 .3-.6 .2-2.3-.5-.4-.2 .4zM318.5 519.7l.1 .2 .1-.2-.1-.1zM322.3 519.7l.1 .2 .1-.2-.1-.5zM352.9 519.7l.5 1.1 .1-1.1-.1-.7zM271.3 517.4l.2 1.3 .2-1.3-.2-1.3zM277.7 517.5l.2-.1-.2-.1zM338.2 517.4l.3 .9 .5-.9-.5-.5zM245.6 515.2l1.1 .9 .4-.9-.4-.8zM298.6 515.2l.2 .5 .1-.5-.1-.2zM309.8 515.2l.2 .3 .2-.3-.2-.5zM337.1 515.2h.2l-.1-.2zM373 515.2l.2 .2 .1-.2-.1-.1zM382.9 515.2l.2 .7 .3-.7-.3-.3zM236.5 513l.3 .6 .5-.6-.5-.8zM263.3 513l.8 .3 .1-.3-.1-.4zM273.4 513l.6 1 .6-1-.6-.6zM279.7 513l.5 1.1 .8-1.1 .4-1.6 .2-.7 .3-2.2-.5-.6-1.2-.1-.5 .7 .5 .9 .9 1.3-.9 .9zM313.5 513l.2 .2v-.5zM341.7 513l.5 1 .4-1-.2-2.3-.2-.2-.5 .2zM360.2 513l.6 1.9 .2-1.9-.2-.4zM369.4 513l.1 .1 1.2 .1 .2-.2-.2-.5-1.2 .2zM392.8 513l.2 .1 .1-.1-.1-.3zM219.4 510.8l.1-.1-.1-.1zM317.2 510.7l.2 .3 .2-.3-.2-.4zM230.3 508.5l.3 .9 .1-.9-.1-.3zM247.7 508.5l.3 1 .2-1-.2-1.2zM253.5 508.5l.7 .8 .5-.8-.5-1.5zM260.2 508.5l.2 .1h1.2l.1-.1-.1-.3-1.2 .1zM311.1 508.5l.1 .1 .2-.1-.2-.2zM349.5 508.5l.1 .9 .2-.9-.2-.5zM372.9 508.5l.3 1.2 1.1-1.2-1.1-.3zM267.6 506.2l.2 .4 .2-.4-.2-.5zM272.2 506.2l.6 .7 .4-.7-.4-.9zM286.3 506.2l.1 .8 .4-.8-.4-.2zM295.9 506.2l.4 2 .4-2-.4-.8zM314.7 506.2l.2 .7 .4-.7-.4-.5zM370.6 506.2l.1 .5 .3-.5-.3-.4zM284.7 504l.5 .7 .4-.7-.4-.7zM313.1 504l.6 .6 .4-.6-.4-1.2zM338 504l.5 .3 .3-.3-.3-1.1zM388 504l.1 .2 .1-.2-.1-.2zM220.5 501.7l.2 .4 .4-.4-.4-.3zM234.6 501.7l1 .8 .4-.8-.4-.9zM262.7 501.7l.1 .6 .1-.6 .2-2.2-.3-.7-.2 .7zM268.8 501.7l.2 .7 .2-.7-.2-.6zM297.2 501.7l.4 1.8 .4-1.8-.4-2zM301.1 501.7l.2 .3 .1-.3 1-2.2-1.1-.7-1.1 .7zM379.1 501.7l.3 .4 .4-.4-.4-.3zM237.5 499.5l.5 1.3 .5-1.3-.5-.7zM281.4 499.5v.1l.1-.1zM350.7 499.5l.2 .8 .2-.8-.2-.4zM248.9 497.2l.3 .5 .6-.5-.6-.5zM253.8 497.2l.4 .6 .2-.6-.2-1.7zM260 497.2l.4 .4 .1-.4-.1-.2zM267.7 497.2l.1 2.1v-2.5zM339.5 497.2l.2 .7 1.3-.6v-.1l-1.3-.2zM345.9 497.2v.1l.1-.1zM227.4 495l.7 .3 .4-.3-.4-.5zM270.1 495l.2 .4 .1-.4-.1-.9zM371.7 495l.3 .5 .2-.5-.2-.2zM374.1 495l.3 .6 .7-.6-.7-.8zM384.2 495l.2 .2 1.2 .2 .4-.4-.4-.3-1.2-.1zM248.7 492.7l.5 .5 .3-.5-.3-.6zM259.8 492.7l.6 .4 .7-.4-.7-.4zM268.8 492.7l.2 .2 .4-.2-.4-.1zM325.7 492.7l.4 .8 .6-.8-.6-.6zM333.5 492.7v.1l.2-.1 1.1-.4 .9-1.8-.9-.8-1.1-1.5-.2-1.2-.4 1.2v2.3zM365.2 492.7l.6 1.1 .6-1.1-.6-.8zM379.3 492.7l.1 .2 .1-.2-.1-.1zM389 492.7l.3 .7 .3-.7-.3-.5zM216.9 490.5l.1 .1v-.1l1.2-1.4 .8-.9-.8-1-1.2 .9-.7 .1zM223 490.5l.2 .7 .1-.7-.1-.3zM345.7 490.5l.2 .2 .4-.2-.4-.3zM360.6 490.5l.2 .4 .8-.4-.8-1zM367.9 490.5l.3 .8 .6-.8-.6-.6zM233 488.2l.1 .1v-.3zM265.2 488.2l.1 .2 1.3 .5 .3-.7-.3-.4-1.3-.2zM300 488.2v.2l.1-.2zM365.6 488.2l.2 .2 .1-.2-.1-.1zM385.3 488.2l.3 1 .3-1-.3-.5zM271.4 486l.1 .1 .2-.1-.2-.1zM274.9 486l.3 .4 .7-.4-.7-.3zM352.9 486l.5 .1v-.1l.1-2.2-.1-.1-.2 .1zM357 486l.1 .3 .1-.3-.1-.3zM250.4 484.1l.2-.3-.2-.3zM277.7 483.8h.1l-.1-.2zM283.9 483.9l.1-.1-.1-1.5zM379.4 483.8h.1l-.1-.2zM385.5 483.8l.1 .1 .5-.1-.5-.2zM218.8 481.5l.6 .8 .2-.8v-2.2l-.2-.3-.1 .3zM221.6 481.5l.3 .8 1-.8-1-.8zM233 481.5l.1 .7v-.8zM255.3 481.5l.1 .2 1.2 .1 .3-.3-.3-.1h-1.2zM265 481.5l.3 .6 1.3-.5 .1-.1-.1-.5-1.3-1.2zM319.4 481.5l.5 1.1 1.2-.3 .4-.8-.4-.8-1.2 .4zM330.7 481.5l.3 .4 .2-.4-.2-.1zM334.6 481.5l.2 .3 .2-.3-.2-.3zM366.9 481.5l.1 .1 .2-.1-.2-.6zM287.6 479.3h.2l-.2-.1zM294.9 479.3l.2 .1 1.2 .8 .2-.9-.2-.4-1.2-.8zM333.2 479.3l.3 .2 .2-.2-.2-.3zM350.4 479.3l.5 .5 .1-.5-.1-.7zM356 479.3l1.1 .8 .4-.8-.4-.6zM380 479.3l.6 .8 .4-.8-.4-.5zM385 479.3l.6 .4 .7-.4-.7-.7zM231.8 477.2l.1-.2-.1-.5zM241.7 477l.1 .3 .1-.3-.1-.1zM325.7 477l.4 .2 .1-.2-.1-.2zM368.1 477l.1 .8 .2-.8-.2-.1zM374.3 477l.1 .5 .1-.5-.1-.1zM262.7 474.8l.1 .1 .1-.1-.1-1zM285 474.8l.2 .3 .2-.3-.2-.2zM378 474.8l.2 .1 .2-.1-.2-.1zM219.4 472.5v.1l.2-.1zM225.6 472.5v.1l.1-.1zM247.9 472.5l.1 .9v-1.1zM250.9 472.5l.8 .5 .2-.5-.2-.8zM266.3 472.5l.3 .5 .3-.5-.3-.4zM273.8 472.5l.2 .4 .2-.4-.2-1.1zM340.9 472.5l.1 .1 .1-.1zM223 470.3l.2 .3 .6-.3-.6-.8zM276.4 470.3l.1 .3 .5-.3-.5-.9zM297 470.3l.6 .5 .4-.5-.4-1.5zM299.7 470.3l.3 .4 .6-.4-.6-.5zM346.8 470.3l.4 1.6 .6-1.6-.6-1zM216.9 468l.1 .1v-.1zM314.8 468l.1 .3 .8-.3-.8-.2zM368 468l.2 .6 .2-.6-.2-.6zM374.3 468l.1 .3 .2-.3-.2-1.4zM219.4 465.8h.1l-.1-.1zM222.7 465.8l.5 1.1 .1-1.1-.1-.4zM249.5 465.8l.9 .6 .4-.6-.4-1.6zM275 465.8l.2 .2 .4-.2-.4-.6zM330.6 465.8l.4 .9 .6-.9-.6-1zM358.2 465.8l.1 .1 .1-.1-.1-.1zM238.8 463.5l.5 .9 .2-.9-.2-2.2zM269 463.5v.1l.1-.1zM313.2 463.5l.5 .6 .4-.6-.4-.5zM336.9 463.5l.3 .7 .6-.7-.6-1.2zM339.4 463.5l.3 1 .3-1-.3-.6zM354.5 463.5l.1 .1v-.2zM371.7 463.5l.3 .5 1.2-.4 .1-.1h-.1l-1.2-.4zM217.9 461.3l.3 .5 .3-.5-.3-.3zM234 461.3l.3 1.1 .5-1.1-.5-.4zM261.6 461.3h.1l-.1-.3zM307.3 461.3l.2 .1v-.2zM318.3 461.3l.3 1.2 .8-1.2-.8-.5zM367.8 461.3l.4 .7 .5-.7-.5-.7zM374.3 461.3l.1 .4 .2-.4-.2-.2zM237.8 459.1l.2 .2 .2-.2-.2-.3zM260.3 459.1l.1 .1 .2-.1-.2-.2zM302.4 459.1l.1 .2 .3-.2-.3-.4zM328.5 459.1l.1 .1v-.2zM358.9 459.1l.7 .6 1-.6-1-1zM379.2 459.1l.2 .6 .4-.6-.4-1.8zM217.5 456.8l.7 .9 .5-.9-.2-2.2-.3-.5-.2 .5zM226.7 456.8l.2 .5 .4-.5-.4-.7zM230.5 456.8l.1 .1v-.2zM234.7 456.8l.9 .7 .8-.7-.8-.5zM299.8 456.8l.2 .7 .6-.7-.6-.7zM341.8 456.8l.4 .5 1.2 .2 .2-.7-.2-.6-1.2 .3zM346.8 456.8l.4 .2 .1-.2-.1-.2zM355.7 456.8l.1 .3 .6-.3-.6-.1zM373.9 456.8h.6l-.1-.3zM386.7 456.8l.1 .4 .2-.4 .1-2.2-.3-.7-.6 .7zM391.4 456.8l.4 1.2 .7-1.2-.7-1zM214.1 454.6l.4 .1 .2-.1-.2-.3zM245 454.6l.5 .9 .4-.9-.4-1zM265.1 454.6l.2 .4 1.3 .1 .1-.5-.1-.3-1.3-.1zM281.2 454.6l.2 .3 1.3 .2 .5-.5-.5-.9-1.3 .5zM297 454.6l.6 .3 .3-.3-.3-.5zM335.8 454.6l.2 .4 .1-.4-.1-.4zM373 454.6l.2 1.4 .3-1.4-.3-.1zM223.1 452.3l.1 .3 .1-.3-.1-.3zM232.9 452.3l.2 .2 .3-.2-.3-.6zM250.1 452.3l.3 .2 .2-.2-.2-.1zM287.5 452.3l.1 .2 .1-.2-.1-.4zM391.7 452.3l.1 .7 .6-.7-.6-.4zM278.9 450.1l.1 .7 .1-.7-.1-.1zM300.6 450.1l.7 1.2 .4-1.2-.4-1.3zM303.4 450.1l.4 1.3 .6-1.3-.6-.8zM309.8 450.1l.2 .4 .1-.4-.1-.5zM313.6 450.1l.1 .2v-.3zM320.9 450.1l.2 .6 .6-.6-.6-1.4zM365.7 450.1h.1l1.2 .5 .2-.5-.2-.6-1.2 .5zM382.9 450.1l.2 .2 .7-.2-.7-.3zM238.2 447.8l1.1 .4 1.2 .5 .9-.9-.9-.4-1.2 .1zM284.7 447.8l.5 1.4 .4-1.4-.4-.6zM294.8 447.8l.3 .3 .1-.3-.1-.3zM354.5 447.8l.1 .9 .2-.9-.2-1zM372.4 447.8l.8 .8 .8-.8-.8-.8zM376.6 447.8l.3 .8 .4-.8-.4-.3zM235.4 445.6l.2 .2 .3-.2-.3-.2zM257.6 445.6l.3 .8 .4-.8-.4-.4zM313 445.6l.7 .6 .4-.6-.4-.7zM321.1 445.6v.4l.2-.4 .3-2.3-.5-.5-.2 .5zM331.5 445.6l.8 .8 .3-.8-.1-2.3-.2-.4-.2 .4zM348.2 445.6l.2 .4 .3-.4-.3-.2zM383 445.6l.1 .1 .2-.1-.2-1.3zM263.9 443.3l.2 .6 .2-.6-.2-.5zM273.6 443.3l.4 .6 .3-.6-.3-.4zM340.4 443.3l.6 1.2 .7-1.2-.7-.7zM371.8 443.3l.2 .3 .5-.3-.5-.2zM386 443.3l.8 1.1 .5-1.1-.5-1zM236.7 441.1l.1 .2v-.4zM246.2 441.1l.5 .7 1.3-.3 .2-.4-.2-.8-.7-1.5-.6-.3-.3 .3zM288.8 441.1l.1 .1v-.1l.5-2.3-.5-.7-.4 .7zM301.7 441.1l.8 .4 .2-.4-.2-.8zM391.8 438.9l.1-.1-.1-.1zM220.4 436.6l.3 .8 .3-.8-.3-1.6zM248.7 436.6l.5 .9 .7-.9-.7-1zM275.1 436.6l.1 .2 .1-.2-.1-.2zM323.5 436.6l.1 .1 .1-.1-.1-.1zM331 436.6v.2l.1-.2zM337.2 436.6h.1l-.1-.1zM339.1 436.6l.6 .3 .3-.3-.3-.6zM345.3 436.6l.6 .7 .3-.7-.3-1.5zM350.3 436.6l.6 .6 .7-.6-.7-.8zM355.4 436.6l.4 .2 .3-.2-.3-1zM364.2 436.6l.3 .5 .3-.5-.3-2.1zM301.2 434.4l.1 .2 .2-.2-.2-.6zM258.9 432.1l.2 .2 .1-.2-.1-.4zM321.9 432.1l.5 1.2 .9-1.2-.9-.4zM365.6 432.1l.2 .4 1.2-.4v-2.3l-.1 .1-1.1 1.8zM373 432.1l.2 .6 .4-.6-.4-1.9zM215.6 429.9l.1 .5 .2-.5-.2-.3zM292 429.9l.6 1 .7-1-.7-2.1zM324.3 429.9l.5 1 .6-1-.6-.5zM328.4 429.9l.2 .4 .3-.4-.3-.5zM345.8 429.9l.1 .2 1.3 .4 .9-.6-.9-.8-1.3 .5zM371.5 429.9l.5 .3 1-.3-1-1.1zM382.9 429.9l.2 .7 .2-.7-.2-.3zM236.4 427.6l.4 .4 1.2-.4-1.2-.5zM325.8 427.6l.3 1.1 .3-1.1-.3-.6zM379.4 427.7l.1-.1-.1-.1zM251.5 425.4l.2 .1v-.2zM278.8 425.4l.2 .2 .1-.2-.1-.2zM290.1 425.5l.1-.1-.1-.1zM298.6 425.4l.2 .1 .1-.1-.1-.2zM328.2 425.4l.4 .3 .2-.3-.2-.6zM350.8 425.4l.1 .1 .2-.1-.2-.2zM221.6 423.1l.3 .4 .4-.4-.4-.9zM234 423.1l.3 .7 .4-.7-.4-.6zM318.5 423.1l.1 .3 .2-.3-.2-.2zM370.7 423.1v.1l.1-.1 1-2.2-1.1-.4-.2 .4zM214.4 420.9l.1 .1 .1-.1-.1-.4zM231.4 420.9l.4 .8 .5-.8-.5-.5zM254 420.9l.2 .3 .4-.3-.4-1.7zM282.5 420.9l.2 .2 .1-.2-.1-.3zM298.8 420.9v.2l.1-.2 .2-2.3-.3-.7-.2 .7zM321.9 420.9l.5 .7 .4-.7-.4-.7zM341.7 420.9l.5 .7 .2-.7-.2-1.2zM354.4 420.9l.2 .3 .1-.3-.1-.3zM215.6 418.6l.1 .2 .1-.2zM304.4 418.6l.6 1.5 .7-1.5-.7-.8zM319.8 418.6l.1 .2 .1-.2-.1-.2zM325.3 418.6l.8 1 1.2 .1 .2-1.1-.2-.3-1.2-1.4zM334.7 418.6l.1 .2 .1-.2zM283.9 416.6l.1-.2-.1-.1zM292.2 416.4l.4 .9 .5-.9-.5-.6zM333.4 416.4l.1 .2 .1-.2-.1-.2zM357.4 416.4l.9 .1 .1-.1-.1-.5zM379.1 416.4l.3 .4 .4-.4-.4-.4zM381.6 416.4l.3 .4 .1-.4v-2.3l-.1-.1-.1 .1zM388.1 416.4l1.2 .2 .1-.2-.1-.3zM220.1 414.1l.6 .6 .6-.6-.6-.5zM225.2 414.1l.4 .2 .5-.2-.5-.2zM257.7 414.1l.2 .2v-.3zM285.1 414.1l.1 .1 .1-.1-.1-.1zM329.7 414.1l.1 .2v-.3zM351.9 414.1l.2 1.1 .7-1.1-.7-.6zM370.7 414.2l.1-.1-.1-.1zM318.4 411.9l.2 .4 1.3-.2 .1-.2-.1-.4-1.3-.5zM382.8 411.9l.3 .6 .2-.6-.2-.3zM234.2 409.6l.1 .2 .1-.2zM241.4 409.6l.4 .7 .3-.7-.3-.2zM276.4 409.6l.1 .1v-.1zM330.1 409.6l.9 .7 .6-.7-.6-1.1zM375.5 409.6l.2 .2 .1-.2-.1-.1zM247.8 407.4l.2 .8 .2-.8-.2-.6zM265.2 407.4l.1 .1 .1-.1-.1-.1zM380.3 407.4l.3 .4 .2-.4-.2-.6zM386.8 407.5l.2-.1-.2-.4zM275.2 405.2h.1l-.1-.1zM290.8 405.2l.6 .9 .3-.9-.3-.5zM326.4 405.2l.9 1.7 .9-1.7-.9-.7zM345.1 405.2l.8 .5 .1-.5-.1-.3zM361.9 405.2l.1 .2 .3-.2-.3-.6zM251.1 402.9l.6 .8 .6-.8-.6-1.6zM276.1 402.9l.4 .4 .2-.4-.2-.7zM309.7 402.9l.3 .2 .3-.2-.3-.2zM323.4 400.7l.2 1.5 .5-1.5-.5-.3zM334.6 400.7l.2 .2 .4-.2-.4-.3zM359.5 400.7l.1 .3 .1-.3-.1-.1zM442.6 396.2v.1l.2-.1 1.1-1.1 .3-1.2 .5-2.2 .4-.8 1-1.5 .3-.5 1.1-1.7 .1-.4 1.2-.6 1.3 .4 1.2-1.4 .2-.3 .6-2.2 .5-1.2 .5-1.1 .7-.8 1.2-.6 .5-.8 .8-2.2v-4.5l-.3-2.3-1.1-2.2-1.1-1.5-.5-.8-.7-1.2-.9-1-.4-.5-1.2-1.3-.3-.5-1-.8-1.2-.8-1.2 .1-1.3-.1-1.2-.9-1.3-.8-1.2-.8-1.2-.2-1.3 .2-1.2-.1-.5-.3-.8-.3-1.2-.9-1.2-.6-1.2-.4h-.1l-1.2-.1h-1.3l-.5 .1-.7 .1h-2.5l-1.2 .1-.6-.2-.7-.2h-1.2l-1.2 .1h-1.3l-.4 .1-.8 .1-1.3 .1h-1.2l-1.2-.1-.7-.1-.6-.1-.5 .1-.7 .2-1.3 .7-1.2 .5h-1.2l-1.3-.2-1.2 .8-.4 .2-.9 .8-1.2 .3-1.2 .1-1.3 .3-.9 .8-.3 .4-.6 1.8-.4 2.3-.2 2.2-.1 1v1.3l-.2 2.2-.2 2.3v2.2l-.1 2.3 .1 2.2 .2 2.3 .2 2 .1 .2 .3 2.2 .1 2.3 .1 2.2 .5 2.3 .2 .3 1.2 .4 1.3-.1 1.2-.2 1.2 .7 1.3 1 .2 .1 1 .3 1.3 .2 1.2 .1 1.2 .4 1.3 .4 1.2-.6 1.2-.8h.4l.9 .2 1.2 .7 1.3-.2 1.2 .3 1.3-.3 .4-.7 .8-1.1 1.2 .7 .8 .4 .5 .3 1-.3h.7l.8 .1 .1-.1 1.1-.5 1.2 .5h.1l1.2 .7 .4-.7 .8-1 1.3-.1 1.2-.3 1.2-.7 .5-.1 .8-.1 .5 .1 .7 .1 1.3 1.4 1.2-1.4 .8 2.1zM338.3 349l.2 .1 .2-.1 1-.3 1.3-1.7 .1-.2 1.1-1.8 1-.5h.4l1.1 .9 1.2 2.4 1.3 .7 1.2 .4 .4 .1 .8 .3 .8-.3 .5-.2 1.2-1.4 1.3-.4 1.2 .4 1.2-.6h.7l.6-.1 .1 .1 1.1 .5 1.3 .1 1.2 .4 1.2 .9 1.3 .3 1.2-1.1 1.3-1.3 1.2 .1 .2 .1 1 1.4 .5-1.4 .8-1.8 .1-.5 1.1-1 1.3 .8 .1 .2 1.1 1.7 .6 .6 .6 .5 1.3 .4 1.2-.1 1.3-.4 1.2-.1h1.2l1.3-.3 1.2 .9 1.3 .5 1.2-.7 .8-.7 .4-.5 1.3-1.3 1.2-.3 .2-.2 1.1-.9 .6-1.3 .6-1.8 .1-.5 .3-2.2 .1-2.3 .1-2.2 .3-2.3 .3-2.1v-.1l.3-2.3 .6-4.4 .2-2.3-.1-2.2-.1-2.3 .4-1.7 .1-.5 1-2.3-1.1-1.1-1.3-1-1.2-.6-1.2-.1-1.1-1.7-.2-.4-.1 .4-1.1 1.3-1.3-.3-1.2-.3-1.2 .1-1.3 .4-1.2-.1-1.3-.2-1.2-.1-1.2-.5-1.3 1.1-1.2-.6-1.3 .4-1.2 .1-1.2-.7-1.3 .6-1.2-.4-1.3 .4-1.2 .1-1.2-.2-1.3-1-1.2 1.3-1.3-.4-1.2 .2-1.2-.1-1.3 .5h-1.2l-1.3-.5-1.2-.5-1.2 1-1.3-.1-1.2-.1-1.3-.1-1.2 .6-1.2-.7-1.3 .6-1.2-.3-1.3-.4h-1.2l-1.2 .6-1.3-.2-1.2 .1-1.3-.4-1.2 .7-1.2-.3h-1.3l-1.2 .1-1.3-1.3-1.2 1.6-.8 .3-.4 .1-1.3 .1-1.2-.1-.3-.1-1-.5-1.2-2.7-1.2 .2-.4 .7-.6 2.3-.3 .1-.1-.1-1.1-.9-1.3-.2-.4-1.2-.8-.8-.9 .8-.3 1.1-1.3 .4-1.2 .1-1.3-.2-.9 .9-.3 .2-1.2-.2h-.1l-1.2-.6-1.2 .2-1.3 .3-1.2-.4-1 .5h-.2l-1.3 .1-.9-.1-.3-.1-1.3-.4-1.2-.6-1.2 .6h-1.3l-1.2-.2-1.1 .7-.2 .1-1.2-.1h-.1l-1.1-1.1-1.3-.8-1.2 1.4-1.3 .1-1.2 .1-1.2 .2-1.3-.9-1 1-.2 .1-.2-.1-1.1-.9-1.2 .4-1.2-1.1-1.3 .3-1.2 .7-1.3-.1-1.2-.4-1.1-1.2 1.1-.9 .7-1.3-.7-.8-1.2-.5-.5-1-.1-2.2-.7-1.2-.3-1-.9-1.3-1-1-.3-.5-1.2-.4-1.2 .1-1.3-1.2-.1-.2-1.1-2.3-1.3 .5h-2.4l-.3-.5-1-.5h-1.2l-1.3-.8-1.1 1.3-.1 .3-1.2 .6-1.3 .4-.9 1-.3 .5-.6 1.7-.7 1.5-.5 .8 .5 1 1 1.2-.6 2.2 .7 2.3 .2 .4 1.2 1.7 .1 .1-.1 .5-.2 1.8 .2 .3 1.3-.3 1.2 .3 1.2 1.4 .7 .5-.2 2.3-.5 2v.7l.2 1.8 1 2.2 .1 .3 .9 2 .3 1.4 .4 .8 .9 1 1.1 1.2 .1 .2 1.1 2.1v2.2l-1 2.3-.1 2.2 .9 2.3 .3 .8 .4 1.4 .9 2.1 1.2-.2 1-1.9 .3-.7 1.2-.6 .6 1.3 .6 2.3v1l.2 1.2 1.1 1.3 1.2 .4 .4 .6 .9 .9 1.2 .4 1.2 .2 1.3 .5 1.2-.2 1.3 .1 1.2-.2 1-1.7 .2-.3 1.2 .3h.1l1.2 .6 .6-.6 .7-1.1 .7-1.2 .5-.3 1.2-.8 1.3-.3 1.2 .9 .4 .5 .9 1 1.2-.4 1.2-.2 1.3 1 1.1 .9 .1 .1 1.3 .2 1.2-.1h2.5l.4-.2 .8-.7 1.3-.4 1.2-.3 1.2-.5 1.3-.2 1.8 2.1 .7 .6 1.2-.1 .7-.5 .5-.5 1.3-.7 1.2 .4 1.3 .7 1.2-.2 1.2-1.4 1-.6 .3-.2 .2 .2 1 .8 1.3 .7 .9 .8 .3 .2h1.2l1-.2 .3-.2 1.2-.5 1.3-.3 1.2 .4 1.2 .5 .5 .1h.8l1.2 .5 1.3 .6h1.2l1.2 .7zM233.1 335.5l1.2 1.2 1.3-.8 .3-.4 .6-2.2 .1-2.3 .2-.2 1.2-.5 .7-1.5 .6-1.4 .4-.9 .8-.7 1.3-.1 .7 .8 .5 .7 1.2 1 1.3 .2 1.2 .6 .8-.2 .3-2.3-.5-2.2-.6-1.8-.2-.4-.6-2.3-.4-2.2v-.2l-.6-2.1-.7-1.5-.9-.7-.3-.4-1.2-.4-.5 .8-.8 .4-1.2-.3v-.1l-1.3-1.7-.4-.6-.8-.6-1.2-.4-1.3 .4-1.2 .1-1.3-.5-1.2 .5-1.2 .2-1.3-.1-1.2-.5-1.3 .1-2.4 .8v.2l-1.3 1.1-1.1-1.3h-.1l-1.3-.6h-1.2l-1.2 .9-1.3-.3-1.2 .4-1.3 1.3-.3 .6-.7 2.2-.1 2.3 .4 2.2 .7 2 .2 .3 .7 2.2 .4 2.2v.1l.4 2.2 .8 1.4 1.3 .7 1.2 .4 1.2 .6 1.3-.3 1.2-.5 1.3 .9 1.2 .5 1.2-.4 1.3 .2 1.2 .8 1.3-.4 1.2-1.7h.3l.9 .3 .5 2zM250 317.6l.4 .2 .2-.2-.2-1.7zM249.1 315.3l.1 .4 .7-.4-.7-.2zM231.6 306.3l.2 .8 .3-.8-.3-.5zM229.2 304.1l.2 .6 1.2-.2 .3-.4-.3-.4-1.2 .3zM240.4 304.1l.1 .2 .1-.2-.1-.2zM307.4 304.1l.1 .3 .4-.3-.4-.5zM342.9 304.1l.5 1.3 1-1.3-1-.9zM365.7 304.1l.1 .1v-.2zM236.5 301.8l.3 .8 .2-.8-.2-.5zM241.4 301.8l.4 .6 .5-.6-.5-.6zM243.7 301.8l.5 .6 .6-.6-.6-3.3-.1 1.1zM294.8 301.8l.3 .8 .2-.8-.2-.4zM310.8 301.8l.4 .7 .7-.7-.7-1.2zM347.9 301.8l.5 .1 .3-.1-.3-.1zM351.1 301.8l1 .7 .3-.7-.3-.4zM370.4 301.8l.3 .5 .2-.5-.2-.3zM273.8 299.6l.2 .3 .1-.3-.1-.3zM292.5 299.6l.1 .1 .1-.1-.1-.1zM358.8 299.6l.8 1.3 .7-1.3-.7-1.4zM377.7 299.6l.5 .3 .1-.3-.1-.2zM395.4 299.6l.1 .3 .5-.3-.5-.8zM247.8 297.4l.2 .5 .3-.5-.3-.3zM340.9 297.4h.1v-.1zM383.1 297.7l.3-.3-.3-.3zM393.7 297.4l.6 .6 .8-.6-.8-1.6zM229.1 295.1l.3 .3 .1-.3-.1-.2zM371.7 295.1l.3 .4 .8-.4-.8-.2zM216.9 292.9l.1 .2v-.4zM227.8 292.9l.3 .5 .2-.5-.2-.4zM293.8 292.9h.2l-.2-.2zM396.4 292.9l.4 .7 .1-.7-.1-.9zM241.6 290.6l.2 .7 .2-.7-.2-.3zM305.7 290.6l.5 .9 .5-.9-.3-2.2h-.2zM313.6 290.6l.1 .2 .1-.2-.1-.2zM395 290.6l.5 .7 .5-.7 .8-.8 .3-1.4 .2-2.3 .2-2.2 .1-2.3 .1-2.2v-2.3l-.1-2.2-.2-2.3 .1-2.2 .3-2.2v-2.3l-.2-2.2-.8-2.1-.2-.2 .2-.1 .8-2.1 .2-2.3-.2-2.2 .2-2.3v-2.2l.1-2.3-.5-2.2 .5-2.2v-2.3l-.2-2.2 .2-2.3 .1-1.6v-.6l.2-2.3v-4.5l.1-2.2v-2.3l.1-2.2v-2.2l-.2-2.3-.2-2.1v-.3l.2-2.1 .5-2.2-.7-1.8-.4-.5-.8-1.8-1.3 .1-1.2 .9-.3 .8 .3 .8 .5 1.5-.2 2.2 .6 2.3-.5 2.2 .6 2.3-.3 2.2-.7 1.2-.2 1-.1 2.3 .3 1.3 .4 .9 .1 2.3-.4 2.2-.1 .4-1.3 1.8v.1l.8 2.2 .5 1.3h1.2l.6 1-.6 .4-1.2 .2-.6 1.6 .6 2.2 .1 .1-.1 .4-.1 1.8 .1 .1 .7 2.1-.7 2.1h-1.3v.3l1.3 .4 .4 1.7-.1 2.3-.3 .6-.7 1.6 .3 2.3 .4 1.2 .8 1 .4 1.1 .5 1.2-.5 .4-1.2 .4-.2 1.4 .2 .7 .6 1.6-.1 2.2 .2 2.2 .4 2.3-1.1 1.1-1.3 .4-.2 .7 .2 .6 1.3 1.2 .3 .5 .5 2.2-.8 1.1-1.3 .7-1.2 .4-.2 .1 .2 .1 1.2 .3 .7 1.8 .6 1.9 .4 .4zM216.9 288.4l.1 .1v-.8zM226.8 288.4l.1 .2v-.3zM265.2 288.4l.1 .3 .1-.3-.1-.2zM309.5 288.4l.5 .3 .1-.3-.1-.2zM373.1 288.4l.1 .3 .3-.3-.3-.3zM217.4 286.1l.8 .5 1.2-.4 .1-.1h-.1l-1.2-.4zM223 286.1l.2 .4 .6-.4-.6-.3zM231 286.1l.8 .4 .4-.4-.4-.6zM245.2 286.1l.3 .3 .5-.3-.5-.4zM285.1 286.1l.1 .1v-.1zM318.2 286.1l.4 .9 .6-.9-.6-.8zM353.1 286.1l.3 1.3 1.2-.9 .3-.4-.3-.9-1.2 .6zM305.9 283.9l.3 .4 .4-.4-.4-.5zM337.2 284l.2-.1-.2-.2zM352 283.9l.1 .4 .2-.4-.2-.4zM378.1 283.9l.1 .1v-.2zM225.3 281.6l.3 .8 .2-.8-.2-.3zM238 282l.1-.4-.1-.2zM276.4 281.6l.1 .3 .1-.3-.1-.3zM290 281.6l.1 .3 .2-.3-.2-1.3zM307.4 281.6l.1 .2v-1.1zM329.6 281.6l.2 .8 .2-.8-.2-.6zM362.9 281.6l.4 1.6 .4-1.6-.4-.9zM214.3 279.4l.2 .4 .3-.4-.3-.3zM382.9 279.4l.2 .3 .4-.3-.4-.5zM391.6 279.4l.2 .1 .1-.1-.1-.2zM231.5 277.1l.3 .2 .1-.2-.1-.1zM260.2 277.1l.2 .4 .3-.4-.3-1.1zM262.7 277.1l.1 .1 .1-.1-.1-.3zM277.2 277.1l.5 1.2 .4-1.2-.4-.9zM288.8 277.1l.1 .1v-.2zM301.2 277.1l.1 .1 1.2 .7 1.3-.1 .3-.7-.3-.4-1.3-.2-1.2 .6zM312.4 277.5l1.3 .3 .3-.7-.3-.6-1.3 .4zM374 277.1l.4 .3 .3-.3-.3-.2zM223 274.9l.2 .4 1.2-.3 1.2 .1 .2-.2-.2-.2-1.2 .1-1.2-.2zM233 274.9l.1 .1 1.2 .2 .1-.3-.1-.1h-1.2zM245.4 274.9l.1 .1 .1-.1-.1-.1zM278.6 274.9l.4 .4 .2-.4-.2-1.9zM318.4 274.9l.2 1.9 .2-1.9-.2-.9zM328.5 274.9l.1 .2v-.4zM340.9 274.9l.1 .1v-.2zM353.2 274.9l.2 .4 .2-.4-.2-.1zM383.7 274.9l.7 1.1 1.1-1.1-1.1-.9zM215.7 272.6v.1l.1-.1zM331.9 272.6l.4 .7 .3-.7-.3-.4zM377.1 272.6l1.1 1.7 .2-1.7-.2-.6zM536.7 272.6l.2 .5 1.2 .8 .5-1.3 .2-2.2 .3-2.2-.2-2.3-.8-.9-.4-1.3-.7-2.3-.1-.2-1.3 .2-.4 2.3-.5 2.2 .7 2.3 .2 .6 .3 1.6zM225.2 270.4l.4 .4 .7-.4-.7-.5zM278.7 270.4l.3 1.2v-1.7zM282.4 270.4l.3 .6 .1-.6-.1-.3zM308.1 270.4l.6 .5 .2-.5-.2-.4zM329.6 270.4l.2 .2 .1-.2-.1-.4zM547.5 270.4l.5 1.8 .4-1.8 .1-2.2-.1-2.3-.3-2.2-.1-.3-1.2-2.4-.1 .4-.1 2.3-.1 2.2 .3 2.3zM220.6 268.2l.1 .1 .1-.1-.1-.2zM239 268.2l.3 .5 .1-.5-.1-.5zM340.1 268.2l.9 1.3 .3-1.3-.3-.5zM344.3 268.2l.4 .4 .2-.4-.2-.4zM353 268.2l.4 .6 .4-.6-.4-.7zM392.1 268.2l.9 .9 .8-.9-.8-.9zM322.2 265.9l.2 .3 .4-.3-.4-.5zM325.1 265.9l1 .8 .4-.8-.4-.7zM377.8 265.9l.4 .3 .1-.3-.1-.5zM381.8 265.9l.1 .1v-.2zM384.3 265.9l.1 .1 1.2 .4 .5-.5-.5-.6-1.2 .5zM298.7 263.7l.1 .2 .2-.2-.2-1.2zM349.4 263.7l.2 .8 .4-.8-.4-.7zM353.3 263.7l.1 .1v-.3zM387.7 263.7l.4 .7 .4-.7-.4-2.3v-.2l-.1 .2zM260.2 261.4l.2 .3 .1-.3-.1-.4zM269.7 261.4l.6 .8 .5-.8-.5-.2zM302 261.4l.5 .7 .8-.7-.8-1.4zM316.9 261.4l.5 .4 .3-.4-.3-.5zM322.1 261.4l.3 .7 .1-.7-.1-2zM339.4 261.4l.3 .5 .2-.5-.2-.5zM382.7 261.4l.4 .3 .2-.3-.2-.4zM272.5 259.2l.3 .2 .7-.2-.7-.3zM276.3 259.2l.2 .7 .1-.7-.1-.2zM278.7 259.2l.3 .4 .4-.4-.4-.2zM307.3 259.2l.2 .9 1.2-.9v-.1l-1.2-.4zM373.9 259.2l.5 .3 .3-.3-.3-.8zM381.7 259.2l.2 .9 .3-.9-.3-.4zM390.4 259.2l.2 .2 .4-.2-.4-.9zM222.9 256.9l.3 .4 .3-.4-.3-.6zM235.5 256.9l.1 .3 .1-.3-.1-.2zM297.3 256.9l.3 .3 .3-.3-.3-.6zM369.3 256.9l.2 .3 .1-.3-.1-.3zM384.1 256.9l.3 .4 .2-.4-.2-.4zM391.5 256.9l.3 .4 .2-.4-.2-.1zM237.8 254.7l.2 .3 .2-.3-.2-.3zM252.9 254.8l.1-.1-.1-.2zM265.2 254.7l.1 .2 .1-.2-.1-.2zM287.3 254.7l.3 .2 .2-.2-.2-.3zM371.6 254.7l.4 .9 1.2 1.2 1-2.1-1-.7-1.2 .2zM235.2 252.4l.4 .5 .2-.5 .2-2.2-.4-.3-.2 .3zM240.3 252.4l.2 .5 .2-.5-.2-.4zM246.5 252.4l.2 1.1 1.3 .1 .1-1.2-.1-.1-1.3-.8zM260.1 252.4l.3 .5 .2-.5-.2-.4zM290.9 252.4l.5 1.9 .3-1.9-.3-.9zM330.8 252.4l.2 .2 .4-.2-.4-.3zM340.8 252.4l.2 .4 .2-.4-.2-.2zM354.9 252.4l.9 .4 1.1-.4-1.1-.6zM368.2 252.6l.4-.2-.4-.3zM382.7 252.4l.4 .6 .2-.6-.2-.5zM270.2 250.2l.1 .2 .2-.2-.2-.8zM293.5 250.2l.3 .7 .3-.7-.3-.4zM321.1 250.3l.2-.1-.2-.1zM241.7 247.9l.1 .2v-.2zM285.1 247.9l.1 .2 .3-.2-.3-.4zM298.3 247.9l.5 1 .6-1-.6-1.1zM324.1 247.9l.7 .3 .6-.3-.4-2.2-.2-.5-.2 .5zM352.8 247.9l.6 .7 .6-.7-.6-.6zM366.7 247.9l.3 .9 .4-.9-.4-1.1zM224.2 245.7l.2 .3 .1-.3-.1-.3zM233.6 245.7l.7 1.7 .5-1.7-.5-1.3zM243.6 245.7l.6 .7 1-.7-1-1.3zM310.7 245.7l.5 .2 .1-.2-.1-.6zM316 245.7l.2 .5 .3-.5-.3-.6zM348.1 245.7l.3 .3 .3-.3-.3-.3zM365.7 245.7l.1 .2 .2-.2-.2-.2zM229 243.5l.4 1.2 .3-1.2-.3-.7zM252.5 243.5l.4 .4 .2-.4-.2-.3zM257.8 243.5l.1 .2v-.7zM270.1 243.5l.2 .4 .2-.4-.2-.4zM293.7 243.5l.1 .1 .2-.1-.2-.1zM308.6 243.5l.1 .5 .9-.5-.9-.4zM327.2 243.5l.1 .1 .3-.1-.3-.3zM333.1 243.5l.4 1.1 .8-1.1-.8-.9zM385.5 243.5l.1 .2 .1-.2-.1-.4zM214.2 241.2l.3 .4 .8-.4-.8-.7zM265 241.2l.3 .7 .4-.7-.4-2zM303 241.2l.8 1 .3-1-.3-.9zM319.8 241.2l.1 .1v-.1zM348.3 241.2l.1 .1v-.2zM375.5 241.2l.2 .6 .2-.6-.2-2.2zM226.5 239l.4 .7 .8-.7-.8-.6zM254 239h.2v-.2zM268.9 239l.1 1.3 .4-1.3-.4-.3zM321 239l.1 .4 .2-.4-.2-.5zM352.3 239l1.1 .9 .3-.9-.3-1.6zM370.6 239l.1 .5 .1-.5-.1-.2zM247.9 236.7l.1 .8 .1-.8-.1-.8zM265.1 236.7l.2 1.8 .3-1.8-.3-.4zM291.2 236.7l.2 .4 .3-.4-.3-.2zM322.3 236.7l.1 .1v-.2zM349.4 236.7l.2 .3 .4-.3-.4-.4zM235.4 234.5l.2 .2 .1-.2-.1-.3zM260.7 234.5l.9 1.7 .4-1.7-.4-.7zM338.1 234.5l.4 .7 .5-.7-.5-1zM343.1 234.5l.3 .2 .1-.2-.1-.5zM368.1 234.5l.1 .3 .4-.3-.4-.4zM229.3 232.2l.1 .2 .1-.2-.1-.3zM257.7 232.2l.2 .2 .1-.2-.1-.1zM268.4 232.2l.6 .5 .3-.5-.3-.7zM313.4 232.2l.3 .4 .4-.4-.4-.8zM389.2 232.2l.1 .2 .1-.2-.1-.2zM214.5 230l1.2 .5 .1-.5-.1-2.2-1.2 2.1zM220.4 230l.3 .7 .3-.7-.3-1.1zM287.2 230l.4 .2 1.3 .5 .2-.7-.2-.3-1.3 .1zM291.1 230l.3 .4 .1-.4-.1-.7zM333.3 230l.2 .6 .9-.6-.9-1zM350.8 230l.1 .2 .3-.2-.3-.2zM354.2 230l.4 .8 .7-.8-.7-.9zM278.9 227.7l.1 .3 .3-.3-.3-.4zM299.7 227.7l.3 1.2 .9-1.2-.9-.7zM312 227.7l.4 .9 .3-.9-.3-.8zM346.6 227.7l.6 .6 .2-.6-.2-.4zM360 227.7l.8 .3 .2-.3-.2-.3zM268.6 225.5l.4 2.1 .5-2.1-.5-1.4-.3-.9-.9-.9-.6 .9 .6 1.2zM287 225.5l.6 .1 .1-.1-.1-.1zM334.6 225.5l.2 .5 .2-.5-.2-.5zM344.4 225.5l.3 .6 .2-.6-.2-.6zM337.2 223.2v.3l.1-.3zM362 223.2v.2l.1-.2zM385.3 223.2l.3 .5 .2-.5-.2-.7zM271.4 221l.1 .2 .1-.2-.1-.4zM298.4 221l.4 1 .3-1-.3-1.4zM247.7 218.8l.3 .5 1.2 .4 .3-.9-.3-1-1.2-.3zM270.2 218.8l.1 .1 .1-.1-.1-.2zM290.9 218.8l.5 .2 .1-.2-.1-.3zM321.8 218.8l.6 .7 .5-.7-.5-.7zM339.5 218.8h.5l-.3-.2zM369.4 218.8l.1 .3 .1-.3-.1-.2zM378.1 218.8l.1 .1 .7-.1-.7-.1zM388.8 218.8l.5 .5 .4-.5-.4-.7zM231.8 216.5v.1l.1-.1zM249.9 216.5l.5 .6 .4-.6-.4-.7zM278.9 216.5l.1 .2 .1-.2-.1-.3zM373.8 216.5l.6 .6 .2-.6-.2-.5zM376.8 216.5l.1 .2 .1-.2-.1-.2zM383.9 216.5l.5 .3 .1-.3-.1-.2zM225.5 214.3l.1 .2 .2-.2-.2-.4zM230.5 214.3l.1 .4 .1-.4-.1-1.6zM257.6 214.3l.3 .4 .2-.4-.2-.3zM285 214.3l.2 .3 .2-.3-.2-.2zM322.2 214.3l.2 .1 .1-.1-.1-.4zM343.3 214.3l.1 .1 .1-.1-.1-.2zM364.3 214.3l.2 .2 .3-.2-.3-.3zM379.2 214.3l.2 .3 .1-.3-.1-.4zM217.8 212l.4 1.1 .6-1.1-.1-2.2-.5-.4-.2 .4zM306.1 212l.1 .4 .5-.4-.5-.8zM340.8 212l.2 .2 .1-.2-.1-.6zM354.3 212l.3 .4 .4-.4-.4-.5zM362.9 212l.4 .8 .3-.8-.3-.4zM372.6 212l.6 .4 .3-.4-.3-.7zM214.4 209.8l.1 .2 .1-.2-.1-1zM221.7 209.8l.2 .3 .3-.3-.3-1zM275.2 209.8l1.3 .3 .1-.3-.1-.2-1.3 .1zM287.5 209.8l.1 .3 .2-.3-.2-.2zM292.5 209.8l.1 .2 .4-.2-.4-.4zM307.2 209.8l.3 .5 .1-.5-.1-.4zM339.5 209.8l.2 .4 .5-.4-.5-.3zM376.7 209.8l.2 .1 .3-.1-.3-.4zM215.2 207.5l.5 .2 .2-.2-.2-.7zM288.6 207.5l.3 .8 .5-.8-.5-.4zM325.6 207.5l.5 .4 .2-.4-.2-.7zM377.9 207.5l.3 .6 .1-.6-.1-.4zM255.2 205.3l.2 .8 .2-.8-.2-.3zM264 205.3l.1 .1 .2-.1-.2-.2zM301 205.3l.3 .4 .3-.4-.3-.7zM333.3 205.3l.2 .4 .2-.4-.2-.4zM342 205.3l.2 .1 .2-.1-.2-.3zM355.4 205.3l.4 1.2 .3-1.2-.3-1zM216.6 203l.4 .6 .2-.6-.2-1zM229.1 203l.3 .4 .1-.4-.1-.3zM256.6 203.2l.1-.2-.1-.1zM296.1 203l.2 .4 .3-.4-.3-.5zM328.5 203l.1 .2 .1-.2-.1-.6zM330.8 203l.2 .5 .4-.5-.4-.7zM364.4 203l.1 .2 .2-.2-.2-.1zM395.4 203l.1 .7 1.3 1.2 .9-1.9-.1-2.2-.8-1.8-1.3 1.1-.4 .7zM219.1 200.8l.3 .8 1.3-.8-1.3-.4zM261.4 200.8l.2 .5 1.2-.3 .1-.2-.1-.2-1.2-.2zM340.8 200.8l.2 .4 .3-.4-.3-.4zM385.3 200.8l.3 .5 .4-.5-.4-.8zM402.6 200.8l.4 .4 1-.4-1-.3zM248.7 198.5l.5 1.6 .6-1.6-.6-.7zM296.2 198.5l.1 .3 .1-.3-.1-.3zM315.8 198.5l.4 .4 .8-.4-.8-.3zM391.7 198.5l.1 .3v-.4zM219.3 196.3l.1 .1 .2-.1-.2-.4zM244.2 196.6l.1-.3-.1-.1zM250.3 196.3l.1 .4 .1-.4-.1-.2zM257.6 196.3l.3 .3 .1-.3-.1-.8zM277.5 196.3l.2 1 .3-1-.3-1.1zM323.4 196.3l.2 .2 .2-.2-.2-.4zM375.5 196.3l.2 1 .2-1-.2-.5zM396.5 196.3l.3 1.5 .7-1.5-.7-.4zM226.6 194l.3 .6 .2-.6-.2-.4zM288.4 194l.5 .8 .6-.8-.6-1.5zM304.8 194l.2 .7 .3-.7-.3-.4zM331.8 194l.5 1.1 .6-1.1-.6-.6zM340.2 194l.8 .4 .2-.4-.2-.3zM343.2 194l.2 .5 .3-.5-.3-.7zM385.2 194l.4 .3 .1-.3-.1-.2zM404 194l.2 .2 .1-.2-.1-.1zM234.1 191.8l.2 .2 .1-.2 .7-2.2-.8-.6-.3 .6zM253.5 191.8l.7 1.7 .4-1.7-.4-1.8zM278.5 191.8l.5 .6 .4-.6-.4-2.1zM311 191.8l.2 .3 .1-.3-.1-.2zM380.5 191.8l.1 .2 .5-.2-.5-.3zM391.6 191.8l.2 .4 .2-.4-.2-.5zM226.6 189.6l.3 .3 .1-.3-.1-.5zM244 189.6l.2 .2 .1-.2-.1-.4zM335.9 189.6l.1 .3 .1-.3-.1-.3zM347 189.6l.2 .3 1.2 .2 .4-.5-.4-1-1.2 .4zM369.7 189.6l1 .9 .8-.9-.8-.8zM392.6 189.6l.4 .6 .5-.6-.5-1.1zM224.3 187.3l.1 .2 .1-.2-.1-.3zM283.6 187.3l.3 .4 .2-.4-.2-.4zM307.3 187.3l.2 .3 .1-.3-.1-.2zM311.1 187.3l.1 .2 1.2-.2-1.2-.2zM316.1 187.3l.1 .2v-1.1zM318.5 187.3l.1 .2 .2-.2-.2-.3zM358.9 187.3l.7 .6 .5-.6-.5-.5zM364.8 187.3l1 .3 .2-.3-.2-.2zM387.5 187.3l.6 .7 .3-.7v-2.2l-.3-1.2-.2 1.2zM220.3 185.1l.4 .3 .2-.3-.2-.4zM222.9 185.1l.3 .4 .3-.4-.3-.8zM225.3 185.1l.3 .5 .4-.5-.4-.6zM242.4 185.1l.6 .7 .7-.7-.7-1.1zM259.6 185.1l.8 .6 .4-.6-.4-.3zM268.8 185.1l.2 .9 .4-.9-.4-.5zM334.6 185.1l.2 .4 .1-.4 .6-2.3-.7-.6-.9 .6zM344.6 185.1l.1 .1v-.4zM394 185.1l.3 .4 .2-.4-.2-.5zM404.1 185.1l.1 .1 .1-.1-.1-.5zM298.7 182.8l.1 .3 .1-.3-.1-2.1zM322 182.8l.4 .2v-.3zM346.6 182.8l.6 .3 .1-.3-.1-.1zM243 180.6l1.2 .3 .4-.3-.4-.3-1.2 .2zM258.8 180.6l.3 .3 .1-.3-.1-.2zM327.2 180.6l.1 .2 .2-.2-.2-1.2zM349.5 180.6l.1 .4 .2-.4-.2-.7zM357.4 180.6l.9 .8 .4-.8-.4-.7zM399 180.6l.2 .7 .3-.7-.3-.3zM277.3 178.3l.4 .6 .6-.6-.6-.6zM298.7 178.3l.1 2.2 1.2-2.1 .2-.1h-.2l-1.2-.3zM314.4 178.3l.5 1.1 .7-1.1-.7-.9zM220 176.1l.7 .6 .1-.6-.1-.1zM256.1 176.1l.5 .1 1.3 .6 .5-.7-.2-2.3-.3-.3-.9 .3-.4 1.3zM260.9 176.1l.7 1.7 .8-1.7-.8-2.2zM291.3 176.1l.1 .1v-.1l.7-2.3-.6-2.2-.1-.3-.1 .3-.3 2.2zM317.9 176.1l.7 1.5 .4-1.5-.4-.7zM325.5 176.1l.6 1.9 .5-1.9-.5-1.3zM328.5 176.1l.1 .1v-.4zM344.4 176.1l.3 .7 .5-.7-.5-1.1zM355.6 176.1l.2 .2 .3-.2-.3-.5zM386.7 176.1l.1 1.5 .3-1.5-.3-.4zM392.8 176.1l.2 .2 .1-.2-.1-.1zM223 173.8l.2 .3 .4-.3-.4-.4zM266.4 173.8l.2 .9 .2-.9-.2-.4zM297.3 173.8l.3 .7 .2-.7-.2-.3zM299.8 173.8l.2 .3 .3-.3-.3-.3zM340.8 173.8l.2 .6 1.2-.4 .1-.2-.1-.1-1.2-.2zM401.5 173.8l.2 .8 .6-.8-.6-.3zM403.9 173.8l.3 .9 .1-.9-.1-.1zM250.3 171.6l.1 .1 .1-.1-.1-.5zM268.1 171.6l.9 .3 .3-.3-.3-.5zM276.3 171.6l.2 .1v-.2zM321.7 171.6l.7 .5 .6-.5-.6-.3zM344 171.6l.7 1.6 .5-1.6-.5-.9zM358 171.6l.3 .4 .8-.4-.8-.3zM373.1 171.6l.1 .7 .2-.7-.2-.3zM399.9 171.6l.6 .5 .2-.5-.2-.4zM255.3 169.3l.1 .2v-.4zM270 169.3l.3 .4 .2-.4-.2-.6zM338 169.3l.5 2 1.1-2-1.1-.5zM219.4 164.9h.1l-.1-.1zM236.7 164.9l.1 .1 .2-.1-.2-.2zM296 164.9l.3 .5 .6-.5-.6-1zM302.6 164.9l1.2 1.8 .4-1.8-.4-.9zM328.3 164.9l.3 .6 1.2-.6-1.2-.9zM348.3 164.9l.1 .2 .1-.2-.1-.2zM361.9 164.9l.1 .3 .3-.3-.3-.5zM385.5 164.9l.1 .4 .6-.4-.5-2.3-.1-.3-.1 .3zM226.7 162.6l.2 .3 .2-.3-.2-.2zM302.1 162.6l.4 1.7 .3-1.7-.3-.2zM401.1 162.6l.6 .4 .3-.4-.3-1.2zM247.9 160.4h.1v-.1zM269 160.4h.1l-.1-.1zM314.9 160.4l1.3 .4 .7-.4-.7-.6zM380.6 160.4v.2l.2-.2 .3-2.3-.5-.5-.4 .5zM390.5 160.4h.1v-.1zM399 160.4l.2 .1 .3-.1-.3-.3zM264.9 158.1l.4 1.5 .9-1.5-.9-.8zM328.2 158.1l.4 1.2 .6-1.2-.6-.5zM335.9 158.1l.1 .2 .1-.2-.1-.8zM360.5 158.1l.3 1.2 .4-1.2-.4-.6zM213 155.9l.2 .3 .8-.3-.8-.5zM215.6 155.9h.1l1.3 .3 .2-.3-.2-.3-1.3 .2zM229.1 155.9l.3 .2 .2-.2-.2-.5zM304.9 155.9l.1 .2 .1-.2-.1-.8zM318.4 155.9l.2 .2 .4-.2-.4-.6zM332.1 155.9l.2 .2 .2-.2-.2-.3zM334.2 155.9l.6 .6 .9-.6-.9-.7zM351.9 155.9l.2 .1 .2-.1-.2-.9zM381.6 155.9l.3 .8 .9-.8-.9-.7zM237.2 153.6l.8 1.7 .6-1.7-.6-.7zM245.3 153.6l.2 .3 .3-.3-.3-.1zM252.5 153.6l.4 .6 .5-.6-.5-1.2zM255 153.6l.4 .3 1.2 .6 .4-.9-.4-.9-.9-1.3-.3-.2-.2 .2zM308.4 153.6l.3 .7 .3-.7-.3-.3zM376.8 153.6l.1 .4 .2-.4-.2-.6zM385.4 153.6l.2 .2 .2-.2-.2-.1zM392.5 153.6l.5 .8 .3-.8-.3-1.2zM261.1 151.4l.5 .3 .3-.3-.3-1.1zM322.3 151.4h.1v-.1zM355.8 151.5l.1-.1v-2.3h-.1zM361.8 151.4l.2 .4 .3-.4-.3-.4zM365.6 151.4l.2 .2v-.5zM369.2 151.4l.3 .3 .2-.3-.2-1zM378.1 151.4h.1v-.1zM226.3 149.1l.6 .4 .2-.4-.2-.4zM306.9 149.1l.6 .7 .5-.7-.5-.6zM315.6 149.1l.6 .2 .1-.2-.1-.4zM332 149.1l.3 1.4 1.2-1.3v-.1l-1.2-.5zM368.1 149.1l.1 .5 .5-.5-.5-.2zM262.8 147l.1-.1-.1-.1zM330.8 146.9l.2 .4 .2-.4-.2-.7zM343.3 146.9l.1 .3 .2-.3-.2-.4zM375.3 146.9l.4 .7 .4-.7-.4-.7zM221.9 144.6h0l.7-2.2-.7-1.5-.6 1.5zM268.4 144.6l.6 1.9 .4-1.9-.4-.5zM296.2 144.6l.1 .2 .2-.2 .4-2.2-.6-.8-.4 .8zM350.6 144.6l.3 .4 1.2 1.1 1-1.5-1-.8-1.2 .7zM374.3 144.6l.1 .5 .3-.5-.3-.3zM330.5 142.4l.5 1.1 .4-1.1-.4-.8zM391.4 142.4l.4 .4 .6-.4-.6-1zM240 140.1l.5 .7 .2-.7-.2-1.3zM245.3 140.1l.2 .2 .1-.2 .1-2.2-.2-.4-.3 .4zM304.9 140.1l.1 .2 .1-.2-.1-.1zM348 140.1l.4 .9 1.2-.4 .1-.5h-.1l-1.2-.8zM377.7 140.1l.5 .7 1.2-.3 .1-.4-.1-.1-1.2-1.4zM399.1 137.9l.1 .1 .3-.1-.3-.1zM247.7 135.7l.3 .2 .8-.2-.8-.4zM312.4 135.8l.1-.1-.1-.1zM361.7 135.7l.3 .6 .2-.6-.2-1.9zM231.8 134l.2-.6-.2-.1zM246.4 133.4l.3 .8 .4-.8-.4-.4zM272.6 133.4l.2 .4 .1-.4-.1-.1zM316.5 133.4l.9 .3 .3-.3-.3-.4zM332.9 133.4l.6 .8 .5-.8-.5-.5zM355.7 133.4l.1 .2 .1-.2-.1-.2zM378 133.4l.2 .2 .1-.2-.1-.3zM328.4 131.2l.2 .3 .5-.3-.5-.2z"/>
<path fill="#baff3c" d="M303.7 582.6l1.3 1.3 1.2 .5 1.3 .2h1.2l1.3-.2h1.2l1.2-.3 1.3 .2 1.2 .3h1.3l1.2-.1 1.2 .3h1.3l1.2-.3 1.3-.2 2.4-.4 1.3-.3 1.2-.1 1.3-.3 1.2-.3 1.2-.2 .5-.1 .8-.3 1.2-1.3 .7-.7 .6-.1 1.2-.4 1.2-.7 .9-1-.9-.2-1.2-.3-1.2-.2-1.3-.1-2.4 .8-.1 .1v-.1l-1.2-.2-.8 .2-.4 .8-1-.8-.3-.1-1.2-.3-1.3-.2-1.2-.1-1.2 .1-1.3-.1-1.2-.1-1.3 .6-1.2-.3-1.2-.5-1.3 .4h-1.2l-1.3 .3-1.2-.5-1.2 .6-1.3 .2-1.2-.3-1.1 .3-.2 .3-1.2 .6-1-.9-.2-.1-1.3-.3-1.2-.1-1.3-.1-1.2 .3-1.2-.3-1.3 .2-1.2 .1-.6 .3 .6 1.5 1.2 .4 1.3 .1 1.2 .1 .8 .1 .4 .2 1.3 .3 1.2 .4zM290.7 578.1l.7 1.6 .8-1.6-.8-.9zM344 578.1l.7 .7 .7-.7-.7-.3zM280.1 513l.1 .1 .1-.1-.1-.2zM218.1 456.8l.1 .1v-.4zM331 409.6v.1l.1-.1zM414.4 378.2l1 .8 1.2 .1 1.2-.8 .6-.1 .7-.2 .3 .2 .9 .5 1.3 .6 1.2-.5 1.2-1.2h1.3l1.2 .6h.1l1.2-.6 1.2-.3 1.2-.2 1.3 .4 1.1-1.5 .1-.4 .3-1.9 .2-2.2 .4-2.3 .4-2.2 1.2 .2 1.2 .6 .9-.8-.8-2.3h-.1l-1.2-.1-.2 .1-1 2.2-1-2.2-.3-.1-1.2-1.9-.3-.2-1-.7-2.4-1.2-1.3-.1-.6-.3-.6-.1-1.3-.5-1.2-.6-1.2-.7-1.3-.2-1.2 .5-1.3 .4-1.2 .2-1.2 .5-1.3 .4-.5 .1-.7 .3-1.3 .6-1.2 .8-1.1 .6-.1 .1-.3-.1-1-.2-.9 .2-.3 .1-1.3 1.4-.5 .7-.7 1.6-.3 .7-.5 2.2 .2 2.3 .6 .6 1.2 1.6 1.3 1.6 1.2 .3 1.3-.3 1.2 .2 .5 .5 .7 .9 1.3 .8 1.2 .3zM278.3 342.3l.7 1.5 1.2-.7 .8-.8 .4-.8 .9-1.5 .4-.9 1.2-1 1.3-.3 1.2 .4 .9-.4 .3-.3 .9-2 .4-.8 1.2-.4 .4 1.2 .9 1.7 .2 .6 1 1.5 1.2 .6 .7 .1 .6 .2 1-.2h.2l1-2.2 1.5-1 1.2-.6 1.3 .5 .5 1.1 .7 1.4 .8 .8 .5 .4 1.2 .5 1.2-.3 1.3-.5 1.1-.1h.2l1.2 .6 .3-.6 .9-1.5 .5-.7 .7-.6 .6 .6 .7 1.2 .7 1 .5 .5 1.3-.1 .2-.4 1-1.8 .2-.4 1-.6 1.2 .6 .1 .1 1.1 2.1 .1 .3 1.3 .9 1.2 .8 1.2-.6 1-1.4 .3-.5 1.2-1.6 1.3 .8 1.2 .9 .4 .4 .8 .9 1.3 .4 .7-1.3 .5-1 1.3-1.3v.1l1.2 2 .3 .2 .9 .8 .6-.8 .7-.7 1.2-.5 1.3 .9 .3 .3 .9 .8 1.2 .1 1.3 .3 1 1.1 .2 .3h1.3l.2-.3 1-2.1 .3-.2 .9-.3 .4 .3 .9 1.4 .7 .9 .5 .4 1.3 .3 1.2 .3 1.2-.8 .5-.2 .8-.4 .5 .4 .7 .5h1.3l1.2-.5v-.1l1.2-.3 1.3 .3 .2 .1 1 .3 1.3-.1 .7-.2 .5-.2 1.2-.3 1.3-.8 1.2-.9 1.3 .5 1.1 1.7 .1 .1 1.2 .9 1.3 .2 1.2 .4h1.3l2.4-1.4 .4-.2 .9-1 .8 1 .4 .3 1.3 1.4 1.2-1.4 .2-.3 1-1.7 .7-.6 .6-.4 1.1-1.8 .1-.3 .6-2 .3-2.2 .1-2.3 .3-1.5 .1-.7 .5-2.3 .8-4.4 .3-2.3 .1-2.2-.1-2.3 .6-2.2 .1-.3 1-2-1-.8-1.2-.7-1.2-.2-1.3-.2-.8-.3-.4-.2-1.3 .2-1.2-.5-1.2-.3-1.3 .2-1.2 .1h-1.3l-1.2-.3-1.2-.1-1.3 .5-1.2-.4-1.3 .5-1.2 .1-.9 .2h-1.2l-.4-.1-1.2-.5-1.3 .2h-1.2l-1.2 .2-1.3-.5-1.2 .7-1.3-.4-1.1 .4h-.2l-1.1-.2-.7 .2-.6 .1-1.2 .1-.6-.2-.7-.4-1.2-.3-1.1 .7-.1 .1h-2.5l-1.3 .2-1.2 .2-1.2-.1-1.3 .1-1.2-.3-1.3-.1-2.4 .2-1.3-.1-1.2 .1h-1.3l-1.2 .2-1.2-.4-1.3 .3-1.2 .4-1.3-.3-2.4 .4-1.3 .1-1.2 .1-1.3-.4-1.2 .2-1.2-.1-1.3 .2-1.2-.7-1.3 .4-1.2 .2-1.2-.1-1.3-.1-1.2-.3-1.3-.3-1.2 .9-1.2-.1-1.3-.2-1.2 .2h-3.7l-1.3 .1-1.2-.1-1.3-.2h-1.2l-1.2-.1-1.3-.1-1.2-.1-1.3 .5h-1.2l-1.2-.2-1.3-.1h-1.2l-1.3 .1-1.2-.1-1.2 .1-1.3-.6-1.2 .8-1.3-.8-1.2 .4h-1.2l-1.3-.2-1.2 .3-1.3-.4-1.2 .4h-1.2l-1.3-.1-.6-.5 .6-1.6 .2-.7-.2-1.1-.1-1.1 .1-.8 .3-1.5-.3-1.2-.1-1-.8-2.2-.3-.4-1.3-1.7h-1.2l-1.2 .1-1-.3-.3-.2-.8 .2h-.5l.1-.2 .5-2-.5-1-1.3 .9-1.2-.8-.7 .9-.5 .4h-1.3l-.7-.4-.5-.9-.9-1.4-.4-.3-.2 .3-.7 2.3-.3 .2-1.2 .5-.9 1.5-.3 2.3 .2 2.2-.3 .2-.9 2 .9 1.9 1.2 .4-.1 2.2 .2 .3 2.4 1.4 .3 .6 1 1.2 1.2 .2 1.3-.2 1.2 .3 1.2 .7h.2l.1 2.3 .5 2.2 .3 2.3 .2 1.5 .1 .7 .5 2.3 .6 1.4 .2 .8 .3 2.2 .1 2.3 .4 2.2 .3 .4 .9 1.9 .3 .5 .8 1.7 .4 .9 .8 1.4 .5 1.1 .8 1.1 .4 .7 1.3 1.2 1.2 .2 1.2-1 .9-1.1 .4-.4 .4 .4 .8 1zM225.3 326.5l.3 .1 1.3 .5 1.2 .8 1.3-1.1 .1-.3 .9-2.2v-2.2l-.3-2.3-.3-2.2-.4-1.5-.5-.8-.8-.3-.3 .3-.9 1.7-.2 .6-1.1 2-.1 .2-.8 2.3-.3 1.5-.3 .7 .3 1zM219.2 324.3l.2 1 1.3 .8 1.2-1.4 .5-.4 .4-2.2v-2.3l-.9-2.2-1.2-.9-1-1.4-.3-.6-1.2 .2-.6 .4-.2 2.3 .6 2.2 .2 .1zM234.3 319.8v.2l1.3 1.4 .8-1.6 .4-.7 .4-1.5v-2.3l-.4-1.4-.9-.8-.3-.2-.2 .2-.8 2.2-.3 1.9-.1 .4zM359.4 299.6l.2 .3 .1-.3-.1-.4zM251.6 295.1l.1 .6 .4-.6-.4-.3zM394.1 286.1l.2 .7 .9-.7-.9-1zM384.2 274.9l.2 .4 .3-.4-.3-.3zM395.4 232.2l.1 .5 .3-.5-.3-1.9zM344.6 171.6l.1 .3 .1-.3-.1-.2zM265.3 158.3l.1-.2-.1-.1z"/>
<path fill="#d1ff26" d="M352.8 337.8l.6 .4h1.2l1.2-.6 .8 .2 .5 .1 1.2 .7 1.3-.2 1.2-.9 1.2-.7 1.3-.3 1.2 .3 1.3 .2 1.2 .6 .2 .2 1 .6 1.3-.1 1.2-.5 1.3-.1 .6 .1 .6 .2 .4-.2 .8-.7 1.3-.6 1.2 1.3 1.3 .3 .2-.3 1-1.2 1.2-1.1h.4l.9 .1 1.2 .1 .4-.2 .9-.4 1.2-.5 1.2-.4 .5-.9 .8-2.2v-.1l.6-2.2 .6-2.3 .6-2.2 .5-2.2 .2-.8 .2-1.5v-2.2l-.2-2.3 .6-2.2 .6-.9 .7-1.4-.7-.5-1.2-.5-1.3-.3-1.2-.5h-1.3l-2.4-.4-1.3-.1-.2 .1-1 .1h-1.3l-.8-.1-.4-.1-.8 .1h-2.3l-.6-.1-.2 .1-1.1 .2-2.4 .2-1.3-.1-1.2-.2-1.3 .1h-1.2l-1.2 .2-1.3-.2-1.2 .2-1.3-.1-1.2 .2-1.2-.1-1.3 .3-1.2 .1-1.3-.4-1.2-.1-1.2 .5-1.3 .1h-1.2l-1.3 .2-1.2 .2h-1.2l-1.3 .1-1.2-.2-1.3-.2-1.2 .1h-2.5l-1.2 .1-1.3 .1-1.2 .1-1.2-.3-1.3 .2-1.2 .3h-2.5l-1.2 .1-1.3 .2-1.2 .2h-2.5l-1.2-.1-1.3-.1-1.2-.2-1.3 .3-1.2 .1-1.2-.1-1.3-.1-1.2-.3-1.3-.1-1.2 .3h-1.2l-1.3 .1-1.2 .1-1.3-.1h-2.4l-1.3-.1h-2.5l-1.2-.2-1.2-.1h-2.5l-1.3 .3h-1.2l-1.2-.1-1.3 .2-1.2-.1-1.3-.2-1.2-.2-1.2 .1-1.3-.2-1.2 .4-1.3-.3h-3.7l-1.2 .1-1.3-.3-2.4 .4-1.3 .1-1.2-.1-.5-1.6 .4-2.3 .1-.4 .7-1.8 .3-2.3-.2-2.2-.8-1.8-.1-.4-1.2-1.7h-1.2l-1.2 .4-1.3-.1-1.2-.3-.8-.6-.5-.9-1.2-1.2-1.2 .9-1.3 .1-1.2-.2-1.1 1.3-.2 .2-.2-.2-1-.8-1.2 .5-.2 .3-.4 2.3 .6 1.4 .5 .8-.5 .6-1.3 1.2-.2 .4 .2 .4 1.3 1.1 .7 .8 .5 1.5 1.2 .5 .4 .2 .9 1.9 .6 .4 .6 .1 .7-.1 .6-.1 .2 .1 1 .3 1.2 1.1 1.3 .5 1.2 .1 1.3-.1 1.2 .1 1 .2-1 1.7-.3 .6-.3 2.2 .2 2.3 .4 .8 1.2 .9 .4 .5 .9 1.9 .1 .4 .4 2.2 .2 2.2 .5 .4 1.3 1 .5 .9 .6 2.2 .1 .7 1 1.6 .2 .2 .2-.2 .8-2.3 .3-.8 .8 .8 .4 .6 .3 1.7 .9 2.2 .1 .2v-.2l1.1-2.2 .1-.3 .3-2 .7-2.2 .2-.4 1.3-.5 .4 .9 .8 1.7 .6 .5 .7 .4 1.2-.6 .7-2 .4-2.3 .1-.5 1.3-1.5 1.2 .8 .7 1.2 .6 1.2 .5 1.1 .7 2.2 .8 2.3 .4 .8 1.3 .1 1.2-.2 1.3-.5 .2-.2 1-1.1 .7-1.2 .5-1 1.3-.2 1.2 1.2 1.3-.5 .2-1.7 .2-2.3 .8-1 .6 1 .6 1.4 .5 .9 .8 1.3 .5 .9 .4 2.3 .3 1 .7-1 .6-1.2 .5-1.1 .7-.7h1.2l1.1-1.5 .2-.2 1.1-2.1h.1l1.3-.6 1.2 .2 .2 .4 .2 2.3-.4 .9-.4 1.3 .4 1.5 1.2-.7 1.3-.3 1.2-.4 .1-.1 .9-2.2 .3-.4 1.2-.9 1.2 .3 1.1 1 .2 .2 1.2 1.5 .5 .5 .8 .9 1.2 .7 1.1-1.6 .1-.1 1.1-2.1 .2-.4 1.2-.9 1.2 1.3h.1l1.2 2.2v.1l1.2 1.5h1.3l1.2-.2 1.3 .9 1.2-.8 1.2 .2 1.3 .2 1.2-1.7 1.3 1.5 .2 .6 1 1.7 1.2-.1 1.3 .3 1.2 1.8z"/>
<path fill="#e4ff13" d="M369.3 335.5l.2 .1 .5-.1 .7-.2 1.3-1.9v-.1l.4-2.3 .8-.9 1.2-.2 1.3-.2 1.2 .8 .5 .5 .8 1 1.2-.1 1.2-.4 1.3 .3 1.2-.1 1.3-.5 1.2-1.2 .7-1.2 .5-1.1 .6-1.2 .7-2.1v-.1l.4-2.2 .5-2.3-.4-2.2-.5-2.3 1.2-2.2v-.1l1.3-1.4 .5-.8-.5-.2-1.3-.5-1.2-.5-1.3-.1-1.2-.3-1.2-.2h-1.3l-1.2 .1h-1.3l-1.2-.2-1.2 .1h-1.3l-1.2-.1-1.3 .3h-1.2l-1.2 .1h-1.3l-1.2-.2-1.3 .1h-1.2l-1.2 .2-1.3-.1-1.2 .1h-1.3l-1.2 .2h-1.2l-1.3 .3-1.2 .1-1.3-.3h-1.2l-1.2 .3-1.3 .2-1.2 .2-1.3 .1-1.2 .2-1.2 .1-1.3 .7-.6-.7-.6-.1-1.3-.2h-2.4l-1.3 .2-1.2 .1h-.8l-.5 .2-1.2-.1-.1-.1-1.1-.1-1.3 .1h-.1l.1 .3 .7 2v2.2l-.7 1.6-1.2-.5-1.3-.8-1.2 2-.5 2.2-.2 2.3-.1 2.2 .8 1.2 .4-1.2 .6-2.2 .2-.5 1.3-1.2 1.2-.4 .4-.2 .9-1 1.2-.7 1.2 .2 1.3 1.4v.1l.7 2.3 .5 2.1 .1 .1 1.2 2.1 .5 .1 .7 .2 .3-.2 .9-1.6 .2-.6 .8-2.2 .3-.3 .2 .3 1 1.2 .4 1 .9 1.7 .3 .5 .9 1.8 .4 .5 .8 .9 1.3-.2 1.2-.7 1.3-.9 1-1.4 .2-.2 .4 .2 .8 1 .9 1.3 .4 .9 1.2-2.7 .8-.5h.5l.5 2.3-.3 2.2 1 1.7 .6 .6 .6 .2 .6-.2 .7-.6 .8-1.7 .4-1.1 1.3-.7 .9 1.8 .3 .4 .9 1.9 .3 .7zM358.2 333.3l.1 .1 .2-.1-.2-.5zM314.9 319.8v.1l.1-.1zM272.2 315.3l.6 1.3 1.2-.6 1.2-.5 .2-.2 1.1-1.9 .2-.3-.2-.7-1.1-1.6h-.4l-1 .5-1.2 1.5-.3 .3zM284.6 313.1l.6 .3 1.2 1.5 1.2-1.8-1.2-2.2-1.2 .4zM262.2 308.6l.6 .5 1.3 .8 1.2 .2 1.3-.3 1.2-.2 1.1-1 .1-.1 1-2.2 .3-1.7 .2-.5 .4-2.3-.2-2.2-.8-2.2-.9-1.3-1.2 .1-1.2 .5-1.3 .3-1.2-.8-1.3-.8-.4-.3-.8-.8-1.2 .2-1.3 .2-.9 .4-.3 .3-1.3 .9h-1.2l-1.2 .7-.1 .4 .1 .1 1.2 1.6v.8l-1.2 1.3-.6 .6 .6 .6 1.2 1 .6 .7 .6 .6 1.3 1.2 .3 .4 .9 1.6h2.5z"/>
<path fill="#fbf100" d="M369.1 326.5l.4 .6 1.2-.8 1.3-1.1 1.2 .6 1.2 .4 1.3-.8h1.2l1.3 1.3 1.2 .2 .4-.4 .8-1.1 .7-1.1 .6-1.2 1.2-.8 1.3-.2 .6-2.3 .3-2.2 .3-1.6 .1-.7 1.1-1.3 .6-.9 .7-.5 1.2-1.3 .4-.5-.4-.1-1.2-.6-1.3-.2-2.4-.4-1.3-.1-1.2 .1-1.3-.1-1.2-.2-1.2 .1-1.3 .1-1.2-.1-1.3 .2-2.4 .2-1.3-.1-1.2-.1-1.3 .1-1.2 .1-1.2 .2-1.3-.1-1.2 .1-1.3-.1-1.2 .3-1.2 .1-1.3 .2-1.2 .2-1.3-.1h-1.2l-1.8 .3 .6 1.7 .2 .6 1.1 2.2 .6 2.3 .5 1.3 1.3 1.3 1.2 .2 1.3 .8 1.1 .9h.1l1.2 .4 .9-.4 .4-.2 1.2 .1 .2 .1 1.1 .5 1.2 .6 .8 1.1 .4 .9zM263.1 308.6l1 .7 1.2 .3 1.3-.4 2.4-1.2 .7-1.7 .4-2.2 .2-1.2 .2-1.1-.1-2.2-.1-.3-.6-1.9-.7-1-1.2 .2-1.2 .8-1.3 .6-.4-.6-.8-.7-1.3-.3-1.2-.9-1-.4h-.4l-1.1 .6-1.2 1-1.3 .6v.1l-.7 2.2-.3 2.2 1 1.3 .4 1 .9 1.1 .7 1.1 .5 .9h1.3l1.2-.2 1.2 1.3z"/>
<path fill="#ffdb00" d="M360.8 317.6l1.2 .6 1.3-.6 1.2-1.5 .6-.8 .7-.6 2.4 .2 1.3-.4 1.2-.5 1.3-.2 1.2 .2h1.2l1.3-.1 1.2 .4 1.3 .5 1.2 .1 1.2-.5 1.3-.7 1.2-.4h1.3l.5-.2 .7-.2 1.2-.7 1.3-1 .3-.4-.3-.1-1.3-.4-2.4-.4h-2.5l-1.3-.1-1.2-.2-1.2 .1h-2.5l-1.3 .2h-1.2l-1.2 .1h-1.3l-1.2-.1-1.3 .1-1.2 .2-1.2 .1h-3.8l-1.2 .2-1.2 .3h-.3l.3 1 .3 1.3 .4 2.2zM263.9 308.6l.2 .1 1.2 .4 1.2-.5h.1l1.2-.5 1.2-.7 .5-1.1 .4-2.2 .3-2.3v-2.2l-.8-2.2-.4-.6-1.2 .3-.5 .3-.7 .4-1.3 1.1-1.1-1.5-.1-.2-.9 .2h-.5l-1.1-1-1.2-.5-1.3 1.1-.4 .4-.8 .6-1.3 .6-.3 1 .3 1.7 .2 .5 .8 2.3 .3 .4 1.1 1.8 .1 .2h1.3l.6-.2 .6-.3 .3 .3 .9 1z"/>
<path fill="#ffc100" d="M379.4 313.1l1.2-.4 1.3-.4 1.2-.2 1.3-.1 1.2-.4 1.2-.7 .2-.1h-.2l-2.4-.4-1.3-.1h-1.2l-1.3-.1-1.2-.2h-1.2l-1.3 .1h-1.2l-1.3 .1-2.4 .2-1.3-.1h-1.2l-1.3 .1-1.2 .2-1.2 .1-1.3 .1h-2.5v.1l1.3 .6 1.2-.3 1.3 .1 1.2 .5 1.2 .8 1.3 .1 1.2-.3 1.3-.1 1.2 .1h1.2l1.3 .1 1.2 .2 1.3 .3zM262.8 306.3l1.3 1.8 1.2 .4 1.3-.4 1.2-.5 1.2-.7 .3-.6 .3-2.2 .5-2.3v-2.2l-.9-2.2-.2-.3-.7 .3h-.5l-1.2 .9-1.2 1.3-.1 .1h-1.2l-.2-.1-1.1-1.2-1.2-1-1.2-.6-.7 .6-.6 1.1-1.2 .9-.6 .2 .2 2.2 .4 1.3 1.2 .8 .1 .2 1.2 1.5 1.2-.6z"/>
<path fill="#ffa700" d="M368 310.8l.2 .2 1.3 .4 1.2-.1 1.3-.1 2.4 .2 1.3 .1 1.2 .3 1.3 .3h1.2l1.2-.5 1.3-.4 1.2-.2 1.1-.2-1.1-.1h-1.2l-1.3-.2-1.2-.2h-1.2l-1.3 .1-1.2 .1-1.3 .1-1.2 .1h-2.5l-1.2-.1-1.3 .2zM263.3 306.3l.8 1.2 1.2 .5 1.3-.4 1.2-.5 1.2-.7 .1-.1 .2-2.2 .7-2.3v-2.2l-1-2.2-1.2 .2-1.2 1.1-.8 .9-.5 .4-1.2 .3-1.1-.7-.2-.1-1.2-1.2-1.2-.3-1 1.6-.3 .7-.7 1.5 .7 .9 .9 1.4 .4 .5 1.2-.6 1.2 .6z"/>
<path fill="#ff9100" d="M376.7 310.8l.2 .1 1.3 .3h1.2l.8-.4-.8-.1h-1.2l-1.3 .1zM263.7 306.3l.4 .6 1.2 .6 1.3-.4 1.2-.4 .5-.4 .7-2 .1-.2 .8-2.3v-2.2l-.9-1.9-1.2 .1-1.2 1.4-.4 .4-.9 .8-1.2 .4-1.3-.4-.7-.8-.5-.5-.9 .5-.3 .4-.9 1.8 .9 1.4 1.2-.6 1.2 .8 .2 .7z"/>
<path fill="#ff7700" d="M264.2 306.3l1.1 .8 1.3-.4 .8-.4 .4-.4 .8-1.8 .4-.3 .8-2-.1-2.2-.7-1.6h-1.2l-1.2 1.6-1.3 1.1-1.2 .6-1.3 .1-.6 .4 .6 .5 .5 1.8 .8 2.2z"/>
<path fill="#ff6000" d="M265 306.3l.3 .3 .8-.3 .5-.2 1.2-1.4 .3-.6 .9-.6 .6-1.7v-2.2l-.6-1.3-1.2-.1-1.1 1.4-.1 .9-1.3 .6-1.2 .7v.1l-.5 2.2 .5 1.4z"/>
<path fill="#ff4700" d="M263.8 304.1l.3 .7 1.2 1.1 1.3-.5 .9-1.3 .3-.2 1.2-.7 .5-1.4v-2.2l-.5-1.1-1.2-.1-.9 1.2-.3 1.8h-1.3l-.6 .4-.6 1.2z"/>
<path fill="#ff3000" d="M264.1 304.1l1.2 1.1 1.3-.5 .4-.6 .8-.5 1.2-.7 .4-1.1v-2.2l-.4-.8-1.2-.2-.8 1-.4 2.2v.8l-.9-.8h-.5z"/>
<path fill="#ff1600" d="M264.9 304.1l.4 .4 1-.4-1-.9zM266.8 301.8l1 1.5 1.2-.8 .3-.7v-2.2l-.3-.5-1.2-.3-.6 .8z"/>
<path fill="#e40000" d="M267 301.8l.8 1.2 1.2-.8 .2-.4v-2.2l-.2-.3-1.2-.3-.5 .6z"/>
<path fill="#c80000" d="M267.2 301.8l.6 .9 1.2-.8 .1-.1-.1-2.2-1.2-.4-.3 .4z"/>
<path fill="#a80000" d="M267.4 301.8l.4 .6 .9-.6-.2-2.2-.7-.2-.2 .2z"/>
<path fill="#8d0000" d="M267.6 301.8l.2 .3 .4-.3-.3-2.2h-.1z"/>
<path fill="#66ff90" d="M385.3 623h3l.3-2.2 .7-.6 1.3-.9 .9 1.5 .2 2.2h9.6l.4-.9 1.1-1.3 .2-.2 .4 .2 .8 .2 1.2 1.3 .4 .7h70.9l.1-2.2 .1-2.3 .5-1.2 .4 1.2 .3 2.3 .5 1.1 1.2-.1 1.2-1 .1-.1 .9-2.2 .3-.3 .2 .3 .2 2.3-.4 1.8-.2 .4h2.5l.2-.9 .2-1.3 .8-2.3 .2-.4 .5-1.8 .5-2.3 .2-2.2 .1-.7 .2-1.6 .3-2.2 .4-2.3 .3-1.1 1.3 1.1 .1 2.3 .4 2.2 .7 1.3 .3-1.3 .4-2.2 .5-1.6 1.1-.7 .2-.3 .2 .3 .6 2.3v2.2l.1 2.3 .1 2.2-1 1.9-.2 .4-.5 2.2 .1 2.3 .6 2.1 .6-2.1 .5-2.3 .1-1.2 .1-1 .1-2.3 .2-2.2 .3-2.3 .2-2.2 .4-1.1 .2-1.2 1-1.7 .5-.5 .2-2.3-.1-2.2 .1-2.3 .5-1.7 .4-.5 .4-2.2 .5-2 .3 2v2.2l-.3 2.2v.2l-.4 2.1-.1 2.2-.2 2.3-.6 2.2v.2l.2 2.1 .1 2.2 .1 2.3 .1 2.2 .4 2.3 .4 .4 1.2-2.4 .3-.3 1-1.8 .1-.4 .4-2.3 .3-2.2 .4-1.3 .2-1 .5-2.2 .5-2.3v-.3l.3-1.9 .1-2.3 .6-2.2 .3-.8 .2-1.4 .2-2.3 .2-2.2 .4-2.3 .2-.8 .4-1.4 .3-2.3 .2-2.2 .4-1.6 1.1 1.6 .1 .7h1.2l.4-.7 .6-2.3 .3-.7 .1 .7 .1 2.3-.2 2-.2 .2-.2 2.3-.1 2.2-.1 2.3v2.2l.1 2.3 .5 1.3 .5-1.3 .7-1.8 .2-.5 .2-2.2-.4-2v-1l.2-1.5 .6-2.3 .5-1.5 .2-.7 1-1.5 .5-.8 .4-2.2 .3-1.8 .3 1.8 .4 2.2 .1 2.3 .1 2.2 .1 2.3 .3 2.2h0l.6-2.2 .3-2.3 .3-1.3 .6-.9 .7-2.2v-.2l-.2-2.1 .2-.7 1.2 .6 .5-2.2v-2.2l.4-2.2 .3-.4 .5 .4 .4 2.2 .4 2 1.2-.3 1 .5 .3 .1v-.1l.4-2.2 .2-2.2 .5-2.3 .1-.6 .1-1.6 .5-2.3 .6-.6 .4-1.6 .3-2.3 .6-3.3 .3-1.2v-2.2l.2-2.3 .5-2.2 .2-1.1 1.3 .8v3.1l-.1 1.7-.3 2.2-.6 2.3-.3 1.3-.1 .9 .1 2.3v.4l.6-.4 .7-.4 .9-1.9 .3-.7 .2 .7 .6 2.3 .3 2.2 .1 1.3 .2 1 .3 2.2 .5 2.3 .3 .8 .2-.8 .4-2.3 .4-2.2 .2-1.2 .3-3.3 .6-2.3 .4-2.1v-.1l1.2-1.5 .8-.8 .4-.8 .4-1.4 .9-2 1.2 1.7 .8-2 .5-.9 1.2-.1 .3 1 .5 2.3 .1 2.2-.1 2.3-.3 2.2-.2 2.3-.1 2.2-.2 1.2-.3 1.1-.3 2.2-.2 2.3-.2 4.4-.2 1.8-.1 .5-.2 2.2-.1 2.3 .2 2.2 .2 .7 .1-.7 .5-2.2 .3-2.3 .3-.6 .3-1.6 .6-2.3 .3-1.1 .4-1.1 .6-2.2 .3-1.7 .1-.6 .4-2.2 .5-2.3 .2-.8 .4-1.4 .6-2.3 .3-.4 .7-1.8 .4-2.3 .1-.5 .3-1.7 .4-2.3 .5-2.1 .3-.1 1-.8 1.2-.5 1.3 .4 .3 .9 .2 2.2 .1 2.3 .6 2.2 .9-2.2 .3-1.5 .5-.8 .8-1 1.2 .5 .2 .5 .4 2.3 .3 2.2 .4 1.5 1.2-.3 .3-1.2 .6-2.2 .3-1.2 .3-1.1 .5-2.2 .4-2.2 .1-.2 .9-2.1 .3-1.5 .5-.7 .8-1.2 .2 1.2v2.2l-.1 2.3v2.2l.7 2.2 .4 .4 .8 1.9 .4 1 1.3 .1 1.2-.4 .5-.7 .8-1.6 .1-.7 1.1-2.2 .4-2.2v-4.5l.2-2.3 .6-2.2h.1l.8-2.3 .3-2.2 .1-.6 .7 .6 .2 2.2-.2 2.3-.1 2.2v2.3l-.1 2.2v2.3l-.4 4.4 .1 2.3 .1 2.2 .9 1.9 .4-1.9 .5-2.2 .4-1.9v-.4l.5-2.2 .7-1.5 .7-.7 .5-1.3 .5 1.3 .4 2.2 .4 1.1 1.2-.7 1.2-.4h.1l1-2.2 .2-.9 .6-1.4 .6-.4 .3-1.8 .2-2.3 .1-2.2 .6-2.3 .1-.1 .5-2.1 .1-2.3 .4-2.2 .2-.8 .3 .8 .2 2.2v2.3l-.1 2.2-.2 2.3-.4 2.2v2.3l.2 2.2v.6l.5 1.7 .6 2.2 .2 .8 1.2 1 1.2-.6 .4 1 .1 2.3 .1 2.2 .6 2.3 .1 .1 .5 2.1v2.3l-.5 2.2-.1 2.3 .1 1 .1 1.2 .2 2.3 .2 2.2 .7 2.2h0l.5-2.2 .7-2.2 .1-.2 .5-2.1 .4-2.2 .3-.8 .5-1.5 .7-2.2v-.2l.8-2.1 .5-.9 .8-1.3 .4-1.7 1.3 .3 .5 1.4 .6 2.2 .1 .1v-.1l.4-2.2 .5-2.3 .3-1.1 1-1.1 .3-.3 .3-2 .4-2.2 .3-2.2 .2-1.4 .5 1.4 .3 2.2v2.2l-.2 2.3-.2 2.2-.4 1.6-.1 .7v2.2l-.1 2.3 .2 2.1 .6-2.1-.1-2.3 .8-1.4 .3-.8 .6-2.3 .3-2.2v-.1l.1 .1 .8 2.2 .1 2.3 .2 .6 .4-.6 .9-1.3 .8 1.3 .4 .8 .5-.8 .8-1.9 .4 1.9 .7 2.2 .1 .1 1.2 .2 .6 2 .7 1.5 .4-1.5 .6-2.3 .2-.4 .4-1.8 .3-2.3 .3-2.2 .3-1.3 .1-1 .5-2.2 1.1-2.2 .5-2.3 .1-2.2 .1-1.2 1.3-.2 .2-.9 .5-2.2 .5-1.7 .5 1.7 .1 2.2 .1 2.3-.1 2.2-.2 2.3-.4 .8-.2 1.4-.1 2.2v2.3l.1 2.2 .2 1 .5-1 .8-4.4 .3 2.2 .9 2.1 1.2 .1 .3 2.3 .2 2.2 .2 2.3 .6 1.5 .5-1.5 .4-2.3 .3-1.1 .7-1.1 .6-1.9 .5 1.9 .6 2.2 .1 .6 .1-.6 .9-2.2 .2-.4 .5 .4 .8 .3 .1-.3 .5-2.3 .6-1.3 .5-.9 .8-1.7 .2-.6 .8-2.2 .2-.6 .1 .6 .2 2.2v6.8l-.3 1.6-.1 .6-.2 2.3 .2 2.2 .1 .7 .1-.7 .8-2.2 .3-.7 .6-1.6 .6-2.2 .1-.3 1.2-.4v1l-.2 1.9-.1 2.3v2.2l.3 1.6 1.3-.5 .4-1.1 .5-2.2 .3-1.1 .3 1.1 .7 2.2 .2 .3 .1-.3 .6-2.2 .2-2.3 .4-1.2 1-1 .2-1.7 1.3 .3 .3-.9 .6-2.2 .3-.5 .9-1.8 .3-.4 1.2-1.8 .1-.1v.1l.4 2.2 .1 2.3-.2 2.2-.2 2.3-.1 2.2v.1l-.4 4.4v2.3l.4 2.2 .4 2.3v2.2l.2 2.2 .6 1.6 .4-1.6 .3-2.2 .1-2.2 .5-2.2v-.1l1-2.2 .2-2 1.2 2v2.2l-.2 2.3 .2 2.2v.2l.1-.2 .3-2.2-.1-2.3 1-.4 .4-1.8 .4-2.3 .3-2.2 .1-.9 1.3-2.6 1.1 1.2 .1 .4 .2-.4 1-.9 .6-1.3 .4-2.3 .3-1.6 1.2 .7 .2 .9 .4 2.3 .3 2.2 .4 1.2 .1-1.2 .8-2.2 .3-.5 .3-1.8 .3-2.2 .3-2.3 .3-.9 1.2-1.3 .1-.5 .1 .5 .6 2.2 .5 1.7 .1 .6 .4 2.2 .1 2.3 .2 2.2 .5 .9 .5 1.4 .4 2.2 .3 1.8 1.2 .2 1.3-.5 .2-1.5 .2-2.2 .4-2.3 .4-2.2 1.1-2.3 .2-.5 .9-1.7 .3-1.2 .7-1.1 .4-2.2 .1-.3 1.3-.2 .3 .5 .2 2.2-.1 2.3 .1 2.2 .4 2.3 .3 2.2v.2l.1-.2 .5-2.2 .7-2.2v-.1l1.2-1.6 .5 1.6 .7 1 .7 1.3 .5 2.2 .1 .6 .4 1.7 .8 2.1 .1 .1-.1 .6-.1 1.7 .1 .9 .5-.9 .8-.4 .7-1.9 .5-1.6 .1-.6 .5-2.3 .6-2.2v-.1l1.3-1.2 .9-1 .3-.3 .4 .3 .9 1.3 .1 1-.1 2.1-1.3-1.4-.2 1.5-.1 2.3 .1 2.2 .2 1.3 1.2-1.3 .1-.2 .1 .2 1.1 .4 1.2 .4 .1 1.5-.1 .2-.3 2-.3 2.3v2.2l.1 2.2v2.3l-.2 2.2-.2 2.3 .9 .4 .1-.4 .1-2.3 .3-2.2 .8-1.6 .3-.7 .3-2.2v-2.2l.3-2.3 .3-.6 1.3 .3 1.2-1.3 .2-.6 1-2.3v-.1l1.3-.7 .5-1.4 .7-2.3 1.3-2.2 .3-2.3 .6-2.2 .3-.7 .3-1.6 .2-2.2 .4-2.2 .3-1.5 .2-.8 .4-2.2 .3-2.3 .3-2.2 .1-.4 .4-1.9 .2-2.2 .2-2.3 .4-2.1 .1-.1 .5-2.3 .4-2.2 .1-2.3 .2-2v-.2l1.1-2.2 .1-.4v.4l.2 2.2 .1 2.2-.2 2.3-.1 1.2-.3 1-.3 2.3-.1 2.2-.3 2.3-.2 1.3-.4 .9-.3 2.3-.1 2.2v2.3l-.1 2.2-.3 2.3-.1 .6-.2 1.6-.1 2.2-.1 2.3-.3 2.2-.5 2-.1 .3-.2 2.2-.1 2.3 .1 2.2 .3 1 1.2 .7 .2 .6 .8 2.2 .3 .3 .2 2 .2 4.4v2.3l-.4 1.7-.1 .5-.3 2.3 .1 2.2 .1 2.3 .2 2v-2l.5-2.3 .7-1.8 .2-.4 .1-2.3 .3-2.2 .6-2.3v-.1l.5-2.1 .4-2.2 .4-1.7 .2-.6 1-2.2v-.2l.8-2.1 .5-2.1 .3 2.1v4.5l.1 2.3 .2 2.2 .6 2.1 .7-2.1 .5-2 .2-.2 1.1-1.6 1.2-.2 1.2 1.8 .1 1 .4-1 .8-.3 1.2-1.1 1.1 1.4 .2 2.2h0l.1-2.2 1.1-1.3 .7-1 .6-1.5 .6 1.5 .6 2v.3l.1 2.2 .2 2.2-.3 1.3-.3 1-.3 2.2v2.3l.3 2.2 .3 1.2 .3-1.2 .5-2.2 .1-2.3 .3-.9 .4-1.3 .4-2.3 .4-2.2 .1-.6 1.2-.9 .2 1.5 .1 2.2-.1 2.3-.2 2.2-.2 2.3 .1 2.2-.1 2.3-.1 2.2-.1 2.3 .1 2.2 .3 .6 .1-.6 .3-2.2 .1-2.3 .6-2.2 .2-.1 .4-2.2 .5-2.2 .3-1.9v-.4l.4-2.2 .4-2.3 .3-2.2 .1-.6 .4-1.6 .5-2.3 .4-1.9 .6 1.9 .2 2.3-.1 2.2-.2 2.2-.3 2.3-.2 1.2-.1 1v4.5l.1 2.3 1.2 1.3 .7-1.3 .4-2.3 .2-1.2 .3-1 .5-2.3 .4-1.3 .3 1.3 .4 2.3 .5 1.1 1.3-1.3 .1 .2 1 2.2 .1 .2 1.3 1.2 .1-1.4 .4-2.2 .4-2.3 .3-.9 .5-1.3 .7-1.6 .5-.7 .8-1.6 .4 1.6 .4 2.3v2.2l-.1 2.3-.2 2.2-.2 2.3v2.2l.1 2.3 .1 2.2v2.3l-.3 2.2-.2 .8-.3 1.4-.2 2.3 .2 2.2 .1 2.3 .2 .7 .1-.7 .4-2.3 .7-2 .1-.2 .4-2.3 .6-2.2 .2-.6 .5-1.6 .4-2.3 .3-2.2v-.1l.1 .1 .9 2.2 .2 .7 .2 1.6 .1 2.2 .2 2.2-.1 2.3-.1 2.2v2.3l.1 2.2 .1 2.3 .7 2.2 .1 .2 .1-.2 1.1-1.8 .1-.4 .3-2.3 .1-2.2 .2-2.3 .6-2v-.2l.4-2.3 .5-2.2 .3-1.7 .1-.5 .4-2.3 .4-2.2 .3-1.7 .2-.6 .4-2.2 .4-2.3 .3-1.6 .1-.6 .4-2.3 .4-2.2 .3-2 .5 2 .1 2.2 .1 2.3-.2 2.2-.5 2.2v.1l-.4 2.2v4.5l.3 2.3 .1 1.3 .2 .9 .2 2.2 .2 2.3 .1 2.2 .5 2.3 .1 .4 .5-.4 .7-.4 .5 .4 .4 2.2-.3 2.3-.3 2.2 .9 .9 .6-.9 .1-2.2-.2-2.3 .8-1.3 .3 1.3v2.3l-.1 2.2-.2 1.6-.3 .7-.3 2.2-.3 2.3v2.2l.2 2.3 .7 1 .5-1 .4-2.3 .2-2.2 .1-.9 .3-1.4 .7-2.2 .2-2.3v-2.2l.1-.3 .1 .3 2.2 2.2 .1 .4 .3 1.9 1 2.1 .7-2.1 .2-2.3 .3-1.7 1.3 1 .5 .7 .4 2.3v2.2l1.5 2 .1 .3 .1 2.2 .1 2.3v2.2h3.2l.3-1 .1-1.2 .6-2.3 .5-1.8 .1-.4 .2-2.3 .3-2.2 .3-2.3 .3-2.2v-.2l.6-2.1 .3-2.2 .1-2.3 .2-2.2 .1-.2 1.2-.3v1.1l-.2 1.6-.2 2.3-.1 2.2-.1 2.3-.1 2.2-.1 2.3 .1 2.2v2.3l-.1 2.2-.1 2.3-.2 2.2h8.1l.4-2.2 .1-.4 .2 .4 .1 2.2h37.6l.2-2.2 .2-2.3 .1-.8 .2 .8 .1 2.3v2.2h7.9l.5-.8 .4-1.4 .2-2.3 .1-2.2 .4-2.3 .1-.2 .9 .2 .4 .4 .2 1.9 .5 2.2-.2 2.3-.1 2.2h4.9v-2.2l.2-2.3 .4-2.2 .3-1.4 .1-.9 .3-2.2 .4-2.3 .4-1.9 .1-.3 .2-2.3 .3-2.2 .6-2.2 .4-.1 .4-2.2 .5-2 .4 2-.3 2.2-.1 1-.2 1.3 .2 2.1v.5l-.1 1.9-.1 2.2 .1 2.3v2.2l-.3 2.3-.1 2.2 .4 2.3 .1 .2 .1-.2 1.1-1.2 .6-1.1 .4-2.2-.1-2.3 .2-2.2 .2-.8 .4-1.5 .3-2.2 .3-2.3 .2-1.2 .3-1-.1-2.3-.2-2.2 .1-2.3 .5-2.2 .4-2.2 .2-1.4 .1-.9 .2-2.2 .2-2.3 .2-2.2 .6-1.2 .1-1.1 .3-2.2 .3-2.3 .3-2.2 .2-1 .2-1.3 .3-2.2 .5-2.2 .3-.7 .2-1.6v-2.2l-.1-2.3-.1-2.2v-.7l-.3 .7-1 1.5-.1-1.5v-2.3l.1-2.2v-.2l1-2.1 .1-2.2 .2-1.3 1 1.3 .2 .3v-.3l.4-2.3 .3-2.2-.1-2.2-.6-1.5-.2-.8-.2-2.2v-2.3l.2-2.2 .2-1.6 .5-.7 .7-1.8 .2-.4 .2-2.3-.1-2.2-.3-2v-.7l.2-1.8 .2-2.3 .1-2.2 .3-2.2 .5-1.4 .4-.9 .7-2.2 .1-.8 .1-1.5 .1-2.2v-2.3l.1-2.2 .2-2.3v-2.2l-.5-1.8-.1-.5-1.1-1.6-.9 1.6-.4 2.3-.8-2.3-.4-.8-.5-1.4-.7-1.3-.2-1v-2.2l.1-2.2 .1-.1 .1 .1 1.1 1.4 .7-1.4 .5-1.4 .2-.9v-2.2l-.2-.9-.3-1.4-.1-2.2-.1-2.3v-2.2l.1-2.3 .2-2.2v-2.3l.2-1.2 .5-1 .2-2.2v-4.5l-.1-2.3 .7-1.5 .5-.7v-2.3l-.3-2.2-.1-2.3 .1-2.2-.2-1.1-.3 1.1-.3 2.2-.7 .6-.2 1.7-.1 2.2-.4 2.3-.5 .8-.6 1.4-.1 2.3-.5 1.8-.5-1.8 .1-2.3 .2-2.2 .2-1 .2-1.3 .1-2.2 .1-2.3 .2-2.2 .6-2.3v-2.3l-1.2-.8-1.3 .3-.1 .6-.4 2.2-.3 2.3-.4 1.7-.1 .5-.2 2.3-.2 2.2-.5 2.3-.3 1-.3 1.2-.3 2.3-.5 2.2-.1 .3-.8 2 .1 2.2 .2 2.2 .1 2.3-.7 2.2-.1 .2-.2-.2-1.1-2.2 .7-2.3 .2-2.2 .1-2.2 .1-2.3v-4.5l.1-2.2 .1-.9v-1.4l.1-2.2 .2-2.3v-2.2l-.3-2-.2-.3-.7-2.2-.1-2.2-.3-2.3v-.1l-.5-2.1-.3-2.3-.4-2.2h0l-.4 2.2-.7 2.3-.2 .2-1.2 .4-.3-.6-.9-.6-.8 .6-.5 .6-.4-.6-.2-2.3-.1-2.2-.2-2.3v-2.2l-.1-2.3-.2-2.2v-.6l-.1 .6-.3 2.2-.2 2.3-.7 1.9v.3l-.7 2.3-.5 1.4-.7 .8-.5 1.5-.7-1.5-.2-2.2 .1-2.3-.3-2.2-.2-.5-.3 .5-.9 1.7-.4-1.7-.3-2.3v-2.2l-.3-2.3-.3-.5-.2 .5-.2 2.3v2.2l-.3 2.3-.5 .5-.4 1.7-.3 2.3-.4 2.2-.1 .9-.4 1.4-.2 2.2-.2 2.3-.3 2.2-.2 1.1-.4 1.1-.3 2.3-.2 2.2-.3 1.7-.6 .6-.7 .9-.2-.9-.1-2.3 .1-2.2v-2.3l.4-2.2 .3-2.2 .2-2.3 .4-2.2 .2-.5 .3-1.8 .1-2.2-.3-2.3-.1-.5-.4 .5-.9 1.4-.5-1.4-.7-1.2-1.1-1-.1-.4-.4-1.9-.3-2.2-.6-.9-.3 .9-.6 2.2-.3 .6-1.3 .5-.1-1.1 .1-2.2v-1.4l.1-.9 .1-2.2 .1-2.3 .2-2.2 .1-2.2-.2-2.3-.4-1.2-.2 1.2-.3 2.3 .2 2.2-.1 2.2-.8 .7-.5 1.6-.4 2.2-.3 2.3v.4l-.6 1.8-.4 2.3-.2 2.2-.1 .5-.5 1.8-.6 2.2-.1 .3-.1-.3-.5-2.2-.1-2.3 .5-2.2 .2-1.3 .2-1-.1-2.2-.1-2.3 .1-2.2v-6.7l-.1-.7-.1 .7-.3 2.2-.9 1.1-.5-1.1-.2-2.2-.5-1.3-.2 1.3-.2 2.2 .1 2.2 .3 1.3 .1 1-.1 2.2v.2l-.1-.2-1.1-1.6-.4 1.6-.6 2.3-.3 .8-1.2-.8-1.3 .2-.2-.2-.9-2.3-.1-.2-.1 .2-.6 2.3-.5 1.4-.6-1.4v-2.3l-.1-2.2v-2.3l-.2-2.2-.3-2.2-.1-.5v.5l-.7 2.2-.5 .3-.9 1.9-.1 2.3-.1 2.2-.2 1.6-1.2-1.1-1.2 .2-.6 1.6-.7 2-.3 .2-.9 1.6-.1 .7-1.2 1.6-.1 .6-.2 2.3-.2 2.2-.7 2.2v.1l-.8 2.2-.2 2.3-.2 1.7-.6-1.7 .1-2.3-.1-2.2v-4.5l.1-2.3 .5-2.1v-.1l.3-2.3 .1-2.2-.1-2.3-.1-2.2v-4.5l-.2-1.6-.5 1.6-.3 2.2-.5 1.5-.6-1.5 .1-2.2-.1-2.2-.2-2.3-.4-2-.8 2-.5 1.1-.6 1.2-.6 1.3-.3-1.3v-2.3l-.4-2.2-.5-1.9-1.1 1.9-.2 .6-.4 1.6-.6 2.3-.2 .6-.1-.6-.1-2.3-.1-2.2 .3-1.7 .3-.6 .1-2.2-.1-2.3-.3-.9-.4 .9-.2 2.3-.7 1.3-.5 .9-.7 1.6-1.2-.1-1.3-1.1-1.2 1.7-.1 .2-.6 2.2-.6 1.4-.8-1.4-.4-1.5-.1-.7 .1-.5 .2-1.8-.2-1.4-.1-.8-.3-2.3-.2-2.2v-2.3l-.4-2.2-.2-.4-.1 .4-.2 2.2-.4 2.3-.3 2.2-.3 1.5-.3 .8-.9 2.2v.3l-.1-.3-.8-2.2-.4-1.2-.2 1.2-.2 2.2-.8 2.1-1.2-.8-.3-1.3-.3-2.2-.7-1.9-.3 1.9-.7 2.2-.2 .6-.6 1.7-.7 2.2-1-2.2-.2-.6-.2-1.7v-4.5l-.4-2.2-.6-2.3v-.3l-.2 .3-1.1 1.3-.4 1-.5 2.2-.3 .9-1.3 .4-.1-1.3-.1-2.2 .1-2.3 .1-2.2-.1-2.3v-2.2l-.1-2.3 .2-2.2 .4-2.2 .2-2.3v-2.2l-.2-2.3-.3-2.2-.1-.6v.6l-.2 2.2-.3 2.3-.6 2.2-.1 1-.1 1.3-.2 2.2-.3 2.2-.4 2.3-.2 1.2-.2 1-.3 2.3-.5 2.2-.3 1.3-.2 1-.3 2.2-.4 2.3-.3 1.3-.8-1.3-.4-2.3-.1-.4-.4-1.8 .1-2.3 .1-2.2 .1-2.3-.2-2.2-.9-.7-.2 .7-.2 2.2-.2 2.3-.3 2.2-.3 1.6-.2 .7-.4 2.2-.3 2.3-.4 1.2-.6-1.2-.3-2.3-.1-2.2 .1-2.3 .1-2.2-.2-2.3-.2-.5-.2 .5-.2 2.3-.4 2.2-.5 .5-.4 1.8-.1 2.2-.2 2.3-.5 1.8-.9-1.8-.2-2.3-.1-2.2v-2.3l.1-2.2-.1-.5-.7-1.8-.6-.7-.3-1.5-.4-2.3 .1-2.2 .3-2.2v-2.3l-.9-1.1-.2 1.1-.1 2.3-.1 2.2-.9 2.1v.1l-.3 2.3-.4 2.2-.5 1.7-.2 .6-.5 2.2-.4 2.3-.1 1-.2 1.2-.3 2.3-.4 2.2-.4 1.6-.2 .7-.2 2.2-.2 2.3-.4 2.2-.2 1-.6-1-.5-2.2-.1-2.3 .1-2.2 .2-2.3 .3-2.2 .2-2.3 .4-2.2 .2-2.3v-2.2l-.2-2.3v-.8l-.8 .8-.5 .3-.8 2-.4 1.6-1.2-.1-.8-1.5-.5-1.1-1-1.2h-.2l-.5 2.3-.6 2.2-.2 1-.2-1-.9-2.2-.1-.2-1-2.1-.2-.3-.3 .3-1 2.1-.2-2.1-.3-2.2-.7-2.1-1.3 .4-1-.6-.2-.1-.1 .1-.9 2.3-.2 .4-1.3 1-1.1 .8-.1 .2-.4 2.1-.9 1.5-1 .7-.2 .9-.1-.9-.3-2.2-.4-2.3-.3-2.2-.1-2.3 .6-2.2-.6-.5-.8 .5 .6 2.2-.2 2.3-.9 2.2-.3-2.2-.1-2.3 .2-2.2-1-1-1.3 .5-.7-1.7v-2.3l.2-2.2 .1-2.3-.1-2.2v-2.3l.1-2.2-.8-1.1-.3 1.1-.2 2.2-.6 2.3-.1 .3-.7 1.9-.6 2.3v.1l-1.1 2.1-.1 .1-.7 2.2-.6 1.5-.1 .7-.5 2.2-.4 2.3-.2 1.4-.1 .8-.4 2.3-.4 2.2-.3 1.5-.4 .8-.3 2.2-.6 1.6-.4-1.6-.2-2.2 .1-2.3 .5-2.2v-.7l.1-1.6-.1-.6-.1-1.6v-2.3l.1-1.4 .1-.8v-4.5l-.1-1.2v-4.8l.1-.7 .1-2.3v-4.5l.1-2.2 .1-2.3 .1-2.2-.5-1.7-.8-.5-.2-2.3-.2-1.4-.2 1.4v2.3l.2 2.2-1.3 1.3-.4 .9-.3 2.3-.4 2.2-.1 .3-.3 2-.2 2.2v2.3l-.1 2.2-.5 2.3-.1 .5-.5 1.7-.7 2.3-.1 .3-.3 1.9-.2 2.2-.6 2.3-.1 .6-.2 1.6-.2 2.3-.4 2.2-.5 2.3-.8 2.2-.4 1.4-.2-1.4 .1-2.2 .1-2.3v-.2l.2-2 .1-2.3 .1-2.2 .1-2.3 .2-2.2 .5-1.9 .1-.3 .1-2.3v-2.2l-.1-2.3-.1-.1v.1l-1.2 2-.1 .3-.5 2.2-.3 2.3-.3 .7-1.3 .7-.3-1.4v-2.3l-.1-2.2-.6-2.3-.2-.4-.2 .4-.6 2.3-.3 2.2-.2 .8-.9 1.5-.3 .9-.3-.9-.9-2.2-1.3 .1-1.1-.2 .1-2.2-.2-.5-.9-1.8-.4-.6-.4 .6-.8 .6-.6 1.7v2.2l-.3 2.3-.3 1.4-.4-1.4-.5-2.3 .1-2.2 .3-2.3-.1-2.2-.1-2.3-.4-2.2-.2-.2v.2l-.5 2.2-.2 2.3-.5 2.2v.1l-1 2.2-.2 2.2-.1 .4-1 1.9-.2 .3-.4-.3-.1-2.3 .1-2.2-.7-2.3-.1-.1-.1 .1-1.2 2.3-.9 2.2-.3 1.3-.4-1.3-.3-2.2-.2-2.3-.1-2.2v-2.3l-.2-2.2-.1-.3-.2 .3-.9 2.2-.1 .3-.1-.3-.8-2.2-.3-1.8-.8 1.8-.5 .9-.3 1.3-.3 2.3-.6 1.2-1.3 .6-.4-1.8-.8-2.2-1.2 .4-1.3 .2-.1-.7-.3-2.2-.3-2.3-.3-2.2-.2-.7-.2 .7-.4 2.2-.3 2.3-.4 2.2-.6 2.3-.4 2.2-.2 2.1-.3-2.1-.2-2.2-.1-2.3-.1-2.2-.2-2.3-.3-3.3-.6-1.2-.7-.8-.6 .8-.6 1.2-.4 1.1-.6 2.2-.3 1.3-.7 1-.5 1.3-.1-1.3-.1-2.3-1-1.4-1.3 .6-.7-1.4-.5-.5-.2 .5-1 2.2-.1 .1-.8 2.2-.3 2.2-.1 .8-.5-.8-.7-1.3-1 1.3-.3 .2h-1.2l-.1-.2-.3-2.2-.4-2.3-.5-1-.7 1-.4 2.3-.1 .3-.1-.3-.5-2.3-.6-.4-.2 .4-.8 2.3-.3 .9-1.1 1.3-.1 .2-1.3-.1-.8 2.2-.4 .6-.3-.6-.3-2.3-.1-2.2-.3-2.3-.2-.6-.8-1.6-.5-1.2-.6 1.2-.6 1.5-.2 .7-.4 2.3-.5 2.2-.2 .5-.9 1.8-.3 1-1.1-1-.1-.2-.4-2.1 .3-2.2 .1-.2 .1-2.1-.1-1.4-1.3 1.4v.1l-.3 2.2-.9 2-1.3-.3-.4-1.7-.5-2.3v-2.2l.2-2.3-.2-2.2-.3-.4v.4l-.1 2.2v2.3l-.2 2.2-.9 .6-.4 1.7-.2 2.2-.6 2.3-.1 .1-.3-.1-.6-2.3v-4.5l-.1-2.2v-2.3l-.2-1.2-.3 1.2-1 1-.3 1.3-.4 2.2-.1 2.3-.2 2.2-.2 .8-1.2 .9-.2 .6-.8 2.2-.3 .6-.4 1.7-1.1 2.2-.7 2.3-.3 1-.6 1.2-.6 .9-.1-.9-.3-2.2v-2.3l.3-2.2 .1-.5 .4-1.8v-2.2l.1-2.3 .3-2.2 .3-2.3 .1-1.3 .1-.9v-2.3l-.1-1.9-.2 1.9-1 1.1-.4 1.2-.7 2.2-.1 .8-.3-.8-1-2.1v-.1l-.7-2.3-.5-.4-.2 .4-.4 2.3-.7 1-.9-1-.3-.5-.3 .5-.6 2.2-.3 1-1.3 .3-.3 1-.4 2.2-.5 1.7-.6 .6-.4 2.2-.2 2.3-.1 1.1-.1-1.1-.2-2.3 .2-2.2 .1-2.3v-.5l.4-1.7v-4.5l.2-2.3 .1-2.2-.4-2.2-.3-1.5-.9-.8-.1-2.2v-2.3l-.2-2.2v-.2l-.1 .2-.2 2.2v2.3l.1 2.2 .2 1.9v2.7l-1.2 .2-1.3 1.7-.6-2-.6-1.3-1.3 .4v.9l-.2 2.2-.3 2.3-.6 2.2-.1 .2-.3 2.1-.3 2.2-.6 2.3v.2l-.7 2-.1 2.3-.2 2.2-.3 1.8-.7 .5-.4 2.2-.1 1.4-.2-1.4v-4.5l.2-1 .2-1.2 .2-2.3v-2.2l-.1-2.3-.2-2.2-.1-.9-1.3 .1-.2 .8-.6 2.2-.2 2.3-.2 .9-.6 1.3-.6 1.1-.4-1.1-.4-2.2-.2-2.3-.2-2.2-.1-2.3 .1-2.2 .1-2.3-.1-2.2-.1-.3-.5 .3-.7 1.2-.1 1-.9 2.3-.3 .3-1.2 1.7-.1 .2-.2 2.3-.3 2.2-.6 2.3-1 2.2-.3 1.6-.3-1.6-.4-2.2-.2-2.3-.3-1.4-1.3-.5-.4-.3-.8-.1v.1l-.5 2.2-.7 2-.5 .3-.5 2.2v4.5l-.3 1.4-.2-1.4v-2.2l-.1-2.3v-2.2l-.4-2.3-.5-1.8-.1-.4-.5-2.3-.3-2.2-.4-1.4-1.1 1.4-.1 .1-.5 2.1-.7 1-1.3-.4-.2-.6-.7-2.2-.3-1.1-.3 1.1-1 1.7-1.2-.9-.7 1.4-.5 1.6-.1 .7-.5 2.2-.7 1.4-.3 .9-.5 2.2-.3 2.3-.1 .6-.8 1.6-.5 .7-.2-.7-.1-2.2v-2.3l.1-2.2 .2-1.8 .1-.5-.1-1.7v-.5l-.8-2.3-.4-.4-.2 .4-.3 2.3-.3 2.2-.4 1.2-.7-1.2-.5-2.2-.1-.8-.3 .8-.8 2.2-.1 .2-.1-.2-.2-2.2 .1-2.3-.4-2.2-.3-2.3v-2.2l-.3-2.2-.1-1.7-.3 1.7-.9 1.7h-1.2l-.2 .5-.6 2.2-.5 .8-.5-.8-.6-2.2-.1-.3-.1 .3-.3 2.2-.9 2-.1 .3-.6 2.2-.3 2.3-.2 .7-1.2 .1-.5 1.4-.8 1.7-1.2-1-.6 1.6-.1 2.2-.2 2.3-.4 1.8-.4 .4-.8 .7-1.2 .9-.3-1.6 .3-1.4 .3-.8 .3-2.3v-2.2l-.2-2.3-.3-2.2-.1-1-.5-1.3-.4-2.2-.3-2.3-.1-.5v.5l-.3 2.3-.6 2.2-.3 .6-.4 1.7-.5 2.2-.4 1.4-.5 .9-.7 1.3-.5 .9-.4 2.3-.1 2.2-.2 .8-.2-.8-.1-2.2-.2-2.3 .5-2 .1-.2 .2-2.3v-2.2l-.2-2.3v-2.2l.2-2.3 .1-2.2-.4-1.7-.5-.5-.8-1.8-.9-.5 .5-2.2 .2-2.3-.4-2.2-.6-2.3h0l-.5 2.3-.2 2.2 .2 2.3 .2 2.2-1 .4-.7 1.9-.5 1.4-1.1-1.4-.1-.2-.2 .2-.5 2.2-.6 1.6-.1 .6-.4 2.3-.5 2.2-.2 .7-1.2 1.6-.1 .1-1.1 2.1-.1 .4-.7 1.9-.4 2.2-.1 .2-.1-.2-.3-2.2-.4-2.3-.5-.7-.2 .7-.6 2.3-.4 .7-1-.7-.3-.3-.6-2-.5-2.2-.1-1.2-.1-1.1 .1-1.4v-.8l.1-2.3v-2.2l-.1-.5-.9-1.7-.3-.6-.2 .6-.3 2.2-.2 2.2-.5 2.3-.1 .2-.5 2-.5 2.3-.2 1.4-.1 .8-.4 2.3-.3 2.2-.5 2.3-.5 2.2-.4 2.3-.2 2.2-.1 .7-.4 1.5-.6 2.3-.2 1.1-.6-1.1-.1-2.3-.2-4.4v-2.3l.1-2.2v-2.3l-.1-2.2 .3-2.3-.3-2.2-.4-.9-.2 .9-.1 2.2-.5 2.3-.4 .5-.2-.5-.5-2.3 .1-2.2 .1-2.3v-2.2l.1-2.3 .4-2.2-.7-2.2-.6-1.2-.2 1.2-.4 4.4-.2 2.3-.8 2.2-.4 2.3-.1 2.2-.2 2.3-.1 .6-.8 1.6-.1 2.3-.1 2.2-.3 2.1-1.2-.2-.6-1.9-.1-2.2 .2-2.3-.3-2.2-.5-1.7-.2 1.7-.1 2.2-.2 2.3-.7 1.3-.5 .9-.7 .7-1 1.6-.2 2.2-.1 .4-.1-.4-1.1-2.2-1.3-2.2-.8 2.2-.4 .7-1.2 1.4-1.3-.2-.4 .3-.3 2.2 .7 1.6 .2 .7 .1 2.2-.3 1.4-.3 .9-.9 1.6-1.3-1.6 .4-2.3 .1-2.2-.5-.8-.1 .8-.1 2.2 .2 2.3-.7 2.2-.5 .3-1.1 2-.1 1.3-.3-1.3-.4-2.3-.3-2.2-.3-1.4-.1 1.4-.3 2.2-.5 2.3-.3 1.2-.1 1-.1 2.3-.2 2.2-.2 2.3-.7 1.7-.1 .5-.5 2.3-.3 2.2-.3 1.5-.3 .7-.6 2.3-.3 1.7-1.3-.3-.1 .8-.5 2.3-.3 2.2-.3 1.6-.1 .7-.8 2.2-.4 .7-.9 1.6-.3 .4-.5 1.8-.7 2.1-.3 .2-1 .7-1.2 .7-.3 .8-.9 2.3h-.1l-1.2 .4-.2 1.8-.5 2.2-.5 .4-1.3 1.3-.3 .6-.9 2.2-.6 2.3-.4 2.2-.3 .9-.7 1.4-.5 .5-.8 1.7-.4 1.2-1.1 1.1-.2 .1-1.2 .9-.9 1.2-.4 .9-.2 1.4-.7 2.2-.3 .6-.5 1.6-.3 2.3-.4 1.7-1.1-1.7-.2-.5-.2 .5-1 1.9-1.1-1.9-.2-.5-.1 .5-.3 2.2-.6 2.3-.2 .2-.9-.2-.3-.1-.6-2.2v-2.2l-.7-2.2-.3 2.2-.1 2.2-.2 2.3-.6 1-.5 1.2-.5 2.3-.3 1.6-1.2-.2-.2 .8-.6 2.3-.4 .9-.7 1.3-.6 1.4-1-1.4 .1-2.2 .2-2.3-.2-2.2-.3-1.1-.5 1.1-.3 2.2-.3 2.3-.2 .2-.4 2-.5 2.3-.3 1.3-.1 .9-.6 2.2-.5 1.3-1.3-1.2v-.1l-.8-2.2-.3-2.2-.1-.7-.1 .7-.8 2.2-.4 1-.1 1.2-.5 2.3-.6 1.6-.2 .6-.5 2.3-.5 2.1-.1 .1-.7 2.3-.5 1.1-.3 1.1-.5 2.3-.4 1.5-1.3-.6-1.2-.4-.5 1.7-.7 2-.2 .3-1.1 1.8-.2 .4-.6 2.3-.4 1.1-1.3 .2-.8-1.3-.4-.7-.2 .7-1 1.3-.4 .9-.6 2.2-.3 .7-1.2 1-1-1.7-.3-.7-.5-1.5-.7-1.9-1.2 .6-.8 1.3-.5 .8-1.1-.8-.1-.2-.4-2-.2-2.3-.7-1.3-.5-.9-.7-.7-1.2-.4-.6-1.2-.2-2.2-.1-2.3 .1-2.2v-2.3l-.3-2.2-.2-.8-.3-1.5-.2-2.2 .2-2.3 .3-2.1 .1-.1 .5-2.2-.3-2.3-.1-2.2 .2-2.3 .3-2.2-.2-2.3-.5-1.4-.3-.8-.6-2.3 .1-2.2 .7-2.3 .1-.1 .1 .1 1.1 2.3 .1 .1h1.2v-.1l.6-2.3 .1-2.2-.6-2.2-.1-.1-1.2-.7-1.3-.3-1.2 .4-1.3-.7-1.2-.8-.1-.1 .1-2.2 1-2.3-.2-2.2-.7-2.3-.1-.6-.6-1.6v-2.3l-.4-2.2-.1-2.3 .2-2.2-.3-1.5-.2-.7-.8-2.3-.3-.5-1.2-.9-1.3-.6v-.2l-1.1-2.3-.1-.1-1.1-2.1-.1-.4-1.3-1.6-.1-.3-1.1-1.6-.2-.6-.6-2.3-.4-2.2-.1-2.1v-.2l-.1-2.2-.2-2.3-.3-2.2-.2-2.2-.3-2.3-.1-.3-1.2-.9-.6 1.2-.7 2v.6l.5 1.9 .1 2.2-.6 1.9-.1 .4-.6 2.2 .7 1.9 .2 .4-.2 2.2 .4 2.3-.4 .9-.5 1.3 .4 2.3-.4 2.2 .4 2.3-.1 2.2 .2 2.2v.1l.1 2.2-.1 .2-1.1 2 1.1 2.1 .1 .2 .3 2.2-.4 1.3-.3 1-.2 2.2 .5 1.8 .1 .5-.1 2.2v.2l-.4 2.1 .1 2.2-.4 2.3 .7 1.6 .2 .6 .5 2.2-.7 2.2-.1 .1 .1 .2 .6 2 .2 2.3-.5 2.2-.3 1.1-.2 1.2 .2 .3 1.3 .4 .5 1.5-.5 1.6-.2 .7 .2 .6 .5 1.6-.5 1.3-.3 1 .3 1.4 .3 .8-.2 2.2v2.3l-.1 .3-.4 1.9 .4 1.9 .1 .4-.1 .4-.3 1.8-.1 2.3 .4 1.8 .1 .4-.1 .6-.3 1.7 .2 2.2 .1 .3 .6 2-.3 2.2 .3 2.3-.2 2.2-.4 1-.4 1.2 .4 1.9 .1 .4v2.2l-.1 1-.3 1.3 .3 .4 .5 1.8 .1 2.3-.2 2.2 .3 2.3-.3 2.2-.4 1-.4 1.3 .4 2v.7l-.1 1.8 .1 1.1 .2 1.1 .3 2.2-.1 2.3 .1 2.2-.5 2.3 .3 2.2-.2 2.3v2.2l-.1 2.3v.1l-.2 2.1 .2 .7 .6 1.6-.6 2.2v.2l-.4 2 .3 2.3 .1 .1 .7 2.1 .3 2.3-.5 2.2-.5 1.6-.4 .7 .2 2.2 .2 .1 .7-.1h.8l.9 .3 1.2 2 .1 .2 1.2 1.3 .1 .7 .1 2.3-.1 2.2-.1 .4-.5 1.8-.7 2.3-1.3-.7-1.2-.3-1.2-.8-.3-.5-1-2.1v-.1l-1.2-1.9-1.3-.1-.6 2-.5 2.2-.1 .3-1 2-.2 .7-.4 1.5 .4 1.2 .9 1.1 .3 .3 .2-.3 1-1.6 1.1-.7 .2-.1 .1 .1 .7 2.3 .3 2.2 .1 1.4 .3 .9-.3 .6-1.2 .1-1.3-.1h-1.2l-.8 1.6-.4 1.4-.2 .9-.6 2.2-.5 1.3-1.2 .7-.2 .3v4.5l-1.1 1.7-1.2 .1zM403 586.3l-.9-1.5 .5-2.2 .4-.4 .1 .4 .2 2.2zM465 621.3l-.1-.5v-2.3l.1-.1zM488.5 423.3l-.1-.2 .1-.9zM509.6 574.6l-.1-1-.1-2.3 .1-2.2 .1-.6 .7 .6-.2 2.2-.3 2.3zM510.8 567.8l-.2-.9 .2-2.1 .2 2.1zM533.2 538.5l-.2-.8 .2-.4 .2 .4zM535.6 549.7l-.2-.8v-2.3l.2-.9 .2 .9v2.3zM561.7 486.4l-.1-.4 .1-.7zM572.8 544.7l-.1-.3v-2.2l.1-1.5 .3 1.5-.2 2.2zM587.7 479.8l-.2-.5-.1-2.3 .1-2.2 .2-1.3 .3 1.3v2.2l-.2 2.3zM589 467.6l-.3-1.8 .3-1.5 .2 1.5zM613.8 539.5l-.5-1.8 .5-2.2 .2 2.2zM632.4 528.8l-.1-.1 .1-.2zM644.8 375.4l-.3-1.7 .3-1.6 .3 1.6zM647.2 537.9v-.4l.1 .2zM665.8 559.3l-.2-1.4 .2-.7 .1 .7zM675.8 376.9l-.2-.9-.1-2.3 .3-1.5 .5 1.5-.4 2.3zM693.1 539.9l-.1-2.2 .1-.4 .1 .4-.1 2.2zM781.2 569.3l-.1-.2v-2.2l.1-.3zM796 405.7l-.2-.5-.2-2.3 .4-2.1 .6 2.1-.3 2.3zM807.2 620.1l-.2-1.6 .2-.8 .2 .8zM861.8 613.8l-.4-2 .2-2.3 .2-.7 .5 .7 .1 2.3zM869.2 499.3l-.2-2.1 .2-.7 .1 .7zM870.4 486.8v-4l.3 1-.1 2.2zM871.7 478.4l-.3-1.4 .3-2 .4 2zM874.2 517.6l-.1-.2v-2.2l.1-.1zM876.6 579.7l-.1-1.6 .1-.7 .3 .7zM877.9 529v-.5l.3 .2zM879.1 464.8l-.2-1.3v-2.2l.2-1.4 .5 1.4 .1 2.2zM881.6 510.7l-.4-2.2v-2.3l.4-4.4 .4 2.2v4.5l-.4 2.2zM882.8 502.2l-1.1-.5 1.1-1.1 .1 1.1zM498.2 620.8l.2 1.9 .3-1.9-.1-2.3-.2-.6-.1 .6zM561.4 620.8l.3 .9 .3-.9 .9-2 .1-.3 .1-2.2v-2.3l.2-2.2 .4-2.3 .5-1.8 .1-.4 .4-2.3 .3-2.2 .2-2.3 .2-.6 .3-1.6 .1-2.3 .1-2.2v-2.2l-.1-2.3-.4-.3v.3l-.3 2.3-.6 2.2-.3 .8-.2 1.4-.4 2.3-.2 2.2-.4 2.3-.1 .3-.2 1.9-.3 2.3-.2 2.2 .1 2.3-.6 2.2-.4 2.3-.3 2.2zM889 620.8v.8l.2-.8 .5-2.3-.1-2.2-.6-1.9-.1 1.9-.1 2.2zM488.9 618.5l.9 2 .3-2 .2-2.2-.3-2.3-.2-.6-1.2 .6-.1 1.1v1.3zM583.8 618.5l.2 1 .1-1-.1-.8zM789.8 618.8l.1-.3-.1-.3zM875 618.5l.4 2.2 .2-2.2-.2-2.2v-.3l-.1 .3zM889.9 611.8l.4 1 .4-1 .5-2.3-.3-2.2-.6-1.5-.4 1.5-.1 2.2zM533.1 609.5l.1 .4v-3.1l-.1 .5zM876.3 609.5l.3 1 .3-1 .2-2.2-.2-2.3-.3-.4-.5 .4-.1 2.3zM724.1 600.5h0l.3-2.2-.2-2.3-.1-.9-.1 .9-.6 2.3zM877.7 600.5l.2 2 .2-2v-2.2l-.2-2-.2 2zM510.5 598.3l.3 1.9 .5-1.9 .1-2.3 .1-2.2-.7-.8-.3 .8-.2 2.2zM534.2 598.3l.2 .5 .1-.5-.1-.8zM747.5 598.3l.2 .3v-1.7zM892.7 591.6l.1 1 .1-1-.1-.8zM724.1 590.6l1.3-1.2v-4.4l-.4 2.1-.9 1.7zM566.5 587.1l.1 .5 .1-.5v-2.3l.1-2.2-.2-2-.1 2zM753.8 587.1l.1 .9 .1-.9-.1-1.2zM660.7 578.1l.2 .7 .2-.7 .1-2.3-.3-2-.3 2zM740 578.1l.2 1.6 .2-1.6-.2-1.8zM240.4 575.8l.1 .3 .3-.3-.3-.5zM329.7 575.8l.1 .1 .1-.1zM382.9 575.8l.2 .3 1.3-.3-1.3-.2zM220.5 573.6l.2 .6 .2-.6-.2-1.1zM285 573.6l.2 .3 .1-.3-.1-1.3zM298.5 573.6l.3 1.1 .4-1.1-.4-.8zM223 571.3l.2 .4 .7-.4-.7-.5zM225 571.3l.6 .2 .2-.2-.2-.1zM228 571.3l.1 .2 .1-.2-.1-.1zM230.5 571.3l.1 .3 .2-.3-.2-.3zM235.4 571.3l.2 1.7v-1.8zM281.4 571.7l.1-.4-.1-.1zM292.2 571.3l.4 1.1 .3-1.1-.3-.3zM304.9 571.3l.1 .2 .1-.2-.1-.2zM323.5 571.3l.1 .3 .1-.3-.1-.2zM332.1 571.3l.2 .3 .2-.3-.2-.4zM334.2 571.3l.6 .7 .3-.7-.3-.9zM347 571.3l.2 .6 .1-.6-.1-.4zM363 571.3l.3 .1 .4-.1-.4-.1zM373.1 571.3l.1 .2 .5-.2-.5-.2zM231.6 569.1l.2 .3 .3-.3-.3-.4zM238.1 569.1l1.2 .9 .3-.9-.3-.3zM267.3 569.1l.5 .4 .3-.4-.3-.6zM299.9 569.1l.1 .2 .2-.2-.2-.5zM303.5 569.1l.3 .7 .4-.7-.4-.6zM313.6 569.1l.1 .1 .1-.1-.1-.1zM317.1 569.1l.3 .7 .2-.7-.2-.8zM319.7 569.1l.2 .9 .5-.9-.5-.3zM356.3 569.1l.8 .2 .1-.2-.1-.3zM374.2 569.1l.2 1.4 .3-1.4-.3-.2zM386.5 569.1l.3 .7 1-.7-1-.4zM706.6 569.1l.2 .4 .2-.4 .3-2.2-.5-2.3v-.3l-.1 .3-.3 2.3zM232.9 566.9l.2 .5 .4-.5-.4-2.3v-.1l-.1 .1zM276.1 566.9l.4 .3 .2-.3-.2-.5zM292.4 566.9l.2 .4 .4-.4-.4-.7zM355.7 566.9l.1 1 .1-1-.1-.2zM378.6 566.9l.8 1.1 .6-1.1-.6-1.7zM237.7 564.6l.3 .6 .3-.6-.3-.7zM251.3 564.6l.4 .6 1.2-.3 .1-.3-.1-.4-1.2-2.4-.3 .6zM266.2 564.6l.4 .8 .5-.8-.5-.9zM293.8 564.8l.1-.2-.1-.1zM300.3 564.6l1 .7 .4-.7-.4-.9zM325.8 564.6l.3 .4 1.2 .2 .6-.6-.6-1.4-1.2 .8zM287.4 562.4l.2 .7 .3-.7-.3-.6zM340.6 562.4l.4 .6 .5-.6-.5-.6zM371.9 562.4h.1v-.1zM386.2 562.4l.6 .2 .2-.2-.2-.9zM230.4 560.1l.2 .7 .1-.7-.1-.5zM272.7 560.1l.1 .1 1.1-.1zM303.6 560.1l.2 .3 .5-.3-.5-.2zM379.3 560.1l.1 .3v-.3zM318.5 557.9l.1 .2 1.3-.2h.1l-.1-.2-1.3-.2zM333.1 557.9l.4 .5 .8-.5-.8-1.8zM356.8 557.9l.3 .1v-.3zM382.8 557.9l.3 1.1 .7-1.1-.7-.4zM395.2 557.9l.3 .4 1-.4-1-.3zM542.1 557.9l1 1.1 .1-1.1-.1-2.3v-.2l-.1 .2zM580 557.9l.3 1.5 .2-1.5-.2-2.3zM216.7 555.6l.3 .3 .4-.3-.4-.3zM252.5 555.6l.4 .3 .4-.3-.4-.6zM284.9 555.6l.3 1.1 .1-1.1-.1-.2zM288.5 555.6l.4 1.1 .5-1.1-.5-.5zM295 555.6l.1 .9v-.9zM345.5 555.6l.4 .6 .4-.6-.4-.4zM360.4 555.6l.4 .3 .3-.3-.3-.3zM374.2 555.6l.2 .4 .8-.4-.6-2.2-.2-.3v.3zM213.9 553.4l.6 .6 .3-.6-.3-1.3zM231.4 553.4l.4 .9 .4-.9-.4-1.4zM264 553.4l.1 .4 .1-.4-.1-.2zM287.5 553.4l.1 .2 .1-.2-.1-.2zM316.9 553.4l.5 .5 .5-.5-.5-.9zM325.9 553.4l.2 .3 .2-.3-.2-.5zM594.7 553.4l.5 .8 .1-.8 .2-2.3-.3-2.2v-.2l-.1 .2-.7 2.2zM215.5 551.1l.2 .2 .2-.2-.2-.1zM226.7 551.1l.2 .3 .1-.3-.1-.1zM238 551.1v.1l.1-.1zM247.7 551.1l.3 .3 .2-.3-.2-2.2v-.1l-.1 .1zM295.9 551.1l.4 .4 1.3-.1 .2-.3-.2-.2-1.3-1.7zM327.3 551.1v.1l1.3 .3 .2-.4-.2-.9zM331.7 551.1l.6 .4 .4-.4-.4-.6zM359 551.1l.6 .7 .4-.7-.4-1.3zM690.6 551.1v.1l.1-.1v-2.2l-.1-.5-.1 .5zM233.9 548.9l.4 .8 .3-.8-.3-.7zM257.5 548.9l.4 .8 .3-.8-.3-1zM260.3 548.9l.1 .2 .1-.2-.1-.1zM264.6 548.9l.7 .7 .4-.7-.4-2.1zM273.4 548.9l.6 .2 .1-.2-.1-.2zM305.9 548.9l.3 .4 1.3-.2 .4-.2-.4-.4h-1.3zM312.3 548.9l.1 .4 .3-.4-.3-.3zM346.5 548.9l.7 1.3 1.1-1.3-1.1-.9zM356.8 548.9l.3 .5 .3-.5-.3-.6zM230.4 546.6l.2 .4 .2-.4-.2-.7zM239.1 546.6l.2 .2 .1-.2zM349.4 546.6l.2 .4 .5-.4-.5-.5zM353.2 546.6l.2 .2 .2-.2-.2-.4zM382.4 546.6l.7 1.1 .4-1.1-.4-1.4zM252.2 544.4l.7 1.5 .5-1.5-.5-2.2zM255.2 544.4l.2 .2 .2-.2-.2-.3zM278.2 544.4l.8 1.3 .3-1.3-.3-.7zM317.2 544.4l.2 .6 .2-.6-.2-.4zM341.8 544.4l.4 1.2 .9-1.2-.9-.9zM369.2 544.4l.3 .6 .4-.6-.4-2.2h0zM371.9 544.4l.1 .1v-.2zM262.8 542.2h.1l-.1-.1zM312.4 542.2h.1l-.1-.3zM314.7 542.2l.2 .4 .5-.4-.5-.4zM352.1 542.2h.1l-.1-.1zM225.5 539.9l.1 .2 .3-.2-.3-.1zM232.8 539.9l.3 1.2 .2-1.2-.2-.4zM236.2 539.9l.6 1.2 .5-1.2-.5-1.8zM298.5 539.9l.3 .5 .9-.5-.9-1.1zM301.1 539.9l.2 .1v-.2zM333 539.9l.5 .4 .6-.4-.6-.3zM243.6 537.7l.6 .3 .3-.3-.3-.3zM246.6 537.7l.1 .3 .1-.3-.1-1.4zM272.6 537.7l.2 .4 .1-.4-.1-.3zM287.2 537.7l.4 .7 .4-.7-.4-.7zM303.4 537.7l.4 .7 .1-.7-.1-.4zM306.1 537.7l.1 .5 .5-.5-.5-.8zM375.2 537.7l.5 .2 .1-.2-.1-.1zM381.7 537.7l.2 .3 .3-.3-.3-.8zM391.7 537.7l.1 .1 .3-.1-.3-.2zM882.5 537.7l.3 1.2 .2-1.2-.1-2.3-.1-.2v.2zM218.9 535.4l.5 .1 1.3 .7 .1-.8-.1-.7-1.3 .6zM226.8 535.4l.1 .1 .1-.1-.1-.1zM254.4 535.4l1 .6 1.2-.3 .2-.3-.2-.4h-1.2zM289.9 535.4l.2 .5 1.3 .3 .5-.8-.5-.7-1.3 .1zM293.4 535.4l.4 1.2 .6-1.2-.6-.9zM298.7 535.4l.1 .4 .4-.4-.4-.3zM330.8 535.4l.2 .1 .3-.1 .1-2.2-.4-.8-.4 .8zM351.2 535.4l.9 1.8 .8-1.8-.8-1.3zM387.6 535.4l.5 .2 .4-.2-.4-.5zM393.6 535.4l.7 .6 1.2-.3 .4-.3 .1-2.2-.5-.5-.3 .5-.9 1.6zM242.9 533.2l.1 .4 .2-.4-.2-.5zM246.5 533.2l.2 1.8 1.3-1.7 .1-.1v-2.3l-.1-.4-.7 .4-.6 .8zM299.5 533.2l.5 1.6 .4-1.6-.4-1zM302.1 533.2l.4 .4 .8-.4-.8-1zM317.4 533.6l.2-.4-.2-.2zM353.2 533.2l.2 .3 .2-.3-.2-.2zM886.4 533.2l.2 1.3 1.2-1 .1-.3 .4-2.3 .1-2.2 .1-2.3-.1-2.2-.4-2.3h1l.7-2.2 .3-2.3v-2.2l-.3-2.2-.7-.1v.1l-.6 2.2-.3 2.2v2.3l-.3 2.2-.3 2.3-.3 2.2-.3 2.3-.3 1.9-.1 .3zM218 530.9l.2 .8 .2-.8-.2-.3zM235.5 530.9l.1 .1v-.4zM267.3 530.9l.5 .6 .5-.6-.5-.7zM281.3 530.9l.1 .3 .3-.3-.3-.5zM297.5 530.9l.1 .3v-2.2zM307.9 530.9l.8 .7 .7-.7-.7-2zM321.9 530.9l.5 .9 .5-.9-.5-2.2zM361.9 530.9l.1 .4 .1-.4zM376.9 531l.1-.1-.1-.3zM236.4 528.7l.4 .3 .2-.3-.2-1zM240.2 528.7l.3 .8 .2-.8-.2-.5zM270.2 528.7l.1 .3 .2-.3-.2-.2zM316.3 528.7l1.1 1.1 .5-1.1-.5-.9zM386.7 528.7h.3l-.2-.1zM219.6 526.4l1.1 .9 .6-.9-.6-1.1zM225.6 526.4v.2l.2-.2zM255.1 526.4l.3 .3 .3-.3-.3-.4zM298.3 526.4l.5 .2 .2-.2-.2-.1zM305.7 526.4l.5 .9 1-.9-1-.7zM308 526.4l.7 1.7 1.1-1.7-1.1-.3zM360.2 526.4l.6 .2 .1-.2-.1-.9zM371.7 526.4l.3 .3 .2-.3-.2-.2zM389.3 526.6l.1-.2-.1-.2zM215.1 524.2l.6 1.5 .4-1.5v-2.3l-.4-.5-.2 .5zM277.5 524.2l.2 .2 .3-.2-.3-.5zM290.1 524.2v.2l.1-.2v-2.3l-.1-.3-.1 .3zM294.2 524.2l.9 1 .5-1-.5-1.5zM301.2 524.2l.1 .2 .1-.2-.1-2.3v-.1l-1.3 .1v.1zM337.1 524.2l.1 .4 .3-.4-.3-1zM355.5 524.2l.3 1.2 .2-1.2-.2-.7zM375.3 524.2l.4 .4 .9-.4-.9-.7zM384.1 524.2l.3 .1 .1-.1-.1-.3zM220.3 521.9l.4 .6 .1-.6-.1-.5zM225.4 521.9l.2 .4 .3-.4-.3-.8zM257.7 521.9l.2 .3 .2-.3-.2-1zM307.4 521.9l.1 .1 .1-.1-.1-.1zM319.8 521.9l.1 .2 .1-.2-.1-.1zM324.5 521.9l.3 .3 .7-.3-.7-.7zM252.7 519.7l.2 .3 1.3-.1 .2-.2-.2-.3-1.3 .1zM280.1 519.7l.1 .5 .5-.5-.3-2.3-.2-.4-.2 .4zM366.9 519.7l.1 .3 .3-.3-.3-.2zM381.4 519.7l.5 .9 .4-.9-.4-.8zM240.4 517.4l.1 .2 .2-.2-.2-.1zM256.6 518.1l.2-.7-.2-.3zM272.7 517.4l.1 .1v-.1zM349.6 517.4v.2l.1-.2zM358 517.4l.3 .5 .3-.5-.2-2.2h-.1zM173.5 515.2l.1 .2h1.2v-.2l-1.2-.3zM211.9 515.2l.1 .3 .1-.3-.1-.4zM232.5 515.2l.6 .7 .4-.7-.4-1zM239.2 515.2l.1 .1v-.2zM261.3 515.2l.3 .4 .2-.4-.2-1.6zM299.6 515.2l.4 2.1 1.1-2.1-.9-2.2-.2-.4-.2 .4zM345.3 515.2l.6 .5 .2-.5-.2-.7zM259.6 513l.8 .5 .9-.5-.9-.9zM282.1 513l.6 2 .6-2-.6-2zM314.6 513l.3 1.3 .4-1.3-.4-1zM318.6 513h.1l-.1-.1zM329.1 513l.7 1.4 .6-1.4-.6-.7zM384 513l.4 .3 .1-.3-.1-.6zM245.7 510.7l1 .8 .3-.8-.3-.8zM251.3 510.7l.4 .9 .3-.9-.3-.9zM269.9 510.7l.4 .9 .6-.9-.6-.9zM271.8 510.7l1 1.1 1.2-1 .2-.1-.2-.2-1.2-1.3zM321.1 510.8l.1-.1-.1-.1zM356.4 510.7l.7 1.4 .4-1.4-.4-.7zM376.6 510.7l.3 .7 1.3 .9 .3-1.6-.3-.8-1.3 .5zM890.1 510.7l.2 2 .1-2 .1-2.2 .1-2.3-.3-1.2-.2 1.2zM214 508.5l.5 .1 1.2 .2 .3-.3-.3-.7-1.2 .5zM298.7 508.5l.1 .3 .2-.3-.2-.3zM305.9 508.5l.3 .3 1.3 .3 .3-.6-.3-.4-1.3-.1zM324.8 508.5h.1l-.1-.1zM368.2 508.8l.1-.3-.1-.2zM382.9 508.5h.3l-.1-.1zM389 508.5l.3 1.4 .3-1.4-.3-.9zM231.3 506.2l.5 1.8 1.3-.7 .4-1.1-.4-1-1.1-1.2-.2-.2-.7 .2zM240.2 506.2l.3 .3 .7-.3-.7-.4zM242.7 506.2l.3 .1 .1-.1-.1-.1zM283.5 506.2l.4 .4 .3-.4-.3-.3zM338 506.2l.5 1 .8-1-.8-.3zM359.4 506.2l.2 .3 1.2 .3 .6-.6-.6-.6-1.2 .2zM373.1 506.2l.1 .2 .2-.2-.2-.3zM225.1 504l.5 .3 .2-.3-.2-.6zM293.2 504l.6 .6 .4-.6-.4-2zM299.8 504l.2 .2 .4-.2-.4-.4zM318.5 504l.1 .1 .2-.1-.2-.2zM351.6 504l.5 1.1 .6-1.1-.6-.9zM368.7 504l.8 1.3 .5-1.3-.5-1zM218.1 501.7l.1 .1 .1-.1-.1-.1zM247.7 501.7l.3 .9 1.2-.4 .6-.5-.6-1.3-1.2-.9zM302.4 501.7l.1 .4 .2-.4-.2-.1zM315.7 501.7l.5 1.4 .2-1.4-.2-.4zM348.9 501.7l.7 .7 .5-.7-.5-1.4zM353.1 501.7l.3 .6 .6-.6-.6-.3zM364.5 501.8l.1-.1-.1-.1zM154.9 499.5l.1 .1 .4-.1 .8-.5 .7-1.8 .2-2.2 .3-1.7 .1-.6 .7-2.2 .1-2.3-.3-2.2 .1-2.2v-2.3l-.2-2.2 .8-1.5 .3-.8 .6-2.2 .1-2.3-.2-2.2 .2-2.3 .2-.7 .4-1.5 .1-2.3-.2-2.2-.1-2.2-.2-2.1v-.2l-.4-2.2v-2.3l.2-2.2-.2-2.3 .4-1.9 .1-.3 1.2-1.6 .9-.7 .3-.2 1.2-.9 .9-1.1 .4-.6 .9-1.7 .3-1.9 .1-.3-.1-.2-.4-2-.3-2.3v-2.2l-.1-2.3-.3-2.2 .4-2.3 .7-.7 1.3-1.4v-.1l.4-2.3-.1-2.2-.1-2.3v-2.2l-.2-1.9-.1-.4-.9-2.2-.3-2v-2.5l.6-2.2 .7-1.1 1.2-.5 1.2 .2 .8-.9 .5-.4 1.1-1.8 .1-.3 1.3-1.5 .7 1.8 .5 1.4 .6 .8 .6 .4 1.3 .1 .4-.5 .8-.8 1.3-1.4h1.2l1.2 1 1.3-.4h1.2l1.3 .7 1.2-.2 1.2-.7 1.3 .3 1.1 1.5 .1 .1 1.3 .4 .4-.5 .8-.7 1.2-.4 1.3 .1 1.2-.2 1.3-.5 1.2 .4 1.2 1.3 1.3 .5 1.2-1 1.3 .2 .4 .3 .8 .4 1.2-.8 1.3-.9 1.2-.9v-.1l.1 .1 1.2 .7 1.2 1.4 .2 .1-.2 .5-.4 1.8 .4 .4 1.2 1.4 .6 .4 .4 2.3 .3 .3 .2-.3 1-1.7 1.3 .4 .7 1.3 .5 1.3 1.2-.8 .3-.5 1-.8 .8 .8 .4 .2 .2-.2 1.1-1.4 .5-.9-.5-1.3-1.3 .9-.5-1.8 .5-.9 1.3-.9 .8 1.8 .4 .3 .4-.3 .4-2.3 .4-.2h1.3l.8 .2 .4 .2 1.3 .4 1-.6h.2l1.2-.1 .3 .1 1 1.5 .5 .8 .7 .9 .3-.9-.3-2-.1-.3h.1l1.3-.1 1.2-.1 1.2 .2h.2l1.1 .4 .4-.4 .8-.3 1.3 .2 .6 .1 .6 .8 .3-.8 .9-.3 .9 .3 .4 .8 1.2 .7 .5-1.5 .8-.4 .9 .4 .3 .8 1.2-.1 .8-.7 .5-.2 .9 .2 .3 .2 1.1-.2h.2l1.2 .8 .9-.8 .3-.1 .8 .1 .5 .6 1.2 .2 1.3-.5 1.2 .2 .6-.5 .6-.1 .6 .1 .7 .4 2.4-.4h1.3l1.2-.2 1.3 .1 1.2-.1 .9 .2 .4 .6h1.2l.6-.6 .6-.1 1.3-.1 .5 .2 .7 .5 .9-.5 .4-.1 1.2 .1 1.2-.4 1.3 .2 1.2 .1 .6 .1 .7 .2 1.2 .3h1.2l1.2-.5h.1l1.2-.1 .6 .1 .7 .5h1.2l1.2-.2 1-.3h.3l1.2-.1 .9 .1 .4 .2 1.2 1.9 .5-2.1 .7-.3 1.1 .3 .2 .5 .2-.5 1-.3 1.2 .3 .1 .2 1.2 1.1 .6-1.3 .6-.2 .7 .2 .6 .6 1.2-.1 1.3 .8 1.2-1.2 1.2 .2 1.3-.1 .7-.2h.7l1.1 1.3 1-1.3h.6l.8 .3 1.1 2 .2 .5 1.2-.2 .7-.3-.7-1-1.2-1.3 1.2-.1h1.3l.4 .1 .8 .3 1.2 .1 1-.4 .3-.1 .5 .1 .7 .4 1.3 .2h1.2l1.2-.2 1.1 1.9 .2 .4 .4-.4 .8-1.7 .4-.6 .9-.2 1.2 .1 .4 .1 .8 1.1 1.3-.8 1.2 .4 .6 1.6 .7 .7 .5-.7 .4-2.3 .3-.1 1.2 .1h.1l1.2 1.6 1.2-.9 1.1 1.6 .2 .1 1.2-1.2 1.2 .7 1.3-1.5 1 1.9 .2 .1 .3-.1 1-.9 1.2-.1 1.2 .3 1.3 .2 1.2 .5h0l1.3-1.3 1.2 .7 1.2-.4 1.3-.2 1.2 .1 1.3 .2 1.2 .4 1.2-.3 1.3 .7 .5 .1 .7 .1 1.3 .1 .2-.2 1-.7 1.2-.4 1.3 .5 1.2-.4 1.3-.1 1.2 .4 1.2 .1 1.3-.2 1.2 .1 1.3-.1 1.2-.1 1.2 .1 1.3-.6 1.2 .1 1.3 .4 1.2 .2 1.2-1.1 1 1.8 .3 .6 1.2-.6-.3-2.3 .3-.1 1.3-1.2 .5-.9-.5-1.1-.6-1.2-.5-2.2-.1-2.3v-4.5l-.1-2.2v-6.7l-.2-2.3-.1-2.2-.1-2.3v-2.2l-.2-2.3-.2-2.2-.3-2.3-.1-.7-.5-1.5-.8-1.2-1.2-.8-1.2 .4-1.3 1.6-1.2-.2-1.3-1.7-.4-.4-.8-.2-.9 .2-.3 .2-1.3 .5-1.2-.2-1.3 .4-1.2-.2-1.2-.6-.1-.1-1.2-.6-1.2-.5-1.3 .1-1.2 .4h-2.5l-1.2 .2-1.3 .4h-.4l-.8 .2-.4-.2-.8-.1h-1.3l-.5 .1-.7 .3-1.3-.1-.5-.2-.7-.2-1.2-.3-.9 .5-.4 .5-1.2 1.6-.4 .2-.9 .3-1.2-.1-.3-.2-.9-.8-1.3-1.2-.5-.3-.7-.2-1.3 .1-.8 .1-.4 .2-1.2 .4-1.2-.6h-.1l-1.2-.4-1.3 .1-.8 .3-.4 .2-.6-.2-.6-.1-1.3-.9-1.2-.3-1.3 .9h-1.2l-1.2-.4-1.3-.5-1.2 .2-.9 1.1-.4 .5-1.2 .5-1.2-.4-.9-.6-.4-.2-1.2-.7-1.3 .9-1.2 1h-1.2l-1.3-.6-1.2-.1-1.3-.1-.2-.2-1-.8-1.2-.6-1.3 .5-1.2 .5-1.3 .3-1.2-.1-1.2-.4-1.3-1h-1.2l-1.3 1.4-1.1 .2-.1 .1v-.1l-1.2-.8-1.3-.2-1.2 .3-1.2 .7-.1 .1-1.2 1.1-1.2 .1-1.3-.5-1.2-.4-1.3 .1-1.2-.5-1.2-.2-1.3-.2-1.2 .4h-.2l-1.1 .6-1.2 .5-1.2-.4-1.3-.6h-1.2l-1.3 .4-1.2 .3-1.2-.4-1.3 .2-1.2 .6h-1.3l-1.2-1h-1.2l-1.3 .2h-1.2l-1.3 .6-1.2 .6-1.2 .2-1.3-1-1.2-.2-1.3 .5-1.2-.3-.6-.8-.6-.7-1.3 .1-1.2 .4-1.3 .2-1.2 .3-1.2 .9-1.3 .1-1.2 .2-1.3 .7-.3 .1-.9 .2-.4-.2-.8-.9-.7-1.4-.4-2.2v-2.2l-.2-1.1-1.2 .3-.1 .8-.3 2.2-1.8 2.2-.3 .4-1.2 .9-1.3 .7-.5 .3-.7 .3-1.3 .7-1.2 .8h-1.2l-1.2-1.8-.1-.2-1.2-1.2-1.3 1.3v.1l-1.2 .6-.7-.6-.5-.2-1.3-.5-1.2 .6-.7 .1-.6 .2-.2-.2-1-.8-1.2-.4h-1.3l-1.2-.5-1.3 .9-.4 .8-.8 1.5-.4 .7-.6 2.3-.2 2.2v.9l-.2 1.4-.2 2.2-.9 1.6-1.2-.4-.7-1.2-.3-2.2 .4-2.3-.4-2.2-.3-.3-.1 .3-.6 2.2-.5 1.8-.5 .5-.3 2.2 .3 2.3 .3 2.2 .2 1 .3 1.3 .3 2.2-.6 1.6-.7 .7-.5 .8-.4 1.4-.9 1.7-1.2 .4-.9 .1-.4 .1v-.1l-1.2-1.1-1.2-.7-1.3 1-1.1 .8-.1 .1-1.3 .9-.5-1-.7-.6h-1.2l-.5 .6-.8 2-1.2-.4-1.3-.6-1.2-.2-1.1-.8-.1-.1-1.3-1.9-.6-.2-.6-.5-.7-1.8-.6-1.5-1.2-.6v-.1l-1-2.2-.2-.9-.2-1.4-.8-2.2-.3-.9-1.2-1.3-1.1-.1h-.2l-1.2-.3h-1.2l-.3 .3-1 .7-1.2 .2-1.3-.5-1.2 .2-.7-.6-.5-.5-.7-1.7-.6-1.1-1.2 .3-.6 .8-.7 1-1.2 1-1.2-.2h-1.3l-1.2-.8-1.1-1-.2-.1-2.4 .8-1.1-.7-.2-.2-1.2-.3-1 .5-1.5 .5-1.2 .8-1.3 .3-1.2-.9h-1.3l-1.2 1.3v128.2h1.2l1.3-1.2 1.2-.3 .5 1.5zM213 499.5l.2 .3 .2-.3-.2-.2zM221.6 499.5l.3 .3 .2-.3-.2-.3zM259.1 499.6l.1-.1-.1-.1zM285.1 499.5l.1 .2v-.3zM294.2 499.5l.9 .3 .4-.3-.4-.3zM306.2 499.5h.1l-.1-.5zM308.4 499.5l.3 .4 .3-.4-.3-.8zM337 499.5l.2 .4 .7-.4-.7-.4zM374.3 499.5l.1 .2 .2-.2-.2-.3zM379.2 499.5l.2 .2 .3-.2-.3-.4zM891.5 499.5v.5l.1-.5 .2-2.3-.3-1.4-.1 1.4zM224.2 497.2l.2 .3 .3-.3-.3-.7zM256.3 497.2l.3 .2 .1-.2-.1-.6zM281.3 497.2l.1 .2 .2-.2-.2-.2zM335.4 497.2l.6 1.4 .7-1.4-.7-.9zM380.5 497.2l.1 .5 .5-.5-.5-.2zM389 497.2l.3 1.7 .5-1.7-.5-.5zM241.6 495l.2 .6 .2-.6-.2-1zM245 495l.5 .6 .3-.6-.3-2.3zM265.2 495l.1 .3 .2-.3-.2-.2zM301.2 495l.1 .5 .1-.5-.1-.2zM339.4 495l.3 .4 1.3 .1 .5-.5-.5-1-1.1-1.3 .1-2.2-.3-.9-.2 .9v2.2zM278.6 492.7l.4 1.1 .4-1.1-.4-.6zM295.8 492.7l.5 1 .4-1-.4-.7zM332.1 492.7l.2 .4 .1-.4-.1-.4zM351.9 492.7l.2 .5 .7-.5-.7-.3zM381.7 492.7l.2 .2 .1-.2v-2.2l-.1-.1-.1 .1zM265.1 490.5l.2 .5 .4-.5-.4-.3zM277.6 490.5l.1 .6 .3-.6-.3-.3zM283.5 490.5l.4 .5 1.3 .8 .5-1.3-.5-.9-1.3-1.2zM288.3 490.5l.6 .7 .2-.7-.2-.4zM291.2 490.5l.2 .3 .3-.3-.3-.4zM309.7 490.5l.3 .2 .3-.2-.3-.2zM312 490.5l.4 .5 .2-.5-.2-.2zM314.9 490.5l1.3 .7 .6-.7-.6-.9-1.3 .8zM323.2 490.5l.4 1.1 .3-1.1-.3-.8zM328.5 490.5l.1 .4 .1-.4-.1-.2zM370.5 490.5l.2 .5 .5-.5-.5-.6zM375.5 490.5l.2 .5 .7-.5-.7-1zM383.6 490.5l.8 .7 .2-.7-.2-1.7zM391.5 490.5l.3 .4 .1-.4-.1-.3zM393.9 490.5l.4 .6 .6-.6-.6-.9zM425.1 490.5l.2 .9 .1-.9 .2-2.3 .2-2.2 .1-2.2 .6-.6 .6-1.7 .4-2.2 .2-2.3 .1-1.7v-2.8l.3-2.2 .3-2.3 .3-2.2v-2.3l.3-1.6 .1-.6 .3-2.2 .2-2.3-.1-2.2-.5-1.9-.4 1.9-.1 2.2v2.3l-.2 2.2-.5 .2-.6 2-.1 2.3 .1 2.2 .2 2.3-.9 1.1-.5 1.1-.3 2.3-.2 2.2-.1 2.3v2.2l-.1 .4-.2 1.9-.2 2.2 .1 2.2zM221.8 488.2l.1 .6 .3-.6-.3-.2zM268.7 488.2l.3 1.5 .3-1.5-.3-.6zM276 488.2l.5 .4 .4-.4-.4-.4zM322.1 488.2l.3 .5 .2-.5-.2-.3zM361.8 488.2l.2 .5 .6-.5-.6-.6zM389.2 488.2l.1 .4 .2-.4-.2-.4zM884.9 488.2l.4 2.3 .7-2.3 .2-2.2 .4-1.1 .2-1.1-.2-2.2-1.3 1.8-.1 .4-.3 2.2zM260 486l.4 1.3 .9-1.3-.9-.9zM266.6 486l1.2 .6 .4-.6-.4-.7zM288.5 486l.4 .3 .3-.3-.3-.5zM317.3 486l.1 .3 .2-.3-.2-.3zM340.6 486l.4 1.1 .3-1.1-.3-1.3zM355.8 486.1l.1-.1-.1-.1zM390.3 486l.3 .4 .1-.4-.1-.3zM245.4 483.8l.1 .4v-.6zM275 483.8l.2 .2 .2-.2-.2-.7zM314.4 483.8l.5 .2 .2-.2-.1-2.3-.1-.1v.1zM324.7 483.8l.1 .4 .3-.4-.3-.4zM337.1 483.8l.1 1.5 .4-1.5-.4-.5zM358.1 483.8l.2 .4 .3-.4-.3-.3zM226.4 481.5l.5 .5 .5-.5v-2.2l-.5-.4-.3 .4zM269.6 481.5l.7 .5 .5-.5-.5-.8zM294.8 481.5l.3 .5 .1-.5-.1-.2zM344.5 481.5l.2 1.3 .2-1.3-.2-.2zM355.2 481.5l.6 .2 .2-.2-.2-.1zM359.5 481.5l.1 .1v-.1l1.1-2.2-1.1-1.1-.7 1.1zM385.5 481.5l.1 .1 .7-.1zM390.4 481.5l.2 .1v-.2zM233 479.3h.2l-.1-.2zM246.8 479.3l1.2 .5 .2-.5-.2-.9zM255.6 479.3l1 .4 .6-.4-.6-.5zM298.2 479.3l.6 1.1 .5-1.1-.5-1.2zM300.9 479.3l.4 .3 .4-.3-.4-.5zM306.2 480l.1-.7-.1-.4zM339.6 479.3l.1 .9 .6-.9-.6-.3zM352.9 479.3l.5 .4 .1-.4-.1-.3zM394.1 479.3l.2 .7 .3-.7-.3-.5zM261.5 477l.1 .4 .3-.4-.3-.2zM303.6 477l.2 .3 .2-.3-.2-.4zM328 477l.6 .9 .2-.9-.2-.7zM364.3 477l.2 .6 .2-.6-.2-.3zM380.5 477l.1 .1 .1-.1-.1-1zM384.1 477l.3 .3 .3-.3-.3-.7zM225 474.8l.6 .1 .1-.1-.1-.1zM234.1 474.8l.2 .5 .3-.5-.3-.5zM237.6 474.8l.4 .4 .4-.4-.4-.7zM256.2 474.8l.4 .5 .6-.5-.6-.8zM330.8 474.8l.2 .3 .3-.3 .7-2.3-1-.6-.5 .6zM340.7 474.8l.3 .1 1.2 .3 .1-.4-.1-.1h-1.2zM353.2 474.8l.2 .2 .1-.2-.1-.1zM359.3 474.8l.3 .7 .2-.7-.2-.6zM386.8 474.9l.3-.1-.3-.2zM392.8 474.8l.2 .9 .3-.9-.3-1.2zM252.8 472.5l.1 .4 .7-.4-.7-1.2zM281.2 472.5l.2 .3 .2-.3 .2-2.2-.4-.3-.1 .3zM297.3 472.5l.3 1 .3-1-.3-.3zM300.4 472.5l.9 .7 .9-.7-.9-.5zM316.9 472.5l.5 .4 .2-.4-.2-.4zM348.4 472.7l.4-.2-.4-.1zM350 472.5l.9 .4 .3-.4-.3-.9zM377.9 472.5l.3 .2 .2-.2 .1-2.2-.3-1.5-.6 1.5zM883.9 472.5l.2 .6 .1-.6-.1-2.2zM242.9 470.3l.1 .1 .1-.1-.1-.5zM267.4 470.3l.4 .4 .2-.4-.2-.8zM302.4 470.3l.1 1.2 .5-1.2-.5-.4zM309.7 470.3l.3 .2 1.2-.1 .1-.1-.1-.5-1.2 .2zM327.2 470.3l.1 .4 .5-.4-.5-.5zM214.4 468l.1 .3 .1-.3-.1-1.1zM262.8 468v.3l.1-.3zM272.6 468l.2 1 .2-1-.2-.5zM285 468l.2 1.1 .2-1.1-.2-2.2zM321.5 468l.9 1.1 .4-1.1-.4-1zM355.5 468l.3 .8 .3-.8-.3-.4zM369.2 468l.3 .5 .8-.5-.8-.5zM385.1 468l.5 .7 .3-.7-.3-.6zM391.1 468l.7 .9 .6-.9-.6-.8zM224.9 465.8l.7 1 .3-1-.3-1.1zM228 465.8l.1 .3 .6-.3-.6-.3zM252.4 465.8l.5 1.1 .3-1.1-.3-.7zM268.5 465.8l.5 .9 .7-.9-.7-.5zM280.1 465.8l.1 .2 .1-.2-.1-.2zM292.3 465.8l.3 .6 .4-.6-.4-.5zM303.6 465.8l.2 .2 .2-.2-.2-.1zM340.9 465.8l.1 .3 .3-.3-.3-.3zM261.3 463.5l.3 .7 .6-.7-.6-.2zM264.9 463.5l.4 .8 .3-.8-.3-2.2zM286.2 463.5l.2 1.1 .3-1.1-.2-2.2-.1-.3-.1 .3zM294.8 461.3l.3 .6 .5-.6-.5-.4zM308.5 461.3l.2 1.9 .6-1.9-.6-.8zM312.2 461.3l.2 .3 .4-.3-.4-.8zM331.7 461.3l.6 .7 .3-.7-.3-.7zM340.8 461.3l.2 .4 .2-.4-.2-.8zM347.9 461.3l.5 1 .8-1-.3-2.2-.5-.8-.9 .8zM365.6 461.3l.2 .2v-.4zM380.4 461.3l.2 .3 .2-.3-.2-.3zM387.8 461.3l.3 1.6 .3-1.6-.3-.6zM257.8 459.1l.1 .2 .2-.2-.2-.3zM275.1 459.1l.1 .9 .2-.9-.2-.5zM330.8 459.1l.2 .9 .4-.9-.4-.7zM335.3 459.1l.7 .9 .5-.9-.5-1zM231.7 456.8l.1 2 .2-2-.2-.9zM238.6 456.8l.7 .6 .4-.6-.4-.8zM242.6 456.8l.4 .8 .6-.8-.6-1.5zM247.3 456.8l.7 .4 .8-.4-.8-.7zM273.6 456.8l.4 .3 .3-.3-.3-.7zM297.5 456.8l.1 .2 .4-.2-.4-.1zM315.9 456.8l.3 .5 .2-.5-.2-.9zM323.2 456.8l.4 .6 .5-.6-.5-.5zM338.3 456.8l.2 .6 .3-.6-.3-.4zM363.2 456.8l.1 .3 .2-.3-.2-.5zM892.6 456.8l.2 .4 .1-.4 .2-2.2v-2.3l-.3-.6-.1 .6-.2 2.3zM237.8 454.6l.2 .6 .2-.6-.2-1.8zM267.7 454.6l.1 1 .1-1 .1-2.3-.2-1.1-.5 1.1zM284.9 454.6l.3 .4 .5-.4-.5-.5zM310.8 454.6l.4 .5 .2-.5-.2-.4zM339.6 454.6l.1 .4 1.3-.1 .3-.3-.3-.5-1.3-.5zM364.2 454.6l.3 .3 .5-.3-.5-1.1zM238.3 452.3l1 .4 .1-.4-.1-.4zM280.1 452.3l.1 .3 .1-.3-.1-.1zM288.8 452.3l.1 .2 .1-.2-.1-.3zM298.7 452.3l.1 .1 .6-.1-.6-.1zM329.6 452.3l.2 .1 .5-.1-.5-.2zM338.3 452.3l.2 .2 .4-.2-.4-.4zM379.1 452.3l.3 .7 1.2 .2 .3-.9-.3-.6-1.2-.2zM382.9 452.3l.2 1 .3-1-.3-.3zM389.5 452.3l1.1 .2v-.3zM221.8 450.1l.1 1.2 .2-1.2-.2-.2zM237.9 450.1l.1 1.9 .4-1.9-.4-.2zM241.7 450.1l.1 .3 .2-.3-.2-.1zM257.6 450.1l.3 .2 .1-.2-.1-.3zM336.9 450.1l.3 .8 .6-.8-.6-1.1zM352 450.1l.1 .2 .1-.2-.1-.1zM359.9 450.1l.9 1.3 .6-1.3-.6-1.2zM894 450.1v-7.1l-.1 .3-.3 2.3 .2 2.2zM250.2 447.8l.2 1 1.3-.3 .2-.7-.2-.2-1.3-.3zM262.7 447.8l.1 .3 .3-.3-.3-1.1zM265.8 447.8l.8 1.1 .6-1.1-.6-1.4zM290.1 447.8l1.3 .3 .1-.3-.1-1.7zM296.8 447.8l.8 1 1.2 .1 .9-1.1-.5-2.2-.4-.6-.2 .6-1 1.5zM302.4 447.8l.1 1.6 .4-1.6-.4-.5zM304.5 447.8l.5 .4 .3-.4-.3-.3zM308.6 447.8l.1 .2 .1-.2-.1-.1zM327 447.8l.3 1.1 .3-1.1-.3-2zM329.4 447.8l.4 1 .5-1-.5-.5zM381.3 447.8l.6 1.3 .9-1.3-.9-.9zM888.7 447.8l.3 .3 .1-.3 .1-2.2-.2-.5-.1 .5zM220.8 445.6l1.1 .7 .5-.7-.2-2.3-.3-1.4-.4 1.4zM245.3 445.6l.2 .3 .1-.3-.1-.3zM276.4 445.6l.1 .1 .1-.1-.1-.1zM296.3 445.9l.1-.3-.1-2.3zM361.8 445.6l.2 .3 .3-.3-.3-.4zM376.1 445.6l.8 .5 .6-.5-.6-1.3zM387.9 445.6l.2 .3 .2-.3-.2-.4zM886.4 445.6l.2 1.1 .2-1.1 .2-2.3-.4-1.8-.3 1.8zM224.3 443.3l.1 .2 .3-.2 .5-2.2-.8-.6-.7 .6zM226.7 443.3l.2 .2 .3-.2-.3-.1zM228.9 443.3l.5 .4 .1-.4-.1-.6zM239 443.3l.3 1.6 .7-1.6-.7-2v-.3l.7-2.2-.7-1.2-.6 1.2-.7 .9-.5 1.4 .5 1.1zM269.3 443.3l1 .8 .4-.8-.4-.6zM347 443.3l.2 .5 .8-.5-.8-.3zM359.3 443.3l.3 .4 .3-.4-.3-.7zM368.7 443.3l.8 1.7 .1-1.7-.1-.3zM377.6 443.3l.6 .7 .3-.7-.3-1zM394.2 443.3l.1 .2 .1-.2-.1-.2zM230 441.1l.6 .5 1.1-.5-1.1-.5zM241.7 441.1l.1 .1 .2-.1-.2-.1zM290.8 441.1l.6 .5 .4-.5-.4-.4zM303.7 441.1l.1 .3 .2-.3-.2-.2zM329 441.1l.8 1.1 .7-1.1-.7-.7zM366.2 441.1l.8 .8 1.2 .8 .3-1.6-.3-.4-1.2-.3zM242.7 438.8l.3 1.3 .2-1.3-.2-.6zM251.5 438.8l.2 .4 .2-.4-.2-.6zM284.7 438.8l.5 1 .6-1-.6-1zM324.5 438.8l.3 .6 .4-.6-.4-.4zM339.6 438.8l.1 .7 .2-.7-.2-.1zM256.9 436.6l1 .5 .2-.5-.2-.9zM287.5 436.6l.1 .5 .3-.5-.3-.8zM312.1 436.6l.3 .4 .4-.4-.4-.6zM361.8 436.6l.2 .8 .3-.8-.3-1.5zM366.8 436.6l.2 .1 1.2 .7 .6-.8-.6-.8-1.2 .1zM380.5 436.6l.1 .4 .2-.4-.1-2.2-.1-.2-.2 .2zM392.6 436.6l.4 .7 .5-.7-.5-1.2zM234 434.4l.3 .4 .5-.4-.5-.7zM273.8 434.4l.2 .1 .1-.1 1-2.3-1.1-.4-.2 .4zM277.1 434.4l.6 .5 .6-.5-.4-2.3-.2-.4-.2 .4zM314.8 434.4h.2l-.1-.3zM332 434.4l.3 .2 .1-.2-.1-.4zM349.3 434.4l.3 .7 .5-.7-.5-2zM227.9 432.1l.2 .2 .2-.2-.1-2.2-.1-.2v.2zM246.5 432.1l.2 .4 .4-.4-.4-.3zM298.5 432.1l.3 .4 .6-.4-.6-.2zM302.9 432.1l.9 1.1 1.2-.5 .3-.6-.3-.8-1.2-.9zM316.9 432.1l.5 .8 .6-.8-.6-1.2zM371.4 432.1l.6 .9 .1-.9-.1-.3zM375.5 432.1l.2 1.2 .1-1.2-.1-.1zM377.8 432.1l.4 1.4 1.2-1.4-1.2-.7zM168.5 429.9l.1 .7 .2-.7-.2-.4zM213.5 429.9l1 .4 .1-.4-.1-.3zM230.2 429.9l.4 1.8 .4-1.8-.4-1.1zM235.1 429.9l.5 .2 .3-.2-.3-.2zM270 429.9l.3 .8 .3-.8-.3-.8zM272.3 429.9l.5 .5 .3-.5-.3-.7zM281.3 429.9l.1 .2 .2-.2-.2-.3zM289 429.9l1.1 .4 .4-.4-.4-.7zM306 429.9l.2 .3 .2-.3-.2-.3zM312.4 430l.2-.1-.2-.2zM327.2 429.9l.1 .3 .1-.3-.1-.4zM386.8 429.9h.1l-.1-.1zM215.4 427.6l.3 .4 .5-.4-.5-1.5zM224.2 427.6l.2 .4 .1-.4-.1-.3zM307.4 427.6l.1 .1 .1-.1-.1-.1zM316 427.6l.2 .3 .2-.3-.2-.3zM352 427.6l.1 .3 .1-.3-.1-.2zM221 425.4l.9 2.1 .4-2.1-.4-.5zM264.9 425.4l.4 1.1 .3-1.1-.3-.8zM292.6 425.4h.1l1-2.3-1.1-1.1-.9 1.1zM334.6 425.4l.2 .5 .4-.5-.4-.9zM339.4 425.4l.3 .4 .3-.4-.3-1zM347.3 425.4l1.1 1 .5-1-.5-.7zM253.9 423.1l.3 .2 .1-.2zM272.5 423.1l.3 .3 1.2-.1 .1-.2-.1-.4-1.2-.3zM340.7 423.1l.3 .3 .1-.3-.1-.2zM353.3 423.1l.1 .1v-.2zM252.6 420.9l.3 1.4 .2-1.4-.2-.4zM288.7 420.9l.2 .2 .3-.2-.3-.4zM297.1 420.9l.5 .4 .2-.4-.2-2.3 .4-2.2v-2.3l-.4-.2-.2 .2-.2 2.3-.9 1.5-.5 .7 .5 1.1zM224.1 418.6l.3 .3 .2-.3-.2-.2zM230.2 418.6l.4 .6 .8-.6-.8-1.1zM232.8 418.6l.3 .1v-.1zM256.5 418.6l.1 .7 .2-.7-.2-.7zM280.2 418.6l1.2 1.2 .8-1.2-.8-1.1zM331 418.9l.2-.3-.2-.2zM348.1 418.6l.3 .3 .3-.3-.3-.4zM393 418.7l.1-.1-.1-.1zM225.6 416.6l.2-.2-.2-.1zM227.4 416.4l.7 1.1 .5-1.1-.5-1.4zM236.3 416.4l.5 1.1 .7-1.1-.5-2.3 .2-2.2-.4-.6-.2 .6 .1 2.2zM265.1 416.4l.2 .4 1.3 1 .7-1.4-.7-1-1.3 .8zM272.7 416.4l.1 .1v-.3zM275 416.4l.2 .6 .9-.6-.9-.6zM282.4 416.4l.3 .8 .2-.8-.2-.9zM313.5 416.4l.2 .4 .2-.4-.2-.2zM339.1 416.4l.6 .7 .5-.7-.5-.7zM390.5 416.4l.1 .3 .1-.3-.1-.1zM259 414.1l.1 1.5 .2-1.5-.2-.2zM279.8 414.1l.4 .9 .7-.9 .1-2.2-.8-.4-.6 .4zM309.3 414.1l.7 1.1 .3-1.1-.3-1.1zM314.7 414.1l.2 .9 .4-.9-.4-.4zM318 414.1l.6 .7 .5-.7-.5-.3zM378.8 414.1l.6 .3 .4-.3-.4-.5zM222.8 411.9l.4 .4 .4-.4-.4-.5zM231.7 411.9l.1 .1 .1-.1-.1-.5zM246.4 411.9l.3 .6 .3-.6-.3-.5zM248.8 411.9l.4 1.3 .4-1.3-.4-.8zM256.6 412l.1-.1-.1-.1zM281.8 411.9l.9 1 .4-1-.4-.6zM293.7 411.9l.1 .3 1.3-.1 .2-.2-.2-.2-1.3-.1zM315.9 411.9l.3 .6 1.2 .7 .2-1.3-.2-.9-1.2 .6zM322 411.9l.4 .5 .4-.5-.4-.5zM330.7 411.9l.3 .8 .3-.8-.3-.3zM354.7 411.9l1.1 1 .8-1-.8-.6zM366.4 411.9l.6 .4 1.2-.4h.1l-.1-.1-.7-2.2-.5-.4-.4 .4zM213.1 409.6l.1 .2 .3-.2-.3-.2zM225.4 409.6l.2 .5 .3-.5-.3-1.5zM244.1 409.6l.1 .4 1.2-.4-1.2-.1zM257.6 409.6l.3 .5 .3-.5-.3-.4zM277.5 409.6l.2 1.1 .4-1.1-.4-.6zM290.9 409.6l.5 .5 .1-.5-.1-.2zM328.5 409.6l.1 .1v-.1zM333.1 409.6l.4 .5 .4-.5-.4-.6zM343.3 409.6l.1 .4 .2-.4-.2-.2zM363.1 409.6l.2 .4 1.2-.3 .1-.1-.1-.2-.6-2-.6-.7-.5 .7zM371.9 409.6l.1 .8 .2-.8zM394.2 409.6l.1 .1 .1-.1-.1-1zM224 407.4l.4 .9 1.1-.9 .1-1.6 .3 1.6 1 .6 .3-.6-.1-2.2-.2-.4-1.3 .2-.4 .2-.8 .2zM236.7 407.4l.1 .2 1.2 .5 .4-.7-.4-.5-1.2 .4zM289.9 407.4l.2 .9 .2-.9-.2-.3zM313.5 407.4l.2 .2 .1-.2-.1-.2zM334.6 407.4l.2 .3v-.5zM351.8 407.4l.3 .2 .1-.2v-2.2l-.1-.2-.1 .2zM381.8 407.4l.1 .1 .1-.1-.1-.2zM383.7 407.4l.7 1 .7-1-.7-1.7zM267.4 405.2l.4 .7 .9-.7-.9-.9zM287.6 405.2h.1l1.2-2.1 .5-.2-.5-.2-1.3-.2-.3 .4zM317.3 405.2l.1 .2 1.2 .1 .4-.3-.4-.6-1.2-.1zM358.3 405.2h.1l-.1-.2zM374.4 405.9l.1-.7-.1-.3zM261.4 402.9l.2 .2 .1-.2-.1-.4zM265 402.9l.3 .7 .3-.7-.3-.7zM272.3 402.9l.5 .3 .2-.3-.2-.8zM290.8 402.9l.6 .2 .6-.2-.6-.4zM306.1 402.9l.1 1.1 .2-1.1-.2-1.5zM354.3 402.9l.3 .7 1.2 .2 .4-.9-.4-.8-1.2 .1zM378.1 402.9l.1 .3 .1-.3-.1-.1zM281.4 400.9l.1-.2-.1-.2zM325.9 400.7l.2 .6 .3-.6-.3-1.7zM485.5 393.9l.5 2.1 .5-2.1v-2.2l-.2-2.3-.3-.8-.1 .8-.3 2.3zM487.2 384.9l.1 .6v-1.2zM748.9 378.2h0l.1-2.2-.1-1.2-.1 1.2zM784.7 362.5l.2 .7v-1.7zM585.6 355.7l.9 .8 .2-.8 .1-2.2-.3-1.4-.6 1.4zM680.5 353.5l.2 1 .1-1-.1-.7zM398.4 342.3l.8 1.2 1.3 .8h1.2l1.3-.1 1.2-.1 1.2-.7 1.3-.6h1.2l1.3 .5 1.2 .2 1.2-.2 1.3-.3 1.2-.3 1.3-.2 2.4-.2 1.3-.2 1.2-.1 1.3-.2 1.2-.1 1.2 .1 1.3-.1 1.2-.3 1.3-.2 1.2 .1 1.2 .2 1.3-.1 1.2-.4 1.3-.1h1.2l1.2-.6 .4-.3 .9-.7 1.2-.5 1.3 .1 1.2 .2 1.2-.4 1.3-.4 1.2-.2 1.3 .2 1.2 .1 1.2-.3 1.3-.1 1.2 .1 1.3 .1 1.2 .1 .6-.5 .6-.8 1.2-1.5 .1-.2h1.2l1.3 .2 1.2-.3 1.2 .3 .9-2.2 .4-1.2 1.2 .3 .7 .9 .6 .6 1.2 .6 .6-1.2 .6-1.6 1.3 .5 1.2 .9 .4 .2 .9 .2 .1-.2 .5-2.3 .1-2.2-.1-2.3-.2-2.2 .8-1.6 .7 1.6 .5 1.7 .2 .5 .3 2.3 .5 2.2 .3 .6 1.2 1.7v.1l.1-.1 .6-2.3 .2-2.2 .3-2.3 .1-.3 .2-1.9-.1-2.2-.1-.9-.3-1.4-.5-2.2-.5-1.5-.4-.8-.8-1.1-1-1.1-.3-.3-.3 .3-.9 1.4-.8 .8-.4 .9-1.1-.9-.2-.1-.5-2.1-.7-1.6-.8-.7-.5-.4-.8-1.8-.4-.8-1.2-1.5-1.3-1-.4-1.2-.7-2.3-.1-.7-.8-1.5-.3-2.2-.2-.6-.1 .6-.2 2.2-.4 2.2-.5 .9-1.2-.4-.2-.5-1.1-2.2h-.6l-.6 .1-1.3 1.2-1.2 .9v.1l-1.2 .3-.2-.4-.9-2.2-.2-.3-1.2-1.9h-.1l-1.2-1.4-1.2 .2-1.2 1-1.3 .1-1.2-1.5-.5-.7-.8-1.2-.4-1-.7-2.3-.1-.2-.2 .2-.9 2.3-.1 .5-1.3 1.3-1.2-1.5-1.2 1.9-.1 .1-1.2 .2-1.2 1.4-1.3-.2-.7-1.5-.5-1.7-.7-.5-.6-.8-.2 .8-1 1.7-1.2-1.4-.5-.3-.8-.8-1.2 .7-1.3-.9-.8 1-.4 .3-.7-.3-.5-.5h-1.3l-.9 .5-.3 .2-1.3 1.3-.9-1.5-.3-.8-1.2-1.5h-.1l-1.2 .8-1.2 .1-1.3-.6-1.2-.1-1.2 1.6-.2 .5-.7 2.2-.4 .8-.5 1.5-.7 1-1.3 1.3-1.2 .8-.9 1.3-.3 .4-1.3 .9-1.2 .3-1.3 .7-1.2 1.4-.5 .8-.2 2.3 .7 2.1v.2l-.7 2.2-.4 2.2-.1 2.3v1l-.1 1.2v2.3l-.1 2.2v4.5l.1 2.2 .1 .3 .1 2 .1 2.2 .2 2.3 .3 2.2 .5 1.6zM483.5 322.1l.1 .2v-.3zM300.8 306.3l.5 .6 .9-.6-.9-.6zM306.2 306.4l.1-.1-.1-1.1zM325.4 306.3l.7 .2 .3-.2-.3-.2zM334.5 306.3l.3 .2 .5-.2-.5-1.5zM376.4 306.3l.5 .4 .4-.4-.4-1.5zM382.9 306.3l.2 .1 .2-.1-.2-.2zM243.8 304.1l.4 1.3 .3-1.3-.3-.3zM315.6 304.1l.6 .3 .3-.3-.3-.7zM324.5 304.1l.3 1.6 .3-1.6-.3-.6zM333.5 304.2l.3-.1-.3-.1zM348.3 304.1l.1 1.1 .2-1.1-.2-.1zM373.1 304.1l.1 .2v-.3zM380.2 304.1l.4 1 .7-1-.7-.9zM385.4 304.1l.2 .4 .7-.4-.7-.6zM387.4 304.1l.7 .6 .2-.6-.2-.5zM302.3 301.8l.2 .4 .3-.4-.3-.4zM364.2 301.8l.3 .4 .3-.4-.3-.4zM239.1 299.6l.2 .3 .1-.3-.1-.6zM313.4 299.6l.3 .5 .3-.5 .9-1.9 .2-.3-.2-.8-1.2 .4-.1 .4zM345.3 299.6l.6 .4 .2-.4-.2-.6zM371.6 299.6l.4 .9 .2-.9-.2-.4zM389.8 299.6l.8 .3 .2-.3-.2-.9zM226.4 297.4l.5 1.5 .6-1.5-.6-1zM231.8 297.4l1.3 .2 .1-.2-.1-.3-1.3 .2zM278.7 297.4l.3 .3 .4-.3-.4-.3zM284.9 297.4l.3 1.1 .3-1.1-.3-.4zM307.4 297.4h.1v-.1zM334.6 297.4l.2 .1 .1-.1-.1-.5zM349.5 297.4l.1 .2 .1-.2-.1-1.4zM247.7 295.1l.3 .3 .2-.3 .4-2.2-.6-1.1-1.2 1.1zM283.7 295.1l.2 .2 .1-.2-.1-.1zM293.5 295.1l.3 .7 .5-.7-.5-.5zM320.9 295.1l.2 .3 .3-.3-.3-.4zM352 295.1l.1 .2 .1-.2 .5-2.2-.5-2.3-.1-.2h-1.2l-.1 .2 .1 .3 .6 2zM385.2 295.1l.4 .8 .5-.8-.5-.6zM289.8 292.9l.3 1.1 .3-1.1-.3-1.4zM301 292.9l.3 .4 .3-.4-.3-2.3v-.1l-.1 .1zM310.9 292.9h.4l-.1-.1zM337.1 292.9l.1 .5 .7-.5-.7-.6zM387.1 292.9l1 .6 .5-.6-.5-.3zM234.1 290.6l.2 .6 .6-.6-.6-1.2zM245.3 290.6l.2 .3 .3-.3 .2-2.2-.5-.5-1.3 .3v.3zM268.6 290.6l.4 1 .8-1-.8-1zM277.6 290.6l.1 .2 .1-.2-.1-.2zM286 290.6l.4 1 .6-1-.6-.8zM316.1 290.6l.1 .1v-.1l.1-2.2-.1-.3-.2 .3zM344.5 290.6l.2 1 .1-1-.1-.5zM348.3 290.6l.1 .4 .1-.4-.1-.3zM371.8 290.6l.2 1.2 .1-1.2-.1-.6zM384.3 290.6l.1 .3 .1-.3-.1-.1zM228 288.4l.1 .5 .4-.5-.4-.5zM247.8 288.4l.2 .2 .2-.2-.2-.2zM252.9 288.4l1.3 .5 .9-.5-.9-.8zM288.6 288.4l.3 .3 .2-.3-.2-1.1zM296.3 288.4h.1l-.1-.1zM302.5 288.4h.1l-.1-.1zM310.8 288.4l.4 1.1 .4-1.1-.4-.9zM331.5 288.4l.8 .7 .9-.7-.9-.3zM343 288.4l.4 .6 .6-.6-.6-.6zM370.3 288.4l.4 .4 .5-.4-.5-1.2zM376.6 288.4l.3 1.1 .4-1.1-.4-1.8zM226.8 286.1l.1 .2 .1-.2-.1-.5zM260.3 286.1l.1 .3v-.4zM272.7 286.1l.1 .3 .1-.3-.1-.7zM309.7 286.1l.3 .3 .2-.3-.2-.7zM314.8 286.1l.1 .2 .1-.2-.1-.3zM340.2 286.1l.8 .3 .7-.3-.7-.5zM344.6 286.1l.1 .5 .1-.5v-2.2l-.1-.1-.1 .1zM359.4 286.1l.2 .4 .1-.4-.1-.4zM363.1 286.1l.2 .2 .1-.2-.1-.1zM365.7 286.1l.1 .1 .1-.1zM371.4 286.1l.6 .8 .2-.8-.2-.3zM386.6 286.1l.2 1 .8-1-.8-.8zM221.2 283.9l.7 1.4 .7-1.4-.7-.8zM243.7 283.9l.5 1 .8-1-.8-.5zM280 283.9l.2 .2 .2-.2-.2-.4zM299.6 283.9l.4 .2 .2-.2-.2-.3zM284.7 281.6l.5 1.9 .7-1.9-.7-.3zM319.7 281.6l.2 1.6 .2-1.6-.2-.4zM332 281.6l.3 .5 .2-.5-.2-.4zM255.3 279.4l.1 .3h1.2l.6-.3-.6-.9-1.2 .6zM270.2 279.4h.1v-.1zM304.8 279.4l.2 .7 .2-.7-.2-.5zM324.6 279.4l.2 .3 .3-.3-.3-.2zM362 279.8l.1-.4-.1-.2zM237.7 277.1l.3 .6 .6-.6-.6-.4zM251.3 277.1l.4 .4 .2-.4-.2-.7zM275.2 277.5l.2-.4-.2-.3zM306 277.1l.2 .4 1.3-.3 .1-.1 .5-2.2-.6-.7-1.3-.5-.2 1.2zM325.8 277.1l.3 1 .3-1-.3-.4zM345.5 277.1l.4 .6 .4-.6-.4-.4zM350.5 277.1l.4 .6 .3-.6-.3-.5zM376.7 277.1l.2 .4 .3-.4-.3-.3zM389.2 277.1l.1 .3 .1-.3-.1-.1zM229.3 274.9h.1v-.1zM292.1 274.9l.5 1.1 .4-1.1-.4-1.3zM324.8 275l.1-.1-.1-2.1zM349.5 274.9l.1 .3 .2-.3-.2-.3zM247.2 272.6l.8 .5 .2-.5-.2-.6zM296.1 272.6l.2 .2 .2-.2-.2-.2zM312.2 272.6l.2 .1 .1-.1-.1-.4zM338 272.6l.5 .4h1.2l.3-.4-.3-.4-1.2 .3zM352.3 272.6l1.1 .6 .5-.6-.5-.9zM363.1 272.6l.2 .9 .2-.9-.2-.3zM384.2 272.6l.2 .2 1.2 .4 .5-.6-.5-.6-1.2 .4zM229.3 270.4l.1 .1v-.2zM318.5 270.4l.1 .1 .1-.1-.1-1zM357.8 270.4l.5 .7 1.3 .1 .2-.8-.2-.7-1.3-.1zM365.6 270.4l.2 .3 .2-.3-.2-.2zM375.5 270.4l.2 .2h1.2l.2-.2-.2-.5-.8-1.7-.4-.6-.2 .6zM387.8 270.4l.3 1.1 1.2-.7 .2-.4-.2-.3-1.2-.4zM244.9 268.2l.6 1.2 .7-1.2-.7-1.7zM253.7 268.2l.5 1.5 1-1.5-1-.6zM281.1 268.2l.3 .8 1.3-.8 .5-2.3 .7-1.4 .2-.8-.2-.6-1.2 .4-.1 .2-.2 2.2-1 1.6zM288.5 268.2l.4 1 .2-1-.2-.4zM313.6 268.2l.1 .1 .1-.1-.1-.2zM360.3 268.2l.5 .6 .4-.6-.4-.9zM215.7 266l.3-.1-.3-1.6zM227.8 265.9l.3 .6 .3-.6-.3-.2zM231.4 265.9l.4 1 .4-1-.4-1.6zM251.6 265.9l.1 .4 .1-.4-.1-.1zM286.4 266.2l.1-.3-.1-.2zM293.4 265.9l.4 1.1 .4-1.1-.4-.7zM306.2 266.1l.1-.2-.1-.2zM314.7 265.9l.2 .4 .3-.4-.3-.4zM344.4 265.9l.3 .4 .4-.4-.4-.6zM359.2 265.9l.4 .8 .3-.8-.3-.8zM373 265.9l.2 .6 .3-.6-.3-1.3zM214.3 263.7l.2 .2 1.1-.2-1.1-.5zM263.8 263.7l.3 .7 .2-.7-.2-.5zM286.3 261.4l.1 .5 .1-.5-.1-.1zM304.6 261.4l.4 1 1.2-.7 .1-.3-.1-.5-1.2-.8zM319.8 261.4l.1 .2 .1-.2-.1-.1zM361.8 261.4l.2 .4 .3-.4-.3-.8zM378.9 261.4l.5 .9 .3-.9-.3-1.4zM270.1 259.2l.2 .2 .2-.2-.2-1.1zM291.3 259.2l.1 .1 .1-.1-.1-.1zM294.8 259.2l.3 .3 .1-.3-.1-.5zM297.5 259.2l.1 .4 .1-.4-.1-.2zM312.2 259.2l.2 1.3 .4-1.3-.4-.4zM278.5 256.9l.5 .5 .4-.5-.4-.8zM313.5 256.9l.2 .5 .4-.5-.4-.2zM326 256.9l.1 1 .1-1-.1-.2zM351.6 256.9l.5 1.1 .4-1.1-.4-2.2zM365.7 256.9l.1 .3 .6-.3v-2.2l-.6-.3-.4 .3zM230.5 254.7l.1 .3 .6-.3-.6-.2zM345.3 254.7l.6 .8 .7-.8-.7-.8zM359.5 254.7l.1 .4 .1-.4-.1-.3zM379.2 254.7l.2 .9 .2-.9-.2-.7zM269.9 252.4l.4 .8 .2-.8-.2-.3zM288.6 252.4l.3 .4 .1-.4-.1-.2zM375.5 252.4l.2 .3 .2-.3-.2-.5zM380.4 252.4l.2 .2 .1-.2-.1-.2zM389.2 252.4l.1 .5 .2-.5-.2-2.2zM218.1 250.2l.1 .1 .2-.1-.2-.1zM325.7 250.2l.4 .5 .7-.5-.7-.4zM372.7 250.2l.5 1 .6-1-.6-1.5zM246.6 247.9l.1 .4 .3-.4-.3-.2zM255.2 247.9l.2 .7 .2-.7-.2-1.7zM282.2 247.9l.5 .5 .3-.5v-2.2l-.3-.4-.1 .4zM291.1 247.9l.3 .4 .4-.4-.4-1.6zM306.1 247.9l.1 .2 .1-.2-.1-.1zM378 247.9l.2 .3 .2-.3-.1-2.2-.1-.2-.2 .2zM219.2 245.7l.2 .4 .3-.4v-2.2l-.3-.3-.1 .3zM266.2 245.7l.4 .2v-.5zM273.8 245.7l.2 .6 .2-.6-.2-.5zM294.5 245.7l.6 .9 .5-.9-.5-.5zM302.3 245.7l.2 .2 1.1-.2-1.1-.7zM312.3 245.7l.1 .5 .6-.5-.6-.6zM314.5 245.7l.4 .3 .1-.3-.1-.5zM322 245.7l.4 1.9 .5-1.9-.5-.5zM325.9 245.7l.2 .3 .6-.3-.6-1.1zM351.9 245.7l.2 .6 .4-.6-.4-.7zM380.3 245.7l.3 1.2 .6-1.2-.6-.6zM214.3 243.5l.2 .4 .1-.4-.1-.1zM256.6 243.6l.1-.1-.1-.2zM280.1 243.5l.1 .1 .1-.1-.1-.2zM285.1 243.5h.1v-.2zM335.8 243.5l.2 1.4 .4-1.4-.3-2.3-.1-.1v.1zM339.7 243.6l.1-.1-.1-.3zM345.8 243.5l.1 .2 .1-.2-.1-.7zM386.8 243.9l.1-.4v-2.3h-.1zM232.9 241.2l.2 .4 .1-.4-.1-.4zM235.4 241.2l.2 1.2 1.2-1v-.4l-1.2-.1zM250.3 241.2l.1 .1 .2-.1-.2-.2zM253 241.2l1.2 1.4 .6-1.4-.6-.9zM263.9 241.2l.2 .4v-.7zM286.2 241.2l.2 .3 1-.3-1-.2zM304.9 241.2l.1 1 .3-1-.3-1.4zM330.2 241.2l.8 .9 .5-.9-.5-1.4zM349.6 242l.3-.8-.3-.6zM244.2 239.3l.2-.3-.2-.2zM267.5 239l.3 .7 .2-.7-.2-.7zM278.8 239l.2 .3 .1-.3-.1-.5zM319.7 239l.2 .2 .1-.2-.1-.4zM322.4 239l1.2 .3 .1-.3-.1-.7zM327.9 239l.7 .7 1.2-.7v-.1l-1.2-1.9zM371.8 239l.2 .3 .2-.3-.2-.5zM374.4 239h.1l-.1-.1zM380.6 239h.1l-.1-.1zM387.2 239l.9 1.3 1-1.3-1-1.3zM221.7 236.7l.2 .5 .1-.5-.1-.1zM246.4 236.7l.3 .6 .2-.6-.2-.7zM269 236.8l.2-.1-.2-.4zM281.2 236.7l.2 1 .4-1-.4-1.1zM285 236.7l.2 .3 .1-.3-.1-.7zM300 238.6l.1-1.9-.1-.2zM330.7 236.7l.3 .6 .3-.6-.3-.2zM346.9 236.7l.3 .2 .1-.2-.1-.1zM358.2 236.7l.1 .3 .1-.3-.1-.2zM226.4 234.5l.5 1 1.2-.7 .3-.3-.3-.8-1.2-.1zM251.6 234.5l.1 .1 .1-.1-.1-.3zM254.1 234.5l.1 .2v-1.1zM277.3 234.5l.4 .2 1.3 .8 .4-1-.4-.7-1.3 .4zM351.3 234.5l.8 .8 .7-.8-.7-2.2zM387.5 234.5l.6 .4 .4-.4-.4-.4zM283.7 232.2l.2 .3 .2-.3-.2-.4zM293.7 232.2l.1 .5 .4-.5-.4-.3zM337 232.2l.2 .1 .1-.1zM365.7 232.2l.1 .1v-.1zM371.8 232.2l.2 .3 .1-.3-.1-.3zM374 232.2l.4 .5 .7-.5-.7-.5zM383 232.2l.1 .4 .1-.4-.1-.2zM385.1 232.2l.5 1.7 .6-1.7-.6-1.1zM222.8 230l.4 .3 .3-.3-.3-1zM226.8 230l.1 .1h1.2v-.1l-1.2-.1zM240 230l.5 .7 .4-.7-.4-1.1zM244 230l.2 .3 .4-.3-.4-.5zM262.8 230l1.3 .1v-.3l-1.3 .1zM267.5 230l.3 .4 .3-.4-.3-.5zM275.1 230l.1 .5 .2-.5-.2-.3zM285.1 230l.1 .1v-.1l.1-2.3-.1-1-.2 1zM306.2 230.2l.1-.2-.1-.1zM317.2 230l.2 .4 .4-.4-.4-.4zM325.5 230l.6 .4 .3-.4-.3-.7zM331.9 230l.4 .7 .1-.7-.1-.6zM359.5 230h.2l-.1-.1zM380.5 230l.1 .6 .2-.6 .1-2.3-.3-.3-.2 .3zM224.3 227.7l.1 .1v-.2zM233.6 227.7l.7 1 .9-1-.9-1.2zM272.5 227.7l.3 .4 .2-.4-.2-.2zM288.7 227.7l.2 .2 .2-.2-.2-.4zM296.1 227.7l.2 .3 .3-.3-.3-.4zM309.5 227.7l.5 2.2 .2-2.2-.2-.2zM335.9 227.7l.1 .3 .1-.3-.1-.2zM338.3 227.7l.2 .6 .1-.6-.1-.4zM355.7 227.7l.1 .2 .3-.2-.3-.1zM213.9 225.5l.6 .4 .3-.4-.3-.4zM220.5 225.5l.2 .3 1.2 .4 .5-.7-.5-.6-1.2-.6zM227.9 225.5l.2 .2 .1-.2-.1-.3zM241.5 225.5l.3 .6v-.7zM255 225.5l.4 1 .1-1 1.1-2 .3-.3-.3-.4-1.2 .4zM260.2 225.5l.2 .2 .4-.2-.4-.2zM274 225.7l.2-.2-.2-.2zM313.6 225.5l.1 .3 .1-.3-.1-.3zM317.4 225.6l1.2 .3 .5-.4-.5-.9-1.2 .8zM339.4 225.5l.3 .3 .2-.3-.2-.5zM352 225.5l.1 .3 .2-.3-.2-.3zM357 225.5l.1 .5 .1-.5-.1-.2zM365.7 225.5l.1 .4 .8-.4zM279.7 223.2l.5 1.3 .7-1.3-.7-.4zM304.5 223.2l.5 .7 .5-.7-.4-2.2-.1-.4-.2 .4zM393 223.4l.1-.2-.1-.1zM245.4 221l.1 .1 .2-.1-.2-.1zM281.3 221l.1 .9 .3-.9-.3-.4zM294.6 221l.5 .1 .2-.1-.2-.6zM317.4 221h.1l-.1-.1zM320.6 221l.5 .8 .4-.8-.4-.5zM339.6 221l.1 .2 1.3 .2 .4-.4-.4-.4-1.3 .3zM353.2 221l.2 .2 .2-.2-.2-.2zM364.3 221l.2 .6 .3-.6-.3-.3zM239.1 218.8l.2 .4 .2-.4-.2-.6zM258.8 218.8l.3 .7 .3-.7-.3-.6zM293.7 218.8l.1 .6 .3-.6-.3-.4zM303.7 218.8h.1v-.1zM329.5 218.8l.3 1.5 1.1-1.5-1.1-.6zM341.9 218.8l.3 .9 .3-.9-.3-.9zM236.7 216.5l.1 .1 1.2 .3 .4-.4-.4-.6-1.2 .4zM242.6 216.5l.4 .3 .3-.3-.3-.3zM255.3 216.5l.1 .2 .1-.2-.1-2.1zM307.8 216.5l.9 .9 .6-.9-.6-.6zM312 216.5l.4 1.2 .7-1.2-.7-1.3zM316.1 216.5h.1v-.1zM368.1 216.5l.1 1.4 .5-1.4-.5-.6zM221.9 214.3h.1l-.1-.2zM280.1 214.3l.1 .3 .3-.3-.3-1.4zM288.7 214.3l.2 .2 1-.2-1-.6zM371.6 214.3l.4 .4h1.2l.4-.4-.4-.3-1.2 .1zM222.4 212l.8 1.5 1.2-1.5-1.2-.9zM232.4 212l.7 1.5 .3-1.5-.3-.9zM240.2 212l.3 1.3 .6-1.3-.6-.7zM268.9 212l.1 1.3 .4-1.3-.4-.4zM303.6 212l.2 .2 .8-.2-.8-.1zM324.2 212l.6 .9 .5-.9-.5-.8zM350.6 212l.3 .1v-.2zM376.8 212l.1 1.2 .5-1.2-.5-.2zM383.4 212l1 1.3 .6-1.3-.6-1.6zM213.1 209.8l.1 .2 .1-.2-.1-.2zM215.6 209.8l.1 .4 .5-.4-.5-.3zM279.6 209.8l.6 1.5 .2-1.5-.2-.3zM284.9 209.8l.3 1 .2-1-.2-.3zM308.5 209.8l.2 .8 .3-.8-.3-.8zM328.4 209.8l.2 .3v-.5zM342.1 209.8l.1 .3 .2-.3v-2.3l-.2-.1-.2 .1zM357 209.8l.1 .2 .1-.2-.1-.2zM366.9 209.8l.1 .7 1.2-.7h.1l-.1-.2-1.2-.1zM379.3 209.8l.1 .2 1.2 .2 .3-.4-.3-.4-1.2-.4zM230.5 207.5l.1 1 .2-1-.2-.2zM250.6 207.5l1.1 1.1 1-1.1-1-1.1zM264.7 207.5l.6 .7 .7-.7-.7-.5zM291.1 207.5l.3 1.6 .2-1.6-.2-1.6zM304.9 207.5l.1 .1v-.2zM322.3 207.5l.1 .1v-.2zM219.3 205.3l.1 .3 .3-.3-.3-.2zM273.9 205.3l.1 .2 .2-.2-.2-.1zM281.3 205.3l.1 .2 .2-.2-.2-.2zM324.5 205.3h.4l-.1-.1zM347 205.3l.2 .1v-.4zM369.8 205.3l.9 .8 .6-.8-.6-1.1zM251.2 203l.5 .6 .3-.6-.3-.8zM255.2 203l.2 .3 .1-.3-.1-.6zM265.2 203l.1 .2 .1-.2-.1-.2zM275.2 203.4l.2-.4-.2-.1zM289.5 203l.6 1.1 1.3 .6 .6-1.7-.6-.7h-1.3zM353.2 203l.2 .3 .4-.3-.4-.4zM246.3 200.8l.4 .7 .2-.7-.2-.6zM278.6 200.8l.4 .4 .3-.4-.3-.4zM317.9 200.8l.7 .2 .2-.2-.2-.2zM339.5 200.8l.2 .2 .1-.2-.1-.5zM213.1 198.5l.1 .1 .2-.1-.2-.2zM218.5 198.5l.9 .1 .2-.1-.2-.1zM231.4 198.5l.4 .4 .5-.4-.5-.4zM245.3 198.5l.2 .8 .3-.8-.3-.6zM258.7 198.5l.4 .3 .2-.3 .7-2.2-.9-.5-.2 .5zM261.8 198.5l1 .6 .7-.6-.7-1.6-.4-.6-.8-.7-.8 .7 .8 1.7zM288.8 198.5l.1 .2 .4-.2-.4-.5zM298.3 198.5l.5 .5 .5-.5 .1-2.2-.6-1.1-.6 1.1zM300.9 198.5l.4 .5 .1-.5-.1-1.9zM312.1 198.5l.3 .6 1-.6-1-.7zM352.7 198.5l.7 .9 .2-.9-.2-.6zM357 198.5l.1 .6 .2-.6-.2-.2zM359.3 198.5l.3 .2 .2-.2-.2-1.3zM363.2 198.5l.1 .4 .1-.4-.1-.1zM376.7 198.5l.2 .5 .3-.5-.3-.5zM392.8 198.5l.2 .9 .3-.9-.3-.6zM222.6 196.3l.6 1.8 .7-1.8-.7-1.1zM265.2 196.3l.1 .1 .4-.1-.4-.4zM282.6 196.3h.1v-.1zM308.2 196.3l.5 .3 .2-.3-.2-.3zM329.7 196.3l.1 .1 1.2 .4 .2-.5-.2-.5-1.2 .3zM221.8 194l.1 .1 .1-.1-.1-.1zM229.2 194l.2 1.5 .1-1.5-.1-.8zM244.1 194l.1 .1 .1-.1-.1-.2zM301.2 194l.1 1.5 .1-1.5-.1-.1zM303.3 194l.5 .7 .1-.7-.1-.3zM317.6 194l1 1 .7-1-.7-1zM378.1 194l.1 .1 .1-.1-.1-.1zM237.5 191.8l.5 .5 .3-.5-.3-1zM247.9 191.8l.1 .3 .1-.3-.1-.3zM293.7 191.8l.1 .2 .2-.2-.2-.3zM307.4 191.8l.1 .1 1.2 .4 .3-.5-.3-.4-1.2 .3zM353.1 191.8l.3 .4 .3-.4-.2-2.2-.1-.3-.2 .3zM355.6 191.8l.2 .2 .2-.2-.2-.3zM368.8 191.8l.7 .5 .4-.5-.4-.4zM375.4 191.8l.3 .6 .6-.6-.6-.7zM228.1 189.8l1.3 .1v-1.4l-1.3 .8zM263.5 189.6l.6 .5 .2-.5-.2-1.8zM312.1 189.6l.3 .7 1-.7-1-.4zM317.1 189.6l.3 .4 .8-.4-.8-.6zM329.5 189.6l.3 .5 .2-.5-.2-2.3zM219.4 189l1.3-.9 1.1-.8-1.1-.3-1.3 .2zM222.5 187.3l.7 .1v-.1zM237.9 187.3l.1 .6 .4-.6-.4-1.5zM295.9 187.3l.4 .3 .5-.3-.5-.8zM298.5 187.3l.3 .2 .1-.2-.1-.2zM304.8 187.3l.2 .6 .3-.6-.3-.5zM230.3 185.1l.3 .5 .5-.5-.5-.7zM245.3 185.1l.2 .4 .2-.4-.2-.5zM275.7 185.1l.8 .9 .8-.9-.8-1.6zM291.2 185.1l.2 .3 1.1-.3-1.1-.3zM328.3 185.1l.3 .8 .2-.8-.2-.6zM352.4 185.1l1 .9 1.2 1.1 .4-2-.4-.6-1.2-.5zM374.3 185.1l.1 .3 .3-.3-.3-.6zM379.2 185.1l.2 .4 .2-.4-.2-.4zM381.7 185.1l.2 .2 .2-.2-.2-.3zM220.3 182.8l.4 .1 .2-.1-.2-.8zM248.6 182.8l.6 .4 .9-.4-.9-.3zM260.1 182.8l.3 .3 .5-.3-.5-.8zM281 182.8l.4 .3 .6-.3-.6-.3zM307.3 182.8l.2 .5 .1-.5-.1-2.2v-.2l-.1 .2zM327.3 182.8v.1l.1-.1zM375.2 182.8l.5 .7 .3-.7-.3-.7zM391.7 182.8l.1 .3 .2-.3-.2-.7zM223.1 180.6l.1 .1 .2-.1-.2-.2zM240.2 180.6l.3 .1 .2-.1-.2-.4zM285.7 180.6l.7 .5 1.2-.3 .1-.2-.1-.6-1.2-.2zM324.1 180.6l.7 .5 1-.5-1-.6zM331.8 180.6l.5 .6 .2-.6-.2-.3zM347 180.6l.2 .1 .4-.1-.4-.3zM354.1 180.6l.5 .4 .2-.4-.2-.6zM217.7 178.3l.5 .8 .5-.8-.5-.4zM296.3 178.5l.2-.2-.2-.1zM317.1 178.3l.3 .5 .2-.5-.2-.4zM321.1 178.3l.2-2.2-.2-1.2-1.2 1v.4zM355.8 178.3v.1l.1-.1zM241.7 176.1l.1 .1 .1-.1-.1-.1zM282.1 176.1l.6 .4 .2-.4-.2-.3zM351.9 176.1l.2 1.3 .5-1.3-.5-.5zM394.2 176.1l.1 .1 .1-.1-.1-1.4zM217.4 173.8l.8 1.1 .4-1.1-.4-.7zM233.4 173.8l.9 .5 .3-.5-.3-.3zM269.6 173.8l.7 .7 .2-.7-.2-.7zM283.6 173.8l.3 .7 .4-.7-.4-.4zM286 173.8l.4 .4 .4-.4-.4-1zM332.2 173.8l.1 .1 .2-.1-.2-.2zM377.4 173.8l.8 .6 .2-.6-.2-.4zM381 173.8l.9 .7 .4-.7-.4-.7zM247.9 171.6l.1 .2 .1-.2-.1-.1zM251.7 171.7l1.2 .4 .6-.5-.6-1.9-1.2 1.8zM257.8 171.6l.1 .1 .1-.1-.1-.2zM281.6 171.6l1.1 .7 .2-.7-.2-.8zM297.7 171.6l1.1 .9 .6-.9-.6-2.1zM303.7 171.6l.1 .1 .1-.1-.1-.2zM229.8 169.3l.8 1.8 1.2-1.6 .2-.2-.2-.1-1.2-1.4zM233.8 169.3l.5 .5 1.1-.5-1.1-1.3zM248.9 169.3l.3 .9 .3-.9-.3-.5zM260.3 169.3l.1 1.9 .1-1.9v-2.2l.1-2.2-.2-.4-.9 .4-.4 .3-.6 1.9 .6 .6zM301.2 169.3l.1 .3 .4-.3-.4-.2zM310.9 169.3l.3 .7 .2-.7-.2-.8zM320.7 169.3l.4 .8 1.3-.5 .4-.3-.4-.5-1.3-.6zM334.6 169.3l.2 .8 .1-.8-.1-.2zM356.8 169.3l.3 .8 1.2-.5 .3-.3-.3-.3-1.2-.2zM365.6 169.3l.2 .2 .1-.2-.1-.1zM378.1 169.3l.1 .1 .1-.1-.1-.1zM384 169.3l.4 .1v-.5zM215.2 167.1l.5 .8 .3-.8-.3-.8zM218.2 167.1v.1l.1-.1v-2.2l-.1-.2-.1 .2zM227.5 167.1l.6 .3 .5-.3-.5-1zM236.4 167.1l.4 .4 .2-.4-.2-.2zM254.1 167.1l.1 .2v-.4zM283.5 167.1l.4 .6 .3-.6-.3-.5zM319.7 167.1l.2 .3 .3-.3-.3-.4zM343.1 167.1l.3 1.4 .5-1.4v-2.2l-.5-.6-.2 .6zM213.9 164.9l.6 .8 .4-.8-.4-.4zM229.1 164.9l.3 .5v-.7zM231.6 164.9l.2 .5 .5-.5-.3-2.3-.2-.2-.2 .2zM245.2 164.9l.3 .2 1.2-.1 .1-.1-.1-.4-1.2-.3zM262.7 164.9l.1 .5 .3-.5-.3-.6zM273.8 164.9l.2 .5 .2-.5-.2-.8zM293.7 164.9l.1 .7 .2-.7-.2-.2zM298.4 164.9l.4 1.1 .5-1.1-.5-1.5zM359 164.9l.6 .6 .5-.6-.5-.6zM312.7 162.6l1 1.1 .3-1.1-.3-1zM372.7 162.6l.5 .2 .4-.2-.4-.4zM391.4 162.6l.4 .1 .3-.1-.3-.2zM214.4 160.4h.1v-.2zM226.7 160.4l.2 .2 1.2 .5 .4-.7-.4-.7-1.2-.3zM261 160.4l.6 .2 .3-.2-.3-.6zM302.4 160.4l.1 .1 .2-.1-.2-.2zM345.4 160.4l.5 1.4 .3-1.4-.3-.4zM363.9 160.4l.6 .5 .3-.5-.3-.6zM382.9 160.4l.2 1.2 1.3 1 .4-2.2-.4-.6-1.3 .1zM228.8 158.1l.6 1 .8-1-.8-.6zM243.6 158.1l.6 .3 .2-.3-.2-.6zM278.4 158.1l.6 .8 .5-.8-.5-.8zM317.1 158.1l.3 .4 1.2 .6 .6-1-.6-.4-1.2-.6zM351.7 158.1l.4 .9 .6-.9-.6-.4zM224.2 155.9l.2 .5 .3-.5-.3-.3zM246.5 155.9l.2 .3 .2-.3-.2-.2zM248.8 155.9l.4 .6 1-.6-1-2.2zM255.2 155.9l.2 .3 .2-.3-.2-.2zM276.4 155.9l.1 .1 1.2-.1v-.1l-1.2-.2zM285 155.9l.2 .5 .1-.5 .1-2.3-.2-2.2-.9 2.2zM291.2 155.9h.3l-.1-.2zM293.3 155.9l.5 .3 .3-.3-.3-.8zM214.4 153.6l.1 .1 .1-.1zM261.2 153.6l.4 1.3 .7-1.3-.7-.6zM269.7 153.6l.6 .3 1.2 .3 .5-.6-.5-.6zM325.8 153.6l.3 .7 .9-.7-.9-.6zM333.4 153.6l.1 .2 .2-.2-.2-.2zM364.5 153.8l.1-.2-.1-.1zM374.4 153.8l.6-.2-.6-.1zM394.2 153.6l.1 .2 .1-.2-.1-1.4zM225.5 151.4l.1 .2 .2-.2-.2-.2zM263.8 151.4l.3 .4 .1-.4-.1-.3zM267.7 151.4l.1 .1 .1-.1-.1-.4zM306.1 151.4l.1 .2 .5-.2-.5-.3zM313.2 151.4l.5 .8 .9-.8-.9-.9zM329.6 151.4l.2 .4 .3-.4-.3-.4zM347 151.4l.2 2.1 .1-2.1-.1-.2zM349.5 151.4l.1 .2 .3-.2-.3-.3zM352 151.4h.2l-.1-.2zM218 149.1l1.4 2.1 .1-2.1h-.1l-1.2-.1zM234.3 149.1l.2-2.2-.2-.1-.2 .1zM255.3 149.1l.1 .2 .1-.2-.1-.2zM296.2 149.1l.1 .2 1.3 .2 .3-.4-.3-.3-1.2-1.9-.1-.1-.1 .1zM299.4 149.1l.6 .9 .4-.9-.4-.7zM386.8 149.1v.1l.1-.1zM388.9 149.1l.4 .2 .9-.2-.9-.2zM256 146.9l.6 1.2 .8-1.2-.8-1.7zM277.7 147.4l.1-.5-.1-.3zM282.3 146.9l.4 .4 .4-.4-.4-.6zM317.3 146.9l.1 .2 .1-.2-.1-1.7zM340.9 146.9l.1 .1 .3-.1-.3-.1zM346.8 146.9l.4 .3 .3-.3-.3-.7zM361.8 146.9l.2 .9 .3-.9-.3-1.1zM252.8 144.6l.1 .4 .1-.4-.1-.3zM261.1 144.6l.5 .6 .4-.6-.4-.6zM272 144.6l.8 1.6 .9-1.6-.9-1.3zM299.5 144.6l.5 .8 1.3-.7v-.2l-.9-2.1-.4-1.8-.3 1.8zM333.2 144.6l.3 .6 .3-.6-.3-.3zM339.4 144.6l.3 .6 .3-.6-.2-2.2-.1-.4v.4zM341.8 144.6l.4 1.8 .6-1.8-.6-1.4zM348.1 144.6l.3 .5 .2-.5-.2-.4zM367 144.8l.1-.2-.1-.2zM391.7 144.6l.1 .6 .2-.6zM266.5 142.4l.1 .8 .1-.8-.1-.2zM306.7 142.4l.8 .7 1.2 .2 .4-.9-.4-.3-1.2-.1zM315.9 142.4l.3 .4 .2-.4-.2-.5zM322 142.4l.4 .6 .4-.6-.4-.7zM371.9 142.4l.1 .1v-.1zM380.2 142.4l.4 1.2 .6-1.2-.6-1.6zM384.2 142.4l.2 .3 .2-.3-.2-.5zM234.2 140.1l.1 .3 .1-.3-.1-.3zM241.7 140.1l.1 .4 .2-.4-.2-.2zM354.3 140.1l.3 .5 .2-.5-.2-.5zM362 140.1v.2l.1-.2zM385.4 140.1l.2 .4 .2-.4-.2-.3zM215.5 137.9l.2 .7 .3-.7-.3-.3zM221.7 137.9l.2 .2 .6-.2-.6-.4zM253.5 137.9l.7 .6 .2-.6-.2-.6zM297.1 137.9l.5 .2 .1-.2-.1-.3zM335.3 137.9l.7 1.2 .3-1.2-.3-.4zM364.5 138.1l.1-.2-.1-.1zM366.8 137.9l.2 .4 .1-.4-.1-1zM216.8 135.7l.2 .4 .1-.4-.1-.7zM226.5 135.7l.4 1.1 .2-1.1-.2-.4zM235.3 135.7l.3 .8 .1-.8-.1-1zM262.7 135.7l.1 .3 .8-.3-.8-.4zM268.8 135.7l.2 .5 .3-.5-.3-.4zM301.9 135.7l.6 .4 .6-.4-.6-1zM317.4 135.9l.1-.2-.1-.1zM339.6 135.7l.1 .1 .4-.1 .9-.6 .4-1.7-.4-1-.8 1-.5 1.8zM374.3 135.7l.1 .3 1.3-.3v-.1l-1.3-.3zM381.8 135.7l.1 .2 .2-.2-.2-.7zM220.2 133.4l.5 .5 .6-.5-.6-.5zM237.8 133.4l.2 .2 .2-.2-.2-.4zM254.6 133.4l.8 1.1 .5-1.1-.5-.9zM286 133.4l.4 .5 .6-.5-.6-.6zM312 133.4l.4 .2 .3-.2-.3-.2zM324.7 133.4l.1 .2 .1-.2-.1-.3zM344.2 133.4l.5 1.7 1.2-.2 .9-1.5-.9-1.5-1.2 .9zM356.9 133.4l.2 .7 .3-.7-.3-.6zM389.1 133.4l.2 .5 1.3 .7 1.1-1.2-1.1-.9-1.3 .6zM212.3 131.2l.9 1.8 .8-1.8 .4-2.3h.1l1.2 .6 1.3-.4 .2-.2 1-.9 .9 .9 .2 2.3 .1 .4 .2-.4 1.1-1.8 1.1 1.8 .1 .4 .1-.4 1.2-1.6 .7-.7 .5-.6 .6 .6 .6 1 1.3-1.3 .1 .3 1.1 2.3h.1l1.2-.7 1.2-1.1 .9-.5 .3-.3 .5 .3 .8 .3 1.2-.3 1.3 .8 1.2-.1 1.2-.4 1.3 1.2 1.2-.7 1.3 1.2 1.1-2 .1-.2 1.2 .3 1.3 .7 1.2 .1 .7 1.4 .6 .7 .8-.7 .4-.7 1.2-.7 1.3-.6 1.2 .2 1.3 1 1.2-.5 1.2 .7h1.3l.9 .6 .3 .5 .2-.5 1.1-1 1.2-.4 1.2 .3 1.3 .2 .9 .9 .3 .4 1.3-.4 1.2-.8 1.2-.2 1.3 .4 1.2-.4h1.3l1.2 .2 .6 .8 .6 1 .7-1 .6-.7h1.2l1 .7 .3 .3 .1-.3 1.1-1.2 1.2 .1 1.3-.1h1.2l1.3 .5 1.2-.5 1.2 .9 .9 .3 .4 1 1.2-.2 .8-.8 .5-.4h1.2l1.2-.2 1.1 .6 .2 .7 .3-.7 .9-.4h1.3l1.2-.7 1.2 .4 1.3 .1 1.2-.2 1.3 .5 1.2-.2 1.2-.4 1.3 .2 1.2 .1 1.3-.3 1.2 .1 1.2-.2 1.3-.1 1.2 .6 1.3-.2 1.2 .3 1.2-.4 .9 .8 .4 .3 .3-.3 .9-.7h1.3l1.1 .7 .1 .2 .1-.2 1.1-.6 1.3-.7 1.2 .8 1.3-.9 1.2 .3 1.2 .7 1.3-.3h1.2l1.3-.7 1.2 1.3 1.2-.6h1.3l.7 .7 .5 1.1 .5-1.1 .8-.7h1.2l1.2-.6 1.3-.2 1.2 .4 1.3-.4 1.2 .4 1.2 .3 .5 .8 .8 1.6 1.2-1.6v-.1l1.3-1.4 1.2-.2 1.2 1.7h.2l1.1-1.1 1.2-.1 1.3 .2 1.2-.5 1.2 .5 1.3-.4 1.2-.2 1.3 .8 1.2 .1 1.2-.8 1.3 .3 1.2 .4 1.3-1 1.2-.2 1.2 .4 1.3-.2 1.2 .1 1.3 .3 1.2 .4h1.2l1.3-1.2 1.2 .5 1.3 .3 1.2-.4 .7-.5-.7-.6-1.2-.3-1.3-1-1.1-.3-1.4-1.4-.5-.9-.7-1-1-1.2-.2-.2-1.3-1-1-1.1-.2-.2-1.3-.9-1.2-1-.1-.1-1.1-1-1.2-1.3h-.1l-1.2-1.8-.4-.4-.9-1.3-1.1-.9-.1-.1-1.2-.5-1.3-.2-1.2-.4-1.3-.3-1.2-.5-.4-.3-.8-.9-.9-1.3-.4-.8-1.2-1.5v-.1l-1.3-.8-1.2-.8-.6-.5-.6-.8-1.3-.8-1.4-.7-1.1-.6-1.2-.7-1.2-.4-1.3-.3-1.2-.8-1.3-1-.9-.7-.3-.3-1.2-.8-1.3-.8-.5-.3-.7-.5-1.3-.8-1.2-.9-.1-.1-1.1-.9-1.3-.7-1.2-.5-.1-.1-1.2-.7-1.2-.4-1.2-.3-1.2-.9-.1-.1-1.2-1.3-.8-.8h-112.5l-.4 2.2-.2 2.3-.2 2.1v.1l-.5 2.3-.7 1.7-1.1 .5-.2 .2-.8 2.1 .8 1.8 .2 .4 .7 2.3v4.5l-.1 2.2-.1 2.3-.1 2.2 .3 2.2 .4 1.1 .3 1.2 .3 2.2-.2 2.3-.3 2.2-.1 2.3 .3 2.2 .9 .9zM388.1 128.9l1.2 .1 .2-.1-.2-.1-1.2 .1zM583.5 90.7l.5 1 .2-1v-2.2l-.2-1.2-.6 1.2z"/>
<path fill="#50ffa7" d="M379.3 566.9l.1 .1 .1-.1-.1-.3zM317.3 528.7l.1 .1 .1-.1-.1-.1zM300 515.5l.2-.3-.2-.4zM282.6 513l.1 .4 .1-.4-.1-.4zM397.4 465.8l.6 2.2 .6-2.2 .4-2.3 .1-2.2-.2-2.2v-6.8l-.1-2.2-.2-2.3-.1-2.2 .1-2.3v-2.2l.1-2.3v-2.2l-.2-2.2-.2-2.3-.2-2.2-.1-1.3-.2 1.3-.3 2.2-.7 2-.1 .3v2.2l.1 1.6 .1 .6 .7 2.3-.5 2.2 .3 2.3-.6 1.8-.1 .4v6.8l.2 2.2-.1 1.1-.2 1.2-.1 2.2 .3 1.3 .5 .9zM237.9 441.1l.1 .4 .5-.4-.5-.5zM531.6 441.1l.3 1 .3-1 .8-2.3 .2-.3 .4-1.9 .5-2.2 .3-1.2 .3-1.1 .7-2.2 .2-.8 .5-1.5 .6-2.2 .2-.5 1-1.8 .2-.5 .9-1.7 .4-1.6 .2 1.6 .2 2.2 .2 2.3v2.2l.1 2.3 .5 2 .1 .2 1.1 1.1 .7-1.1 .6-1.6 .8-.6 .4-.4 1.2 .4h.1v-.3l-.2-2-.1-2.2 .3-1.4 .2 1.4-.1 2.2 1.1 1.1 .9-1.1 .3-.4 .2 .4 .5 2.3 .1 2.2-.1 2.3 .2 2.2 .4 2.2 .5-2.2 .7-2.2v-.1l.9-2.2 .4-1.1 1.2-.9 .1-.2 1.1-.9 .7-1.4 .2-2.2 .2-2.3 .2-.4 .8-1.8-.1-2.3-.2-2.2-.2-2.3-.3-1.7-.9 1.7-.3 2.3-.1 2-.1-2v-4.5l-.1-2.3-1-4.4v-.3l-.1 .3-1.1 1.5h-1.3l-.4 .7-.8 1.6-.4 .6-.9 2.2v.1l-1.2 2.2v.1l-.1-.1-.6-2.2-.5-1.8-.1-.5-.2-2.2-.1-2.2-.1-2.3-.8-1.4-1 1.4-.2 .4-.6 1.9-.6 2.2-.1 .4-.8 1.8-.4 2.3v.7l-.1-.7-.2-2.3-.4-4.4-.3-2.3-.2-.6-.3-1.6-.3-2.3-.1-2.2-.1-2.3-.2-2.2-.3-1.4-.2 1.4-.9 2.2-.1 .3-.5 2-.5 2.2-.3 .7-.7 1.6-.3 2.2-.2 2.3v.3l-.2-.3-.9-2.3-.1-.2-.4 .2-.9 .4-.5 1.9-.7 2.1-.1 .1-.5 2.2-.1 2.3-.2 2.2-.1 2.3-.2 2.2-.1 .2-.2 2.1-.1 2.2v2.3l.3 1.2 1.3 .3 .6 .7 .1 2.3 .1 2.2-.1 2.3v4.4zM531.9 426.3l-.3-.9 .3-.8 .1 .8zM553 422.6l.1 .5-.1 2.3zM396.4 427.6l.4 1.1 1.1-1.1-1.1-1.3zM292.4 423.1l.2 .6 .3-.6-.3-.2zM281.3 418.6l.1 .2 .2-.2-.2-.1zM266.3 416.4l.3 .2 .1-.2-.1-.2zM216.9 402.9h.1l1.2-.7 .5 .7 .7 1.2 1.3-.9 .2-.3-.2-2.2 1.2-2.1 .2-.2 1.1-.8 1.2 .2 1.2-.4h1.3l1.2 .3 1.3 .3 1.2-.3 1.2-.1 1.3 .6 1.2-.5 1.3-.2 1.2-.1 1.2 .1 1.3 .1 1.2-.4 1.3 .1 1.2 .3 1.2-.2 1.3 .3 1.2 .1 1.3-.4 1.2 .4 1.2 .2 1.3-.4 1.2 .1 1.3-.1 1.2 .5 1.2-.5 1.3 .2 1.2 .2 1.3-.2h1.2l1.2-.1 1.3 .1 1.2-.1h2.5l1.2-.1h1.3l1.2-.1 1.3 .3 1.2 .1 1.2-.3h1.3l1.2 .4 1.3-.4h1.2l1.2-.3 1.3 .2 1.2 .1 1.3 .1 1.2 .2 1.2 .1 1.3-.2 1.2-.1 1.3 .2 1.2-.1h1.2l1.3-.1h2.5l1.2 .2 1.2-.4 1.3 .3 1.2-.3 1.3 .2 1.2 .1 1.2-.3 1.3 .4 1.2 .1 1.3 .2 1.2-.4h3.7l1.3 .2 1.2-.3 1.2 .1h1.3l1.2-.2 1.3 .1 1.2 .2h1.2l1.3-.3 1.2 .2 1.3 .1 1.2 .1h1.2l1.3 .2 1.2-.3 1.3-.2 1.2 .1 1.2 .3 1.3-.2 1.2 .1 1.3 .2 1.2-.4 1.2 .1 1.3 .4 1.2-.2 1.3 .1h1.2l1.2 .2 1.3-.4 1.2 .1 1.3 .2 .8 .1 .4 .2 1.2 .4 1.3 .1h1.2l1.3-.3 1.2 .5 1.2-.2 1.3-.2h1.2l1.3 .2 1.2 .3 1.2-.2 1.3 .7h1.2l1.3-.1 1.2-.4 1.2-.3 1.3 .2 1.2-.4 1.3 .2 1.2 .1 1.2-.1h1.3l1.2-.2h1.3l1.2-.1 .7-.4 .5-.1 1.3 .1h.3l.9 .2 .7-.2 .6-.1h1.2l1.2-.5 1.3-.5 1.2-1 .1-.1-.1-.2-1-2.1-.2-1-.2-1.2-.1-2.3-.2-2.2-.1-2.3 .2-2.2v-2.2l-.1-2.3-.2-2.2-.2-2.3-.3-2.2-.1-.5-.5-1.8-.7-1.6-.2-.6-.4-2.3-.6-1.7-1-.5-.3-.1h-1.2l-1.3-1.1-.8-1.1-.4-.4-1.2-.2-1.3 .5-.8 .1-.4 .1-.2-.1-1.1-.2-2.4-1-1.3-.6-.6-.4-.6-.3-1.2 .3h-.1l-1.2 1.3-1.2-.3-1.3-.1-1.2 .5-1.3 .7-1.2-.2-1.2-1.1-1.3-.3-1.2 .3h-1.3l-1.2 .1-1.2 1-.6 .3-.7 .3h-2.5l-1.1-.3h-.1l-1.2-.4-1.3-.5-1.2-.8-1.3 .2-1.1 1.5-.1 .2-1.2 1.9-.2 .2-1.1 .5-1.2 .1-1.1-.6-.2-.2-1.2-2v-.1l-1.2-1-1.3-.4-1 1.4-.2 .8-1.3 .6-.7-1.4-.5-.4-.4 .4-.7 2.3-.1 .2-1.3 1.8-1.1-2-.1-.3-1.1-2-.2-.1-1.2-.2h-1.2l-1.3-.3-1.2-.3-1.3-.1-1.2 .3-1.2 .2h-1.3l-1.2-.1-1.3-.6-1.1-1-.1-.1-1.2-.5-1.3 .3-.4 .3-.8 .7-1.3 .8-1.2-.2-1.2-.3-1.3 .5-1.2-.1-1.3 .6-.2 .2-1 1.2-1.2 .6-.7-1.8-.6-1.5-.4-.7-.8-.4-.8 .4-.5 .2-1.2 .9-1.2 .5-1.3 .4-.4 .2-.8 .6-1.3-.3-.3-.3-.9-.6h-1.2l-1.3 .6h-.3l-.9 .2-1.3 .1-2.4 1-1.3-.5-.5-.8-.7-.8-1.3 .4-.5 .4-.7 .7-1.2-.6-.1-.1-1.2-.7-1.2 .6-.8 .1-.5 .1-.1-.1-1.1-.8-1.2-.6-1.3 .1-1.2 .8-.8 .5-.5 .4-1.2 .2h-1.2l-1.3 .1-1.2 .4-1.3 .2-1.2 .8-.9 .2-.3 .1-.2-.1-1.1-.9-1-1.4-.2-.2-.9 .2-.4 .2-1.2 1.8-1.2 .2-1.3-1.2h-1.2l-1.3 1.2-.2 .1-1 .4-.6-.4-.6-.5-1.3-.9-1.2-.4-1.3 .6-1 1.2-.2 .1-1.2 .7-1.3-.2-.8-.6-.4-.2-.3 .2-1 1.3-.3 .9-.3 2.3-.6 1.9-.1 .3-1 2.3-.1 .3-1.3 1.4-.5-1.7-.5-2.3-.2-.6-.7-1.6-.6-.8-1.2-1.1-.7-.4-.5-.4-1.3-1.2-1.2 .7-.8 .9-.5 .6-1.2 .5h-1.2l-1.1 1.2 .1 2.2 .3 2.3 .5 2.2 .2 .8 .4 1.5 .5 2.2-.2 2.2-.7 1.8-.8 .5-.5 .2-1.2 .3-.8 1.7 .3 2.3 .4 2.2-1.2 1.6-.9 .7-.3 .1-1.2 .3-1.3-.2-.3-.2-.9-2.3v-.3l-.5-1.9-.8-.5-.2 .5-.4 2.2-.2 2.3v2.2l.1 2.3 .7 .8 1.3 .2 .7 1.2 .5 1.1 .9 1.2zM213.2 400.7h.1l-.1-.2zM216.4 378.2l.6 1.4 .4-1.4-.4-1.5zM402.6 337.8l.4 .1 1.2 .6 1.2-.1 1.3-.5 1.2-.1 1.3 .4 1.2 .2 1.2-.3 1.3-.1 1.2-.2h.2l1.1-.3 1.2-.6 1.2-.4h1.3l1.2-.1 1.3-.4 1.2-.2 1.2-.1 .7-.2 1.8-.6 1.3-.4 1.2-.5 1.4-.7 1.1-.5 1.2-.6h1.3l1.2-.2 .9-1 .3-.5 1.3-1.5 1.2-.1 .3-.1 1-.5 1.2-.3 1.2-.8 .5-.7 .7-2.2 .1-.4 .5-1.8v-2.3l-.5-.6-1.3-.6-1.2-1-1.2-1.7-1.1-.6-.2-.1-1.2-.9-1-1.2-.3-.3-1.2-1.3-.5-.7-.7-.6-1.3 .4-1.2 1.2-1.3-.5-.3-.5-.9-1.7-.3-.5-.9-1.6-1.3-.6-1.2 .8-1.3 1-1.1 .4h-.1l-1.2 .2-1.3 .1-1.2 .1-1.3 .1-1-.5-.2-.2-1.2-1.1-1.3-.3-1.2-.4-.4-.3-.9-.4h-1.2l-1.2-.3-1.3-.1-1.2 .7-.2 .1-1.1 .5-1.2 .2-1.2 .5-1.3 .4-1.2 .4-.2 .3v2.2l-1.1 1.7-.2 .6-.4 2.2-.2 2.3-.3 2.2-.1 2.3v6.7l.3 2.2 .3 2.3 .6 2.2v.3l1.3 1.6 1.2 .2zM352.1 293l.1-.1-.1-.2zM253.9 241.2l.3 .4 .1-.4-.1-.2zM251.4 207.5l.3 .3 .3-.3-.3-.3zM276.3 185.1l.2 .3 .2-.3-.2-.5zM230.4 169.3l.2 .5 .4-.5-.4-.4zM256.4 146.9l.2 .4 .3-.4-.3-.6zM345.4 133.4l.5 .4 .2-.4-.2-.4zM213.2 131.3l.1-.1-.1-.3zM241.7 128.9h.1v-.2zM257.1 128.9l.8 .4 1.1-.4 .1-.2 .1 .2 1.2 .3 .3-.3 .9-1.9 1 1.9 .2 .2 .7-.2 .6-.7 1.2-.6 1.3 .2 .9 1.1 .3 .2 .3-.2 .9-1.1 1.3 .6 .4 .5 .8 .3 1.3-.2 1.2 .1 .5-.2 .7-.6 .7 .6 .6 .2 1.2 .3h1.3l1.1-.5 .1-.1 .1 .1 1.1 .3 1-.3 .3-.2 .1 .2 1.1 .4 1.3 .3 1.2-.5 1.2 .4 1.3 .4h1.2l1.3-.5 1.2 .4 1.2-.1 1.3 .4 1.2-.4 1.3-.1 1.2-.2 1.2 .4h1.3l1.2-.3 1.3 .5 1.2-.1 1.2-.2 1.3 .1h1.2l1.3-.2 1.2 .2 1.2-.2 1.3-.1 1.2 .4 1.3-.1 1.2 .2 1.2-.8 1.3 .8 1.2-.4 1.3 .1 1.2 .3 1.2-.3 1.3-.6 1.2 .5 1.3-.4 1.2 .3h1.2l1.3-.1 1.2-.2 .7-.3 .6-.4 .9 .4 .3 .1h1.2l1.3 .4 1.2-.5 1.3 .7 1.2-.4 .6-.3 .6-1 1.3-.1h1.2l1.3 .1 1.2-.9 1.2 1.3 .2 .6 1.1 1.8 1.2-1.7 .1-.1 1.2-1.8h1.2l1.2-.3 .5-.1 .8-2 .2-.3 .2-2.2 .3-2.3 .1-2.2-.8-1.4-1.3-.5-1.2-.2-.2-.2-1-.5-1.3-1.4-.7-.3-.5-.3-.4 .3-.9 .9-.5 1.3-.7 1.5-1.2-1-.4-.5-.9-1.3-.6-.9-.6-1.3-.3-.9-.6-2.3-.4-.7-1.2-1-1.1 1.7-.1 .2-1.3 1.7-.7 .4-.5 .3h-1.3l-1.2-1.2-1.2-.7-1.3 .1-1.2 1-1.3 .2-1.2-1.7-.2-.3-1-2.2v-.1l-1.3-1.2-1.2-.5-1.3-.1-1.2 1.7-.4 .2-.8 .3-.4-.3-.9-.8-1.2-.2-1.3 .4-1.2 .8-1.2 .2-1.3-.1-1.2 .9-1.2 1h-.3l-1-.1-1.1-2.1-.1-.8-1.3-1.4-1.2 1.1-.6 1.1-.7 1-1.2 .3-1.2 .4-.5 .5-.8 .4-.9-.4-.3-.2-1.3-.2-1.2 .4h-.1l-1.1-.2-1.3-.8-1.2 .2-.3 .8-1 .8-1.2 .6-1.2 .1-1.3-.1-.9 .9-.3 .2-1.3 .5-1.2-.7v-.1l-1-2.2-.2-.3-1.3-.7-1.2-.7-.7-.5-.6-.4-1.2-.1-.6 .5-.6 1.6-.2 .6-.6 2.3-.5 .9-1.2 1-1.3-1.1-1.2-1.6h-1.2l-.6 .8-.7 1-1.2 .2-.8-1.2-.5-1.2-1-1.1-.2-.1-.2 .1-1 1-1.3 1-.3 .3-.9 .5-1.3-.1-.7-.4-.5-.6-1.1 .6-.1 2.1v.1l-1.3 .8-1.2-.2-.9 1.6-.4 .7-1.2 1.6-1.2-.5-1.3-.7-1.2-.7-1.3-.3-1.2 .4-1.2 1.8v.1l-.5 2.1-.8 1.5-1.2 .6-1.3-.3-1.2-1.1-1.2 .7-.3 .9 .2 2.2 .1 .1 1.2 1.6 .5 .6h.7l1.3 .4 1.2-.4h.4l.9-1.4 1.2 .1 1.2 1.1 .2 .2 1.1 .1 1.2 .3 1.3 1.8 1.2-.8 1.2-.3z"/>
<path fill="#3cffba" d="M217.6 400.7l.6 .6 .8-.6-.8-2.2zM360.8 398.4h2.5l1.2-.1 1.3 .1 1.2 .3 1.2-.2 1.3 .6 1.2-.1 1.3-.2h1.2l1.2-.2h1.3l.3-.2 .9-.1 .9 .1 .4 .1 .7-.1h.5l1.2-.1h1.3l1.2-.1h2.5l1.2-.3h2.5l1.3-.3 1.2-.2 1.2-.6 1-.6-1-2.1v-.2l-.5-2.2-.1-2.3-.5-2.2-.1-1.2-.1-1.1 .1-.8 .2-1.4 .2-2.3-.1-2.2-.3-2.2v-.1l-.6-2.2-.6-1.2-.6-1-.7-2.2v-.1l-1.2-2-.2-.2-1.1-.9-.9-1.4-.3-.4-1.2-1-1.3 .5-1.2 .6-1.3-.7-1.2-.5-1.2 .4-1.3 .6-1 .5-.2 .2-1.3 1.4-1.2 .1-1.2-1.1-1.3-1.3-.8 .7-.4 .5-1.3 1.1-1.2 .3-1.2 .1-1.3-.5-.7-1.5-.5-1.6-.9-.6-.4-.1-.1 .1-1.1 1.5-.6 .7-.6 .4-.6-.4-.7-.4-1.2-1-1.3-.4-1-.4-.2-.1h-1.2l-.2 .1-1.1 1.6-.4 .6-.8 .8-1.3 .8-1.2 .1-1.2-.6h-1.3l-1.2 .4-1 .8-.3 .3-1.2 1.7-1.2-.1-1.3-.2-1.2 .4-1.3-1.8-.2-.3-1-.9-.7 .9-.5 .7-1.3 1.4-1.2-1.6-.2-.5-.8-2.3-.3-.7-1.2-.7-1.2 1-.7 .4-.6 .7-1.2-.4-.1-.3-1.2-1.3-1.2-.4-1.2 .4-1.3 .6-1.2 .5-.4 .2-.9 .9-1.2-.2-.5-.7-.7-1.7-1.3 .9-.3 .8-.9 1.3-1.3-.4-1.2-.7-1.2 .4-.7 1.7-.6 1.6-.7-1.6-.5-.5-1.3-.6-1.2 .2-1.2 .5-1.3-.1-.9-1.8-.3-1.3-.3-.9-1-1.4-1.2 .7-.7 .7-.5 1.4-.6 .8-.7 1.2-1.2-1-.3-.2-1-.4-1.2-1-1.2-.5-1.3 .8-1.2 .7-1.3 .1-1.2 .1-.3 .2-.9 1-1.3 .6-1.2-1-1.3-.4-1.2 1.7-.4 .4-.8 1.2-1.3-.9-.1-.3-.7-2.3-.4-.5-1.3-.3-1.2-.3-1.2-1.1v-.1h-1.3l-.1 .1-1.1 .8-1.3 .9-2.4 .2-.4 .3-.9 1.2-1.2 .9-1.3-.4-1.2-.2-1.2 .4-.5 .4-.8 .5-1.2 .3-1.3 .1-1.2-.2-1-.7-.2-.2-1.3-.4-1.2 .4-1.1 .2h-1.4l-1.2 1.1-.4 1.1-.8 2.3-.1 .2-.9-.2-.3-.1-1.3-1.7-1.2 .1-1.1 1.7-.1 .4-1.1 1.8-.2 1-.4-1-.8-1.6-.3 1.6 .3 1.1 .7 1.2-.7 .9-.3 1.3v2.2l.3 1.1 .9 1.2-.9 1.1h-1.3l-.5 1.1-.7 2.3v.3l-1.2 1.7-.4 .2-.9 .2-.4-.2 .1-2.2 .2-2.3-.4-2.2-.7-1.9-1.1-.4h-.2l-1.2 1-.4 1.3-.6 2.2-.2 .5-.5 1.8-.8 1.8-.5 .4-.7 .6-.8-.6-.5-.7-1.2-.6-.2 1.3 .1 2.3-.6 2.2-.5 .7-1.3 .7-1.2 .3-1.3-.4-1.2-.6-1.2 .2-1.3 1.2-.1 .2 .1 .1 1.3 1.1 1.2 .9 1.2-1.1 1.3-.5h1.2l1.3-.2 1.2 .2 1.2-.1h1.3l1.2 .3 1.3 .2 2.4-.2 1.3 .3 1.2-.2 1.3-.2 1.2-.2 1.2 .1h1.3l1.2-.3h1.3l1.2 .3h1.2l1.3 .2h1.2l1.3-.1 1.2 .3 1.2 .1 1.3-.2 1.2-.1 1.3-.1 1.2 .4 1.2-.2 1.3 .1 1.2 .1 1.3-.1h2.4l1.3-.1 1.2-.1 1.3 .1 1.2 .1 1.2-.2h2.5l1.3 .2 1.2 .1 1.2-.2 1.3-.1 1.2 .3 1.3-.2 1.2-.1 1.2-.2 1.3 .1 1.2 .1h1.3l1.2 .1 1.2 .2 1.3-.1h2.5l1.2-.1h5l1.2 .1 1.2-.2 1.3 .1 1.2-.1h3.7l1.3 .3 1.2 .1 1.3 .1 1.2-.3h1.2l1.3 .1 1.2-.1 1.3 .2 1.2-.2h2.5l1.2-.1h1.3l1.2 .2 1.2-.1 1.3-.2 1.2 .2 1.3 .2 1.2 .1 1.2-.1 1.3 .1 1.2-.2 1.3-.1 1.2 .1 1.2 .3 1.3-.1h1.2l1.3 .2 1.2-.3 1.2 .1 1.3 .2 1.2-.1 1.3 .2h1.2l1.2 .1 1.3-.2h1.2l1.3 .3 2.4 .4h1.3l1.2-.1 1.3 .1zM241.8 393.3l-.7-1.6 .4-2.3 .3-.5 1.2 .5 .2 2.3-.2 .3zM245.5 383.4l-.3-.7-.3-2.2 .5-2.3 .1-.1 .1 .1 1 2.2-.5 2.3zM410.1 333.3l.3 .1 .4-.1 .8-.3 1.3-.5 1.2-.1h1.3l1.2-.3 1.2-.5 1.3-.5 .1-.1 1.1-.6 1.3-.7 1.2-.7 .6-.2 .6-.4 1.3-1.3 .3-.6 .2-2.2-.5-1-1.3-1.3-1.2-.5-1.2-.2-1.3-.7-1.2-1.2-1.3-.6-1.2-.9-.5-.3-.7-.4h-2.5l-1.3-.3-1.2-.1-1.2 .1-1.3 .2-.8 .5-.4 .2-1.3 .9-1.2-.1-1.2-.8-1.3-.2-1.2 1.8-.1 .4-.4 2.3-.2 2.2v2.2l.2 2.3 .5 2.2v.1l1.2 1h1.3l1.2 .3 1.2 .4h1.3l1.2-.2 1.3 .3zM299.2 128.9l.8 .3 1.3-.2 .3-.1 .9-.9 .7 .9 .6 .2 1.2 .1 1.2-.2 1.3 .1h1.2l1-.2 .3-.3 .2 .3 1 .2 1.2-.1h2.5l1.3 .1 1.2 .1 .3-.3 .9-1.7 1.3 .5 1.2 .4 1.3 .2 1.2-1.2 .8-.4-.8-1.4-.4-.9-.8-1-1.3-.7-1.2 .1-1.3 .2-1.2 .3-1.2-.3-1.3-.3-1.2-.2-1.3-.3h-.1l-1.1-.3-1.2-.5-1.3 .1-1.2 .5-1.3-.6-1.2-1-1.2 .1-1.3 1.3-.6 .4-.6 .3-1.3 .1-1.2 .3-1.2 .9-1.3 .4-1.2-.6-1.3-.6-1.2 .2-.8 1.2 .4 2.3 .4 .6 1.2 .1 1.3 .7 1.2-1.1 1.3 .2 1.2 .7zM329.7 128.9h.2l-.1-.4z"/>
<path fill="#26ffd1" d="M228.9 396.2l.5 .1h4.9l.6-.1-.6-1.4-1.2 .5-1-1.4-1.5-1-1.2 .6-.3 .4zM247.5 396.2h.5l1.2 .2h1.2l1.3-.1 1-.1 .2-.5 1.3-.3 .8 .8h.4l1.2 .2 1.3 .1 1.2-.1h1.3l1.2 .1 1.2-.1 1.3-.1 .7-.1 .5-.9 .4 .9 .9 .1 1.2 .1 1.2-.1 1.1-.1 .2-.2 .5 .2h.7l1.3 .2 1.2 .1 1.2-.1 1.3-.1 1.2 .1 1.3-.1 .8-.1 .4-.7 1.2-1.6v-.4l.5 .4 .8 .2 1.2 2.1h.4l.9-.2 .4 .2h.8l1.2 .2 1.3 .1h1.2l1.3-.1 2.4-.2 1.3 .1h3.7l1.2-.1 1.3 .1h1.2l1.3-.1h.2l1-.5 1.2 .5 1.3 .2 1.2 .2h1.3l1.2-.2h1.2l1.3 .1h2.5l1.2-.1h2.5l1.2-.1 1.3 .1h1.2l1.2-.1h1.3l1.2 .1 1.3 .3 1.2 .1 1.2-.1h1.3l1.2-.2 1.3 .1 2.4 .2h2.5l1.3 .1 1.2-.1h1.2l1.3 .2 1.2-.1 1.3 .2h1.2l1.2 .2 1.3-.2 1.2 .1 1.3 .2 2.4 .4 1.3 .1 1.2-.1 1.3 .1 2.4 .2 1.3-.1 1.2-.1 1.3 .2 1.2 .1 1.2-.1 1.3 .3 1.2-.1 1.3-.1 1.2 .1 1.2-.1 1.3-.1 1.2-.2 1.3 .2 1.2-.1h2.5l1.2-.2h1.3l1.2-.1 1.2-.3 1.3-.1 1.2-.1 1.3-.3 1.2-.4 .7-.3-.7-1.2-1.2-1.1v-.3l-.6-1.9 .2-2.3-.4-2.2-.5-2v-.3l-.5-2.2 .1-2.3 .3-2.2-.3-2.2-.8-1.3-.9-1-.4-.3-1.2-1-1.2 .2-1.3 .1-1.2-.5-.8-.7-.5-.9-.6-1.4-.6-1.3-1.2 .4-.5 .9-.6 2.3-.2 .3-1.2 .8-1.3-.2-1-.9-.2-.2-1.2-.8-1.3 .4-1.2 .2-1.3-.8-1.2-.3-1.2 .7-1.3 .5-1.2-.8-.9-1.2-.4-.6-1.2-.1-1.2 .5-1.3 .1-1.2-.4-1.3-1-1.2-.5-1.2 .9-1.3 1-.5 .1-.7 .5-1.3 1.7-1.2-.4-1.2-1.6-.2-.2-1.1-.5-.9 .5-.3 .3-1.2 2h-.1l-1.2 1.1-1.2 .8-.6 .3-.7 .5-1.2 1.3-.7 .5-.6 .4-1-.4-.2-.2-1.2-1.4-.7-.7-.6-.5-1.2-1.7h-.1l-1.2-1.2-1.2 .9-.3 .3-.9 1.7-.3 .5-.6 2.3-.4 .4-1.1-.4-.1-.1v.1l-1.3 .6-1.2 1.6-1.2 1.4-1.3-.9-.3-.5-.7-2.2-.2-.4-.4 .4-.9 1.9-.2 .3-1 1.3-.2-1.3 .2-2.2v-2.3l-1-2.2-.2-.2-.3 .2-1 .5h-1.2l-1.3-.4-1.2 1.7-.2 .4-.8 2.3-.2 .3-1.3 1.1-1.2 .1-1.3-.5-1.2-.7-.1-.3 .1-1.9v-.7l-.2-1.9-1-.6-1.3 .1-1.2-1-.8-.8-.5-.8-.3 .8-.3 2.3 .3 2.2 .3 1.1 .5 1.2-.5 2.2-1.2-.7-1.2-.8-1.3 .2-1.2 .9-.2 .4 .2 2.2v.1l.2 2.2 .1 2.2 .5 2.3 .4 1.9 1.3-.1 .3 .4-.3 1.3-1.3-1.2-.6-.1-.6-.2-1.3-.7-1-1.3-.2-.2-1.1-2.1-.1-.3-.5-1.9-.3-2.3 .2-2.2 .6-1.4 2.4-.6 .2-.2-.2-.4-1.2-.5h-1.2l-1.3-.4-.7 1.3-.5 .9-1.3-.6-1.1-.3-.1-.1v.2l.2 2.1-.2 .5-.2 1.7-1 1.9-.7 .4-.6 .3h-1.2l-1.3 1.4-1-1.7-.2-.3-1.2-1.9-.1-.1-.3-2.2 .4-.9 1.2-.5 1.2 .2 .2-1-.2-.8-1.2 .1-1.2 .3-1.3 .1-.1 .3-.9 2.2-.2 .1-1.3-1.3-.6-1-.6-.7-1.2-.4-.9-1.2-.4-.7-1.2-1.5-1.3 .6-1.2 1.6-1.2 .1-1.3 1.9-.1 .3-1.1 2.2-1.3-.9-.6-1.3-.3-2.3-.3-2v-.2l-1.2-1.2-1.3 .7-.7 .5-.5 1.3-1.3 .1-.8 .8 .8 1.3 .4 1 .1 2.2-.5 1.6-.1 .7-1.1 1.5-1 .7-.2 .1-1.3 .2-.1-.3-1.1-1.3-.6-1-.7-.8-1.2-.4-.3 1.3-.3 2.2 .1 2.2 .5 2.3 1.2 1.5 .3 .7-.3 .5-.7 1.8-.5 .4-1.2 1.3-.4 .5zM259.1 391.7h-.1l-1.1-1.6-1.3-.4-.1-.3-.2-2.2 .3-.8 1.3 .1 1.2-1.5 .1-.1 1.2-.4 .5 .4 .7 .9 .4 1.4 .1 2.2-.4 2.3-.1 .3-1.2 1zM265.3 389.7v-.3l-.5-2.2-.3-2.3 .6-2.2 .2-.4 .2 .4 1.1 1.8 .2 .4 .3 2.3-.3 2.2-.2 .9zM271.5 388.7l-1.1-1.5 1.1-1.2 .5 1.2zM349.6 373.9l-.2-.2 .2-1.6 .2 1.6z"/>
<path fill="#13fce4" d="M329.5 396.2h.8l.7-.5 1.3-1.8-.4-2.2 .2-2.3 .2-.6 .8-1.6 .4-1.2 .9-1.1-.9-.7-1.2-.9-.7-.6-.6-.3-.2 .3-.9 2.2-.1 .4-.6 1.9-.6 1.5-.4 .7 .1 2.3 .1 2.2 .2 .6zM337.5 396.2h1l1.2 .1h5l1.2 .1 1.3 .1 2.4 .2h1.3l1.2 .1 1.3 .2 2.4 .4 1.3 .1 1.2-.1 1.3 .1 2.4 .2h1.3l1.2-.1 1.3 .1 1.2 .1 1.2-.1 1.3 .3 1.2-.1 1.3-.1 1.2 .1h1.2l1.3-.1 1.2-.2 1.3 .2 2.4-.2h1.3l1.2-.2h1.3l1.2-.1 1.2-.3 1.3-.2 1.2-.3 1.1-.3-1.1-1.1-1.2-1.1-.1-.1-1.1-2.2 .4-2.3v-2.2l-.5-1.6-.2-.7-.5-2.2-.1-2.3-.4-2.2-1.2 1.5-1.3 .2-.4-1.7-.8-2.2v-.1l-1.3-.7-1.1 .8-.1 .2-.6 2-.6 .6-1.3-.4-.2-.2-1-.7-1.3-.4-1.2-1.1v-.1l-1.2-1-1.2 1.1-.1 .7-1.2-.3-1.1-.4-.2-.1v.1l-1.2 .4-1.2 .6-1.3 .3-1.2-.6-.7-.7-.6-.7-.5 .7-.7 .7-1.2 .6h-1.3l-1.2-.1-1.3 .4-.7 .6-.5 .6-1.2 .4-.8-1-.5-.4-1.2-.2-.6 .6-.7 .8-1.2 1.2-1.2-.7-.7-1.3-.2-2.2-.4-1.8-1.2 1.3-.3 .5-1.1 2.2-.5 2.3-.3 2.2 .1 2.2 .2 2.3-.4 2.2-.2 .4-.8-.4-.4-.4-.3-1.8-.4-2.3-.6-1.6-.5-.6-.7-.6-.8 .6-.5 .2-1.2 1.7-.8 .3 .1 2.3 .4 2.2 .3 1.2 .3 1.1-.1 2.2 1 1.9zM370.7 382.8v-3.2l.6 .8 .7 2.2v.1z"/>
<path fill="#00e0fb" d="M349.8 396.2h1.1l1.2 .1 1.3 .3 2.4 .4 1.3 .1 1.2-.1 1.3 .1 2.4 .2h3.8l1.2 .1h1.2l1.3 .2 1.2-.1h1.3l1.2 .1 1.2-.1 1.3-.1 1.2-.1 1.3 .1 1.2-.1h1.2l1.3-.1 1.2-.2h1.3l1.2-.1 1.2-.3 1.3-.3 .4-.1-.4-.4-1.3-1.1-1.2-.7-.5-.1-.7-.6-1.3-.2h-1.2l-1.3-.3-1.2-.3-1.2-.7-.4-.1-.9-1.5-1.2 .4h-1.3l-.7-1.2-.5-.6-1.2-1.4-1.3 1.1-.9 .9-.3 .9-1.2 1.4h-.1l-1.2 .3-1.2-.1-1.3 .1-.8-.3-.4-.7-1.3-1.6-1.2 .2-1.2 .8-.9 1.3-.4 .1-1.2-.1h-.2l-1.1-2.1-.2-.2-1-.4-.2 .4-.4 2.3-1.1 2.2-.8 1-1.2 .6z"/>
<path fill="#00c8ff" d="M353.6 396.2l1 .2 1.2 .2 1.3 .1 1.2-.1 1.3 .1 2.4 .2h2.5l1.3 .1h2.4l1.3 .2 1.2-.1h1.3l1.2 .1h1.2l1.3-.1 1.2-.1h2.5l1.2-.1 1.3-.1 1.2-.2h1.3l2.4-.4-1.2-.8-1.2-.4-1.3-.2-1.2-.2-1.3-.2-1.2-.2-1.2-.3h-.1l-1.2-.3-1.2-.1-1.3-.2-1.2 .1-1.2 .2-1.3 .3h-1.4l-1.1 .1-1.2 .1h-2.5l-1.2-.2-1.3-.5-1.2 .2-.5 .3-.7 .3-1.3 .2-1.2-.1-1.3 .1-1.2 .7z"/>
<path fill="#00acff" d="M356.1 396.2h1l1.2 .1h1.3l1.2 .2h1.2l1.3 .1h2.5l1.2 .1h1.2l1.3 .1h1.2l1.3-.1 1.2 .1h1.2l1.3-.1 1.2-.1 1.3 .1 2.4-.2 1.3-.1 1.2-.2h.8l-.8-.2-1.2-.4-1.3-.3-1.2-.3-1.2-.1-1.3-.1-1.2-.2-1.3-.1-1.2 .1-1.2 .2h-2.5l-1.3 .1-1.2 .1h-3.7l-1.3-.1-1.2 .3-1.2 .4-1.3 .2-1.2 .1z"/>
<path fill="#0090ff" d="M362.3 396.2h2.2l1.3 .1h2.4l1.3 .1h3.7l1.2 .1 1.3-.1 1.2-.1h2.5l1.2-.1-1.2-.3-1.2-.1-1.3-.1-1.2-.1-1.3-.2-1.2 .1-1.2 .2h-2.5l-1.3 .1-1.2 .1h-1.2l-1.3 .1-1.2 .1z"/>
</g>
</g>
<g id="cbar" shape-rendering="crispEdges">
<rect x="941.5" y="84" width="26" height="15" fill="#8d0000"/>
<rect x="941.5" y="98" width="26" height="15" fill="#a80000"/>
<rect x="941.5" y="112" width="26" height="14" fill="#c80000"/>
<rect x="941.5" y="125" width="26" height="15" fill="#e40000"/>
<rect x="941.5" y="139" width="26" height="15" fill="#ff1600"/>
<rect x="941.5" y="153" width="26" height="15" fill="#ff3000"/>
<rect x="941.5" y="167" width="26" height="15" fill="#ff4700"/>
<rect x="941.5" y="181" width="26" height="15" fill="#ff6000"/>
<rect x="941.5" y="195" width="26" height="14" fill="#ff7700"/>
<rect x="941.5" y="208" width="26" height="15" fill="#ff9100"/>
<rect x="941.5" y="222" width="26" height="15" fill="#ffa700"/>
<rect x="941.5" y="236" width="26" height="15" fill="#ffc100"/>
<rect x="941.5" y="250" width="26" height="15" fill="#ffdb00"/>
<rect x="941.5" y="264" width="26" height="14" fill="#fbf100"/>
<rect x="941.5" y="277" width="26" height="15" fill="#e4ff13"/>
<rect x="941.5" y="291" width="26" height="15" fill="#d1ff26"/>
<rect x="941.5" y="305" width="26" height="15" fill="#baff3c"/>
<rect x="941.5" y="319" width="26" height="15" fill="#a7ff50"/>
<rect x="941.5" y="333" width="26" height="15" fill="#90ff66"/>
<rect x="941.5" y="347" width="26" height="14" fill="#7dff7a"/>
<rect x="941.5" y="360" width="26" height="15" fill="#66ff90"/>
<rect x="941.5" y="374" width="26" height="15" fill="#50ffa7"/>
<rect x="941.5" y="388" width="26" height="15" fill="#3cffba"/>
<rect x="941.5" y="402" width="26" height="15" fill="#26ffd1"/>
<rect x="941.5" y="416" width="26" height="15" fill="#13fce4"/>
<rect x="941.5" y="430" width="26" height="14" fill="#00e0fb"/>
<rect x="941.5" y="443" width="26" height="15" fill="#00c8ff"/>
<rect x="941.5" y="457" width="26" height="15" fill="#00acff"/>
<rect x="941.5" y="471" width="26" height="15" fill="#0090ff"/>
<rect x="941.5" y="485" width="26" height="15" fill="#0078ff"/>
<rect x="941.5" y="499" width="26" height="14" fill="#005cff"/>
<rect x="941.5" y="512" width="26" height="15" fill="#0044ff"/>
<rect x="941.5" y="526" width="26" height="15" fill="#0028ff"/>
<rect x="941.5" y="540" width="26" height="15" fill="#0010ff"/>
<rect x="941.5" y="554" width="26" height="15" fill="#0000ff"/>
<rect x="941.5" y="568" width="26" height="15" fill="#0000e3"/>
<rect x="941.5" y="582" width="26" height="14" fill="#0000c8"/>
<rect x="941.5" y="595" width="26" height="15" fill="#0000a8"/>
<rect x="941.5" y="609" width="26" height="14" fill="#00008d"/>
</g>
<g stroke="#000" stroke-width="1.11" fill="none">
<path d="M212.5 624v4.5M336.5 624v4.5M460.5 624v4.5M584.5 624v4.5M708.5 624v4.5M832.5 624v4.5M150 129.5h-4.5M150 241.5h-4.5M150 354.5h-4.5M150 466.5h-4.5M150 578.5h-4.5M968 84.5h4.5M968 219.5h4.5M968 354.5h4.5M968 488.5h4.5M968 623.5h4.5"/>
<rect x="150.5" y="84.5" width="744" height="539"/>
<rect x="941.5" y="84.5" width="26" height="539"/>
</g>
<g fill="#000" font-family="'DejaVu Sans','Liberation Sans',sans-serif" font-size="27.78" letter-spacing="0">
<text x="212.75" y="654.58" text-anchor="middle">0</text>
<text x="335.75" y="654.58" text-anchor="middle">10</text>
<text x="459.75" y="654.58" text-anchor="middle">20</text>
<text x="583.12" y="654.7" text-anchor="middle">30</text>
<text x="707.88" y="654.58" text-anchor="middle">40</text>
<text x="830.88" y="654.58" text-anchor="middle">50</text>
<text x="140.4" y="139.55" text-anchor="end">10</text>
<text x="140.78" y="251.55" text-anchor="end">5</text>
<text x="140.78" y="363.55" text-anchor="end">0</text>
<text x="140.03" y="476.55" text-anchor="end">−5</text>
<text x="140.65" y="588.55" text-anchor="end">−10</text>
</g>
<g fill="#000" font-family="'DejaVu Sans','Liberation Sans',sans-serif" font-size="20.83" letter-spacing="0">
<text x="976.17" y="91.92">15.14</text>
<text x="977.17" y="226.92">7.57</text>
<text x="977.17" y="361.92">0.00</text>
<text x="976.17" y="495.92">−7.57</text>
<text x="976.17" y="630.92">−15.14</text>
</g>
<g fill="#000" font-family="'DejaVu Sans Mono','Liberation Mono',monospace" font-size="27.78" letter-spacing="0.03">
<text x="522.5" y="75.67" text-anchor="middle" letter-spacing="0.03">by_averaged at 390.091869 fs</text>
<text transform="translate(1080.58 354.62) rotate(-90)" text-anchor="middle" letter-spacing="0.03">Normalized magnetic field</text>
<text transform="translate(468.54 690.73)"><tspan x="0" y="-1.11">X [</tspan><tspan x="50.42" y="-1.11" font-family="'DejaVu Sans','Liberation Sans',sans-serif" font-style="italic">μ</tspan><tspan x="67.59" y="-1.11" font-family="'DejaVu Sans','Liberation Sans',sans-serif" font-style="italic">m</tspan><tspan x="94.4" y="-1.11">]</tspan></text>
<text transform="translate(67.64 407.46) rotate(-90)"><tspan x="0" y="-1.11">Z [</tspan><tspan x="50.42" y="-1.11" font-family="'DejaVu Sans','Liberation Sans',sans-serif" font-style="italic">μ</tspan><tspan x="67.59" y="-1.11" font-family="'DejaVu Sans','Liberation Sans',sans-serif" font-style="italic">m</tspan><tspan x="94.4" y="-1.11">]</tspan></text>
</g>
</svg>
</body></html>
